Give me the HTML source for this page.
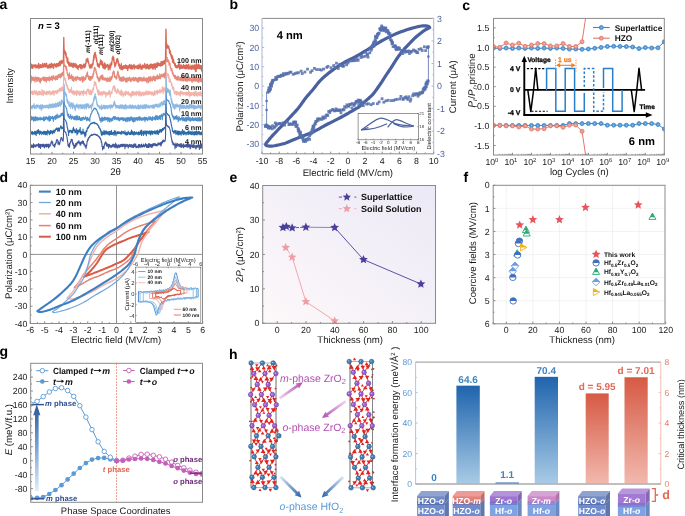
<!DOCTYPE html>
<html><head><meta charset="utf-8"><style>
html,body{margin:0;padding:0;background:#fff;width:685px;height:516px;overflow:hidden}
svg{display:block;font-family:"Liberation Sans", sans-serif;text-rendering:geometricPrecision;will-change:transform}
</style></head><body>
<svg width="685" height="516" viewBox="0 0 685 516" font-family='"Liberation Sans", sans-serif'>
<rect width="685" height="516" fill="#fff"/>
<text x="-0.50" y="9.30" font-size="14" text-anchor="start" fill="#000" font-weight="bold">a</text>
<polyline points="30.50,145.62 30.63,144.58 30.76,143.99 30.89,145.55 31.02,145.15 31.14,146.54 31.27,147.11 31.40,145.84 31.53,145.67 31.66,145.36 31.79,146.00 31.92,147.50 32.05,145.20 32.18,145.76 32.31,145.99 32.43,145.98 32.56,147.11 32.69,146.40 32.82,145.67 32.95,145.88 33.08,145.55 33.21,146.02 33.34,143.78 33.47,147.61 33.60,145.89 33.72,144.01 33.85,145.67 33.98,146.33 34.11,145.70 34.24,145.26 34.37,145.32 34.50,145.99 34.63,144.97 34.76,146.22 34.89,146.87 35.01,146.17 35.14,145.67 35.27,144.97 35.40,146.97 35.53,145.11 35.66,146.40 35.79,146.40 35.92,145.34 36.05,145.58 36.18,146.26 36.30,146.00 36.43,145.80 36.56,144.66 36.69,145.70 36.82,144.84 36.95,145.53 37.08,145.77 37.21,145.01 37.34,145.77 37.47,145.25 37.60,144.86 37.72,145.02 37.85,144.66 37.98,144.82 38.11,144.81 38.24,146.18 38.37,143.97 38.50,143.50 38.63,147.28 38.76,145.55 38.89,147.26 39.01,145.53 39.14,145.28 39.27,144.51 39.40,146.47 39.53,144.22 39.66,145.60 39.79,147.56 39.92,144.64 40.05,147.29 40.18,145.51 40.30,144.96 40.43,144.29 40.56,148.40 40.69,146.93 40.82,146.49 40.95,147.10 41.08,145.26 41.21,145.21 41.34,145.72 41.47,144.64 41.59,145.02 41.72,144.52 41.85,144.74 41.98,144.94 42.11,144.79 42.24,146.36 42.37,146.38 42.50,144.50 42.63,144.32 42.76,144.78 42.88,143.94 43.01,146.21 43.14,146.28 43.27,146.94 43.40,146.40 43.53,144.71 43.66,145.14 43.79,144.69 43.92,144.32 44.05,144.42 44.17,145.59 44.30,145.92 44.43,145.73 44.56,147.83 44.69,145.70 44.82,145.16 44.95,146.32 45.08,145.01 45.21,144.73 45.34,145.76 45.46,146.05 45.59,146.46 45.72,144.20 45.85,144.52 45.98,145.02 46.11,144.58 46.24,145.97 46.37,147.18 46.50,145.66 46.63,145.36 46.75,144.56 46.88,144.18 47.01,146.12 47.14,144.75 47.27,146.34 47.40,144.76 47.53,145.59 47.66,144.86 47.79,144.63 47.92,145.62 48.04,143.93 48.17,146.71 48.30,145.33 48.43,145.72 48.56,147.85 48.69,146.12 48.82,145.22 48.95,144.40 49.08,145.79 49.21,144.29 49.33,144.79 49.46,145.90 49.59,146.47 49.72,146.82 49.85,145.82 49.98,145.37 50.11,145.65 50.24,145.19 50.37,145.01 50.50,144.91 50.62,145.21 50.75,144.65 50.88,142.40 51.01,142.80 51.14,143.19 51.27,141.93 51.40,142.45 51.53,143.04 51.66,143.00 51.79,140.89 51.91,141.73 52.04,143.05 52.17,141.52 52.30,143.24 52.43,143.29 52.56,142.71 52.69,142.16 52.82,144.86 52.95,145.01 53.08,145.49 53.20,144.75 53.33,145.06 53.46,145.43 53.59,145.44 53.72,145.41 53.85,145.72 53.98,145.88 54.11,146.31 54.24,147.13 54.37,145.61 54.49,144.29 54.62,145.92 54.75,144.12 54.88,146.65 55.01,144.31 55.14,144.13 55.27,144.39 55.40,144.81 55.53,143.39 55.66,143.98 55.78,143.43 55.91,143.08 56.04,141.78 56.17,141.78 56.30,142.64 56.43,140.46 56.56,140.19 56.69,139.96 56.82,139.61 56.95,139.38 57.07,139.83 57.20,139.57 57.33,139.78 57.46,140.31 57.59,140.22 57.72,140.15 57.85,141.54 57.98,144.25 58.11,141.70 58.24,141.94 58.36,141.55 58.49,142.94 58.62,143.45 58.75,142.08 58.88,142.71 59.01,142.87 59.14,143.58 59.27,144.92 59.40,143.92 59.53,142.89 59.65,143.26 59.78,144.00 59.91,142.54 60.04,142.31 60.17,141.64 60.30,140.13 60.43,140.07 60.56,140.68 60.69,139.42 60.82,139.07 60.94,138.44 61.07,137.84 61.20,137.44 61.33,137.35 61.46,138.64 61.59,138.51 61.72,137.74 61.85,138.62 61.98,138.38 62.11,138.85 62.23,139.36 62.36,140.65 62.49,139.71 62.62,140.83 62.75,140.47 62.88,140.77 63.01,140.68 63.14,141.06 63.27,139.51 63.40,137.94 63.52,132.78 63.65,125.51 63.78,119.56 63.91,120.30 64.04,125.00 64.17,129.17 64.30,130.66 64.43,131.07 64.56,131.01 64.69,131.34 64.81,131.54 64.94,131.82 65.07,131.60 65.20,131.65 65.33,132.14 65.46,132.11 65.59,132.59 65.72,132.26 65.85,132.92 65.98,133.11 66.10,134.29 66.23,134.26 66.36,134.37 66.49,134.45 66.62,135.41 66.75,135.70 66.88,136.56 67.01,137.13 67.14,138.58 67.27,139.50 67.39,139.86 67.52,141.69 67.65,141.54 67.78,142.29 67.91,144.26 68.04,145.72 68.17,144.32 68.30,144.64 68.43,146.15 68.56,145.04 68.68,146.42 68.81,145.05 68.94,146.20 69.07,146.07 69.20,146.25 69.33,147.42 69.46,143.40 69.59,146.28 69.72,145.78 69.85,143.03 69.97,144.16 70.10,142.59 70.23,142.46 70.36,142.36 70.49,141.72 70.62,142.76 70.75,141.12 70.88,141.05 71.01,140.83 71.14,139.37 71.26,140.82 71.39,140.97 71.52,139.93 71.65,139.43 71.78,140.54 71.91,140.37 72.04,140.61 72.17,140.85 72.30,139.51 72.43,142.73 72.55,143.48 72.68,142.61 72.81,142.94 72.94,144.74 73.07,143.69 73.20,144.88 73.33,143.02 73.46,145.39 73.59,144.36 73.72,144.92 73.84,144.97 73.97,148.60 74.10,147.02 74.23,146.45 74.36,146.85 74.49,145.79 74.62,145.25 74.75,147.61 74.88,147.69 75.01,146.10 75.13,146.91 75.26,145.44 75.39,146.69 75.52,144.86 75.65,143.45 75.78,144.24 75.91,146.47 76.04,145.07 76.17,144.68 76.30,143.17 76.42,144.47 76.55,144.14 76.68,143.05 76.81,143.20 76.94,144.86 77.07,143.57 77.20,143.28 77.33,143.34 77.46,142.89 77.59,142.08 77.71,142.53 77.84,142.28 77.97,143.08 78.10,142.28 78.23,141.08 78.36,142.38 78.49,142.20 78.62,142.34 78.75,142.93 78.88,141.89 79.00,140.78 79.13,142.32 79.26,142.62 79.39,143.02 79.52,142.20 79.65,143.82 79.78,143.05 79.91,143.07 80.04,143.04 80.17,145.15 80.29,143.38 80.42,142.28 80.55,143.15 80.68,144.96 80.81,145.02 80.94,142.39 81.07,143.07 81.20,142.56 81.33,142.77 81.46,141.80 81.58,143.02 81.71,143.18 81.84,142.88 81.97,142.43 82.10,142.59 82.23,141.57 82.36,140.81 82.49,143.23 82.62,141.72 82.75,142.27 82.87,141.38 83.00,142.67 83.13,143.45 83.26,143.23 83.39,143.35 83.52,141.23 83.65,143.30 83.78,144.32 83.91,144.98 84.04,143.92 84.16,143.42 84.29,143.80 84.42,144.43 84.55,144.79 84.68,144.84 84.81,144.36 84.94,144.89 85.07,146.68 85.20,145.75 85.33,146.62 85.45,146.20 85.58,147.20 85.71,145.76 85.84,147.73 85.97,147.78 86.10,148.56 86.23,146.56 86.36,145.14 86.49,145.59 86.62,145.95 86.74,145.38 86.87,143.93 87.00,142.63 87.13,141.13 87.26,142.01 87.39,141.24 87.52,140.08 87.65,139.31 87.78,140.78 87.91,139.94 88.03,140.29 88.16,139.28 88.29,140.04 88.42,138.27 88.55,138.45 88.68,137.57 88.81,137.71 88.94,137.67 89.07,137.57 89.20,137.47 89.32,137.00 89.45,136.55 89.58,137.67 89.71,136.66 89.84,136.58 89.97,136.33 90.10,136.40 90.23,136.03 90.36,135.39 90.49,135.44 90.61,135.55 90.74,135.63 90.87,135.76 91.00,135.69 91.13,135.04 91.26,135.38 91.39,135.44 91.52,135.02 91.65,134.39 91.78,134.85 91.90,135.16 92.03,135.41 92.16,135.20 92.29,135.27 92.42,134.73 92.55,135.02 92.68,134.90 92.81,134.83 92.94,134.75 93.07,134.46 93.19,135.00 93.32,134.37 93.45,134.52 93.58,134.33 93.71,134.20 93.84,134.54 93.97,134.35 94.10,134.55 94.23,134.20 94.36,133.99 94.48,134.50 94.61,134.25 94.74,134.51 94.87,134.59 95.00,134.47 95.13,134.99 95.26,134.86 95.39,134.76 95.52,134.39 95.65,134.41 95.77,134.17 95.90,134.75 96.03,134.54 96.16,134.84 96.29,134.72 96.42,135.02 96.55,135.34 96.68,135.19 96.81,134.80 96.94,135.43 97.06,134.96 97.19,134.85 97.32,135.57 97.45,135.53 97.58,135.46 97.71,135.15 97.84,136.01 97.97,135.74 98.10,136.03 98.23,136.10 98.35,135.98 98.48,136.11 98.61,136.86 98.74,136.44 98.87,136.33 99.00,136.23 99.13,137.07 99.26,136.81 99.39,137.51 99.52,137.32 99.64,137.02 99.77,137.25 99.90,138.51 100.03,138.26 100.16,138.43 100.29,138.42 100.42,138.23 100.55,139.07 100.68,139.22 100.81,139.59 100.93,140.19 101.06,139.69 101.19,141.14 101.32,142.32 101.45,141.61 101.58,141.57 101.71,142.54 101.84,144.55 101.97,143.88 102.10,146.82 102.22,146.67 102.35,146.27 102.48,147.45 102.61,149.86 102.74,148.98 102.87,148.56 103.00,148.55 103.13,146.59 103.26,147.94 103.39,148.02 103.51,146.41 103.64,146.92 103.77,147.11 103.90,145.80 104.03,148.58 104.16,145.86 104.29,146.31 104.42,144.65 104.55,143.79 104.68,144.52 104.80,144.65 104.93,142.88 105.06,144.08 105.19,143.44 105.32,143.31 105.45,143.43 105.58,143.26 105.71,141.92 105.84,142.85 105.97,143.43 106.09,143.98 106.22,143.02 106.35,142.73 106.48,145.81 106.61,144.43 106.74,144.05 106.87,146.16 107.00,143.76 107.13,145.14 107.26,144.35 107.38,144.09 107.51,146.05 107.64,146.11 107.77,144.99 107.90,146.27 108.03,146.52 108.16,144.82 108.29,146.52 108.42,144.36 108.55,148.14 108.67,145.38 108.80,144.29 108.93,144.66 109.06,146.51 109.19,146.50 109.32,145.85 109.45,145.28 109.58,144.42 109.71,146.65 109.84,145.93 109.96,145.38 110.09,145.87 110.22,145.69 110.35,146.02 110.48,146.19 110.61,146.17 110.74,147.35 110.87,145.61 111.00,145.73 111.13,147.79 111.25,146.19 111.38,145.85 111.51,145.54 111.64,146.64 111.77,145.24 111.90,145.56 112.03,146.56 112.16,146.30 112.29,146.25 112.42,146.78 112.54,145.58 112.67,144.25 112.80,144.84 112.93,145.95 113.06,146.26 113.19,145.48 113.32,145.51 113.45,146.32 113.58,146.32 113.71,145.80 113.83,144.12 113.96,145.13 114.09,147.31 114.22,144.70 114.35,144.76 114.48,147.17 114.61,146.01 114.74,145.74 114.87,144.68 115.00,146.06 115.12,145.16 115.25,146.04 115.38,146.88 115.51,145.20 115.64,143.02 115.77,144.77 115.90,144.94 116.03,147.90 116.16,144.42 116.29,144.69 116.41,146.69 116.54,145.57 116.67,147.06 116.80,147.15 116.93,145.22 117.06,144.91 117.19,147.06 117.32,146.21 117.45,146.94 117.58,147.89 117.70,147.32 117.83,146.08 117.96,147.12 118.09,145.53 118.22,146.20 118.35,147.04 118.48,146.81 118.61,144.82 118.74,144.73 118.87,145.94 118.99,145.91 119.12,147.69 119.25,146.24 119.38,145.75 119.51,145.62 119.64,145.48 119.77,145.95 119.90,147.04 120.03,145.75 120.16,145.61 120.28,144.43 120.41,146.54 120.54,145.42 120.67,145.52 120.80,146.65 120.93,144.81 121.06,146.33 121.19,144.66 121.32,145.46 121.45,144.49 121.57,144.41 121.70,145.03 121.83,145.41 121.96,146.47 122.09,144.98 122.22,144.61 122.35,145.84 122.48,145.06 122.61,146.40 122.74,144.99 122.86,146.62 122.99,144.11 123.12,145.17 123.25,146.55 123.38,145.07 123.51,145.02 123.64,145.26 123.77,144.30 123.90,145.69 124.03,145.33 124.15,145.33 124.28,145.92 124.41,144.29 124.54,145.05 124.67,144.91 124.80,145.56 124.93,148.82 125.06,144.70 125.19,146.30 125.32,146.94 125.44,145.11 125.57,146.30 125.70,146.12 125.83,145.41 125.96,146.49 126.09,144.04 126.22,146.70 126.35,145.97 126.48,145.55 126.61,146.07 126.73,145.42 126.86,145.86 126.99,146.01 127.12,145.18 127.25,144.93 127.38,145.28 127.51,146.05 127.64,144.62 127.77,146.59 127.90,145.90 128.02,145.80 128.15,145.51 128.28,148.00 128.41,145.07 128.54,146.56 128.67,145.88 128.80,146.64 128.93,146.45 129.06,145.30 129.19,146.68 129.31,144.89 129.44,145.69 129.57,145.88 129.70,144.31 129.83,146.11 129.96,145.45 130.09,146.12 130.22,146.24 130.35,144.78 130.48,145.67 130.60,146.39 130.73,146.85 130.86,146.40 130.99,145.84 131.12,146.07 131.25,144.77 131.38,147.06 131.51,145.88 131.64,145.41 131.77,146.04 131.89,144.54 132.02,146.73 132.15,146.90 132.28,147.34 132.41,146.59 132.54,146.33 132.67,146.08 132.80,146.44 132.93,145.98 133.06,145.30 133.18,145.20 133.31,146.54 133.44,147.68 133.57,144.88 133.70,144.34 133.83,144.93 133.96,145.83 134.09,144.41 134.22,146.30 134.35,144.39 134.47,145.69 134.60,146.38 134.73,143.68 134.86,146.74 134.99,145.63 135.12,146.51 135.25,146.58 135.38,146.92 135.51,144.29 135.64,145.82 135.76,144.12 135.89,146.34 136.02,146.33 136.15,147.80 136.28,146.44 136.41,146.23 136.54,147.66 136.67,147.03 136.80,146.76 136.93,146.85 137.05,146.51 137.18,146.55 137.31,146.04 137.44,146.87 137.57,147.33 137.70,146.83 137.83,147.02 137.96,146.27 138.09,146.02 138.22,146.90 138.34,145.48 138.47,144.62 138.60,146.02 138.73,147.83 138.86,146.83 138.99,144.50 139.12,145.73 139.25,145.99 139.38,145.27 139.51,144.59 139.63,147.02 139.76,145.79 139.89,146.70 140.02,145.99 140.15,145.37 140.28,145.95 140.41,145.80 140.54,145.11 140.67,147.26 140.80,146.18 140.92,146.45 141.05,146.13 141.18,144.69 141.31,146.47 141.44,144.16 141.57,146.83 141.70,145.35 141.83,145.63 141.96,145.79 142.09,146.12 142.21,145.37 142.34,147.00 142.47,145.12 142.60,146.18 142.73,146.89 142.86,145.61 142.99,146.13 143.12,145.82 143.25,146.24 143.38,145.64 143.50,146.49 143.63,144.14 143.76,145.72 143.89,145.89 144.02,145.10 144.15,145.06 144.28,146.08 144.41,146.84 144.54,146.79 144.67,145.81 144.79,146.41 144.92,146.16 145.05,145.26 145.18,144.66 145.31,145.00 145.44,145.76 145.57,143.57 145.70,144.79 145.83,144.35 145.96,145.81 146.08,145.94 146.21,144.49 146.34,144.86 146.47,147.18 146.60,146.19 146.73,144.83 146.86,147.38 146.99,144.78 147.12,146.12 147.25,146.10 147.37,145.37 147.50,146.35 147.63,147.06 147.76,146.29 147.89,147.50 148.02,145.15 148.15,145.01 148.28,144.29 148.41,143.84 148.54,147.45 148.66,143.67 148.79,144.91 148.92,145.52 149.05,144.60 149.18,144.51 149.31,145.66 149.44,144.76 149.57,143.89 149.70,144.92 149.83,147.23 149.95,144.59 150.08,145.91 150.21,144.74 150.34,146.45 150.47,144.49 150.60,146.35 150.73,145.69 150.86,144.29 150.99,145.99 151.12,146.98 151.24,145.74 151.37,147.05 151.50,145.72 151.63,146.48 151.76,144.43 151.89,147.45 152.02,145.00 152.15,145.65 152.28,143.94 152.41,145.82 152.53,146.66 152.66,144.72 152.79,146.20 152.92,145.03 153.05,145.02 153.18,144.84 153.31,143.46 153.44,145.60 153.57,145.19 153.70,145.06 153.82,144.82 153.95,145.38 154.08,144.45 154.21,144.74 154.34,143.78 154.47,145.28 154.60,145.12 154.73,143.60 154.86,143.42 154.99,144.39 155.11,144.23 155.24,144.59 155.37,143.81 155.50,145.22 155.63,145.77 155.76,145.07 155.89,145.79 156.02,145.34 156.15,144.30 156.28,144.48 156.40,145.21 156.53,145.72 156.66,145.00 156.79,145.09 156.92,145.00 157.05,145.04 157.18,145.97 157.31,144.26 157.44,144.05 157.57,144.29 157.69,144.07 157.82,143.58 157.95,144.67 158.08,142.75 158.21,144.68 158.34,143.38 158.47,144.05 158.60,143.63 158.73,144.98 158.86,143.30 158.98,143.22 159.11,143.54 159.24,143.54 159.37,143.01 159.50,143.57 159.63,143.53 159.76,144.04 159.89,143.89 160.02,144.99 160.15,144.92 160.27,144.08 160.40,144.45 160.53,142.61 160.66,144.15 160.79,145.70 160.92,145.93 161.05,142.56 161.18,142.57 161.31,145.08 161.44,143.06 161.56,143.46 161.69,143.84 161.82,142.69 161.95,141.36 162.08,141.84 162.21,142.41 162.34,141.04 162.47,142.97 162.60,140.68 162.73,141.35 162.85,141.67 162.98,140.65 163.11,141.01 163.24,139.75 163.37,141.70 163.50,141.31 163.63,140.96 163.76,141.36 163.89,141.20 164.02,141.58 164.14,141.40 164.27,141.73 164.40,140.62 164.53,140.87 164.66,141.00 164.79,141.24 164.92,140.84 165.05,141.00 165.18,140.67 165.31,139.65 165.43,139.11 165.56,135.10 165.69,127.55 165.82,118.82 165.95,114.43 166.08,116.70 166.21,121.07 166.34,123.69 166.47,124.81 166.60,124.99 166.72,125.32 166.85,125.54 166.98,125.29 167.11,125.61 167.24,125.73 167.37,125.86 167.50,125.94 167.63,126.24 167.76,126.15 167.89,126.71 168.01,126.47 168.14,126.75 168.27,126.96 168.40,127.12 168.53,126.55 168.66,126.41 168.79,126.74 168.92,126.92 169.05,127.22 169.18,127.37 169.30,127.63 169.43,128.15 169.56,128.37 169.69,128.75 169.82,129.00 169.95,129.56 170.08,130.07 170.21,130.70 170.34,131.80 170.47,132.26 170.59,133.31 170.72,134.34 170.85,134.74 170.98,135.45 171.11,136.61 171.24,137.22 171.37,137.99 171.50,137.95 171.63,138.87 171.76,140.21 171.88,140.44 172.01,141.65 172.14,142.36 172.27,141.24 172.40,141.15 172.53,142.11 172.66,142.57 172.79,144.13 172.92,144.36 173.05,143.09 173.17,143.09 173.30,142.72 173.43,144.44 173.56,144.27 173.69,144.00 173.82,145.10 173.95,143.46 174.08,144.76 174.21,144.03 174.34,144.69 174.46,144.00 174.59,144.15 174.72,144.52 174.85,144.99 174.98,148.71 175.11,145.66 175.24,144.61 175.37,144.60 175.50,145.24 175.63,145.45 175.75,146.88 175.88,143.08 176.01,145.17 176.14,146.76 176.27,147.46 176.40,145.92 176.53,145.47 176.66,144.29 176.79,144.49 176.92,144.73 177.04,145.39 177.17,143.95 177.30,143.60 177.43,145.82 177.56,145.38 177.69,146.12 177.82,145.94 177.95,144.26 178.08,144.36 178.21,145.15 178.33,144.70 178.46,145.46 178.59,144.35 178.72,145.14 178.85,145.45 178.98,146.21 179.11,145.56 179.24,144.12 179.37,145.78 179.50,145.52 179.62,145.97 179.75,146.66 179.88,146.13 180.01,146.29 180.14,146.26 180.27,145.37 180.40,144.33 180.53,145.36 180.66,145.46 180.79,143.66 180.91,147.12 181.04,144.82 181.17,147.49 181.30,143.62 181.43,144.97 181.56,146.71 181.69,146.43 181.82,144.85 181.95,145.76 182.08,145.20 182.20,146.90 182.33,145.94 182.46,146.21 182.59,145.26 182.72,145.38 182.85,145.09 182.98,145.87 183.11,144.86 183.24,143.80 183.37,146.34 183.49,147.74 183.62,145.80 183.75,146.26 183.88,146.07 184.01,144.63 184.14,145.11 184.27,146.65 184.40,145.44 184.53,146.26 184.66,146.83 184.78,146.45 184.91,145.65 185.04,145.90 185.17,145.86 185.30,146.36 185.43,145.16 185.56,146.35 185.69,145.40 185.82,145.21 185.95,146.61 186.07,144.18 186.20,146.20 186.33,146.03 186.46,146.69 186.59,145.52 186.72,144.24 186.85,146.26 186.98,144.24 187.11,146.60 187.24,147.42 187.36,145.01 187.49,145.13 187.62,146.65 187.75,144.06 187.88,144.88 188.01,145.28 188.14,146.22 188.27,145.93 188.40,145.24 188.53,144.47 188.65,146.70 188.78,143.81 188.91,147.20 189.04,145.00 189.17,144.30 189.30,146.72 189.43,145.96 189.56,144.73 189.69,146.31 189.82,145.36 189.94,146.54 190.07,145.79 190.20,148.69 190.33,148.36 190.46,144.83 190.59,148.58 190.72,145.44 190.85,145.34 190.98,144.92 191.11,144.75 191.23,145.19 191.36,145.84 191.49,145.14 191.62,145.28 191.75,146.82 191.88,144.68 192.01,145.79 192.14,146.93 192.27,145.37 192.40,146.45 192.52,145.91 192.65,147.43 192.78,145.70 192.91,145.56 193.04,144.81 193.17,146.24 193.30,145.82 193.43,146.81 193.56,145.18 193.69,147.64 193.81,143.97 193.94,146.44 194.07,145.58 194.20,146.21 194.33,146.63 194.46,145.70 194.59,145.98 194.72,145.71 194.85,146.20 194.98,145.78 195.10,146.31 195.23,147.82 195.36,145.93 195.49,146.41 195.62,145.76 195.75,147.89 195.88,149.01 196.01,145.53 196.14,147.60 196.27,148.54 196.39,145.79 196.52,146.98 196.65,145.75 196.78,145.34 196.91,145.22 197.04,147.00 197.17,146.31 197.30,147.28 197.43,145.64 197.56,146.88 197.68,145.10 197.81,145.40 197.94,146.47 198.07,146.84 198.20,146.84 198.33,146.11 198.46,145.97 198.59,144.43 198.72,145.50 198.85,147.04 198.97,147.17 199.10,146.49 199.23,145.78 199.36,149.34 199.49,145.39 199.62,146.65 199.75,145.48 199.88,145.46 200.01,147.29 200.14,144.78 200.26,148.46 200.39,147.05 200.52,144.59 200.65,145.75 200.78,147.47 200.91,146.11 201.04,144.27 201.17,146.58 201.30,144.32 201.43,147.12 201.55,147.93 201.68,145.70 201.81,146.63 201.94,144.15 202.07,144.80 202.20,147.13 202.33,148.01 202.46,145.88" fill="none" stroke="#43579b" stroke-width="1.1" stroke-linejoin="round" stroke-linecap="round"/>
<polyline points="30.50,131.66 30.63,130.25 30.76,132.84 30.89,133.59 31.02,132.60 31.14,132.39 31.27,133.37 31.40,133.29 31.53,133.97 31.66,133.43 31.79,132.98 31.92,133.98 32.05,131.50 32.18,132.19 32.31,133.36 32.43,131.50 32.56,133.47 32.69,132.71 32.82,133.08 32.95,134.71 33.08,132.54 33.21,133.26 33.34,132.69 33.47,133.23 33.60,133.16 33.72,132.98 33.85,132.43 33.98,132.71 34.11,134.01 34.24,132.89 34.37,131.32 34.50,132.92 34.63,132.38 34.76,133.63 34.89,131.84 35.01,133.07 35.14,134.50 35.27,132.17 35.40,132.95 35.53,131.60 35.66,132.39 35.79,131.20 35.92,132.25 36.05,132.70 36.18,135.48 36.30,133.21 36.43,133.60 36.56,132.73 36.69,132.42 36.82,131.46 36.95,132.62 37.08,132.02 37.21,130.24 37.34,133.08 37.47,132.26 37.60,132.51 37.72,132.25 37.85,132.89 37.98,133.59 38.11,132.78 38.24,131.90 38.37,129.64 38.50,131.62 38.63,130.84 38.76,132.64 38.89,131.01 39.01,131.05 39.14,132.91 39.27,131.79 39.40,132.97 39.53,131.71 39.66,134.75 39.79,134.07 39.92,130.95 40.05,132.04 40.18,132.35 40.30,132.60 40.43,133.57 40.56,132.06 40.69,132.50 40.82,131.18 40.95,131.47 41.08,131.64 41.21,132.35 41.34,132.43 41.47,132.28 41.59,132.71 41.72,133.13 41.85,134.72 41.98,132.29 42.11,132.40 42.24,133.36 42.37,133.38 42.50,132.74 42.63,132.23 42.76,133.49 42.88,132.30 43.01,132.27 43.14,131.50 43.27,132.17 43.40,131.46 43.53,131.59 43.66,132.46 43.79,134.38 43.92,131.34 44.05,131.76 44.17,132.57 44.30,133.06 44.43,132.23 44.56,132.89 44.69,133.81 44.82,131.36 44.95,132.46 45.08,131.44 45.21,133.67 45.34,132.72 45.46,134.62 45.59,133.21 45.72,133.52 45.85,132.52 45.98,131.60 46.11,133.25 46.24,133.12 46.37,134.26 46.50,134.05 46.63,131.85 46.75,131.92 46.88,131.54 47.01,131.36 47.14,134.96 47.27,131.82 47.40,132.21 47.53,131.81 47.66,132.69 47.79,130.17 47.92,131.52 48.04,132.11 48.17,132.84 48.30,131.99 48.43,132.93 48.56,133.01 48.69,132.00 48.82,131.26 48.95,131.56 49.08,133.14 49.21,133.59 49.33,134.62 49.46,132.54 49.59,131.77 49.72,132.70 49.85,132.37 49.98,131.80 50.11,133.84 50.24,131.83 50.37,130.65 50.50,132.15 50.62,131.06 50.75,133.37 50.88,130.55 51.01,130.68 51.14,131.70 51.27,132.04 51.40,132.00 51.53,132.22 51.66,132.58 51.79,131.38 51.91,133.00 52.04,132.26 52.17,130.83 52.30,132.45 52.43,131.37 52.56,133.69 52.69,133.89 52.82,131.23 52.95,132.20 53.08,132.57 53.20,132.32 53.33,130.89 53.46,132.18 53.59,132.45 53.72,131.55 53.85,130.16 53.98,132.28 54.11,131.29 54.24,132.86 54.37,131.77 54.49,130.77 54.62,132.10 54.75,131.07 54.88,131.37 55.01,130.43 55.14,130.44 55.27,129.35 55.40,130.86 55.53,129.40 55.66,129.66 55.78,129.65 55.91,128.82 56.04,129.38 56.17,129.21 56.30,129.29 56.43,128.01 56.56,129.25 56.69,127.94 56.82,128.94 56.95,129.55 57.07,128.04 57.20,128.72 57.33,129.17 57.46,131.08 57.59,129.57 57.72,130.03 57.85,128.98 57.98,129.71 58.11,128.99 58.24,128.29 58.36,129.87 58.49,130.94 58.62,129.10 58.75,127.81 58.88,129.53 59.01,130.57 59.14,129.74 59.27,130.86 59.40,131.31 59.53,130.10 59.65,128.63 59.78,129.31 59.91,128.61 60.04,127.93 60.17,127.98 60.30,127.49 60.43,127.74 60.56,126.24 60.69,127.02 60.82,125.79 60.94,126.42 61.07,126.82 61.20,126.37 61.33,126.68 61.46,127.84 61.59,127.27 61.72,128.97 61.85,127.89 61.98,127.73 62.11,128.40 62.23,127.63 62.36,128.26 62.49,127.92 62.62,128.37 62.75,127.81 62.88,127.48 63.01,127.65 63.14,128.01 63.27,126.81 63.40,124.77 63.52,118.76 63.65,109.23 63.78,101.70 63.91,102.83 64.04,110.03 64.17,116.08 64.30,118.60 64.43,119.36 64.56,119.47 64.69,119.49 64.81,119.67 64.94,119.70 65.07,119.70 65.20,119.70 65.33,120.18 65.46,120.04 65.59,120.45 65.72,120.65 65.85,120.82 65.98,120.95 66.10,121.64 66.23,122.06 66.36,122.76 66.49,122.13 66.62,123.06 66.75,123.61 66.88,124.79 67.01,124.90 67.14,126.29 67.27,127.53 67.39,127.96 67.52,127.69 67.65,129.20 67.78,129.49 67.91,129.02 68.04,131.35 68.17,130.75 68.30,130.71 68.43,132.58 68.56,135.38 68.68,132.30 68.81,132.45 68.94,131.24 69.07,132.75 69.20,131.78 69.33,132.29 69.46,130.91 69.59,130.36 69.72,131.36 69.85,130.51 69.97,131.13 70.10,131.18 70.23,130.40 70.36,130.36 70.49,131.08 70.62,130.68 70.75,130.84 70.88,130.38 71.01,132.50 71.14,131.03 71.26,132.42 71.39,132.22 71.52,131.22 71.65,130.79 71.78,132.80 71.91,131.32 72.04,130.46 72.17,132.88 72.30,131.46 72.43,131.20 72.55,131.56 72.68,130.14 72.81,132.61 72.94,128.67 73.07,130.54 73.20,130.84 73.33,129.10 73.46,127.26 73.59,128.47 73.72,129.89 73.84,129.21 73.97,130.78 74.10,129.83 74.23,130.08 74.36,129.39 74.49,130.73 74.62,131.34 74.75,129.92 74.88,129.99 75.01,132.68 75.13,131.73 75.26,130.90 75.39,131.88 75.52,132.61 75.65,132.35 75.78,131.15 75.91,131.07 76.04,131.67 76.17,130.58 76.30,128.64 76.42,131.59 76.55,132.18 76.68,132.40 76.81,131.68 76.94,134.91 77.07,131.77 77.20,132.13 77.33,130.13 77.46,132.55 77.59,130.46 77.71,133.69 77.84,132.91 77.97,133.49 78.10,130.64 78.23,131.85 78.36,132.02 78.49,131.08 78.62,131.15 78.75,131.47 78.88,132.02 79.00,130.05 79.13,129.76 79.26,131.63 79.39,131.54 79.52,130.35 79.65,130.64 79.78,130.92 79.91,131.94 80.04,129.65 80.17,127.45 80.29,132.79 80.42,131.71 80.55,131.55 80.68,131.06 80.81,130.98 80.94,131.59 81.07,134.39 81.20,133.33 81.33,131.66 81.46,133.38 81.58,132.05 81.71,132.59 81.84,132.36 81.97,131.78 82.10,134.01 82.23,133.01 82.36,133.66 82.49,131.49 82.62,133.46 82.75,132.72 82.87,132.94 83.00,129.06 83.13,133.15 83.26,133.19 83.39,132.23 83.52,131.84 83.65,131.81 83.78,132.70 83.91,133.87 84.04,132.18 84.16,134.00 84.29,132.35 84.42,133.72 84.55,135.22 84.68,135.34 84.81,132.62 84.94,132.28 85.07,136.91 85.20,134.61 85.33,134.41 85.45,135.05 85.58,134.03 85.71,135.60 85.84,134.27 85.97,134.55 86.10,130.69 86.23,132.12 86.36,130.56 86.49,131.42 86.62,131.45 86.74,131.73 86.87,131.66 87.00,130.03 87.13,129.42 87.26,128.29 87.39,128.01 87.52,128.87 87.65,127.72 87.78,127.79 87.91,126.98 88.03,128.41 88.16,127.16 88.29,127.32 88.42,126.99 88.55,126.61 88.68,127.75 88.81,126.62 88.94,126.42 89.07,125.84 89.20,125.33 89.32,125.70 89.45,125.42 89.58,125.81 89.71,125.15 89.84,124.89 89.97,124.45 90.10,124.69 90.23,124.13 90.36,124.20 90.49,123.99 90.61,124.18 90.74,123.60 90.87,123.46 91.00,123.56 91.13,123.85 91.26,122.91 91.39,123.15 91.52,123.37 91.65,123.36 91.78,123.52 91.90,123.50 92.03,123.56 92.16,123.48 92.29,123.42 92.42,123.15 92.55,122.80 92.68,123.23 92.81,123.06 92.94,122.59 93.07,122.94 93.19,122.61 93.32,123.05 93.45,122.29 93.58,122.76 93.71,122.78 93.84,123.11 93.97,122.75 94.10,122.69 94.23,122.87 94.36,122.23 94.48,122.36 94.61,123.21 94.74,122.89 94.87,123.95 95.00,122.87 95.13,123.22 95.26,123.37 95.39,123.31 95.52,123.46 95.65,123.45 95.77,123.45 95.90,123.37 96.03,123.25 96.16,123.75 96.29,123.89 96.42,124.00 96.55,123.52 96.68,124.06 96.81,124.25 96.94,123.57 97.06,124.09 97.19,124.14 97.32,124.47 97.45,124.59 97.58,124.75 97.71,125.33 97.84,125.04 97.97,124.99 98.10,125.13 98.23,125.61 98.35,125.26 98.48,126.10 98.61,126.14 98.74,127.78 98.87,127.83 99.00,126.63 99.13,127.13 99.26,127.56 99.39,128.14 99.52,127.78 99.64,128.59 99.77,128.07 99.90,128.61 100.03,129.50 100.16,129.55 100.29,128.91 100.42,129.89 100.55,131.11 100.68,130.84 100.81,131.13 100.93,130.19 101.06,133.50 101.19,130.91 101.32,133.53 101.45,135.32 101.58,135.12 101.71,134.16 101.84,132.41 101.97,133.63 102.10,133.89 102.22,133.89 102.35,132.64 102.48,134.94 102.61,131.75 102.74,132.90 102.87,133.34 103.00,134.15 103.13,132.66 103.26,133.59 103.39,132.10 103.51,133.20 103.64,134.43 103.77,132.45 103.90,132.02 104.03,130.28 104.16,132.55 104.29,133.04 104.42,133.62 104.55,132.15 104.68,132.18 104.80,134.81 104.93,134.81 105.06,132.73 105.19,131.28 105.32,132.99 105.45,133.58 105.58,132.14 105.71,133.06 105.84,133.31 105.97,133.66 106.09,132.36 106.22,130.82 106.35,134.06 106.48,133.11 106.61,132.85 106.74,132.04 106.87,133.82 107.00,133.99 107.13,131.68 107.26,133.63 107.38,134.21 107.51,132.89 107.64,133.13 107.77,131.77 107.90,133.64 108.03,132.14 108.16,131.84 108.29,133.83 108.42,131.74 108.55,132.28 108.67,132.87 108.80,134.69 108.93,131.99 109.06,134.53 109.19,133.01 109.32,135.27 109.45,131.83 109.58,131.59 109.71,132.99 109.84,132.07 109.96,133.35 110.09,132.20 110.22,134.23 110.35,132.27 110.48,132.51 110.61,131.65 110.74,134.45 110.87,131.66 111.00,133.24 111.13,131.41 111.25,131.68 111.38,130.24 111.51,132.29 111.64,134.45 111.77,132.90 111.90,133.70 112.03,134.19 112.16,134.18 112.29,133.26 112.42,134.52 112.54,132.89 112.67,132.55 112.80,132.41 112.93,132.99 113.06,133.96 113.19,133.93 113.32,133.70 113.45,133.62 113.58,132.34 113.71,132.60 113.83,132.11 113.96,132.47 114.09,135.40 114.22,134.50 114.35,130.50 114.48,133.48 114.61,132.40 114.74,132.43 114.87,132.65 115.00,134.03 115.12,133.49 115.25,132.65 115.38,131.36 115.51,131.71 115.64,133.49 115.77,130.93 115.90,132.79 116.03,135.64 116.16,133.27 116.29,133.96 116.41,133.07 116.54,133.51 116.67,133.67 116.80,133.12 116.93,132.66 117.06,133.21 117.19,132.81 117.32,133.38 117.45,133.92 117.58,132.39 117.70,131.53 117.83,132.96 117.96,131.76 118.09,131.49 118.22,132.85 118.35,133.56 118.48,132.07 118.61,132.94 118.74,133.01 118.87,133.49 118.99,133.24 119.12,132.25 119.25,132.98 119.38,132.23 119.51,132.93 119.64,132.76 119.77,133.40 119.90,131.95 120.03,132.72 120.16,132.85 120.28,132.21 120.41,134.04 120.54,133.32 120.67,132.63 120.80,132.97 120.93,133.76 121.06,132.88 121.19,132.79 121.32,132.09 121.45,131.02 121.57,131.99 121.70,132.91 121.83,134.27 121.96,132.54 122.09,133.52 122.22,132.68 122.35,132.92 122.48,131.88 122.61,132.21 122.74,132.74 122.86,132.65 122.99,131.43 123.12,132.46 123.25,132.68 123.38,131.58 123.51,132.60 123.64,132.90 123.77,133.76 123.90,133.58 124.03,132.65 124.15,133.37 124.28,133.63 124.41,133.03 124.54,132.94 124.67,133.36 124.80,133.45 124.93,130.77 125.06,132.72 125.19,134.51 125.32,132.70 125.44,133.48 125.57,133.26 125.70,133.32 125.83,133.78 125.96,133.11 126.09,133.14 126.22,135.19 126.35,133.46 126.48,132.28 126.61,133.15 126.73,132.46 126.86,133.14 126.99,132.96 127.12,134.46 127.25,133.10 127.38,133.06 127.51,134.81 127.64,133.88 127.77,133.41 127.90,134.62 128.02,132.89 128.15,130.95 128.28,132.74 128.41,131.91 128.54,131.94 128.67,133.03 128.80,133.22 128.93,132.64 129.06,133.10 129.19,132.73 129.31,132.66 129.44,133.12 129.57,134.57 129.70,134.13 129.83,134.50 129.96,132.79 130.09,134.59 130.22,132.60 130.35,134.35 130.48,133.20 130.60,134.57 130.73,132.36 130.86,133.06 130.99,133.52 131.12,131.12 131.25,132.21 131.38,133.96 131.51,130.00 131.64,131.94 131.77,130.77 131.89,133.53 132.02,132.15 132.15,134.29 132.28,132.52 132.41,133.32 132.54,134.31 132.67,133.94 132.80,131.67 132.93,132.94 133.06,134.15 133.18,134.96 133.31,132.08 133.44,134.15 133.57,134.70 133.70,134.29 133.83,134.40 133.96,132.26 134.09,134.92 134.22,132.96 134.35,133.25 134.47,131.58 134.60,132.38 134.73,132.56 134.86,132.14 134.99,133.68 135.12,133.43 135.25,134.14 135.38,133.37 135.51,133.24 135.64,132.97 135.76,133.84 135.89,134.56 136.02,133.73 136.15,132.87 136.28,132.26 136.41,131.95 136.54,132.26 136.67,132.87 136.80,132.64 136.93,132.24 137.05,133.61 137.18,133.77 137.31,132.96 137.44,134.11 137.57,133.40 137.70,133.03 137.83,134.03 137.96,132.92 138.09,133.03 138.22,134.85 138.34,133.44 138.47,133.10 138.60,131.91 138.73,132.35 138.86,133.23 138.99,132.86 139.12,132.15 139.25,133.11 139.38,134.54 139.51,133.68 139.63,132.83 139.76,134.03 139.89,134.64 140.02,132.04 140.15,132.04 140.28,132.38 140.41,133.48 140.54,130.68 140.67,131.35 140.80,133.60 140.92,133.88 141.05,132.45 141.18,132.11 141.31,130.50 141.44,131.66 141.57,135.43 141.70,129.96 141.83,133.04 141.96,133.78 142.09,132.35 142.21,133.14 142.34,133.41 142.47,133.68 142.60,133.60 142.73,132.54 142.86,133.41 142.99,132.25 143.12,131.32 143.25,133.79 143.38,135.39 143.50,131.98 143.63,132.63 143.76,133.15 143.89,133.95 144.02,132.91 144.15,130.74 144.28,132.07 144.41,132.76 144.54,133.85 144.67,131.72 144.79,132.38 144.92,132.53 145.05,133.21 145.18,132.80 145.31,133.88 145.44,133.15 145.57,130.98 145.70,131.43 145.83,132.28 145.96,132.14 146.08,133.66 146.21,132.85 146.34,135.71 146.47,133.37 146.60,130.97 146.73,133.41 146.86,131.31 146.99,132.02 147.12,132.61 147.25,131.74 147.37,131.12 147.50,131.88 147.63,132.91 147.76,132.94 147.89,132.44 148.02,133.45 148.15,131.93 148.28,133.85 148.41,133.66 148.54,132.65 148.66,131.58 148.79,131.29 148.92,132.29 149.05,131.66 149.18,133.33 149.31,130.82 149.44,132.86 149.57,131.88 149.70,132.35 149.83,132.77 149.95,133.24 150.08,131.35 150.21,134.83 150.34,134.87 150.47,133.93 150.60,132.00 150.73,133.76 150.86,134.08 150.99,134.83 151.12,130.83 151.24,131.10 151.37,132.87 151.50,133.38 151.63,132.19 151.76,131.72 151.89,131.41 152.02,130.95 152.15,130.93 152.28,131.57 152.41,133.00 152.53,133.34 152.66,134.44 152.79,134.31 152.92,132.47 153.05,131.48 153.18,131.63 153.31,131.38 153.44,131.64 153.57,132.16 153.70,131.91 153.82,131.42 153.95,131.38 154.08,131.21 154.21,133.33 154.34,132.10 154.47,131.12 154.60,133.33 154.73,131.10 154.86,133.64 154.99,131.84 155.11,132.54 155.24,132.62 155.37,134.00 155.50,133.40 155.63,132.96 155.76,132.34 155.89,131.47 156.02,130.80 156.15,131.88 156.28,132.59 156.40,132.19 156.53,131.99 156.66,133.06 156.79,131.03 156.92,134.25 157.05,131.22 157.18,131.63 157.31,130.08 157.44,133.64 157.57,130.92 157.69,131.92 157.82,133.73 157.95,131.75 158.08,133.02 158.21,131.23 158.34,134.42 158.47,132.38 158.60,131.02 158.73,132.43 158.86,132.01 158.98,131.47 159.11,131.56 159.24,132.34 159.37,131.79 159.50,130.41 159.63,130.64 159.76,132.71 159.89,129.30 160.02,129.48 160.15,129.82 160.27,129.74 160.40,130.67 160.53,130.21 160.66,131.36 160.79,130.47 160.92,129.57 161.05,131.11 161.18,130.36 161.31,130.91 161.44,132.19 161.56,131.21 161.69,131.56 161.82,129.25 161.95,129.99 162.08,129.14 162.21,130.23 162.34,130.27 162.47,128.59 162.60,128.87 162.73,130.70 162.85,130.02 162.98,128.41 163.11,128.92 163.24,129.05 163.37,128.24 163.50,128.09 163.63,129.42 163.76,129.77 163.89,128.68 164.02,128.47 164.14,128.00 164.27,128.53 164.40,127.38 164.53,128.27 164.66,128.08 164.79,128.25 164.92,128.25 165.05,128.21 165.18,127.40 165.31,128.27 165.43,126.40 165.56,122.34 165.69,112.98 165.82,101.89 165.95,96.34 166.08,100.00 166.21,106.84 166.34,111.48 166.47,112.76 166.60,113.17 166.72,113.29 166.85,113.70 166.98,113.36 167.11,113.41 167.24,113.46 167.37,114.22 167.50,114.14 167.63,114.34 167.76,114.31 167.89,114.77 168.01,114.77 168.14,114.97 168.27,115.22 168.40,115.21 168.53,114.70 168.66,114.73 168.79,115.08 168.92,115.53 169.05,115.69 169.18,115.66 169.30,116.09 169.43,116.33 169.56,116.74 169.69,117.16 169.82,117.50 169.95,118.06 170.08,118.92 170.21,118.88 170.34,120.14 170.47,119.88 170.59,120.83 170.72,121.35 170.85,122.58 170.98,122.88 171.11,122.76 171.24,124.36 171.37,124.76 171.50,125.37 171.63,125.76 171.76,126.58 171.88,127.19 172.01,128.19 172.14,127.91 172.27,128.68 172.40,131.11 172.53,130.03 172.66,131.02 172.79,131.66 172.92,131.05 173.05,130.91 173.17,131.43 173.30,131.12 173.43,131.78 173.56,132.65 173.69,133.19 173.82,133.27 173.95,132.37 174.08,133.17 174.21,131.96 174.34,131.62 174.46,131.36 174.59,131.36 174.72,130.35 174.85,131.04 174.98,131.44 175.11,132.11 175.24,132.33 175.37,130.57 175.50,131.81 175.63,131.62 175.75,134.29 175.88,132.60 176.01,133.60 176.14,134.28 176.27,132.86 176.40,131.89 176.53,131.99 176.66,132.33 176.79,133.88 176.92,130.61 177.04,133.47 177.17,132.84 177.30,133.01 177.43,131.84 177.56,133.05 177.69,131.59 177.82,132.68 177.95,135.02 178.08,135.03 178.21,132.15 178.33,133.70 178.46,133.33 178.59,131.07 178.72,133.65 178.85,133.77 178.98,133.96 179.11,132.87 179.24,134.60 179.37,132.13 179.50,133.39 179.62,131.34 179.75,133.01 179.88,133.11 180.01,132.36 180.14,131.57 180.27,134.08 180.40,132.80 180.53,132.43 180.66,133.13 180.79,132.63 180.91,132.34 181.04,132.98 181.17,135.30 181.30,132.83 181.43,133.75 181.56,132.06 181.69,133.26 181.82,131.39 181.95,131.94 182.08,131.35 182.20,132.68 182.33,132.53 182.46,129.49 182.59,133.21 182.72,132.14 182.85,131.75 182.98,134.14 183.11,131.13 183.24,131.84 183.37,132.46 183.49,134.65 183.62,134.32 183.75,134.29 183.88,131.84 184.01,130.82 184.14,132.76 184.27,133.38 184.40,134.13 184.53,131.46 184.66,131.99 184.78,133.26 184.91,132.49 185.04,132.82 185.17,133.12 185.30,132.20 185.43,132.49 185.56,132.51 185.69,134.02 185.82,133.03 185.95,134.71 186.07,135.09 186.20,133.03 186.33,133.10 186.46,133.85 186.59,132.30 186.72,133.06 186.85,132.63 186.98,132.78 187.11,132.79 187.24,132.73 187.36,132.16 187.49,132.06 187.62,132.16 187.75,134.13 187.88,133.09 188.01,133.40 188.14,134.19 188.27,130.85 188.40,133.84 188.53,132.18 188.65,133.63 188.78,134.63 188.91,133.46 189.04,131.06 189.17,132.38 189.30,132.13 189.43,132.83 189.56,132.29 189.69,133.80 189.82,133.38 189.94,132.07 190.07,133.71 190.20,132.58 190.33,132.10 190.46,132.11 190.59,131.79 190.72,133.37 190.85,133.01 190.98,134.41 191.11,133.72 191.23,132.09 191.36,133.26 191.49,134.42 191.62,132.58 191.75,132.72 191.88,133.10 192.01,134.77 192.14,130.95 192.27,133.33 192.40,133.06 192.52,132.97 192.65,133.77 192.78,133.96 192.91,133.08 193.04,133.80 193.17,132.54 193.30,134.22 193.43,133.20 193.56,132.05 193.69,134.35 193.81,132.77 193.94,135.03 194.07,131.62 194.20,134.27 194.33,133.05 194.46,133.19 194.59,132.79 194.72,134.90 194.85,133.82 194.98,131.70 195.10,133.95 195.23,131.76 195.36,134.03 195.49,133.61 195.62,133.62 195.75,134.27 195.88,132.79 196.01,134.11 196.14,131.40 196.27,134.74 196.39,131.98 196.52,133.38 196.65,130.79 196.78,132.46 196.91,132.14 197.04,132.97 197.17,134.89 197.30,133.87 197.43,132.69 197.56,132.43 197.68,132.79 197.81,131.72 197.94,132.81 198.07,133.10 198.20,133.34 198.33,133.05 198.46,131.67 198.59,133.18 198.72,131.23 198.85,133.87 198.97,134.11 199.10,134.65 199.23,133.75 199.36,131.44 199.49,134.36 199.62,134.29 199.75,134.08 199.88,132.43 200.01,133.80 200.14,132.88 200.26,133.46 200.39,132.75 200.52,132.25 200.65,134.71 200.78,132.68 200.91,133.34 201.04,133.39 201.17,133.21 201.30,133.16 201.43,134.72 201.55,132.28 201.68,132.48 201.81,133.84 201.94,132.59 202.07,131.36 202.20,132.99 202.33,133.77 202.46,135.11" fill="none" stroke="#2c6aa7" stroke-width="1.1" stroke-linejoin="round" stroke-linecap="round"/>
<polyline points="30.50,119.26 30.63,117.82 30.76,119.60 30.89,117.17 31.02,119.07 31.14,120.14 31.27,116.27 31.40,118.23 31.53,118.52 31.66,118.80 31.79,117.26 31.92,117.69 32.05,118.92 32.18,119.71 32.31,117.24 32.43,119.27 32.56,119.70 32.69,117.39 32.82,118.95 32.95,117.81 33.08,118.51 33.21,118.17 33.34,118.33 33.47,120.97 33.60,116.81 33.72,118.95 33.85,117.13 33.98,117.74 34.11,117.51 34.24,118.62 34.37,119.82 34.50,119.14 34.63,120.39 34.76,120.65 34.89,118.62 35.01,119.11 35.14,116.72 35.27,116.72 35.40,117.25 35.53,120.73 35.66,118.90 35.79,119.43 35.92,116.70 36.05,119.13 36.18,118.46 36.30,118.10 36.43,117.32 36.56,119.07 36.69,118.73 36.82,120.02 36.95,117.81 37.08,120.66 37.21,118.97 37.34,117.73 37.47,118.20 37.60,117.79 37.72,119.76 37.85,117.36 37.98,118.50 38.11,117.66 38.24,118.20 38.37,118.37 38.50,118.67 38.63,120.07 38.76,119.36 38.89,119.11 39.01,119.60 39.14,118.35 39.27,119.07 39.40,118.67 39.53,119.20 39.66,118.43 39.79,117.83 39.92,119.40 40.05,116.95 40.18,119.95 40.30,117.95 40.43,117.72 40.56,118.92 40.69,119.03 40.82,119.74 40.95,119.21 41.08,119.03 41.21,118.00 41.34,117.78 41.47,118.10 41.59,118.68 41.72,118.75 41.85,119.57 41.98,118.85 42.11,119.06 42.24,119.49 42.37,118.17 42.50,119.22 42.63,118.48 42.76,119.14 42.88,119.37 43.01,119.42 43.14,119.55 43.27,120.08 43.40,117.30 43.53,120.68 43.66,117.93 43.79,118.57 43.92,116.47 44.05,118.59 44.17,118.59 44.30,118.57 44.43,119.09 44.56,120.68 44.69,118.69 44.82,119.09 44.95,118.79 45.08,119.04 45.21,117.33 45.34,119.19 45.46,118.84 45.59,117.11 45.72,119.52 45.85,117.43 45.98,117.93 46.11,118.84 46.24,117.38 46.37,116.70 46.50,118.27 46.63,118.25 46.75,118.50 46.88,117.46 47.01,119.04 47.14,118.68 47.27,119.15 47.40,119.02 47.53,117.70 47.66,118.48 47.79,117.26 47.92,118.45 48.04,120.20 48.17,116.97 48.30,118.23 48.43,117.29 48.56,117.32 48.69,117.13 48.82,117.25 48.95,117.72 49.08,115.83 49.21,119.62 49.33,121.19 49.46,119.91 49.59,119.11 49.72,119.10 49.85,119.28 49.98,120.62 50.11,118.54 50.24,116.77 50.37,120.11 50.50,120.39 50.62,117.37 50.75,117.82 50.88,116.66 51.01,118.53 51.14,117.84 51.27,117.51 51.40,118.50 51.53,118.08 51.66,117.74 51.79,118.06 51.91,118.56 52.04,117.16 52.17,116.77 52.30,118.40 52.43,118.81 52.56,116.31 52.69,116.30 52.82,117.01 52.95,119.32 53.08,117.16 53.20,118.61 53.33,121.56 53.46,118.27 53.59,120.24 53.72,119.64 53.85,117.72 53.98,119.10 54.11,117.75 54.24,116.98 54.37,117.14 54.49,116.62 54.62,116.89 54.75,117.29 54.88,116.69 55.01,117.72 55.14,115.80 55.27,118.61 55.40,117.15 55.53,115.53 55.66,119.37 55.78,117.95 55.91,117.36 56.04,118.24 56.17,118.47 56.30,116.56 56.43,116.55 56.56,115.24 56.69,115.12 56.82,118.10 56.95,115.63 57.07,117.84 57.20,114.03 57.33,117.15 57.46,116.12 57.59,117.65 57.72,116.87 57.85,117.51 57.98,117.96 58.11,117.76 58.24,117.04 58.36,116.76 58.49,117.11 58.62,116.19 58.75,116.54 58.88,115.07 59.01,115.68 59.14,116.47 59.27,115.61 59.40,116.14 59.53,117.27 59.65,116.10 59.78,115.76 59.91,117.04 60.04,116.90 60.17,116.56 60.30,115.32 60.43,116.65 60.56,115.29 60.69,116.36 60.82,115.16 60.94,113.84 61.07,113.35 61.20,113.49 61.33,114.04 61.46,115.38 61.59,114.23 61.72,114.70 61.85,113.24 61.98,115.35 62.11,115.71 62.23,114.20 62.36,114.02 62.49,113.41 62.62,115.05 62.75,113.96 62.88,113.27 63.01,114.10 63.14,112.40 63.27,113.49 63.40,110.54 63.52,104.24 63.65,92.81 63.78,83.92 63.91,85.57 64.04,93.86 64.17,101.33 64.30,104.19 64.43,105.29 64.56,105.21 64.69,104.99 64.81,105.54 64.94,105.68 65.07,105.50 65.20,106.05 65.33,106.09 65.46,106.33 65.59,106.44 65.72,106.49 65.85,106.88 65.98,106.94 66.10,107.90 66.23,108.19 66.36,108.44 66.49,108.24 66.62,108.82 66.75,109.60 66.88,110.54 67.01,111.95 67.14,111.52 67.27,113.40 67.39,114.77 67.52,113.81 67.65,115.17 67.78,115.75 67.91,115.10 68.04,114.69 68.17,116.12 68.30,117.08 68.43,115.16 68.56,115.54 68.68,114.11 68.81,115.74 68.94,116.94 69.07,116.59 69.20,116.73 69.33,116.84 69.46,118.15 69.59,118.30 69.72,116.54 69.85,117.67 69.97,116.75 70.10,117.36 70.23,116.22 70.36,116.64 70.49,116.59 70.62,114.53 70.75,115.81 70.88,116.56 71.01,117.02 71.14,119.17 71.26,117.65 71.39,119.10 71.52,118.74 71.65,116.99 71.78,118.51 71.91,116.56 72.04,116.94 72.17,117.84 72.30,116.11 72.43,118.28 72.55,118.07 72.68,118.20 72.81,117.65 72.94,117.74 73.07,116.77 73.20,117.10 73.33,117.33 73.46,118.06 73.59,117.02 73.72,119.46 73.84,119.30 73.97,119.11 74.10,118.79 74.23,118.30 74.36,117.61 74.49,116.49 74.62,117.94 74.75,119.61 74.88,116.63 75.01,119.29 75.13,117.93 75.26,118.32 75.39,117.17 75.52,118.58 75.65,116.72 75.78,116.06 75.91,118.14 76.04,119.67 76.17,120.21 76.30,117.15 76.42,117.73 76.55,118.08 76.68,119.13 76.81,115.55 76.94,118.78 77.07,118.27 77.20,118.10 77.33,119.63 77.46,118.34 77.59,118.71 77.71,118.47 77.84,119.78 77.97,115.96 78.10,119.25 78.23,119.47 78.36,118.89 78.49,119.64 78.62,118.21 78.75,118.97 78.88,118.51 79.00,118.77 79.13,118.56 79.26,119.39 79.39,116.25 79.52,117.56 79.65,118.39 79.78,119.27 79.91,117.73 80.04,119.67 80.17,118.17 80.29,120.55 80.42,118.36 80.55,118.59 80.68,118.24 80.81,119.17 80.94,118.28 81.07,118.88 81.20,118.52 81.33,120.55 81.46,117.69 81.58,118.21 81.71,118.76 81.84,117.94 81.97,118.85 82.10,118.66 82.23,117.46 82.36,117.89 82.49,118.50 82.62,119.87 82.75,120.14 82.87,119.54 83.00,118.03 83.13,117.57 83.26,119.07 83.39,117.69 83.52,117.15 83.65,118.52 83.78,118.04 83.91,117.79 84.04,117.98 84.16,118.75 84.29,118.14 84.42,119.12 84.55,119.48 84.68,119.15 84.81,118.88 84.94,119.55 85.07,118.20 85.20,118.14 85.33,118.09 85.45,117.44 85.58,117.96 85.71,116.67 85.84,118.60 85.97,118.67 86.10,118.27 86.23,118.48 86.36,117.96 86.49,118.26 86.62,120.68 86.74,117.88 86.87,119.33 87.00,120.39 87.13,118.90 87.26,119.22 87.39,119.06 87.52,117.41 87.65,118.98 87.78,119.29 87.91,119.25 88.03,120.13 88.16,120.01 88.29,119.49 88.42,118.98 88.55,119.69 88.68,118.82 88.81,119.82 88.94,119.09 89.07,118.17 89.20,120.54 89.32,119.11 89.45,118.67 89.58,119.43 89.71,119.66 89.84,121.38 89.97,116.59 90.10,117.41 90.23,115.95 90.36,116.67 90.49,115.75 90.61,114.51 90.74,113.99 90.87,115.06 91.00,113.88 91.13,114.13 91.26,113.95 91.39,113.44 91.52,113.19 91.65,113.29 91.78,112.05 91.90,111.37 92.03,112.32 92.16,111.30 92.29,110.73 92.42,111.48 92.55,110.47 92.68,110.70 92.81,110.62 92.94,110.35 93.07,110.60 93.19,109.59 93.32,109.86 93.45,109.23 93.58,109.09 93.71,109.18 93.84,109.04 93.97,108.49 94.10,108.70 94.23,107.82 94.36,108.60 94.48,108.41 94.61,108.40 94.74,108.46 94.87,108.46 95.00,108.62 95.13,108.69 95.26,108.36 95.39,108.47 95.52,108.42 95.65,108.81 95.77,108.91 95.90,109.77 96.03,109.09 96.16,109.19 96.29,109.59 96.42,109.65 96.55,109.84 96.68,109.25 96.81,110.33 96.94,110.78 97.06,111.49 97.19,111.13 97.32,111.83 97.45,111.76 97.58,112.26 97.71,113.14 97.84,113.81 97.97,112.28 98.10,113.76 98.23,113.59 98.35,114.06 98.48,114.28 98.61,115.22 98.74,115.08 98.87,116.09 99.00,114.88 99.13,117.29 99.26,117.26 99.39,117.62 99.52,117.25 99.64,118.44 99.77,119.18 99.90,120.51 100.03,119.31 100.16,118.22 100.29,120.20 100.42,118.54 100.55,119.26 100.68,118.82 100.81,120.59 100.93,122.12 101.06,118.88 101.19,119.66 101.32,118.04 101.45,118.48 101.58,120.30 101.71,119.83 101.84,117.84 101.97,116.95 102.10,121.34 102.22,119.03 102.35,119.87 102.48,118.98 102.61,117.83 102.74,120.95 102.87,119.93 103.00,118.80 103.13,118.82 103.26,118.15 103.39,117.84 103.51,118.82 103.64,118.90 103.77,119.76 103.90,120.50 104.03,118.82 104.16,119.58 104.29,118.60 104.42,119.18 104.55,117.15 104.68,119.79 104.80,118.73 104.93,117.43 105.06,120.08 105.19,118.15 105.32,117.71 105.45,117.33 105.58,118.81 105.71,119.77 105.84,119.22 105.97,119.07 106.09,119.34 106.22,120.04 106.35,119.49 106.48,119.46 106.61,118.15 106.74,118.17 106.87,119.04 107.00,117.39 107.13,118.72 107.26,119.07 107.38,119.55 107.51,119.00 107.64,118.80 107.77,121.54 107.90,117.91 108.03,119.63 108.16,119.24 108.29,118.78 108.42,118.20 108.55,120.10 108.67,119.88 108.80,118.31 108.93,117.64 109.06,119.61 109.19,117.78 109.32,121.75 109.45,120.23 109.58,119.51 109.71,118.35 109.84,119.48 109.96,121.85 110.09,118.70 110.22,120.27 110.35,118.63 110.48,119.10 110.61,118.71 110.74,118.91 110.87,119.52 111.00,119.12 111.13,118.83 111.25,118.83 111.38,121.19 111.51,119.25 111.64,120.41 111.77,120.56 111.90,119.45 112.03,120.67 112.16,117.75 112.29,120.53 112.42,119.51 112.54,119.23 112.67,120.41 112.80,118.06 112.93,119.04 113.06,117.62 113.19,118.83 113.32,118.36 113.45,116.43 113.58,117.26 113.71,117.49 113.83,116.75 113.96,116.73 114.09,117.47 114.22,118.34 114.35,118.51 114.48,119.66 114.61,119.15 114.74,116.45 114.87,117.42 115.00,117.47 115.12,116.53 115.25,116.57 115.38,116.75 115.51,118.10 115.64,118.34 115.77,119.27 115.90,117.92 116.03,119.80 116.16,118.90 116.29,119.01 116.41,118.80 116.54,118.81 116.67,117.46 116.80,118.84 116.93,118.11 117.06,118.34 117.19,118.64 117.32,119.44 117.45,119.35 117.58,119.41 117.70,119.10 117.83,119.92 117.96,117.02 118.09,119.80 118.22,117.57 118.35,120.08 118.48,118.68 118.61,117.66 118.74,117.48 118.87,118.66 118.99,119.12 119.12,118.30 119.25,118.64 119.38,120.83 119.51,119.67 119.64,119.35 119.77,119.41 119.90,118.69 120.03,119.53 120.16,118.78 120.28,117.65 120.41,119.46 120.54,119.92 120.67,119.51 120.80,118.46 120.93,118.67 121.06,119.65 121.19,119.01 121.32,118.75 121.45,117.89 121.57,117.76 121.70,119.00 121.83,119.38 121.96,119.17 122.09,119.38 122.22,118.17 122.35,119.24 122.48,117.61 122.61,118.27 122.74,120.27 122.86,119.49 122.99,119.35 123.12,119.45 123.25,119.03 123.38,120.59 123.51,118.17 123.64,117.85 123.77,117.89 123.90,120.76 124.03,119.78 124.15,119.69 124.28,118.18 124.41,118.30 124.54,120.09 124.67,118.46 124.80,119.03 124.93,119.29 125.06,117.81 125.19,120.13 125.32,119.90 125.44,120.10 125.57,119.30 125.70,121.51 125.83,118.78 125.96,119.08 126.09,118.97 126.22,118.55 126.35,118.34 126.48,119.91 126.61,119.46 126.73,119.47 126.86,117.61 126.99,121.68 127.12,117.80 127.25,118.94 127.38,118.87 127.51,120.00 127.64,119.26 127.77,119.23 127.90,117.85 128.02,117.35 128.15,120.91 128.28,117.48 128.41,119.73 128.54,118.41 128.67,117.88 128.80,118.17 128.93,119.51 129.06,119.51 129.19,119.52 129.31,117.85 129.44,121.15 129.57,120.66 129.70,117.92 129.83,119.05 129.96,118.99 130.09,117.46 130.22,118.78 130.35,117.86 130.48,118.91 130.60,118.53 130.73,119.94 130.86,120.52 130.99,120.05 131.12,116.49 131.25,119.14 131.38,119.68 131.51,118.75 131.64,117.78 131.77,117.46 131.89,119.26 132.02,119.53 132.15,119.95 132.28,119.35 132.41,117.84 132.54,121.49 132.67,120.51 132.80,118.76 132.93,120.44 133.06,119.98 133.18,118.08 133.31,119.05 133.44,118.79 133.57,118.74 133.70,122.08 133.83,117.60 133.96,118.64 134.09,119.76 134.22,117.59 134.35,120.73 134.47,119.48 134.60,119.21 134.73,119.59 134.86,118.69 134.99,121.45 135.12,118.65 135.25,118.92 135.38,118.57 135.51,120.17 135.64,119.44 135.76,117.58 135.89,118.22 136.02,117.82 136.15,118.95 136.28,117.46 136.41,119.72 136.54,119.96 136.67,119.03 136.80,119.62 136.93,118.72 137.05,117.49 137.18,117.66 137.31,117.87 137.44,118.52 137.57,119.15 137.70,120.59 137.83,118.46 137.96,117.56 138.09,118.29 138.22,118.09 138.34,118.48 138.47,119.71 138.60,119.55 138.73,119.43 138.86,119.68 138.99,116.81 139.12,118.12 139.25,119.00 139.38,116.46 139.51,120.32 139.63,119.42 139.76,117.62 139.89,119.23 140.02,119.16 140.15,119.63 140.28,117.03 140.41,117.70 140.54,118.08 140.67,119.49 140.80,118.80 140.92,119.39 141.05,120.20 141.18,118.59 141.31,120.39 141.44,117.84 141.57,118.44 141.70,119.38 141.83,119.30 141.96,119.12 142.09,119.42 142.21,120.20 142.34,120.12 142.47,118.95 142.60,117.90 142.73,118.97 142.86,119.42 142.99,117.88 143.12,118.11 143.25,119.31 143.38,118.99 143.50,119.19 143.63,119.28 143.76,118.07 143.89,120.24 144.02,118.83 144.15,117.28 144.28,118.46 144.41,116.94 144.54,119.47 144.67,119.41 144.79,117.70 144.92,119.06 145.05,121.64 145.18,117.56 145.31,119.31 145.44,117.51 145.57,117.47 145.70,119.16 145.83,117.62 145.96,118.86 146.08,119.67 146.21,117.47 146.34,119.43 146.47,117.24 146.60,119.18 146.73,119.46 146.86,117.86 146.99,119.70 147.12,118.61 147.25,118.15 147.37,120.75 147.50,119.38 147.63,118.80 147.76,118.80 147.89,118.89 148.02,118.46 148.15,118.80 148.28,118.03 148.41,118.02 148.54,118.62 148.66,118.79 148.79,116.90 148.92,119.94 149.05,119.35 149.18,118.92 149.31,119.06 149.44,116.77 149.57,119.17 149.70,119.72 149.83,118.49 149.95,118.70 150.08,118.74 150.21,119.16 150.34,117.27 150.47,117.04 150.60,116.92 150.73,119.03 150.86,117.69 150.99,118.66 151.12,119.02 151.24,120.18 151.37,117.89 151.50,120.20 151.63,118.33 151.76,119.15 151.89,119.82 152.02,118.17 152.15,119.34 152.28,118.17 152.41,120.55 152.53,118.17 152.66,116.49 152.79,118.49 152.92,117.52 153.05,118.57 153.18,118.00 153.31,118.01 153.44,118.62 153.57,118.12 153.70,119.42 153.82,118.60 153.95,118.38 154.08,118.13 154.21,118.63 154.34,117.73 154.47,116.92 154.60,117.95 154.73,119.42 154.86,117.18 154.99,117.73 155.11,117.15 155.24,120.10 155.37,118.52 155.50,118.06 155.63,115.84 155.76,119.55 155.89,118.40 156.02,117.27 156.15,115.61 156.28,118.11 156.40,118.04 156.53,117.62 156.66,118.35 156.79,118.95 156.92,117.97 157.05,119.49 157.18,115.89 157.31,116.56 157.44,117.32 157.57,117.84 157.69,118.64 157.82,116.22 157.95,119.55 158.08,119.17 158.21,119.72 158.34,117.64 158.47,117.43 158.60,117.54 158.73,118.26 158.86,117.53 158.98,117.19 159.11,116.08 159.24,117.58 159.37,115.72 159.50,118.44 159.63,117.82 159.76,115.51 159.89,119.11 160.02,118.33 160.15,117.74 160.27,117.50 160.40,118.21 160.53,119.50 160.66,119.07 160.79,115.78 160.92,116.49 161.05,115.30 161.18,114.81 161.31,114.25 161.44,115.54 161.56,114.92 161.69,116.24 161.82,116.65 161.95,116.24 162.08,115.46 162.21,116.28 162.34,119.72 162.47,116.90 162.60,116.41 162.73,116.82 162.85,115.04 162.98,113.76 163.11,114.53 163.24,113.79 163.37,114.78 163.50,113.79 163.63,115.15 163.76,113.27 163.89,114.41 164.02,114.20 164.14,114.40 164.27,114.65 164.40,114.14 164.53,115.26 164.66,113.76 164.79,114.69 164.92,113.77 165.05,113.76 165.18,113.72 165.31,114.10 165.43,112.06 165.56,106.97 165.69,97.17 165.82,83.33 165.95,76.49 166.08,81.44 166.21,90.69 166.34,96.77 166.47,98.54 166.60,99.29 166.72,99.36 166.85,99.29 166.98,99.63 167.11,99.75 167.24,100.26 167.37,99.95 167.50,100.04 167.63,100.18 167.76,100.38 167.89,100.51 168.01,100.80 168.14,100.53 168.27,101.14 168.40,101.07 168.53,100.56 168.66,100.83 168.79,100.85 168.92,101.22 169.05,101.96 169.18,102.76 169.30,102.98 169.43,103.18 169.56,103.63 169.69,103.63 169.82,103.62 169.95,103.79 170.08,104.20 170.21,104.34 170.34,104.86 170.47,105.06 170.59,105.55 170.72,106.50 170.85,106.71 170.98,107.93 171.11,109.03 171.24,110.39 171.37,110.60 171.50,111.64 171.63,113.11 171.76,113.57 171.88,114.14 172.01,115.20 172.14,113.88 172.27,115.13 172.40,116.16 172.53,115.61 172.66,116.86 172.79,117.28 172.92,117.10 173.05,115.88 173.17,116.94 173.30,116.80 173.43,118.23 173.56,116.32 173.69,116.97 173.82,117.81 173.95,119.79 174.08,119.18 174.21,117.51 174.34,119.19 174.46,118.73 174.59,117.67 174.72,117.07 174.85,116.73 174.98,116.79 175.11,117.28 175.24,116.24 175.37,118.61 175.50,117.44 175.63,118.18 175.75,118.61 175.88,119.02 176.01,118.12 176.14,119.26 176.27,117.38 176.40,115.64 176.53,119.23 176.66,116.87 176.79,116.46 176.92,119.18 177.04,116.13 177.17,118.42 177.30,116.93 177.43,118.34 177.56,117.79 177.69,118.67 177.82,118.07 177.95,118.57 178.08,118.65 178.21,121.78 178.33,118.85 178.46,118.87 178.59,119.44 178.72,120.53 178.85,116.67 178.98,120.50 179.11,118.62 179.24,117.82 179.37,117.36 179.50,118.09 179.62,118.46 179.75,118.22 179.88,119.24 180.01,119.24 180.14,119.22 180.27,120.22 180.40,119.89 180.53,118.53 180.66,119.86 180.79,119.21 180.91,119.85 181.04,119.55 181.17,118.07 181.30,118.97 181.43,117.72 181.56,118.54 181.69,117.40 181.82,117.84 181.95,118.45 182.08,116.48 182.20,118.36 182.33,119.79 182.46,117.94 182.59,119.32 182.72,118.41 182.85,120.86 182.98,118.37 183.11,118.87 183.24,117.83 183.37,118.70 183.49,117.45 183.62,118.56 183.75,119.80 183.88,118.99 184.01,120.54 184.14,119.30 184.27,119.03 184.40,118.24 184.53,120.85 184.66,120.07 184.78,120.73 184.91,118.63 185.04,120.21 185.17,117.97 185.30,117.79 185.43,118.15 185.56,119.36 185.69,120.15 185.82,119.59 185.95,121.53 186.07,116.96 186.20,118.25 186.33,118.22 186.46,118.49 186.59,119.67 186.72,119.39 186.85,120.83 186.98,117.81 187.11,118.37 187.24,119.52 187.36,118.01 187.49,119.22 187.62,118.92 187.75,119.73 187.88,118.30 188.01,118.46 188.14,119.97 188.27,115.23 188.40,118.75 188.53,119.43 188.65,119.59 188.78,118.42 188.91,119.43 189.04,120.32 189.17,120.20 189.30,119.86 189.43,117.72 189.56,119.77 189.69,120.61 189.82,118.33 189.94,120.67 190.07,117.39 190.20,120.61 190.33,120.52 190.46,119.85 190.59,119.00 190.72,121.24 190.85,119.91 190.98,118.96 191.11,118.98 191.23,119.42 191.36,120.11 191.49,118.91 191.62,119.47 191.75,118.13 191.88,119.50 192.01,119.08 192.14,120.31 192.27,118.97 192.40,118.52 192.52,117.41 192.65,120.19 192.78,118.57 192.91,119.50 193.04,119.25 193.17,118.21 193.30,118.89 193.43,120.70 193.56,119.74 193.69,118.68 193.81,120.11 193.94,118.33 194.07,119.02 194.20,118.81 194.33,118.42 194.46,118.42 194.59,118.89 194.72,118.18 194.85,119.42 194.98,120.77 195.10,118.34 195.23,118.29 195.36,117.71 195.49,118.81 195.62,119.11 195.75,120.25 195.88,118.10 196.01,118.92 196.14,117.91 196.27,119.38 196.39,118.45 196.52,120.63 196.65,118.62 196.78,120.48 196.91,119.31 197.04,119.31 197.17,119.48 197.30,118.91 197.43,120.97 197.56,120.22 197.68,119.91 197.81,117.31 197.94,120.52 198.07,118.47 198.20,119.49 198.33,118.58 198.46,120.87 198.59,120.42 198.72,119.32 198.85,117.69 198.97,120.70 199.10,119.71 199.23,119.48 199.36,117.21 199.49,120.64 199.62,119.21 199.75,119.06 199.88,120.23 200.01,119.61 200.14,118.27 200.26,121.27 200.39,118.94 200.52,119.08 200.65,118.90 200.78,120.77 200.91,118.85 201.04,118.85 201.17,118.14 201.30,119.02 201.43,117.40 201.55,120.05 201.68,119.52 201.81,119.38 201.94,119.66 202.07,117.95 202.20,120.73 202.33,120.87 202.46,119.92" fill="none" stroke="#4f8fcc" stroke-width="1.1" stroke-linejoin="round" stroke-linecap="round"/>
<polyline points="30.50,105.22 30.63,106.74 30.76,106.93 30.89,107.88 31.02,105.97 31.14,107.24 31.27,108.37 31.40,107.33 31.53,106.15 31.66,106.57 31.79,107.98 31.92,106.50 32.05,108.84 32.18,107.92 32.31,106.08 32.43,105.37 32.56,106.77 32.69,106.91 32.82,106.31 32.95,105.87 33.08,107.66 33.21,107.75 33.34,107.09 33.47,106.45 33.60,105.07 33.72,106.81 33.85,104.85 33.98,103.66 34.11,106.80 34.24,107.24 34.37,106.81 34.50,108.21 34.63,108.48 34.76,108.33 34.89,105.38 35.01,107.32 35.14,107.10 35.27,106.41 35.40,106.60 35.53,106.54 35.66,106.07 35.79,107.23 35.92,105.86 36.05,107.19 36.18,108.68 36.30,107.17 36.43,107.17 36.56,105.83 36.69,105.74 36.82,104.67 36.95,106.27 37.08,107.79 37.21,105.15 37.34,105.47 37.47,106.96 37.60,105.29 37.72,106.69 37.85,106.42 37.98,105.81 38.11,106.43 38.24,106.20 38.37,106.76 38.50,106.15 38.63,105.29 38.76,105.93 38.89,107.81 39.01,106.79 39.14,107.35 39.27,106.81 39.40,105.53 39.53,108.64 39.66,108.22 39.79,107.78 39.92,107.27 40.05,107.28 40.18,108.37 40.30,105.97 40.43,104.86 40.56,107.99 40.69,105.40 40.82,106.50 40.95,106.27 41.08,108.34 41.21,110.19 41.34,107.06 41.47,108.15 41.59,106.06 41.72,107.32 41.85,108.27 41.98,104.47 42.11,105.42 42.24,108.97 42.37,106.84 42.50,104.87 42.63,107.97 42.76,107.27 42.88,107.61 43.01,105.69 43.14,105.74 43.27,107.48 43.40,107.33 43.53,106.20 43.66,106.05 43.79,107.90 43.92,107.45 44.05,105.23 44.17,105.47 44.30,106.99 44.43,105.83 44.56,107.06 44.69,106.22 44.82,106.39 44.95,105.68 45.08,107.54 45.21,107.65 45.34,107.71 45.46,107.76 45.59,106.79 45.72,106.88 45.85,107.60 45.98,107.37 46.11,104.93 46.24,106.66 46.37,107.49 46.50,107.32 46.63,106.17 46.75,107.77 46.88,106.22 47.01,105.52 47.14,105.70 47.27,105.02 47.40,105.86 47.53,105.61 47.66,106.58 47.79,107.24 47.92,106.34 48.04,107.10 48.17,105.90 48.30,108.56 48.43,106.40 48.56,105.28 48.69,105.52 48.82,105.12 48.95,106.52 49.08,105.89 49.21,104.18 49.33,104.53 49.46,106.99 49.59,106.10 49.72,106.18 49.85,103.97 49.98,108.27 50.11,106.18 50.24,104.78 50.37,107.54 50.50,106.83 50.62,107.13 50.75,107.11 50.88,104.24 51.01,106.51 51.14,104.42 51.27,107.08 51.40,105.41 51.53,105.62 51.66,106.66 51.79,107.62 51.91,106.48 52.04,106.31 52.17,106.96 52.30,104.92 52.43,104.42 52.56,104.92 52.69,103.57 52.82,105.12 52.95,105.07 53.08,107.72 53.20,106.14 53.33,104.80 53.46,106.21 53.59,107.46 53.72,105.43 53.85,105.29 53.98,106.46 54.11,103.99 54.24,105.81 54.37,105.26 54.49,103.83 54.62,106.72 54.75,105.59 54.88,106.00 55.01,105.76 55.14,107.07 55.27,107.49 55.40,104.62 55.53,106.49 55.66,103.11 55.78,106.10 55.91,105.32 56.04,105.27 56.17,103.51 56.30,104.29 56.43,103.77 56.56,103.58 56.69,106.93 56.82,106.76 56.95,104.31 57.07,105.45 57.20,106.01 57.33,105.62 57.46,103.98 57.59,105.69 57.72,102.59 57.85,104.23 57.98,106.44 58.11,103.09 58.24,102.76 58.36,105.24 58.49,104.93 58.62,106.48 58.75,105.00 58.88,104.42 59.01,105.49 59.14,103.40 59.27,102.60 59.40,103.91 59.53,101.59 59.65,105.51 59.78,103.33 59.91,103.23 60.04,102.59 60.17,103.26 60.30,105.01 60.43,104.65 60.56,106.31 60.69,105.00 60.82,103.82 60.94,102.70 61.07,103.93 61.20,100.07 61.33,102.60 61.46,104.42 61.59,100.07 61.72,101.68 61.85,103.48 61.98,101.73 62.11,102.09 62.23,102.79 62.36,102.81 62.49,101.27 62.62,101.22 62.75,102.22 62.88,102.98 63.01,100.62 63.14,102.22 63.27,101.68 63.40,99.48 63.52,97.02 63.65,88.74 63.78,85.91 63.91,86.07 64.04,89.27 64.17,92.63 64.30,95.81 64.43,93.04 64.56,94.88 64.69,93.22 64.81,93.61 64.94,94.35 65.07,93.56 65.20,92.10 65.33,93.25 65.46,93.51 65.59,93.85 65.72,95.14 65.85,95.50 65.98,93.30 66.10,96.12 66.23,95.34 66.36,95.24 66.49,96.27 66.62,94.92 66.75,98.05 66.88,101.05 67.01,99.01 67.14,99.44 67.27,100.80 67.39,102.64 67.52,101.70 67.65,99.82 67.78,102.66 67.91,103.36 68.04,102.86 68.17,101.30 68.30,103.64 68.43,103.44 68.56,104.44 68.68,104.94 68.81,104.99 68.94,104.58 69.07,105.39 69.20,106.55 69.33,105.23 69.46,104.99 69.59,106.48 69.72,104.73 69.85,103.10 69.97,101.75 70.10,103.94 70.23,106.02 70.36,106.50 70.49,106.96 70.62,105.52 70.75,108.29 70.88,106.53 71.01,106.27 71.14,106.44 71.26,103.45 71.39,103.43 71.52,104.66 71.65,102.91 71.78,104.89 71.91,105.38 72.04,105.08 72.17,105.21 72.30,104.68 72.43,108.81 72.55,106.40 72.68,105.34 72.81,105.21 72.94,104.97 73.07,102.90 73.20,105.11 73.33,105.32 73.46,105.29 73.59,103.98 73.72,105.24 73.84,107.38 73.97,107.19 74.10,106.35 74.23,106.19 74.36,106.20 74.49,108.44 74.62,105.43 74.75,105.92 74.88,106.78 75.01,105.60 75.13,107.60 75.26,110.72 75.39,107.45 75.52,105.64 75.65,108.02 75.78,108.12 75.91,106.72 76.04,104.90 76.17,106.25 76.30,105.49 76.42,105.80 76.55,104.82 76.68,105.34 76.81,106.14 76.94,105.06 77.07,103.78 77.20,106.71 77.33,107.77 77.46,105.85 77.59,107.24 77.71,106.41 77.84,105.58 77.97,106.90 78.10,105.69 78.23,107.26 78.36,106.14 78.49,105.11 78.62,104.81 78.75,105.70 78.88,109.03 79.00,108.37 79.13,106.60 79.26,105.34 79.39,107.34 79.52,106.55 79.65,105.99 79.78,106.34 79.91,106.55 80.04,105.05 80.17,104.28 80.29,104.69 80.42,105.86 80.55,104.98 80.68,106.75 80.81,107.08 80.94,108.70 81.07,106.24 81.20,108.54 81.33,105.49 81.46,107.53 81.58,105.52 81.71,108.26 81.84,105.73 81.97,105.41 82.10,104.34 82.23,108.50 82.36,105.47 82.49,106.70 82.62,105.84 82.75,108.24 82.87,108.56 83.00,108.12 83.13,106.97 83.26,106.83 83.39,104.90 83.52,105.87 83.65,107.34 83.78,106.77 83.91,104.90 84.04,107.09 84.16,107.17 84.29,105.02 84.42,104.99 84.55,107.78 84.68,106.68 84.81,109.30 84.94,108.17 85.07,106.01 85.20,105.13 85.33,104.39 85.45,105.88 85.58,106.85 85.71,106.95 85.84,106.37 85.97,103.79 86.10,104.91 86.23,106.08 86.36,108.84 86.49,106.58 86.62,106.53 86.74,105.61 86.87,103.92 87.00,104.05 87.13,103.71 87.26,106.98 87.39,105.14 87.52,106.01 87.65,105.03 87.78,106.23 87.91,104.03 88.03,104.51 88.16,106.10 88.29,106.88 88.42,104.37 88.55,106.77 88.68,103.94 88.81,108.30 88.94,106.17 89.07,105.39 89.20,107.04 89.32,106.99 89.45,107.61 89.58,106.13 89.71,106.20 89.84,107.10 89.97,106.48 90.10,106.92 90.23,107.42 90.36,106.07 90.49,106.84 90.61,105.16 90.74,105.79 90.87,106.16 91.00,106.83 91.13,106.10 91.26,105.06 91.39,105.16 91.52,109.29 91.65,105.06 91.78,105.68 91.90,105.77 92.03,104.14 92.16,103.67 92.29,104.35 92.42,105.45 92.55,104.43 92.68,104.24 92.81,106.03 92.94,102.93 93.07,103.36 93.19,101.67 93.32,102.26 93.45,100.91 93.58,100.28 93.71,98.83 93.84,99.68 93.97,98.14 94.10,97.23 94.23,100.47 94.36,96.83 94.48,96.26 94.61,96.40 94.74,97.43 94.87,94.67 95.00,96.76 95.13,93.67 95.26,98.23 95.39,95.77 95.52,96.30 95.65,97.21 95.77,96.42 95.90,97.74 96.03,96.93 96.16,99.51 96.29,100.46 96.42,100.23 96.55,101.85 96.68,100.98 96.81,104.23 96.94,103.81 97.06,102.60 97.19,105.23 97.32,104.32 97.45,104.58 97.58,105.76 97.71,104.92 97.84,105.03 97.97,106.50 98.10,106.11 98.23,105.35 98.35,105.76 98.48,105.90 98.61,105.49 98.74,106.22 98.87,107.18 99.00,106.48 99.13,106.82 99.26,107.44 99.39,106.16 99.52,106.13 99.64,107.98 99.77,107.19 99.90,108.89 100.03,106.56 100.16,107.57 100.29,106.70 100.42,108.43 100.55,107.18 100.68,108.42 100.81,106.28 100.93,107.17 101.06,108.62 101.19,106.23 101.32,104.85 101.45,107.44 101.58,106.21 101.71,107.25 101.84,109.76 101.97,108.23 102.10,106.24 102.22,107.78 102.35,108.02 102.48,106.89 102.61,108.32 102.74,106.23 102.87,107.32 103.00,107.21 103.13,106.98 103.26,105.15 103.39,108.12 103.51,105.58 103.64,105.83 103.77,107.06 103.90,108.11 104.03,107.57 104.16,107.15 104.29,106.29 104.42,108.71 104.55,106.08 104.68,105.39 104.80,106.03 104.93,107.94 105.06,108.00 105.19,107.25 105.32,106.03 105.45,108.62 105.58,106.16 105.71,106.57 105.84,106.36 105.97,105.57 106.09,106.09 106.22,107.82 106.35,105.49 106.48,106.72 106.61,107.07 106.74,107.38 106.87,106.50 107.00,105.76 107.13,106.51 107.26,108.45 107.38,108.73 107.51,107.50 107.64,107.90 107.77,108.03 107.90,108.60 108.03,105.41 108.16,106.42 108.29,106.78 108.42,106.78 108.55,106.51 108.67,107.42 108.80,105.69 108.93,106.74 109.06,107.20 109.19,106.98 109.32,107.06 109.45,106.69 109.58,106.47 109.71,105.07 109.84,106.74 109.96,106.64 110.09,106.64 110.22,107.22 110.35,108.88 110.48,107.85 110.61,107.90 110.74,107.84 110.87,107.40 111.00,104.65 111.13,106.49 111.25,106.18 111.38,106.95 111.51,106.71 111.64,106.19 111.77,105.55 111.90,106.46 112.03,107.66 112.16,106.76 112.29,108.07 112.42,105.19 112.54,107.25 112.67,105.54 112.80,105.44 112.93,106.13 113.06,105.45 113.19,106.56 113.32,105.09 113.45,104.81 113.58,104.22 113.71,103.18 113.83,105.86 113.96,102.11 114.09,104.01 114.22,103.79 114.35,102.11 114.48,101.18 114.61,101.28 114.74,104.18 114.87,103.11 115.00,104.07 115.12,104.41 115.25,105.33 115.38,105.11 115.51,105.13 115.64,105.22 115.77,107.11 115.90,105.13 116.03,108.11 116.16,106.92 116.29,106.10 116.41,106.36 116.54,107.55 116.67,105.32 116.80,106.04 116.93,107.01 117.06,107.16 117.19,106.04 117.32,105.56 117.45,107.56 117.58,106.18 117.70,105.63 117.83,106.48 117.96,107.32 118.09,106.51 118.22,108.27 118.35,106.77 118.48,108.02 118.61,107.11 118.74,106.19 118.87,107.42 118.99,105.50 119.12,106.23 119.25,107.07 119.38,106.16 119.51,107.80 119.64,108.54 119.77,106.39 119.90,106.56 120.03,106.59 120.16,104.81 120.28,107.41 120.41,107.33 120.54,104.75 120.67,105.94 120.80,105.10 120.93,106.27 121.06,108.71 121.19,106.35 121.32,107.68 121.45,105.47 121.57,106.53 121.70,106.22 121.83,106.26 121.96,106.35 122.09,107.36 122.22,104.51 122.35,108.27 122.48,107.98 122.61,105.77 122.74,107.76 122.86,106.39 122.99,107.70 123.12,105.61 123.25,106.96 123.38,108.11 123.51,108.46 123.64,105.86 123.77,106.49 123.90,105.76 124.03,108.77 124.15,106.65 124.28,107.05 124.41,108.85 124.54,105.75 124.67,107.90 124.80,106.63 124.93,104.98 125.06,105.40 125.19,107.71 125.32,104.20 125.44,108.06 125.57,107.19 125.70,105.35 125.83,107.79 125.96,109.11 126.09,108.01 126.22,105.59 126.35,105.22 126.48,107.52 126.61,108.04 126.73,105.47 126.86,105.75 126.99,106.10 127.12,107.90 127.25,106.82 127.38,108.08 127.51,107.12 127.64,107.36 127.77,106.92 127.90,106.13 128.02,107.70 128.15,107.00 128.28,105.82 128.41,106.08 128.54,106.73 128.67,106.43 128.80,106.72 128.93,108.36 129.06,108.53 129.19,107.07 129.31,106.50 129.44,107.23 129.57,105.60 129.70,107.33 129.83,105.43 129.96,104.58 130.09,106.61 130.22,106.64 130.35,105.01 130.48,107.80 130.60,107.95 130.73,107.33 130.86,107.22 130.99,107.39 131.12,108.65 131.25,107.17 131.38,105.76 131.51,107.16 131.64,106.36 131.77,107.64 131.89,108.11 132.02,105.46 132.15,107.75 132.28,104.85 132.41,106.98 132.54,105.18 132.67,105.86 132.80,107.33 132.93,106.60 133.06,108.45 133.18,105.54 133.31,106.55 133.44,107.94 133.57,107.06 133.70,107.27 133.83,107.50 133.96,108.06 134.09,105.70 134.22,107.49 134.35,106.11 134.47,106.66 134.60,106.65 134.73,108.09 134.86,107.24 134.99,106.13 135.12,106.58 135.25,107.18 135.38,105.39 135.51,105.75 135.64,106.91 135.76,106.85 135.89,107.31 136.02,108.47 136.15,107.40 136.28,107.99 136.41,107.90 136.54,106.91 136.67,107.26 136.80,107.95 136.93,108.93 137.05,107.17 137.18,105.94 137.31,105.38 137.44,107.50 137.57,108.22 137.70,106.41 137.83,108.02 137.96,106.71 138.09,107.30 138.22,107.92 138.34,107.29 138.47,107.38 138.60,104.88 138.73,107.02 138.86,109.32 138.99,108.19 139.12,106.87 139.25,107.13 139.38,106.10 139.51,107.31 139.63,108.34 139.76,105.90 139.89,108.00 140.02,106.90 140.15,108.52 140.28,106.79 140.41,104.95 140.54,107.88 140.67,106.73 140.80,107.45 140.92,108.29 141.05,105.27 141.18,105.18 141.31,107.35 141.44,107.18 141.57,107.28 141.70,107.18 141.83,106.59 141.96,106.91 142.09,108.09 142.21,106.35 142.34,108.63 142.47,107.71 142.60,107.32 142.73,105.17 142.86,106.21 142.99,106.75 143.12,107.75 143.25,106.23 143.38,108.19 143.50,105.74 143.63,105.92 143.76,106.10 143.89,108.57 144.02,106.49 144.15,104.43 144.28,107.98 144.41,104.89 144.54,106.12 144.67,107.06 144.79,107.12 144.92,107.66 145.05,107.87 145.18,108.42 145.31,106.92 145.44,106.35 145.57,105.49 145.70,104.57 145.83,108.66 145.96,106.83 146.08,105.66 146.21,106.22 146.34,106.76 146.47,104.46 146.60,106.18 146.73,106.55 146.86,106.54 146.99,107.68 147.12,106.60 147.25,106.51 147.37,106.35 147.50,106.11 147.63,106.45 147.76,106.99 147.89,107.71 148.02,105.46 148.15,105.78 148.28,105.12 148.41,106.87 148.54,106.86 148.66,107.94 148.79,106.75 148.92,106.80 149.05,107.17 149.18,107.45 149.31,105.87 149.44,108.20 149.57,107.34 149.70,106.58 149.83,107.54 149.95,107.82 150.08,106.50 150.21,107.01 150.34,107.19 150.47,105.48 150.60,105.67 150.73,106.27 150.86,106.11 150.99,105.49 151.12,106.22 151.24,106.44 151.37,106.49 151.50,105.77 151.63,105.97 151.76,107.59 151.89,106.60 152.02,106.00 152.15,105.57 152.28,107.78 152.41,106.84 152.53,105.98 152.66,105.98 152.79,107.55 152.92,104.89 153.05,106.95 153.18,108.31 153.31,104.70 153.44,106.68 153.57,107.61 153.70,108.28 153.82,106.48 153.95,105.39 154.08,108.37 154.21,107.08 154.34,105.63 154.47,107.33 154.60,107.04 154.73,104.86 154.86,105.20 154.99,105.73 155.11,104.91 155.24,104.82 155.37,105.86 155.50,106.82 155.63,104.03 155.76,106.48 155.89,106.18 156.02,106.47 156.15,105.31 156.28,105.36 156.40,104.32 156.53,105.93 156.66,105.34 156.79,105.34 156.92,106.67 157.05,106.53 157.18,106.26 157.31,105.14 157.44,107.34 157.57,106.52 157.69,104.73 157.82,104.95 157.95,104.12 158.08,103.91 158.21,106.33 158.34,105.04 158.47,106.33 158.60,105.20 158.73,106.12 158.86,106.17 158.98,105.11 159.11,107.41 159.24,106.81 159.37,104.81 159.50,105.86 159.63,104.85 159.76,103.60 159.89,103.71 160.02,103.06 160.15,103.52 160.27,105.20 160.40,106.31 160.53,104.47 160.66,106.40 160.79,104.76 160.92,102.93 161.05,102.76 161.18,103.84 161.31,103.27 161.44,103.78 161.56,101.83 161.69,102.05 161.82,104.25 161.95,103.72 162.08,102.99 162.21,103.18 162.34,104.44 162.47,105.74 162.60,103.51 162.73,102.80 162.85,102.67 162.98,102.02 163.11,101.87 163.24,101.60 163.37,102.33 163.50,102.60 163.63,104.72 163.76,101.79 163.89,100.49 164.02,102.13 164.14,101.67 164.27,101.73 164.40,101.09 164.53,104.36 164.66,101.57 164.79,100.63 164.92,102.06 165.05,101.30 165.18,102.59 165.31,103.49 165.43,100.20 165.56,96.14 165.69,89.36 165.82,82.13 165.95,76.25 166.08,78.55 166.21,82.35 166.34,88.55 166.47,88.77 166.60,87.09 166.72,89.42 166.85,87.47 166.98,88.69 167.11,89.02 167.24,91.51 167.37,89.77 167.50,91.02 167.63,92.39 167.76,89.11 167.89,88.81 168.01,89.85 168.14,90.43 168.27,89.41 168.40,90.84 168.53,92.24 168.66,90.69 168.79,89.53 168.92,92.39 169.05,92.27 169.18,91.66 169.30,93.29 169.43,93.35 169.56,91.47 169.69,95.23 169.82,92.43 169.95,93.16 170.08,91.24 170.21,89.97 170.34,93.19 170.47,92.66 170.59,94.28 170.72,96.62 170.85,97.38 170.98,99.27 171.11,97.62 171.24,100.66 171.37,100.62 171.50,102.75 171.63,101.15 171.76,99.57 171.88,103.15 172.01,101.60 172.14,101.20 172.27,102.69 172.40,105.02 172.53,105.13 172.66,105.35 172.79,105.48 172.92,104.12 173.05,107.72 173.17,105.52 173.30,106.78 173.43,103.76 173.56,105.27 173.69,105.04 173.82,105.48 173.95,105.61 174.08,107.24 174.21,105.01 174.34,109.11 174.46,107.47 174.59,104.97 174.72,105.55 174.85,105.14 174.98,105.47 175.11,104.40 175.24,104.79 175.37,104.72 175.50,105.11 175.63,105.55 175.75,108.49 175.88,106.29 176.01,105.41 176.14,107.06 176.27,105.87 176.40,106.04 176.53,105.38 176.66,104.94 176.79,105.62 176.92,103.84 177.04,106.36 177.17,106.97 177.30,105.60 177.43,104.65 177.56,106.01 177.69,105.39 177.82,106.53 177.95,106.44 178.08,106.70 178.21,106.64 178.33,106.38 178.46,106.58 178.59,105.16 178.72,106.96 178.85,105.32 178.98,106.69 179.11,105.82 179.24,106.81 179.37,105.37 179.50,107.11 179.62,110.86 179.75,107.04 179.88,107.72 180.01,109.06 180.14,104.47 180.27,107.94 180.40,105.44 180.53,106.04 180.66,104.65 180.79,105.62 180.91,107.79 181.04,105.98 181.17,107.23 181.30,106.97 181.43,106.71 181.56,107.82 181.69,105.05 181.82,108.39 181.95,106.83 182.08,107.59 182.20,108.37 182.33,106.66 182.46,106.63 182.59,108.12 182.72,105.51 182.85,106.20 182.98,104.83 183.11,106.86 183.24,105.83 183.37,108.55 183.49,106.39 183.62,106.32 183.75,106.78 183.88,105.81 184.01,105.50 184.14,106.68 184.27,107.48 184.40,105.66 184.53,107.01 184.66,108.27 184.78,106.61 184.91,106.86 185.04,106.18 185.17,108.49 185.30,107.81 185.43,106.34 185.56,106.12 185.69,106.68 185.82,107.29 185.95,106.56 186.07,107.29 186.20,108.71 186.33,106.53 186.46,107.30 186.59,104.90 186.72,106.89 186.85,106.76 186.98,107.34 187.11,106.84 187.24,105.85 187.36,107.13 187.49,105.30 187.62,107.49 187.75,106.70 187.88,108.77 188.01,108.53 188.14,107.73 188.27,105.92 188.40,107.58 188.53,105.59 188.65,107.89 188.78,106.31 188.91,105.61 189.04,107.99 189.17,108.60 189.30,106.46 189.43,108.20 189.56,104.17 189.69,106.25 189.82,107.12 189.94,107.25 190.07,107.45 190.20,106.18 190.33,106.10 190.46,104.66 190.59,106.24 190.72,107.72 190.85,107.24 190.98,107.44 191.11,108.08 191.23,107.29 191.36,106.88 191.49,107.24 191.62,104.39 191.75,106.59 191.88,107.99 192.01,105.97 192.14,105.89 192.27,106.18 192.40,107.80 192.52,107.28 192.65,106.74 192.78,105.28 192.91,107.41 193.04,106.24 193.17,106.64 193.30,104.68 193.43,108.83 193.56,108.36 193.69,108.00 193.81,107.14 193.94,107.69 194.07,107.30 194.20,106.37 194.33,109.27 194.46,107.24 194.59,105.39 194.72,107.33 194.85,105.62 194.98,107.04 195.10,108.27 195.23,105.84 195.36,108.42 195.49,107.48 195.62,107.11 195.75,108.47 195.88,106.61 196.01,107.35 196.14,105.90 196.27,107.25 196.39,107.10 196.52,106.59 196.65,106.66 196.78,107.26 196.91,108.42 197.04,107.82 197.17,106.99 197.30,107.75 197.43,107.74 197.56,106.15 197.68,107.03 197.81,106.39 197.94,107.28 198.07,107.60 198.20,104.24 198.33,107.19 198.46,106.35 198.59,107.14 198.72,107.45 198.85,107.64 198.97,105.46 199.10,107.10 199.23,107.71 199.36,107.59 199.49,107.86 199.62,105.63 199.75,106.85 199.88,107.07 200.01,107.22 200.14,106.46 200.26,106.79 200.39,106.32 200.52,107.75 200.65,106.69 200.78,109.19 200.91,107.56 201.04,104.82 201.17,107.41 201.30,105.05 201.43,107.44 201.55,107.74 201.68,107.94 201.81,107.71 201.94,108.18 202.07,108.05 202.20,107.24 202.33,105.80 202.46,106.09" fill="none" stroke="#8cb8e2" stroke-width="1.1" stroke-linejoin="round" stroke-linecap="round"/>
<polyline points="30.50,94.03 30.63,92.11 30.76,93.99 30.89,93.11 31.02,93.07 31.14,93.76 31.27,91.30 31.40,93.37 31.53,91.91 31.66,93.38 31.79,92.51 31.92,91.24 32.05,93.52 32.18,93.44 32.31,92.03 32.43,94.47 32.56,90.92 32.69,91.67 32.82,91.65 32.95,93.03 33.08,91.83 33.21,92.50 33.34,92.65 33.47,94.46 33.60,94.19 33.72,92.98 33.85,92.32 33.98,93.60 34.11,92.52 34.24,91.78 34.37,90.58 34.50,90.82 34.63,93.34 34.76,92.08 34.89,93.61 35.01,92.74 35.14,93.50 35.27,91.91 35.40,93.54 35.53,91.10 35.66,92.69 35.79,92.31 35.92,92.89 36.05,95.07 36.18,92.67 36.30,91.00 36.43,93.29 36.56,90.94 36.69,92.94 36.82,93.86 36.95,92.42 37.08,92.85 37.21,93.12 37.34,92.65 37.47,93.85 37.60,95.25 37.72,93.38 37.85,92.88 37.98,93.20 38.11,92.41 38.24,93.80 38.37,91.10 38.50,91.51 38.63,91.70 38.76,92.08 38.89,91.86 39.01,94.94 39.14,92.42 39.27,91.46 39.40,94.65 39.53,94.00 39.66,93.33 39.79,94.36 39.92,92.99 40.05,91.04 40.18,93.10 40.30,91.48 40.43,92.01 40.56,92.94 40.69,94.24 40.82,93.10 40.95,93.24 41.08,94.13 41.21,94.41 41.34,93.50 41.47,95.05 41.59,94.62 41.72,92.97 41.85,92.59 41.98,89.48 42.11,92.80 42.24,93.69 42.37,94.64 42.50,93.14 42.63,92.66 42.76,92.04 42.88,90.89 43.01,93.89 43.14,93.80 43.27,95.51 43.40,91.74 43.53,92.86 43.66,93.54 43.79,94.53 43.92,93.86 44.05,90.53 44.17,90.75 44.30,93.65 44.43,92.85 44.56,92.26 44.69,92.93 44.82,93.25 44.95,93.12 45.08,92.63 45.21,93.47 45.34,93.58 45.46,92.83 45.59,93.88 45.72,94.50 45.85,92.52 45.98,92.09 46.11,91.85 46.24,91.54 46.37,92.97 46.50,91.22 46.63,91.68 46.75,94.89 46.88,91.28 47.01,92.78 47.14,92.95 47.27,93.22 47.40,91.75 47.53,92.98 47.66,92.80 47.79,92.14 47.92,91.42 48.04,94.26 48.17,93.16 48.30,93.72 48.43,93.29 48.56,93.76 48.69,91.46 48.82,92.99 48.95,92.64 49.08,92.64 49.21,92.22 49.33,91.39 49.46,90.68 49.59,91.57 49.72,92.95 49.85,93.01 49.98,93.76 50.11,95.08 50.24,94.56 50.37,92.49 50.50,92.30 50.62,93.57 50.75,92.14 50.88,93.32 51.01,91.75 51.14,92.96 51.27,92.45 51.40,93.64 51.53,94.45 51.66,91.69 51.79,91.85 51.91,93.43 52.04,94.48 52.17,93.93 52.30,91.68 52.43,91.06 52.56,93.51 52.69,92.34 52.82,91.54 52.95,90.44 53.08,92.28 53.20,90.86 53.33,94.22 53.46,92.43 53.59,93.02 53.72,91.82 53.85,91.70 53.98,95.29 54.11,94.57 54.24,92.09 54.37,91.09 54.49,92.37 54.62,91.50 54.75,91.94 54.88,90.50 55.01,91.70 55.14,91.75 55.27,92.99 55.40,91.30 55.53,92.75 55.66,92.78 55.78,91.25 55.91,90.99 56.04,92.49 56.17,92.23 56.30,91.36 56.43,91.84 56.56,91.78 56.69,93.55 56.82,90.76 56.95,92.48 57.07,93.72 57.20,92.82 57.33,90.13 57.46,91.55 57.59,91.11 57.72,91.98 57.85,90.19 57.98,91.13 58.11,90.99 58.24,90.33 58.36,90.02 58.49,91.90 58.62,92.05 58.75,92.24 58.88,89.85 59.01,89.27 59.14,90.41 59.27,89.84 59.40,88.55 59.53,88.64 59.65,89.53 59.78,88.35 59.91,90.63 60.04,90.53 60.17,90.13 60.30,90.18 60.43,90.34 60.56,91.41 60.69,91.04 60.82,89.36 60.94,87.64 61.07,88.73 61.20,88.56 61.33,88.98 61.46,88.40 61.59,89.32 61.72,88.84 61.85,88.30 61.98,90.89 62.11,89.10 62.23,86.71 62.36,87.84 62.49,88.80 62.62,90.35 62.75,89.39 62.88,90.31 63.01,88.03 63.14,89.49 63.27,88.57 63.40,85.82 63.52,83.02 63.65,75.05 63.78,68.69 63.91,69.41 64.04,73.88 64.17,76.65 64.30,78.89 64.43,78.26 64.56,77.69 64.69,79.25 64.81,80.01 64.94,77.90 65.07,80.67 65.20,79.44 65.33,78.30 65.46,79.86 65.59,82.65 65.72,80.20 65.85,82.04 65.98,82.95 66.10,82.22 66.23,85.50 66.36,83.58 66.49,82.73 66.62,83.64 66.75,85.21 66.88,86.33 67.01,86.65 67.14,86.74 67.27,88.55 67.39,85.67 67.52,86.59 67.65,87.35 67.78,87.94 67.91,88.13 68.04,89.96 68.17,88.90 68.30,89.20 68.43,88.44 68.56,89.76 68.68,90.44 68.81,89.71 68.94,92.33 69.07,91.01 69.20,90.66 69.33,91.18 69.46,92.44 69.59,92.11 69.72,90.12 69.85,89.98 69.97,89.20 70.10,90.37 70.23,90.99 70.36,90.82 70.49,91.59 70.62,91.90 70.75,91.51 70.88,92.30 71.01,92.28 71.14,92.59 71.26,90.11 71.39,90.83 71.52,87.23 71.65,91.10 71.78,90.77 71.91,90.07 72.04,92.18 72.17,91.18 72.30,94.25 72.43,92.33 72.55,93.55 72.68,92.79 72.81,93.25 72.94,91.12 73.07,91.85 73.20,90.52 73.33,91.87 73.46,93.55 73.59,92.10 73.72,92.17 73.84,92.56 73.97,93.45 74.10,95.14 74.23,91.76 74.36,92.86 74.49,91.94 74.62,90.95 74.75,91.55 74.88,91.41 75.01,91.54 75.13,91.91 75.26,93.79 75.39,93.61 75.52,94.00 75.65,92.82 75.78,94.29 75.91,92.37 76.04,91.23 76.17,92.13 76.30,93.75 76.42,94.62 76.55,95.51 76.68,91.78 76.81,90.50 76.94,94.95 77.07,93.13 77.20,92.42 77.33,90.90 77.46,92.11 77.59,92.44 77.71,93.49 77.84,93.24 77.97,92.70 78.10,93.19 78.23,93.02 78.36,92.07 78.49,93.05 78.62,91.45 78.75,91.93 78.88,94.40 79.00,93.83 79.13,90.86 79.26,92.65 79.39,95.43 79.52,92.97 79.65,94.14 79.78,93.22 79.91,92.99 80.04,92.52 80.17,93.11 80.29,92.87 80.42,92.19 80.55,94.67 80.68,91.46 80.81,92.54 80.94,94.89 81.07,90.88 81.20,92.66 81.33,92.56 81.46,92.88 81.58,92.89 81.71,92.82 81.84,92.42 81.97,91.49 82.10,92.24 82.23,92.84 82.36,92.78 82.49,93.98 82.62,91.36 82.75,93.31 82.87,93.11 83.00,93.87 83.13,92.73 83.26,95.71 83.39,91.84 83.52,93.26 83.65,89.95 83.78,94.29 83.91,93.21 84.04,91.18 84.16,93.40 84.29,92.16 84.42,92.52 84.55,91.49 84.68,92.43 84.81,93.14 84.94,93.08 85.07,92.51 85.20,93.29 85.33,92.33 85.45,93.40 85.58,93.23 85.71,92.54 85.84,93.02 85.97,91.35 86.10,91.71 86.23,92.14 86.36,95.01 86.49,91.18 86.62,91.52 86.74,93.82 86.87,90.47 87.00,90.01 87.13,91.35 87.26,90.22 87.39,89.11 87.52,90.36 87.65,90.42 87.78,89.91 87.91,90.06 88.03,90.91 88.16,89.32 88.29,90.61 88.42,89.59 88.55,90.35 88.68,92.68 88.81,89.20 88.94,93.82 89.07,91.64 89.20,92.02 89.32,93.69 89.45,94.16 89.58,92.37 89.71,92.70 89.84,93.73 89.97,92.99 90.10,94.75 90.23,89.99 90.36,94.81 90.49,93.95 90.61,93.64 90.74,92.27 90.87,91.18 91.00,93.66 91.13,92.01 91.26,91.48 91.39,93.32 91.52,94.76 91.65,91.45 91.78,92.79 91.90,93.35 92.03,89.79 92.16,92.50 92.29,91.99 92.42,90.59 92.55,92.44 92.68,91.40 92.81,91.37 92.94,88.42 93.07,88.17 93.19,88.22 93.32,87.44 93.45,89.68 93.58,89.63 93.71,87.19 93.84,86.00 93.97,85.22 94.10,84.33 94.23,84.34 94.36,81.91 94.48,83.28 94.61,82.72 94.74,81.62 94.87,82.16 95.00,82.72 95.13,84.36 95.26,83.13 95.39,82.45 95.52,83.64 95.65,85.58 95.77,82.39 95.90,83.74 96.03,85.39 96.16,84.84 96.29,84.95 96.42,87.34 96.55,88.58 96.68,87.93 96.81,87.40 96.94,89.30 97.06,89.06 97.19,89.27 97.32,91.00 97.45,91.56 97.58,90.25 97.71,90.94 97.84,93.11 97.97,90.40 98.10,94.86 98.23,94.28 98.35,93.31 98.48,91.77 98.61,93.98 98.74,94.09 98.87,90.16 99.00,94.86 99.13,94.57 99.26,94.65 99.39,94.41 99.52,93.00 99.64,94.69 99.77,91.83 99.90,92.82 100.03,92.31 100.16,95.04 100.29,94.76 100.42,92.85 100.55,93.43 100.68,94.60 100.81,92.19 100.93,94.22 101.06,92.19 101.19,93.69 101.32,93.67 101.45,94.41 101.58,91.92 101.71,93.56 101.84,93.75 101.97,92.98 102.10,95.82 102.22,93.59 102.35,94.52 102.48,93.68 102.61,93.05 102.74,91.86 102.87,91.84 103.00,94.13 103.13,93.24 103.26,93.09 103.39,92.63 103.51,93.36 103.64,91.20 103.77,93.15 103.90,92.45 104.03,92.53 104.16,94.15 104.29,92.07 104.42,92.23 104.55,91.68 104.68,93.75 104.80,92.83 104.93,93.98 105.06,93.10 105.19,92.72 105.32,92.96 105.45,93.59 105.58,92.00 105.71,93.96 105.84,97.21 105.97,95.07 106.09,94.48 106.22,92.90 106.35,94.00 106.48,92.73 106.61,93.79 106.74,94.92 106.87,94.33 107.00,95.01 107.13,92.76 107.26,93.30 107.38,94.99 107.51,92.46 107.64,93.54 107.77,93.11 107.90,93.40 108.03,94.98 108.16,93.81 108.29,93.80 108.42,93.55 108.55,91.45 108.67,92.48 108.80,93.83 108.93,92.55 109.06,94.21 109.19,91.21 109.32,93.29 109.45,90.32 109.58,93.56 109.71,93.08 109.84,92.58 109.96,94.76 110.09,91.85 110.22,97.13 110.35,94.51 110.48,93.18 110.61,92.90 110.74,93.67 110.87,93.77 111.00,93.41 111.13,92.89 111.25,93.21 111.38,91.92 111.51,92.93 111.64,93.71 111.77,91.94 111.90,91.84 112.03,93.52 112.16,91.11 112.29,89.86 112.42,89.03 112.54,88.88 112.67,89.00 112.80,87.87 112.93,88.98 113.06,89.40 113.19,86.87 113.32,86.55 113.45,88.30 113.58,86.90 113.71,85.97 113.83,87.28 113.96,85.95 114.09,85.99 114.22,86.26 114.35,85.73 114.48,86.61 114.61,85.83 114.74,91.33 114.87,88.72 115.00,89.42 115.12,89.05 115.25,87.91 115.38,89.84 115.51,90.69 115.64,91.54 115.77,90.76 115.90,91.14 116.03,92.45 116.16,91.52 116.29,90.80 116.41,91.32 116.54,91.37 116.67,93.43 116.80,91.28 116.93,93.38 117.06,90.82 117.19,89.71 117.32,92.06 117.45,90.70 117.58,90.34 117.70,88.69 117.83,90.27 117.96,89.23 118.09,89.27 118.22,90.29 118.35,91.60 118.48,92.20 118.61,91.72 118.74,90.45 118.87,91.07 118.99,93.24 119.12,92.26 119.25,92.09 119.38,93.82 119.51,92.30 119.64,92.66 119.77,91.92 119.90,93.73 120.03,93.97 120.16,93.10 120.28,94.76 120.41,94.60 120.54,94.64 120.67,93.21 120.80,90.76 120.93,95.01 121.06,94.32 121.19,94.38 121.32,95.81 121.45,89.88 121.57,93.00 121.70,91.55 121.83,91.58 121.96,91.96 122.09,92.79 122.22,94.56 122.35,92.67 122.48,93.88 122.61,92.02 122.74,91.82 122.86,93.68 122.99,95.29 123.12,93.10 123.25,96.80 123.38,93.74 123.51,95.82 123.64,93.97 123.77,94.06 123.90,93.79 124.03,93.45 124.15,93.22 124.28,94.73 124.41,94.81 124.54,93.83 124.67,93.05 124.80,94.16 124.93,91.20 125.06,92.13 125.19,92.82 125.32,93.68 125.44,94.39 125.57,95.57 125.70,93.73 125.83,92.15 125.96,93.88 126.09,93.27 126.22,91.22 126.35,94.01 126.48,92.63 126.61,92.95 126.73,93.48 126.86,93.93 126.99,93.07 127.12,92.17 127.25,92.57 127.38,92.24 127.51,94.33 127.64,91.99 127.77,93.35 127.90,93.31 128.02,92.32 128.15,93.48 128.28,92.14 128.41,93.00 128.54,94.61 128.67,94.90 128.80,91.49 128.93,94.47 129.06,93.31 129.19,93.41 129.31,93.28 129.44,94.69 129.57,95.24 129.70,95.74 129.83,93.77 129.96,95.59 130.09,95.19 130.22,94.00 130.35,94.68 130.48,93.19 130.60,94.73 130.73,94.31 130.86,94.29 130.99,93.73 131.12,97.24 131.25,95.15 131.38,93.67 131.51,92.80 131.64,93.17 131.77,94.22 131.89,93.66 132.02,91.32 132.15,94.32 132.28,93.63 132.41,95.41 132.54,94.33 132.67,93.40 132.80,91.55 132.93,93.40 133.06,94.61 133.18,95.16 133.31,94.02 133.44,91.67 133.57,92.87 133.70,93.39 133.83,93.46 133.96,93.39 134.09,95.32 134.22,93.41 134.35,94.46 134.47,93.88 134.60,91.95 134.73,93.75 134.86,93.18 134.99,94.55 135.12,92.18 135.25,93.00 135.38,92.17 135.51,94.19 135.64,93.14 135.76,94.91 135.89,92.25 136.02,93.36 136.15,93.49 136.28,95.70 136.41,92.62 136.54,93.18 136.67,91.41 136.80,92.27 136.93,93.89 137.05,93.52 137.18,93.75 137.31,92.41 137.44,93.86 137.57,93.79 137.70,93.45 137.83,93.79 137.96,91.85 138.09,94.17 138.22,93.75 138.34,93.86 138.47,93.80 138.60,92.05 138.73,95.37 138.86,93.31 138.99,92.89 139.12,93.99 139.25,90.77 139.38,95.35 139.51,92.43 139.63,92.79 139.76,94.04 139.89,94.39 140.02,96.30 140.15,94.89 140.28,94.71 140.41,92.18 140.54,93.07 140.67,94.10 140.80,93.17 140.92,91.85 141.05,93.98 141.18,92.67 141.31,94.92 141.44,93.00 141.57,95.79 141.70,93.50 141.83,95.31 141.96,94.28 142.09,95.08 142.21,93.50 142.34,93.84 142.47,94.61 142.60,92.35 142.73,92.69 142.86,93.44 142.99,94.60 143.12,95.06 143.25,93.45 143.38,93.46 143.50,91.98 143.63,94.03 143.76,93.51 143.89,95.38 144.02,94.09 144.15,93.84 144.28,92.42 144.41,92.70 144.54,94.67 144.67,92.63 144.79,94.00 144.92,93.68 145.05,93.89 145.18,93.83 145.31,94.44 145.44,93.00 145.57,94.86 145.70,93.08 145.83,92.69 145.96,91.11 146.08,92.50 146.21,93.49 146.34,92.70 146.47,90.80 146.60,92.40 146.73,93.46 146.86,94.24 146.99,94.43 147.12,94.76 147.25,93.91 147.37,92.60 147.50,93.83 147.63,93.29 147.76,92.51 147.89,92.82 148.02,91.05 148.15,92.63 148.28,94.76 148.41,92.27 148.54,92.64 148.66,94.10 148.79,91.85 148.92,93.08 149.05,94.23 149.18,93.31 149.31,92.65 149.44,93.88 149.57,92.84 149.70,91.43 149.83,92.60 149.95,93.07 150.08,94.21 150.21,92.78 150.34,92.52 150.47,93.96 150.60,91.88 150.73,92.08 150.86,93.51 150.99,92.04 151.12,92.36 151.24,92.16 151.37,93.48 151.50,92.46 151.63,94.88 151.76,92.03 151.89,92.09 152.02,93.94 152.15,94.87 152.28,93.35 152.41,92.95 152.53,92.02 152.66,94.65 152.79,92.91 152.92,93.67 153.05,93.49 153.18,93.47 153.31,94.02 153.44,95.59 153.57,92.93 153.70,93.10 153.82,94.12 153.95,92.95 154.08,91.78 154.21,94.36 154.34,91.28 154.47,93.78 154.60,90.71 154.73,92.85 154.86,95.26 154.99,92.79 155.11,91.18 155.24,92.97 155.37,93.67 155.50,92.59 155.63,93.82 155.76,94.19 155.89,91.83 156.02,91.60 156.15,92.92 156.28,91.07 156.40,92.66 156.53,91.63 156.66,91.51 156.79,90.59 156.92,92.14 157.05,93.03 157.18,92.67 157.31,94.28 157.44,90.82 157.57,90.14 157.69,93.35 157.82,93.32 157.95,93.03 158.08,92.13 158.21,91.00 158.34,91.82 158.47,91.62 158.60,92.27 158.73,90.94 158.86,91.45 158.98,91.33 159.11,91.64 159.24,91.05 159.37,91.38 159.50,92.71 159.63,90.67 159.76,90.09 159.89,89.03 160.02,92.26 160.15,90.86 160.27,92.65 160.40,92.56 160.53,91.90 160.66,90.45 160.79,91.92 160.92,92.97 161.05,91.22 161.18,90.82 161.31,90.41 161.44,91.73 161.56,90.71 161.69,89.89 161.82,89.22 161.95,89.14 162.08,89.86 162.21,86.53 162.34,89.32 162.47,90.19 162.60,91.01 162.73,91.10 162.85,91.94 162.98,89.97 163.11,93.85 163.24,88.84 163.37,88.86 163.50,87.65 163.63,88.21 163.76,90.17 163.89,89.92 164.02,92.01 164.14,89.81 164.27,88.67 164.40,90.73 164.53,88.39 164.66,88.64 164.79,88.01 164.92,87.94 165.05,87.40 165.18,88.16 165.31,86.64 165.43,88.04 165.56,84.03 165.69,75.99 165.82,67.57 165.95,65.73 166.08,66.39 166.21,70.29 166.34,74.29 166.47,72.46 166.60,74.15 166.72,74.36 166.85,74.72 166.98,75.71 167.11,75.98 167.24,75.91 167.37,75.97 167.50,75.91 167.63,73.97 167.76,73.42 167.89,75.28 168.01,73.74 168.14,74.33 168.27,76.94 168.40,78.27 168.53,75.44 168.66,74.66 168.79,76.16 168.92,76.17 169.05,78.76 169.18,81.95 169.30,79.55 169.43,78.93 169.56,79.01 169.69,81.72 169.82,79.44 169.95,79.41 170.08,78.85 170.21,80.64 170.34,79.93 170.47,81.12 170.59,82.25 170.72,81.36 170.85,81.85 170.98,82.67 171.11,82.80 171.24,83.15 171.37,84.30 171.50,85.79 171.63,85.24 171.76,83.06 171.88,85.85 172.01,84.34 172.14,85.70 172.27,88.81 172.40,86.68 172.53,86.61 172.66,87.11 172.79,87.39 172.92,87.35 173.05,87.92 173.17,89.76 173.30,88.81 173.43,88.04 173.56,86.97 173.69,89.39 173.82,90.34 173.95,89.13 174.08,92.06 174.21,91.21 174.34,93.22 174.46,92.92 174.59,94.06 174.72,91.82 174.85,92.15 174.98,91.75 175.11,93.98 175.24,91.41 175.37,92.62 175.50,92.59 175.63,92.04 175.75,92.30 175.88,92.79 176.01,93.24 176.14,92.27 176.27,91.60 176.40,95.22 176.53,92.80 176.66,93.78 176.79,94.22 176.92,91.18 177.04,93.01 177.17,93.91 177.30,92.73 177.43,92.45 177.56,91.97 177.69,91.95 177.82,94.10 177.95,93.71 178.08,94.23 178.21,94.11 178.33,92.85 178.46,93.63 178.59,94.89 178.72,92.52 178.85,94.12 178.98,92.41 179.11,92.93 179.24,93.17 179.37,93.28 179.50,92.39 179.62,94.42 179.75,93.26 179.88,93.78 180.01,95.18 180.14,96.24 180.27,92.05 180.40,91.09 180.53,95.19 180.66,92.83 180.79,93.42 180.91,93.33 181.04,92.27 181.17,93.65 181.30,93.16 181.43,93.37 181.56,92.78 181.69,92.62 181.82,91.31 181.95,94.01 182.08,93.11 182.20,92.73 182.33,91.92 182.46,92.92 182.59,93.34 182.72,93.00 182.85,93.11 182.98,92.63 183.11,95.11 183.24,94.66 183.37,94.09 183.49,93.39 183.62,92.31 183.75,93.83 183.88,93.60 184.01,92.77 184.14,92.91 184.27,92.59 184.40,92.65 184.53,93.89 184.66,94.51 184.78,93.81 184.91,92.91 185.04,93.61 185.17,93.64 185.30,93.37 185.43,92.62 185.56,92.57 185.69,92.75 185.82,95.16 185.95,93.88 186.07,92.52 186.20,92.09 186.33,94.73 186.46,94.58 186.59,93.01 186.72,92.61 186.85,93.12 186.98,95.12 187.11,92.29 187.24,93.01 187.36,95.22 187.49,92.62 187.62,92.83 187.75,92.02 187.88,93.94 188.01,94.97 188.14,94.41 188.27,92.39 188.40,93.34 188.53,94.07 188.65,90.25 188.78,93.99 188.91,95.10 189.04,94.34 189.17,94.30 189.30,93.66 189.43,92.13 189.56,95.06 189.69,93.86 189.82,97.06 189.94,94.76 190.07,94.73 190.20,93.07 190.33,95.81 190.46,94.70 190.59,92.44 190.72,95.34 190.85,92.76 190.98,92.65 191.11,93.01 191.23,93.71 191.36,95.56 191.49,92.50 191.62,94.81 191.75,93.92 191.88,95.20 192.01,94.61 192.14,93.66 192.27,93.09 192.40,93.71 192.52,94.48 192.65,94.25 192.78,94.46 192.91,92.60 193.04,94.26 193.17,93.54 193.30,92.58 193.43,93.40 193.56,95.81 193.69,92.25 193.81,95.30 193.94,95.50 194.07,95.69 194.20,93.10 194.33,94.07 194.46,92.25 194.59,94.91 194.72,94.13 194.85,94.57 194.98,95.88 195.10,91.04 195.23,95.14 195.36,94.73 195.49,93.30 195.62,93.92 195.75,93.42 195.88,92.20 196.01,91.09 196.14,92.18 196.27,93.91 196.39,95.44 196.52,94.33 196.65,93.47 196.78,94.09 196.91,94.32 197.04,93.22 197.17,96.39 197.30,96.24 197.43,93.54 197.56,94.43 197.68,94.39 197.81,92.54 197.94,94.51 198.07,92.30 198.20,93.64 198.33,92.49 198.46,93.86 198.59,93.28 198.72,94.65 198.85,95.73 198.97,92.14 199.10,93.55 199.23,93.48 199.36,93.70 199.49,94.61 199.62,92.70 199.75,94.92 199.88,93.44 200.01,93.95 200.14,95.84 200.26,92.85 200.39,93.60 200.52,91.60 200.65,93.72 200.78,93.96 200.91,94.22 201.04,94.54 201.17,93.73 201.30,93.08 201.43,95.91 201.55,92.78 201.68,93.61 201.81,94.63 201.94,95.61 202.07,94.73 202.20,95.37 202.33,92.24 202.46,93.44" fill="none" stroke="#f1b3aa" stroke-width="1.1" stroke-linejoin="round" stroke-linecap="round"/>
<polyline points="30.50,77.97 30.63,80.12 30.76,78.81 30.89,78.73 31.02,82.77 31.14,79.32 31.27,77.92 31.40,80.34 31.53,76.14 31.66,79.42 31.79,79.84 31.92,78.76 32.05,78.38 32.18,79.58 32.31,77.78 32.43,80.10 32.56,77.37 32.69,79.13 32.82,79.73 32.95,79.23 33.08,80.26 33.21,80.11 33.34,77.34 33.47,80.31 33.60,77.20 33.72,78.54 33.85,78.55 33.98,79.34 34.11,78.56 34.24,80.59 34.37,79.03 34.50,78.39 34.63,78.16 34.76,80.58 34.89,77.70 35.01,82.04 35.14,79.98 35.27,78.81 35.40,76.91 35.53,77.58 35.66,77.79 35.79,79.66 35.92,78.71 36.05,78.72 36.18,79.12 36.30,77.25 36.43,79.38 36.56,78.83 36.69,78.51 36.82,81.41 36.95,78.02 37.08,78.15 37.21,79.64 37.34,80.81 37.47,77.46 37.60,79.41 37.72,78.64 37.85,80.87 37.98,79.03 38.11,78.26 38.24,78.92 38.37,77.68 38.50,78.41 38.63,77.90 38.76,79.20 38.89,77.44 39.01,78.05 39.14,79.23 39.27,81.22 39.40,80.07 39.53,78.95 39.66,81.83 39.79,81.88 39.92,78.48 40.05,80.73 40.18,80.18 40.30,78.30 40.43,82.89 40.56,78.94 40.69,78.24 40.82,80.04 40.95,79.96 41.08,78.94 41.21,80.87 41.34,79.72 41.47,80.65 41.59,79.45 41.72,79.76 41.85,79.22 41.98,79.38 42.11,78.19 42.24,78.95 42.37,78.52 42.50,77.63 42.63,78.60 42.76,77.58 42.88,78.43 43.01,79.12 43.14,77.34 43.27,78.74 43.40,80.43 43.53,79.82 43.66,79.88 43.79,77.42 43.92,79.00 44.05,76.96 44.17,78.94 44.30,79.45 44.43,79.79 44.56,80.85 44.69,79.07 44.82,77.92 44.95,78.52 45.08,78.95 45.21,79.24 45.34,79.41 45.46,79.87 45.59,79.13 45.72,80.78 45.85,77.46 45.98,77.66 46.11,77.45 46.24,81.01 46.37,82.05 46.50,78.88 46.63,77.83 46.75,78.67 46.88,79.76 47.01,79.65 47.14,79.74 47.27,79.27 47.40,79.09 47.53,77.63 47.66,79.05 47.79,80.28 47.92,77.60 48.04,78.94 48.17,79.70 48.30,78.84 48.43,80.24 48.56,77.95 48.69,79.66 48.82,79.08 48.95,78.86 49.08,77.88 49.21,76.54 49.33,78.28 49.46,80.90 49.59,79.58 49.72,78.91 49.85,79.11 49.98,77.73 50.11,79.11 50.24,77.52 50.37,78.49 50.50,78.17 50.62,77.83 50.75,80.01 50.88,79.12 51.01,78.65 51.14,78.26 51.27,78.31 51.40,76.47 51.53,77.70 51.66,78.98 51.79,77.98 51.91,79.41 52.04,78.96 52.17,78.46 52.30,76.21 52.43,80.39 52.56,77.07 52.69,78.19 52.82,77.49 52.95,78.15 53.08,77.07 53.20,78.39 53.33,78.73 53.46,78.89 53.59,76.64 53.72,75.63 53.85,77.34 53.98,77.92 54.11,76.96 54.24,77.58 54.37,77.52 54.49,78.29 54.62,79.21 54.75,77.60 54.88,77.52 55.01,78.35 55.14,77.75 55.27,78.98 55.40,79.99 55.53,79.53 55.66,76.76 55.78,76.13 55.91,77.99 56.04,78.31 56.17,76.47 56.30,76.93 56.43,78.50 56.56,76.93 56.69,79.14 56.82,79.48 56.95,78.55 57.07,75.90 57.20,77.33 57.33,79.59 57.46,78.70 57.59,77.77 57.72,77.11 57.85,77.23 57.98,75.19 58.11,76.62 58.24,76.17 58.36,74.60 58.49,76.86 58.62,77.72 58.75,75.10 58.88,76.76 59.01,76.64 59.14,76.83 59.27,76.76 59.40,76.10 59.53,75.31 59.65,74.20 59.78,75.27 59.91,75.32 60.04,77.26 60.17,76.76 60.30,76.57 60.43,74.67 60.56,77.84 60.69,74.11 60.82,75.10 60.94,74.22 61.07,75.54 61.20,75.03 61.33,75.07 61.46,73.36 61.59,76.98 61.72,73.61 61.85,73.73 61.98,74.76 62.11,73.96 62.23,72.97 62.36,73.07 62.49,74.88 62.62,75.25 62.75,72.65 62.88,73.20 63.01,75.05 63.14,75.63 63.27,73.93 63.40,72.60 63.52,68.30 63.65,59.29 63.78,52.47 63.91,56.01 64.04,60.27 64.17,63.34 64.30,63.80 64.43,65.44 64.56,65.57 64.69,66.38 64.81,65.42 64.94,65.82 65.07,66.78 65.20,66.19 65.33,65.73 65.46,65.36 65.59,67.29 65.72,66.83 65.85,69.06 65.98,68.58 66.10,67.18 66.23,68.00 66.36,69.82 66.49,66.59 66.62,70.39 66.75,70.48 66.88,69.34 67.01,71.73 67.14,73.48 67.27,72.65 67.39,73.39 67.52,73.07 67.65,75.76 67.78,74.48 67.91,74.03 68.04,74.00 68.17,75.23 68.30,74.54 68.43,76.25 68.56,75.42 68.68,79.33 68.81,76.54 68.94,77.77 69.07,78.83 69.20,76.46 69.33,78.50 69.46,72.92 69.59,74.88 69.72,77.61 69.85,78.34 69.97,75.61 70.10,76.61 70.23,76.40 70.36,78.00 70.49,78.26 70.62,76.31 70.75,78.44 70.88,76.54 71.01,77.05 71.14,76.74 71.26,76.83 71.39,77.58 71.52,77.14 71.65,74.70 71.78,79.22 71.91,77.83 72.04,78.46 72.17,79.03 72.30,79.13 72.43,80.47 72.55,77.76 72.68,76.31 72.81,78.00 72.94,77.60 73.07,79.77 73.20,76.94 73.33,76.95 73.46,76.79 73.59,81.41 73.72,79.38 73.84,78.84 73.97,79.15 74.10,79.32 74.23,79.12 74.36,79.07 74.49,78.47 74.62,78.81 74.75,77.98 74.88,79.94 75.01,79.43 75.13,79.36 75.26,76.93 75.39,79.76 75.52,77.38 75.65,77.09 75.78,80.49 75.91,79.58 76.04,78.10 76.17,80.78 76.30,78.61 76.42,77.82 76.55,78.27 76.68,79.39 76.81,78.12 76.94,78.49 77.07,76.24 77.20,79.01 77.33,78.86 77.46,76.91 77.59,78.55 77.71,78.59 77.84,79.10 77.97,78.57 78.10,78.35 78.23,77.35 78.36,77.98 78.49,77.60 78.62,77.76 78.75,77.49 78.88,77.91 79.00,79.73 79.13,77.40 79.26,78.69 79.39,79.94 79.52,80.21 79.65,78.42 79.78,79.08 79.91,79.06 80.04,79.48 80.17,79.02 80.29,77.59 80.42,78.21 80.55,79.51 80.68,78.39 80.81,80.66 80.94,79.50 81.07,78.32 81.20,77.92 81.33,78.63 81.46,79.19 81.58,78.87 81.71,78.76 81.84,78.12 81.97,76.57 82.10,79.44 82.23,78.99 82.36,77.47 82.49,82.15 82.62,80.90 82.75,78.43 82.87,80.63 83.00,81.73 83.13,77.75 83.26,79.90 83.39,79.90 83.52,76.62 83.65,79.27 83.78,77.20 83.91,79.01 84.04,78.48 84.16,79.51 84.29,80.48 84.42,79.96 84.55,77.55 84.68,78.87 84.81,78.65 84.94,79.34 85.07,79.04 85.20,79.30 85.33,78.32 85.45,78.68 85.58,79.45 85.71,79.10 85.84,75.65 85.97,76.40 86.10,77.66 86.23,75.83 86.36,76.96 86.49,74.91 86.62,75.80 86.74,73.48 86.87,73.65 87.00,73.85 87.13,72.70 87.26,74.11 87.39,74.45 87.52,71.86 87.65,76.64 87.78,76.22 87.91,76.45 88.03,76.59 88.16,75.95 88.29,76.26 88.42,76.70 88.55,78.89 88.68,77.56 88.81,75.91 88.94,79.41 89.07,78.84 89.20,78.41 89.32,76.25 89.45,79.22 89.58,80.23 89.71,78.41 89.84,77.78 89.97,78.40 90.10,78.67 90.23,78.99 90.36,76.60 90.49,78.59 90.61,79.96 90.74,80.38 90.87,78.82 91.00,77.74 91.13,78.91 91.26,76.46 91.39,77.25 91.52,78.14 91.65,76.88 91.78,78.37 91.90,78.31 92.03,78.64 92.16,78.71 92.29,77.03 92.42,75.98 92.55,77.62 92.68,76.12 92.81,77.01 92.94,73.63 93.07,76.61 93.19,74.96 93.32,74.03 93.45,72.73 93.58,74.58 93.71,72.07 93.84,71.80 93.97,69.98 94.10,71.65 94.23,68.94 94.36,67.23 94.48,69.56 94.61,69.85 94.74,67.33 94.87,69.66 95.00,68.19 95.13,67.86 95.26,68.34 95.39,69.72 95.52,69.40 95.65,69.04 95.77,69.00 95.90,70.78 96.03,72.90 96.16,72.62 96.29,71.26 96.42,73.67 96.55,74.11 96.68,74.31 96.81,74.24 96.94,73.88 97.06,77.45 97.19,75.84 97.32,75.71 97.45,76.56 97.58,76.80 97.71,76.84 97.84,78.66 97.97,78.74 98.10,79.46 98.23,77.33 98.35,79.02 98.48,78.80 98.61,80.70 98.74,79.31 98.87,79.72 99.00,81.76 99.13,79.16 99.26,79.40 99.39,79.55 99.52,78.08 99.64,79.32 99.77,78.66 99.90,80.44 100.03,78.02 100.16,77.34 100.29,76.07 100.42,78.86 100.55,77.60 100.68,77.40 100.81,76.76 100.93,77.44 101.06,76.74 101.19,77.34 101.32,75.75 101.45,78.77 101.58,75.59 101.71,75.70 101.84,76.54 101.97,75.13 102.10,76.84 102.22,77.17 102.35,79.64 102.48,75.96 102.61,79.42 102.74,74.99 102.87,78.45 103.00,79.50 103.13,77.75 103.26,77.20 103.39,78.53 103.51,77.40 103.64,79.91 103.77,78.72 103.90,78.95 104.03,79.57 104.16,79.32 104.29,79.27 104.42,77.95 104.55,79.70 104.68,78.55 104.80,80.22 104.93,80.24 105.06,78.98 105.19,80.02 105.32,80.01 105.45,78.20 105.58,78.44 105.71,80.14 105.84,78.50 105.97,80.16 106.09,79.99 106.22,78.57 106.35,78.30 106.48,79.94 106.61,78.51 106.74,78.97 106.87,81.70 107.00,78.17 107.13,78.79 107.26,80.03 107.38,79.08 107.51,78.75 107.64,77.81 107.77,78.14 107.90,80.68 108.03,81.03 108.16,79.44 108.29,79.85 108.42,78.72 108.55,79.11 108.67,81.16 108.80,79.51 108.93,80.34 109.06,80.22 109.19,79.80 109.32,78.38 109.45,78.52 109.58,79.98 109.71,78.89 109.84,81.42 109.96,76.80 110.09,78.99 110.22,79.20 110.35,78.86 110.48,80.88 110.61,80.02 110.74,80.15 110.87,78.95 111.00,78.29 111.13,77.42 111.25,79.66 111.38,78.24 111.51,77.62 111.64,78.90 111.77,76.02 111.90,76.80 112.03,78.03 112.16,76.71 112.29,76.95 112.42,76.24 112.54,76.76 112.67,74.85 112.80,73.96 112.93,72.04 113.06,72.77 113.19,72.79 113.32,72.01 113.45,71.31 113.58,70.97 113.71,73.73 113.83,71.57 113.96,72.73 114.09,73.34 114.22,71.50 114.35,73.29 114.48,76.90 114.61,74.82 114.74,76.93 114.87,76.35 115.00,76.02 115.12,77.68 115.25,76.62 115.38,77.17 115.51,77.76 115.64,77.90 115.77,77.84 115.90,77.10 116.03,77.37 116.16,77.78 116.29,79.18 116.41,76.21 116.54,76.06 116.67,77.56 116.80,78.60 116.93,75.14 117.06,75.69 117.19,74.96 117.32,74.61 117.45,73.12 117.58,72.07 117.70,74.38 117.83,71.00 117.96,72.56 118.09,74.18 118.22,71.98 118.35,75.09 118.48,73.70 118.61,77.20 118.74,75.45 118.87,76.41 118.99,78.00 119.12,75.37 119.25,76.00 119.38,80.11 119.51,78.15 119.64,79.58 119.77,79.33 119.90,80.00 120.03,78.18 120.16,77.26 120.28,78.18 120.41,80.51 120.54,79.66 120.67,79.54 120.80,77.38 120.93,78.17 121.06,81.36 121.19,79.45 121.32,77.88 121.45,78.29 121.57,80.07 121.70,80.18 121.83,79.19 121.96,79.33 122.09,76.95 122.22,80.54 122.35,80.65 122.48,81.25 122.61,78.63 122.74,78.71 122.86,78.93 122.99,79.03 123.12,80.14 123.25,79.33 123.38,77.51 123.51,76.73 123.64,80.97 123.77,77.95 123.90,80.11 124.03,79.16 124.15,79.14 124.28,77.86 124.41,79.66 124.54,79.31 124.67,78.94 124.80,78.02 124.93,78.59 125.06,78.95 125.19,79.44 125.32,81.19 125.44,80.09 125.57,78.84 125.70,81.86 125.83,79.99 125.96,80.16 126.09,78.68 126.22,80.12 126.35,80.67 126.48,77.81 126.61,80.10 126.73,79.06 126.86,78.87 126.99,82.23 127.12,79.79 127.25,78.89 127.38,79.29 127.51,79.18 127.64,78.14 127.77,80.89 127.90,77.89 128.02,78.64 128.15,77.76 128.28,79.59 128.41,79.26 128.54,78.41 128.67,78.56 128.80,78.91 128.93,80.40 129.06,79.50 129.19,80.34 129.31,80.17 129.44,77.05 129.57,79.48 129.70,79.18 129.83,77.55 129.96,78.25 130.09,79.11 130.22,78.21 130.35,81.09 130.48,79.28 130.60,79.22 130.73,80.68 130.86,81.61 130.99,79.55 131.12,80.23 131.25,78.90 131.38,80.73 131.51,80.78 131.64,79.85 131.77,78.71 131.89,79.38 132.02,77.74 132.15,78.25 132.28,79.92 132.41,78.57 132.54,79.26 132.67,78.80 132.80,78.04 132.93,79.10 133.06,78.27 133.18,80.32 133.31,79.82 133.44,77.41 133.57,79.88 133.70,80.62 133.83,78.19 133.96,81.01 134.09,78.92 134.22,78.10 134.35,79.66 134.47,78.65 134.60,80.91 134.73,80.03 134.86,79.17 134.99,77.79 135.12,79.61 135.25,77.58 135.38,78.10 135.51,78.63 135.64,77.93 135.76,77.33 135.89,77.47 136.02,79.49 136.15,80.77 136.28,80.96 136.41,80.27 136.54,80.20 136.67,79.13 136.80,78.54 136.93,80.00 137.05,81.06 137.18,78.35 137.31,78.24 137.44,79.60 137.57,79.54 137.70,78.50 137.83,79.02 137.96,82.60 138.09,78.22 138.22,80.47 138.34,79.13 138.47,79.66 138.60,77.66 138.73,81.46 138.86,80.40 138.99,78.58 139.12,79.30 139.25,78.81 139.38,80.60 139.51,77.47 139.63,78.39 139.76,80.01 139.89,79.57 140.02,79.09 140.15,79.23 140.28,80.01 140.41,78.93 140.54,78.10 140.67,80.78 140.80,77.29 140.92,79.38 141.05,77.33 141.18,78.65 141.31,79.63 141.44,79.14 141.57,80.76 141.70,80.29 141.83,78.25 141.96,80.13 142.09,80.96 142.21,80.32 142.34,79.66 142.47,78.56 142.60,81.13 142.73,78.17 142.86,80.51 142.99,79.49 143.12,80.22 143.25,78.26 143.38,79.03 143.50,80.74 143.63,78.89 143.76,79.69 143.89,76.95 144.02,80.46 144.15,80.25 144.28,78.38 144.41,78.55 144.54,78.44 144.67,79.70 144.79,78.91 144.92,80.85 145.05,79.00 145.18,79.01 145.31,79.57 145.44,78.31 145.57,78.96 145.70,79.24 145.83,81.01 145.96,78.65 146.08,78.02 146.21,78.92 146.34,80.93 146.47,79.16 146.60,81.15 146.73,77.98 146.86,79.32 146.99,82.89 147.12,78.69 147.25,81.39 147.37,80.01 147.50,78.04 147.63,79.16 147.76,79.40 147.89,78.77 148.02,79.03 148.15,81.03 148.28,77.71 148.41,79.76 148.54,77.52 148.66,82.75 148.79,76.85 148.92,77.70 149.05,80.13 149.18,78.42 149.31,79.17 149.44,77.99 149.57,77.00 149.70,80.32 149.83,78.96 149.95,78.88 150.08,79.23 150.21,79.60 150.34,81.55 150.47,78.99 150.60,78.13 150.73,76.36 150.86,79.56 150.99,78.83 151.12,79.37 151.24,78.60 151.37,78.16 151.50,79.32 151.63,78.92 151.76,80.66 151.89,78.35 152.02,80.58 152.15,78.77 152.28,79.24 152.41,79.82 152.53,80.83 152.66,77.09 152.79,77.22 152.92,79.79 153.05,77.44 153.18,79.43 153.31,76.30 153.44,77.53 153.57,78.85 153.70,75.77 153.82,79.76 153.95,79.07 154.08,79.61 154.21,79.71 154.34,79.32 154.47,79.27 154.60,80.72 154.73,76.80 154.86,78.20 154.99,77.84 155.11,77.54 155.24,80.24 155.37,80.76 155.50,79.28 155.63,79.22 155.76,78.18 155.89,76.62 156.02,77.63 156.15,77.49 156.28,76.61 156.40,78.00 156.53,78.19 156.66,77.38 156.79,78.96 156.92,76.92 157.05,78.53 157.18,74.80 157.31,76.90 157.44,77.29 157.57,77.34 157.69,77.07 157.82,79.04 157.95,75.96 158.08,77.87 158.21,76.80 158.34,77.46 158.47,76.23 158.60,77.57 158.73,78.63 158.86,78.00 158.98,77.11 159.11,76.99 159.24,78.48 159.37,76.93 159.50,78.02 159.63,77.38 159.76,73.81 159.89,76.81 160.02,75.91 160.15,77.03 160.27,78.15 160.40,78.74 160.53,77.27 160.66,78.12 160.79,76.86 160.92,75.68 161.05,75.91 161.18,76.79 161.31,75.10 161.44,74.35 161.56,74.96 161.69,75.05 161.82,75.19 161.95,76.37 162.08,75.51 162.21,75.48 162.34,76.05 162.47,76.70 162.60,75.16 162.73,75.43 162.85,75.66 162.98,74.17 163.11,75.83 163.24,76.76 163.37,74.38 163.50,75.28 163.63,74.55 163.76,73.86 163.89,75.70 164.02,75.89 164.14,74.33 164.27,73.68 164.40,77.91 164.53,74.47 164.66,73.19 164.79,77.04 164.92,73.92 165.05,75.29 165.18,73.69 165.31,75.55 165.43,74.61 165.56,68.22 165.69,61.56 165.82,52.51 165.95,46.76 166.08,50.09 166.21,52.82 166.34,58.21 166.47,58.09 166.60,61.47 166.72,58.57 166.85,58.79 166.98,59.25 167.11,57.39 167.24,59.60 167.37,59.32 167.50,59.05 167.63,61.78 167.76,60.19 167.89,61.07 168.01,61.66 168.14,61.43 168.27,61.80 168.40,62.11 168.53,61.20 168.66,60.08 168.79,61.34 168.92,62.63 169.05,65.08 169.18,64.79 169.30,63.80 169.43,62.85 169.56,64.24 169.69,63.63 169.82,64.24 169.95,63.11 170.08,64.77 170.21,67.13 170.34,67.79 170.47,67.07 170.59,67.36 170.72,68.45 170.85,68.91 170.98,68.99 171.11,70.65 171.24,68.92 171.37,70.03 171.50,68.64 171.63,69.07 171.76,68.64 171.88,69.52 172.01,69.78 172.14,69.99 172.27,71.73 172.40,73.87 172.53,72.63 172.66,74.18 172.79,74.12 172.92,72.10 173.05,73.40 173.17,73.93 173.30,74.66 173.43,75.99 173.56,74.15 173.69,74.40 173.82,75.85 173.95,75.33 174.08,76.52 174.21,75.01 174.34,76.67 174.46,78.27 174.59,77.11 174.72,77.28 174.85,76.80 174.98,77.69 175.11,77.23 175.24,78.22 175.37,75.31 175.50,78.34 175.63,77.25 175.75,77.90 175.88,78.17 176.01,77.25 176.14,78.69 176.27,79.92 176.40,77.08 176.53,77.97 176.66,77.38 176.79,79.41 176.92,77.57 177.04,77.19 177.17,78.82 177.30,76.10 177.43,78.38 177.56,79.74 177.69,79.18 177.82,78.94 177.95,78.04 178.08,80.29 178.21,77.52 178.33,77.93 178.46,77.47 178.59,78.69 178.72,77.94 178.85,76.45 178.98,78.79 179.11,78.38 179.24,78.56 179.37,78.86 179.50,80.08 179.62,79.75 179.75,79.66 179.88,79.91 180.01,78.83 180.14,79.11 180.27,80.18 180.40,77.46 180.53,78.51 180.66,77.50 180.79,77.65 180.91,77.69 181.04,80.85 181.17,80.18 181.30,78.95 181.43,77.95 181.56,77.91 181.69,75.93 181.82,77.11 181.95,77.57 182.08,76.99 182.20,77.45 182.33,76.74 182.46,80.17 182.59,80.44 182.72,80.97 182.85,80.89 182.98,80.36 183.11,77.56 183.24,79.66 183.37,79.57 183.49,78.12 183.62,80.84 183.75,78.62 183.88,80.65 184.01,79.90 184.14,78.88 184.27,77.08 184.40,79.85 184.53,78.31 184.66,78.92 184.78,78.91 184.91,80.11 185.04,79.56 185.17,76.78 185.30,78.67 185.43,80.98 185.56,80.55 185.69,78.92 185.82,79.04 185.95,78.18 186.07,80.01 186.20,77.92 186.33,79.01 186.46,79.44 186.59,79.44 186.72,79.12 186.85,81.54 186.98,78.42 187.11,81.25 187.24,77.60 187.36,78.23 187.49,79.10 187.62,78.61 187.75,81.00 187.88,79.82 188.01,76.85 188.14,79.31 188.27,80.33 188.40,79.80 188.53,78.22 188.65,79.59 188.78,78.99 188.91,79.65 189.04,79.07 189.17,80.11 189.30,77.20 189.43,80.19 189.56,78.01 189.69,78.84 189.82,81.02 189.94,79.29 190.07,79.41 190.20,77.78 190.33,79.75 190.46,80.43 190.59,78.94 190.72,79.50 190.85,79.77 190.98,80.52 191.11,78.60 191.23,80.54 191.36,79.28 191.49,80.16 191.62,80.14 191.75,79.74 191.88,80.77 192.01,82.39 192.14,79.42 192.27,80.25 192.40,80.58 192.52,80.44 192.65,79.23 192.78,79.08 192.91,77.32 193.04,79.50 193.17,79.78 193.30,81.08 193.43,80.52 193.56,77.47 193.69,78.81 193.81,80.46 193.94,80.75 194.07,78.48 194.20,79.92 194.33,79.84 194.46,80.27 194.59,79.71 194.72,76.92 194.85,79.90 194.98,81.22 195.10,80.80 195.23,79.37 195.36,78.32 195.49,80.13 195.62,80.13 195.75,79.27 195.88,77.54 196.01,80.76 196.14,79.76 196.27,77.21 196.39,80.13 196.52,79.02 196.65,80.16 196.78,79.78 196.91,81.14 197.04,79.19 197.17,80.25 197.30,80.17 197.43,78.93 197.56,80.39 197.68,78.60 197.81,79.43 197.94,80.37 198.07,81.91 198.20,77.69 198.33,79.49 198.46,79.34 198.59,79.08 198.72,82.51 198.85,79.31 198.97,78.28 199.10,77.92 199.23,79.25 199.36,78.75 199.49,79.05 199.62,79.85 199.75,81.21 199.88,78.69 200.01,78.47 200.14,78.51 200.26,80.21 200.39,77.14 200.52,78.29 200.65,81.39 200.78,79.41 200.91,78.43 201.04,80.10 201.17,80.35 201.30,79.95 201.43,79.13 201.55,80.88 201.68,82.02 201.81,81.22 201.94,80.28 202.07,79.04 202.20,79.51 202.33,78.85 202.46,79.29" fill="none" stroke="#e5897b" stroke-width="1.2" stroke-linejoin="round" stroke-linecap="round"/>
<polyline points="30.50,65.67 30.63,66.21 30.76,66.99 30.89,65.18 31.02,65.54 31.14,67.48 31.27,65.61 31.40,65.48 31.53,64.19 31.66,67.10 31.79,68.16 31.92,64.64 32.05,67.72 32.18,65.71 32.31,66.88 32.43,65.57 32.56,66.52 32.69,66.69 32.82,68.32 32.95,67.14 33.08,65.96 33.21,64.99 33.34,66.10 33.47,65.47 33.60,65.07 33.72,65.08 33.85,65.86 33.98,66.17 34.11,66.26 34.24,65.80 34.37,67.03 34.50,66.65 34.63,66.75 34.76,66.47 34.89,66.91 35.01,64.68 35.14,65.30 35.27,65.26 35.40,65.86 35.53,65.88 35.66,66.77 35.79,67.50 35.92,65.26 36.05,68.04 36.18,65.95 36.30,66.74 36.43,65.14 36.56,67.44 36.69,67.28 36.82,65.47 36.95,66.53 37.08,66.85 37.21,67.47 37.34,67.64 37.47,66.56 37.60,65.56 37.72,67.11 37.85,66.98 37.98,66.78 38.11,64.75 38.24,65.88 38.37,65.72 38.50,63.33 38.63,67.17 38.76,63.63 38.89,68.71 39.01,66.41 39.14,66.65 39.27,66.06 39.40,65.36 39.53,65.66 39.66,67.32 39.79,66.16 39.92,65.17 40.05,67.19 40.18,66.92 40.30,64.77 40.43,67.48 40.56,65.52 40.69,64.76 40.82,67.60 40.95,64.72 41.08,65.92 41.21,66.35 41.34,65.05 41.47,66.73 41.59,65.49 41.72,66.38 41.85,66.00 41.98,67.35 42.11,65.64 42.24,66.21 42.37,66.46 42.50,66.79 42.63,63.40 42.76,67.09 42.88,65.89 43.01,65.55 43.14,67.20 43.27,65.71 43.40,66.10 43.53,65.27 43.66,65.79 43.79,65.63 43.92,66.06 44.05,66.80 44.17,63.83 44.30,65.11 44.43,65.80 44.56,64.75 44.69,63.40 44.82,65.95 44.95,63.79 45.08,63.49 45.21,64.58 45.34,67.05 45.46,65.07 45.59,66.49 45.72,66.46 45.85,64.33 45.98,66.67 46.11,65.46 46.24,66.60 46.37,64.99 46.50,65.81 46.63,63.25 46.75,64.33 46.88,65.08 47.01,66.28 47.14,66.12 47.27,66.21 47.40,67.99 47.53,66.09 47.66,67.22 47.79,65.63 47.92,67.24 48.04,67.98 48.17,65.75 48.30,66.10 48.43,66.14 48.56,67.35 48.69,67.16 48.82,64.89 48.95,65.42 49.08,66.44 49.21,67.85 49.33,66.76 49.46,64.78 49.59,64.93 49.72,64.14 49.85,64.18 49.98,64.74 50.11,67.44 50.24,65.16 50.37,65.81 50.50,67.92 50.62,65.16 50.75,64.64 50.88,65.66 51.01,65.83 51.14,65.93 51.27,64.14 51.40,63.16 51.53,65.16 51.66,67.25 51.79,65.72 51.91,66.37 52.04,65.31 52.17,66.61 52.30,65.11 52.43,64.74 52.56,66.10 52.69,64.07 52.82,64.19 52.95,64.53 53.08,67.82 53.20,65.65 53.33,65.80 53.46,68.24 53.59,65.50 53.72,67.87 53.85,66.37 53.98,64.67 54.11,64.30 54.24,64.34 54.37,63.61 54.49,65.23 54.62,64.81 54.75,65.29 54.88,64.76 55.01,65.34 55.14,64.33 55.27,64.99 55.40,65.45 55.53,65.48 55.66,66.61 55.78,64.74 55.91,64.88 56.04,67.07 56.17,64.01 56.30,65.07 56.43,66.98 56.56,65.48 56.69,63.60 56.82,64.78 56.95,64.51 57.07,66.51 57.20,65.43 57.33,63.90 57.46,65.47 57.59,65.26 57.72,64.10 57.85,64.76 57.98,64.54 58.11,65.10 58.24,63.16 58.36,64.11 58.49,66.18 58.62,62.87 58.75,65.28 58.88,64.86 59.01,62.89 59.14,64.48 59.27,65.53 59.40,63.65 59.53,63.25 59.65,61.31 59.78,62.00 59.91,62.79 60.04,64.52 60.17,65.60 60.30,62.45 60.43,62.96 60.56,62.56 60.69,64.41 60.82,63.20 60.94,62.44 61.07,60.50 61.20,61.89 61.33,62.80 61.46,62.23 61.59,62.25 61.72,62.94 61.85,63.38 61.98,60.94 62.11,61.27 62.23,63.12 62.36,61.60 62.49,61.37 62.62,62.72 62.75,62.01 62.88,61.50 63.01,60.66 63.14,61.87 63.27,60.56 63.40,59.39 63.52,52.65 63.65,45.10 63.78,37.38 63.91,42.13 64.04,48.34 64.17,49.69 64.30,51.90 64.43,52.34 64.56,53.36 64.69,52.26 64.81,52.74 64.94,50.99 65.07,53.96 65.20,53.25 65.33,51.63 65.46,53.56 65.59,54.06 65.72,55.58 65.85,54.38 65.98,54.34 66.10,53.07 66.23,57.93 66.36,56.89 66.49,56.82 66.62,56.40 66.75,57.80 66.88,57.11 67.01,58.65 67.14,62.10 67.27,61.08 67.39,61.21 67.52,60.92 67.65,63.02 67.78,58.27 67.91,60.84 68.04,60.50 68.17,62.19 68.30,61.92 68.43,62.22 68.56,64.48 68.68,64.13 68.81,65.54 68.94,63.16 69.07,64.23 69.20,64.84 69.33,65.99 69.46,64.10 69.59,62.95 69.72,64.07 69.85,62.37 69.97,63.21 70.10,65.55 70.23,64.72 70.36,64.66 70.49,64.79 70.62,64.61 70.75,64.54 70.88,66.31 71.01,65.16 71.14,65.41 71.26,64.85 71.39,65.99 71.52,63.23 71.65,63.71 71.78,65.07 71.91,63.93 72.04,64.27 72.17,63.42 72.30,66.15 72.43,66.06 72.55,65.41 72.68,67.16 72.81,65.98 72.94,64.98 73.07,66.97 73.20,64.57 73.33,66.00 73.46,66.54 73.59,63.13 73.72,67.26 73.84,64.74 73.97,65.86 74.10,66.11 74.23,63.91 74.36,64.90 74.49,66.12 74.62,64.69 74.75,64.51 74.88,63.92 75.01,65.90 75.13,66.11 75.26,66.51 75.39,66.82 75.52,64.09 75.65,65.92 75.78,63.72 75.91,65.44 76.04,67.44 76.17,66.97 76.30,66.04 76.42,65.37 76.55,64.85 76.68,65.58 76.81,66.66 76.94,66.27 77.07,68.28 77.20,65.44 77.33,66.76 77.46,66.39 77.59,66.77 77.71,67.60 77.84,67.54 77.97,66.31 78.10,69.59 78.23,67.46 78.36,66.14 78.49,66.41 78.62,65.96 78.75,65.80 78.88,65.43 79.00,66.93 79.13,65.79 79.26,67.30 79.39,65.97 79.52,66.33 79.65,66.00 79.78,64.64 79.91,65.99 80.04,66.00 80.17,65.61 80.29,66.71 80.42,65.05 80.55,64.65 80.68,67.97 80.81,65.78 80.94,68.95 81.07,64.69 81.20,67.83 81.33,66.82 81.46,67.39 81.58,66.29 81.71,65.94 81.84,65.42 81.97,66.29 82.10,68.31 82.23,67.16 82.36,66.56 82.49,67.44 82.62,66.30 82.75,66.60 82.87,66.62 83.00,65.65 83.13,66.67 83.26,66.11 83.39,64.53 83.52,66.77 83.65,67.22 83.78,65.55 83.91,63.98 84.04,67.40 84.16,67.76 84.29,66.31 84.42,65.20 84.55,67.57 84.68,66.34 84.81,64.73 84.94,64.86 85.07,65.91 85.20,64.37 85.33,64.24 85.45,66.69 85.58,63.16 85.71,62.92 85.84,63.84 85.97,63.61 86.10,63.06 86.23,59.33 86.36,60.44 86.49,61.06 86.62,61.28 86.74,59.06 86.87,60.72 87.00,59.78 87.13,59.13 87.26,60.30 87.39,58.80 87.52,59.42 87.65,61.54 87.78,58.22 87.91,59.69 88.03,61.07 88.16,62.35 88.29,61.02 88.42,61.11 88.55,62.87 88.68,62.85 88.81,63.89 88.94,63.81 89.07,64.54 89.20,65.50 89.32,66.51 89.45,65.26 89.58,66.32 89.71,67.32 89.84,66.40 89.97,68.16 90.10,66.16 90.23,66.10 90.36,66.93 90.49,66.26 90.61,66.14 90.74,64.74 90.87,66.04 91.00,65.53 91.13,67.86 91.26,66.12 91.39,66.63 91.52,65.47 91.65,67.37 91.78,66.48 91.90,67.65 92.03,63.99 92.16,65.54 92.29,65.05 92.42,65.73 92.55,64.81 92.68,63.12 92.81,63.30 92.94,63.66 93.07,64.37 93.19,60.13 93.32,61.69 93.45,59.66 93.58,57.24 93.71,60.29 93.84,55.49 93.97,58.30 94.10,55.18 94.23,58.30 94.36,53.92 94.48,53.26 94.61,52.89 94.74,55.18 94.87,53.33 95.00,54.01 95.13,54.78 95.26,52.29 95.39,54.45 95.52,54.72 95.65,54.49 95.77,57.41 95.90,55.17 96.03,56.08 96.16,58.18 96.29,59.82 96.42,58.88 96.55,58.06 96.68,61.54 96.81,60.90 96.94,60.20 97.06,61.44 97.19,62.74 97.32,64.80 97.45,65.60 97.58,63.66 97.71,63.36 97.84,63.61 97.97,66.26 98.10,66.65 98.23,66.67 98.35,63.93 98.48,64.68 98.61,66.44 98.74,66.45 98.87,66.48 99.00,67.06 99.13,65.99 99.26,67.52 99.39,64.90 99.52,64.04 99.64,65.37 99.77,65.13 99.90,64.64 100.03,62.74 100.16,62.85 100.29,61.55 100.42,63.36 100.55,59.83 100.68,61.49 100.81,60.93 100.93,64.20 101.06,62.65 101.19,62.13 101.32,61.28 101.45,60.75 101.58,61.20 101.71,62.46 101.84,65.10 101.97,63.62 102.10,64.48 102.22,61.54 102.35,63.85 102.48,65.04 102.61,62.27 102.74,67.35 102.87,67.45 103.00,66.66 103.13,67.85 103.26,67.51 103.39,64.51 103.51,68.09 103.64,67.46 103.77,67.33 103.90,65.71 104.03,66.95 104.16,64.39 104.29,68.75 104.42,67.50 104.55,62.97 104.68,65.35 104.80,67.95 104.93,65.20 105.06,68.75 105.19,63.73 105.32,66.32 105.45,67.83 105.58,67.62 105.71,64.84 105.84,64.93 105.97,65.78 106.09,66.07 106.22,65.65 106.35,67.21 106.48,66.15 106.61,66.36 106.74,65.98 106.87,65.34 107.00,65.64 107.13,65.75 107.26,66.59 107.38,64.33 107.51,65.17 107.64,66.04 107.77,65.04 107.90,64.43 108.03,66.90 108.16,66.67 108.29,69.74 108.42,68.25 108.55,65.81 108.67,66.70 108.80,67.51 108.93,67.93 109.06,67.95 109.19,67.69 109.32,66.98 109.45,65.41 109.58,66.45 109.71,66.66 109.84,67.45 109.96,69.76 110.09,63.87 110.22,66.00 110.35,67.20 110.48,66.67 110.61,67.54 110.74,65.13 110.87,65.93 111.00,64.15 111.13,64.39 111.25,62.28 111.38,62.04 111.51,63.73 111.64,64.61 111.77,64.73 111.90,61.56 112.03,61.15 112.16,60.54 112.29,57.65 112.42,58.54 112.54,59.92 112.67,57.62 112.80,59.33 112.93,56.10 113.06,56.34 113.19,56.49 113.32,57.53 113.45,57.43 113.58,59.32 113.71,57.31 113.83,61.16 113.96,58.95 114.09,62.11 114.22,61.76 114.35,63.56 114.48,63.84 114.61,62.28 114.74,66.14 114.87,67.03 115.00,65.12 115.12,64.87 115.25,63.90 115.38,65.13 115.51,64.36 115.64,65.52 115.77,64.58 115.90,62.86 116.03,63.57 116.16,62.46 116.29,62.89 116.41,61.23 116.54,59.94 116.67,60.94 116.80,59.35 116.93,59.65 117.06,59.11 117.19,58.53 117.32,61.44 117.45,59.42 117.58,61.83 117.70,58.57 117.83,60.45 117.96,60.96 118.09,60.50 118.22,63.81 118.35,61.72 118.48,63.54 118.61,65.10 118.74,64.49 118.87,65.17 118.99,66.30 119.12,64.51 119.25,63.93 119.38,64.65 119.51,65.63 119.64,64.78 119.77,68.44 119.90,65.86 120.03,66.38 120.16,65.68 120.28,67.07 120.41,67.03 120.54,67.60 120.67,66.32 120.80,67.98 120.93,66.66 121.06,69.72 121.19,66.51 121.32,63.57 121.45,65.71 121.57,66.50 121.70,66.91 121.83,67.15 121.96,67.21 122.09,66.21 122.22,66.70 122.35,69.74 122.48,67.13 122.61,68.05 122.74,69.02 122.86,67.79 122.99,66.65 123.12,66.44 123.25,67.09 123.38,65.84 123.51,68.72 123.64,67.11 123.77,65.84 123.90,66.74 124.03,65.83 124.15,68.21 124.28,66.29 124.41,66.16 124.54,66.92 124.67,67.44 124.80,65.59 124.93,68.45 125.06,66.13 125.19,67.01 125.32,67.40 125.44,66.56 125.57,66.09 125.70,64.86 125.83,64.97 125.96,67.16 126.09,67.03 126.22,65.99 126.35,68.24 126.48,65.65 126.61,67.61 126.73,66.19 126.86,68.62 126.99,66.39 127.12,68.59 127.25,67.37 127.38,65.88 127.51,67.72 127.64,68.37 127.77,70.55 127.90,67.89 128.02,68.98 128.15,67.09 128.28,66.19 128.41,67.55 128.54,66.00 128.67,65.81 128.80,67.98 128.93,67.22 129.06,65.93 129.19,66.97 129.31,67.52 129.44,64.52 129.57,66.90 129.70,66.79 129.83,67.67 129.96,66.66 130.09,66.19 130.22,65.74 130.35,68.58 130.48,67.74 130.60,66.27 130.73,66.24 130.86,65.77 130.99,68.61 131.12,64.73 131.25,69.03 131.38,66.82 131.51,68.12 131.64,67.79 131.77,65.72 131.89,66.19 132.02,67.08 132.15,68.02 132.28,67.04 132.41,68.80 132.54,65.80 132.67,67.55 132.80,66.74 132.93,65.52 133.06,66.15 133.18,66.95 133.31,66.28 133.44,66.35 133.57,66.96 133.70,67.56 133.83,66.06 133.96,64.35 134.09,66.72 134.22,69.14 134.35,67.30 134.47,67.19 134.60,68.59 134.73,66.09 134.86,66.48 134.99,66.35 135.12,65.84 135.25,67.38 135.38,67.14 135.51,66.44 135.64,66.45 135.76,67.25 135.89,66.10 136.02,67.81 136.15,65.92 136.28,67.66 136.41,66.96 136.54,66.87 136.67,66.66 136.80,67.12 136.93,68.23 137.05,68.11 137.18,67.17 137.31,66.73 137.44,67.25 137.57,65.39 137.70,68.37 137.83,65.56 137.96,67.24 138.09,66.14 138.22,67.92 138.34,68.89 138.47,66.65 138.60,67.13 138.73,64.90 138.86,68.54 138.99,67.84 139.12,67.57 139.25,67.70 139.38,67.80 139.51,67.73 139.63,67.88 139.76,66.32 139.89,67.03 140.02,67.79 140.15,63.98 140.28,66.54 140.41,67.47 140.54,67.70 140.67,67.19 140.80,65.40 140.92,68.99 141.05,66.13 141.18,65.89 141.31,66.01 141.44,67.28 141.57,67.39 141.70,67.27 141.83,69.00 141.96,67.15 142.09,69.21 142.21,67.52 142.34,66.98 142.47,67.12 142.60,66.64 142.73,64.86 142.86,67.75 142.99,66.73 143.12,67.45 143.25,65.88 143.38,66.64 143.50,66.03 143.63,66.72 143.76,67.09 143.89,67.65 144.02,66.67 144.15,66.61 144.28,64.81 144.41,65.50 144.54,66.48 144.67,67.68 144.79,63.40 144.92,67.72 145.05,67.30 145.18,65.49 145.31,66.23 145.44,66.38 145.57,66.86 145.70,66.84 145.83,68.04 145.96,68.77 146.08,67.54 146.21,66.58 146.34,64.75 146.47,65.03 146.60,65.17 146.73,68.44 146.86,65.28 146.99,67.95 147.12,65.17 147.25,67.91 147.37,65.87 147.50,64.16 147.63,65.69 147.76,67.67 147.89,65.63 148.02,66.65 148.15,67.89 148.28,66.17 148.41,65.72 148.54,69.01 148.66,66.84 148.79,68.97 148.92,65.67 149.05,65.45 149.18,65.14 149.31,68.11 149.44,65.21 149.57,65.32 149.70,65.27 149.83,68.60 149.95,67.31 150.08,65.00 150.21,68.03 150.34,66.36 150.47,64.07 150.60,67.53 150.73,65.60 150.86,67.35 150.99,66.74 151.12,64.52 151.24,64.69 151.37,67.45 151.50,67.52 151.63,66.38 151.76,64.27 151.89,67.32 152.02,64.94 152.15,67.33 152.28,68.54 152.41,67.20 152.53,64.75 152.66,64.84 152.79,65.58 152.92,64.73 153.05,69.14 153.18,66.97 153.31,64.17 153.44,65.23 153.57,66.25 153.70,65.92 153.82,67.77 153.95,65.80 154.08,67.73 154.21,66.79 154.34,67.60 154.47,66.90 154.60,63.96 154.73,67.44 154.86,63.92 154.99,66.07 155.11,64.53 155.24,69.25 155.37,66.34 155.50,65.91 155.63,65.98 155.76,64.07 155.89,67.40 156.02,65.33 156.15,63.15 156.28,65.77 156.40,67.35 156.53,64.76 156.66,65.82 156.79,67.06 156.92,66.31 157.05,64.51 157.18,66.51 157.31,67.02 157.44,65.47 157.57,64.89 157.69,63.75 157.82,62.38 157.95,64.87 158.08,63.14 158.21,63.30 158.34,65.53 158.47,64.07 158.60,64.68 158.73,65.11 158.86,64.52 158.98,63.44 159.11,65.74 159.24,65.62 159.37,64.93 159.50,65.07 159.63,64.30 159.76,65.42 159.89,64.74 160.02,64.38 160.15,63.64 160.27,65.29 160.40,65.70 160.53,64.99 160.66,66.03 160.79,65.84 160.92,63.72 161.05,61.58 161.18,64.71 161.31,65.50 161.44,63.27 161.56,63.41 161.69,62.78 161.82,62.64 161.95,63.91 162.08,61.44 162.21,63.25 162.34,62.77 162.47,65.46 162.60,63.04 162.73,63.36 162.85,64.01 162.98,63.98 163.11,62.03 163.24,61.46 163.37,64.25 163.50,63.90 163.63,62.05 163.76,62.03 163.89,62.03 164.02,60.90 164.14,60.67 164.27,60.88 164.40,63.84 164.53,62.84 164.66,61.14 164.79,63.21 164.92,62.24 165.05,61.05 165.18,60.99 165.31,60.47 165.43,58.94 165.56,54.89 165.69,44.80 165.82,35.48 165.95,29.12 166.08,31.63 166.21,39.66 166.34,44.18 166.47,46.97 166.60,44.78 166.72,43.97 166.85,44.66 166.98,48.16 167.11,46.88 167.24,45.55 167.37,45.10 167.50,48.09 167.63,47.52 167.76,47.07 167.89,46.83 168.01,48.05 168.14,48.04 168.27,47.41 168.40,47.32 168.53,45.83 168.66,47.04 168.79,46.94 168.92,46.94 169.05,48.17 169.18,50.23 169.30,48.97 169.43,50.95 169.56,52.74 169.69,51.97 169.82,53.17 169.95,50.38 170.08,53.78 170.21,50.83 170.34,51.13 170.47,52.05 170.59,54.53 170.72,55.15 170.85,53.69 170.98,55.49 171.11,54.37 171.24,55.56 171.37,57.31 171.50,58.22 171.63,55.13 171.76,58.54 171.88,56.14 172.01,58.06 172.14,57.52 172.27,57.96 172.40,56.09 172.53,62.07 172.66,59.30 172.79,57.67 172.92,62.46 173.05,58.73 173.17,61.55 173.30,60.59 173.43,62.56 173.56,59.46 173.69,62.32 173.82,63.46 173.95,61.86 174.08,63.13 174.21,62.24 174.34,63.42 174.46,63.83 174.59,64.05 174.72,65.95 174.85,63.30 174.98,64.56 175.11,64.84 175.24,63.55 175.37,64.30 175.50,65.50 175.63,66.50 175.75,67.29 175.88,65.33 176.01,66.00 176.14,67.17 176.27,66.78 176.40,66.83 176.53,66.07 176.66,65.96 176.79,67.17 176.92,67.80 177.04,65.89 177.17,67.05 177.30,67.96 177.43,66.88 177.56,67.03 177.69,65.67 177.82,65.67 177.95,67.21 178.08,67.02 178.21,66.48 178.33,66.95 178.46,63.99 178.59,67.32 178.72,65.54 178.85,67.26 178.98,63.35 179.11,63.80 179.24,66.08 179.37,65.53 179.50,66.64 179.62,69.09 179.75,66.91 179.88,65.42 180.01,67.09 180.14,68.91 180.27,64.86 180.40,64.85 180.53,66.55 180.66,66.80 180.79,65.38 180.91,65.74 181.04,68.10 181.17,68.44 181.30,68.32 181.43,66.32 181.56,65.04 181.69,66.68 181.82,66.69 181.95,67.67 182.08,68.07 182.20,65.91 182.33,66.43 182.46,66.78 182.59,66.62 182.72,66.42 182.85,68.31 182.98,67.09 183.11,67.57 183.24,67.88 183.37,67.89 183.49,64.59 183.62,65.22 183.75,67.55 183.88,66.55 184.01,65.81 184.14,66.31 184.27,65.73 184.40,67.20 184.53,68.42 184.66,66.16 184.78,65.53 184.91,66.36 185.04,67.13 185.17,65.39 185.30,65.90 185.43,66.55 185.56,68.76 185.69,67.06 185.82,65.61 185.95,66.37 186.07,67.25 186.20,65.74 186.33,68.60 186.46,64.73 186.59,68.52 186.72,66.76 186.85,67.32 186.98,67.64 187.11,67.32 187.24,66.15 187.36,65.16 187.49,65.27 187.62,67.92 187.75,66.93 187.88,67.92 188.01,66.83 188.14,69.22 188.27,68.17 188.40,66.21 188.53,64.77 188.65,64.33 188.78,65.24 188.91,64.74 189.04,68.85 189.17,67.21 189.30,66.72 189.43,68.53 189.56,67.96 189.69,68.16 189.82,67.37 189.94,67.31 190.07,68.67 190.20,66.55 190.33,67.01 190.46,66.59 190.59,66.99 190.72,67.83 190.85,67.89 190.98,65.05 191.11,65.54 191.23,68.61 191.36,69.27 191.49,68.02 191.62,66.16 191.75,67.37 191.88,67.29 192.01,67.45 192.14,67.77 192.27,66.96 192.40,66.12 192.52,68.80 192.65,66.03 192.78,65.14 192.91,68.62 193.04,65.72 193.17,66.47 193.30,66.59 193.43,66.36 193.56,66.45 193.69,67.56 193.81,65.82 193.94,66.91 194.07,68.16 194.20,69.34 194.33,66.54 194.46,64.82 194.59,66.97 194.72,67.73 194.85,65.11 194.98,69.09 195.10,68.11 195.23,67.12 195.36,65.23 195.49,71.49 195.62,66.23 195.75,66.81 195.88,65.36 196.01,68.13 196.14,71.24 196.27,67.39 196.39,63.75 196.52,66.26 196.65,66.03 196.78,66.88 196.91,65.87 197.04,68.03 197.17,68.26 197.30,64.89 197.43,68.65 197.56,65.61 197.68,68.23 197.81,67.80 197.94,67.11 198.07,66.98 198.20,67.35 198.33,65.72 198.46,66.46 198.59,64.22 198.72,67.61 198.85,68.57 198.97,67.48 199.10,65.34 199.23,66.95 199.36,66.87 199.49,67.23 199.62,67.85 199.75,65.19 199.88,68.05 200.01,68.56 200.14,67.09 200.26,67.81 200.39,66.28 200.52,65.62 200.65,68.60 200.78,66.12 200.91,69.01 201.04,65.92 201.17,66.94 201.30,66.66 201.43,66.16 201.55,66.01 201.68,70.94 201.81,67.88 201.94,67.18 202.07,65.36 202.20,67.88 202.33,68.36 202.46,66.19" fill="none" stroke="#d96a58" stroke-width="1.3" stroke-linejoin="round" stroke-linecap="round"/>
<text x="201.50" y="62.94" font-size="7.1" text-anchor="end" fill="#111" font-weight="bold">100 nm</text>
<text x="201.50" y="77.84" font-size="7.1" text-anchor="end" fill="#111" font-weight="bold">60 nm</text>
<text x="201.50" y="90.04" font-size="7.1" text-anchor="end" fill="#111" font-weight="bold">40 nm</text>
<text x="201.50" y="104.44" font-size="7.1" text-anchor="end" fill="#111" font-weight="bold">20 nm</text>
<text x="201.50" y="115.84" font-size="7.1" text-anchor="end" fill="#111" font-weight="bold">10 nm</text>
<text x="201.50" y="129.54" font-size="7.1" text-anchor="end" fill="#111" font-weight="bold">6 nm</text>
<text x="201.50" y="143.84" font-size="7.1" text-anchor="end" fill="#111" font-weight="bold">4 nm</text>
<text x="89.70" y="53.00" font-size="6.6" text-anchor="start" fill="#111" font-weight="bold" transform="rotate(-90 89.70 53.00)"><tspan font-style="italic">m</tspan>(-111)</text>
<text x="97.70" y="44.20" font-size="6.6" text-anchor="start" fill="#111" font-weight="bold" transform="rotate(-90 97.70 44.20)"><tspan font-style="italic">o</tspan>(111)</text>
<text x="103.50" y="54.90" font-size="6.6" text-anchor="start" fill="#111" font-weight="bold" transform="rotate(-90 103.50 54.90)"><tspan font-style="italic">m</tspan>(111)</text>
<text x="114.10" y="51.80" font-size="6.6" text-anchor="start" fill="#111" font-weight="bold" transform="rotate(-90 114.10 51.80)"><tspan font-style="italic">m</tspan>(200)</text>
<text x="120.40" y="54.40" font-size="6.6" text-anchor="start" fill="#111" font-weight="bold" transform="rotate(-90 120.40 54.40)"><tspan font-style="italic">o</tspan>(002)</text>
<text x="38.60" y="28.62" font-size="9" text-anchor="middle" fill="#1a1a1a"></text>
<text x="37.90" y="28.80" font-size="9.5" text-anchor="start" fill="#000" font-weight="bold"><tspan font-style="italic">n</tspan> = 3</text>
<rect x="30.50" y="18.50" width="172.00" height="135.50" fill="none" stroke="#8a8a8a" stroke-width="1"/>
<line x1="30.50" y1="154.00" x2="30.50" y2="151.80" stroke="#8a8a8a" stroke-width="1"/>
<text x="30.50" y="163.88" font-size="8.6" text-anchor="middle" fill="#1a1a1a">15</text>
<line x1="52.00" y1="154.00" x2="52.00" y2="151.80" stroke="#8a8a8a" stroke-width="1"/>
<text x="52.00" y="163.88" font-size="8.6" text-anchor="middle" fill="#1a1a1a">20</text>
<line x1="73.50" y1="154.00" x2="73.50" y2="151.80" stroke="#8a8a8a" stroke-width="1"/>
<text x="73.50" y="163.88" font-size="8.6" text-anchor="middle" fill="#1a1a1a">25</text>
<line x1="95.00" y1="154.00" x2="95.00" y2="151.80" stroke="#8a8a8a" stroke-width="1"/>
<text x="95.00" y="163.88" font-size="8.6" text-anchor="middle" fill="#1a1a1a">30</text>
<line x1="116.50" y1="154.00" x2="116.50" y2="151.80" stroke="#8a8a8a" stroke-width="1"/>
<text x="116.50" y="163.88" font-size="8.6" text-anchor="middle" fill="#1a1a1a">35</text>
<line x1="138.00" y1="154.00" x2="138.00" y2="151.80" stroke="#8a8a8a" stroke-width="1"/>
<text x="138.00" y="163.88" font-size="8.6" text-anchor="middle" fill="#1a1a1a">40</text>
<line x1="159.50" y1="154.00" x2="159.50" y2="151.80" stroke="#8a8a8a" stroke-width="1"/>
<text x="159.50" y="163.88" font-size="8.6" text-anchor="middle" fill="#1a1a1a">45</text>
<line x1="181.00" y1="154.00" x2="181.00" y2="151.80" stroke="#8a8a8a" stroke-width="1"/>
<text x="181.00" y="163.88" font-size="8.6" text-anchor="middle" fill="#1a1a1a">50</text>
<line x1="202.50" y1="154.00" x2="202.50" y2="151.80" stroke="#8a8a8a" stroke-width="1"/>
<text x="202.50" y="163.88" font-size="8.6" text-anchor="middle" fill="#1a1a1a">55</text>
<line x1="41.25" y1="154.00" x2="41.25" y2="152.70" stroke="#8a8a8a" stroke-width="1"/>
<line x1="62.75" y1="154.00" x2="62.75" y2="152.70" stroke="#8a8a8a" stroke-width="1"/>
<line x1="84.25" y1="154.00" x2="84.25" y2="152.70" stroke="#8a8a8a" stroke-width="1"/>
<line x1="105.75" y1="154.00" x2="105.75" y2="152.70" stroke="#8a8a8a" stroke-width="1"/>
<line x1="127.25" y1="154.00" x2="127.25" y2="152.70" stroke="#8a8a8a" stroke-width="1"/>
<line x1="148.75" y1="154.00" x2="148.75" y2="152.70" stroke="#8a8a8a" stroke-width="1"/>
<line x1="170.25" y1="154.00" x2="170.25" y2="152.70" stroke="#8a8a8a" stroke-width="1"/>
<line x1="191.75" y1="154.00" x2="191.75" y2="152.70" stroke="#8a8a8a" stroke-width="1"/>
<text x="115.60" y="175.20" font-size="9.6" text-anchor="middle" fill="#1a1a1a">2θ</text>
<text x="12.70" y="85.90" font-size="9.5" text-anchor="middle" fill="#1a1a1a" transform="rotate(-90 12.70 85.90)">Intensity</text>
<text x="229.50" y="9.30" font-size="14" text-anchor="start" fill="#000" font-weight="bold">b</text>
<polyline points="429.70,27.60 429.56,27.43 429.40,27.19 429.20,26.91 428.91,26.63 428.49,26.38 427.90,26.20 427.15,26.06 426.27,25.94 425.27,25.85 424.14,25.81 422.88,25.86 421.50,26.00 419.99,26.24 418.34,26.56 416.56,26.96 414.67,27.44 412.68,27.98 410.60,28.60 408.38,29.29 406.01,30.07 403.53,30.91 401.00,31.82 398.48,32.79 396.00,33.80 393.50,34.90 390.92,36.11 388.34,37.38 385.84,38.65 383.50,39.88 381.40,41.00 379.56,42.04 377.92,43.03 376.44,43.98 375.09,44.88 373.82,45.72 372.60,46.50 371.53,47.16 370.67,47.70 369.89,48.19 369.08,48.69 368.12,49.27 366.90,50.00 365.37,50.92 363.62,51.98 361.72,53.12 359.76,54.30 357.79,55.44 355.90,56.50 354.07,57.46 352.23,58.37 350.39,59.25 348.57,60.13 346.77,61.04 345.00,62.00 343.24,63.04 341.47,64.13 339.72,65.25 338.03,66.37 336.41,67.46 334.90,68.50 333.52,69.46 332.26,70.37 331.07,71.25 329.93,72.13 328.78,73.04 327.60,74.00 326.38,75.00 325.17,76.00 323.95,77.03 322.73,78.11 321.52,79.26 320.30,80.50 319.08,81.86 317.87,83.33 316.65,84.88 315.43,86.44 314.22,88.00 313.00,89.50 311.78,90.93 310.57,92.31 309.35,93.69 308.13,95.07 306.92,96.50 305.70,98.00 304.50,99.58 303.33,101.22 302.16,102.91 300.97,104.61 299.72,106.32 298.40,108.00 296.99,109.67 295.50,111.35 293.96,113.03 292.40,114.70 290.84,116.36 289.30,118.00 287.76,119.63 286.20,121.27 284.64,122.89 283.10,124.49 281.61,126.03 280.20,127.50 278.86,128.90 277.56,130.25 276.32,131.55 275.13,132.80 273.99,134.02 272.90,135.20 271.85,136.37 270.83,137.53 269.86,138.64 268.97,139.70 268.18,140.66 267.50,141.50 266.94,142.21 266.47,142.81 266.09,143.31 265.82,143.75 265.66,144.14 265.60,144.50 265.66,144.83 265.82,145.10 266.09,145.32 266.47,145.51 266.94,145.67 267.50,145.80 268.13,145.93 268.83,146.04 269.63,146.13 270.56,146.17 271.64,146.13 272.90,146.00 274.47,145.75 276.33,145.39 278.36,144.96 280.39,144.50 282.29,144.03 283.90,143.60 285.14,143.23 286.09,142.89 286.91,142.54 287.74,142.17 288.72,141.73 290.00,141.20 291.61,140.55 293.46,139.80 295.45,138.99 297.52,138.14 299.60,137.30 301.60,136.50 303.55,135.75 305.50,135.03 307.45,134.31 309.40,133.56 311.35,132.77 313.30,131.90 315.24,130.93 317.17,129.88 319.11,128.78 321.04,127.66 322.97,126.55 324.90,125.50 326.83,124.51 328.77,123.54 330.70,122.60 332.63,121.66 334.57,120.69 336.50,119.70 338.49,118.64 340.54,117.53 342.59,116.39 344.57,115.29 346.43,114.24 348.10,113.30 349.56,112.47 350.86,111.72 352.03,111.03 353.11,110.39 354.12,109.79 355.10,109.20 356.02,108.66 356.84,108.20 357.60,107.76 358.33,107.33 359.05,106.85 359.80,106.30 360.57,105.66 361.34,104.96 362.11,104.22 362.87,103.46 363.63,102.72 364.40,102.00 365.16,101.33 365.92,100.68 366.68,100.04 367.44,99.40 368.22,98.72 369.00,98.00 369.78,97.28 370.54,96.57 371.31,95.84 372.11,95.04 372.97,94.11 373.90,93.00 374.94,91.67 376.07,90.13 377.26,88.47 378.46,86.76 379.62,85.08 380.70,83.50 381.69,82.02 382.63,80.57 383.54,79.16 384.42,77.76 385.30,76.38 386.20,75.00 387.11,73.64 388.01,72.31 388.91,71.00 389.80,69.69 390.70,68.36 391.60,67.00 392.49,65.61 393.38,64.19 394.26,62.75 395.16,61.31 396.07,59.89 397.00,58.50 397.95,57.13 398.92,55.78 399.90,54.44 400.90,53.11 401.94,51.80 403.00,50.50 404.12,49.20 405.30,47.91 406.50,46.62 407.70,45.37 408.88,44.16 410.00,43.00 411.04,41.91 412.03,40.88 412.98,39.89 413.94,38.93 414.94,37.97 416.00,37.00 417.17,35.99 418.42,34.94 419.71,33.91 420.99,32.91 422.20,32.00 423.30,31.20 424.31,30.52 425.27,29.94 426.17,29.43 426.99,29.00 427.70,28.62 428.30,28.30 428.76,28.05 429.09,27.88 429.31,27.77 429.47,27.70 429.59,27.65 429.70,27.60" fill="none" stroke="#4a61a0" stroke-width="3.2" stroke-linejoin="round" stroke-linecap="round" stroke-linejoin="round"/>
<rect x="266.51" y="90.95" width="2.80" height="2.80" fill="#5670ad" stroke="none" stroke-width="1" fill-opacity="0.85"/>
<rect x="267.70" y="89.10" width="2.80" height="2.80" fill="#5670ad" stroke="none" stroke-width="1" fill-opacity="0.85"/>
<rect x="266.97" y="89.11" width="2.80" height="2.80" fill="#5670ad" stroke="none" stroke-width="1" fill-opacity="0.85"/>
<rect x="267.92" y="89.91" width="2.80" height="2.80" fill="#5670ad" stroke="none" stroke-width="1" fill-opacity="0.85"/>
<rect x="267.49" y="86.40" width="2.80" height="2.80" fill="#5670ad" stroke="none" stroke-width="1" fill-opacity="0.85"/>
<rect x="268.53" y="87.85" width="2.80" height="2.80" fill="#5670ad" stroke="none" stroke-width="1" fill-opacity="0.85"/>
<rect x="269.13" y="87.77" width="2.80" height="2.80" fill="#5670ad" stroke="none" stroke-width="1" fill-opacity="0.85"/>
<rect x="268.76" y="85.57" width="2.80" height="2.80" fill="#5670ad" stroke="none" stroke-width="1" fill-opacity="0.85"/>
<rect x="270.10" y="84.83" width="2.80" height="2.80" fill="#5670ad" stroke="none" stroke-width="1" fill-opacity="0.85"/>
<rect x="269.03" y="83.02" width="2.80" height="2.80" fill="#5670ad" stroke="none" stroke-width="1" fill-opacity="0.85"/>
<rect x="269.66" y="83.72" width="2.80" height="2.80" fill="#5670ad" stroke="none" stroke-width="1" fill-opacity="0.85"/>
<rect x="269.78" y="82.62" width="2.80" height="2.80" fill="#5670ad" stroke="none" stroke-width="1" fill-opacity="0.85"/>
<rect x="270.35" y="82.68" width="2.80" height="2.80" fill="#5670ad" stroke="none" stroke-width="1" fill-opacity="0.85"/>
<rect x="271.05" y="81.28" width="2.80" height="2.80" fill="#5670ad" stroke="none" stroke-width="1" fill-opacity="0.85"/>
<rect x="270.31" y="81.12" width="2.80" height="2.80" fill="#5670ad" stroke="none" stroke-width="1" fill-opacity="0.85"/>
<rect x="270.93" y="79.39" width="2.80" height="2.80" fill="#5670ad" stroke="none" stroke-width="1" fill-opacity="0.85"/>
<rect x="271.45" y="79.01" width="2.80" height="2.80" fill="#5670ad" stroke="none" stroke-width="1" fill-opacity="0.85"/>
<rect x="272.32" y="78.75" width="2.80" height="2.80" fill="#5670ad" stroke="none" stroke-width="1" fill-opacity="0.85"/>
<rect x="274.60" y="77.96" width="2.80" height="2.80" fill="#5670ad" stroke="none" stroke-width="1" fill-opacity="0.85"/>
<rect x="274.30" y="75.99" width="2.80" height="2.80" fill="#5670ad" stroke="none" stroke-width="1" fill-opacity="0.85"/>
<rect x="274.57" y="77.96" width="2.80" height="2.80" fill="#5670ad" stroke="none" stroke-width="1" fill-opacity="0.85"/>
<rect x="275.40" y="77.20" width="2.80" height="2.80" fill="#5670ad" stroke="none" stroke-width="1" fill-opacity="0.85"/>
<rect x="276.25" y="75.13" width="2.80" height="2.80" fill="#5670ad" stroke="none" stroke-width="1" fill-opacity="0.85"/>
<rect x="277.23" y="74.93" width="2.80" height="2.80" fill="#5670ad" stroke="none" stroke-width="1" fill-opacity="0.85"/>
<rect x="278.54" y="74.83" width="2.80" height="2.80" fill="#5670ad" stroke="none" stroke-width="1" fill-opacity="0.85"/>
<rect x="278.85" y="74.96" width="2.80" height="2.80" fill="#5670ad" stroke="none" stroke-width="1" fill-opacity="0.85"/>
<rect x="279.75" y="73.75" width="2.80" height="2.80" fill="#5670ad" stroke="none" stroke-width="1" fill-opacity="0.85"/>
<rect x="280.60" y="73.84" width="2.80" height="2.80" fill="#5670ad" stroke="none" stroke-width="1" fill-opacity="0.85"/>
<rect x="281.59" y="74.27" width="2.80" height="2.80" fill="#5670ad" stroke="none" stroke-width="1" fill-opacity="0.85"/>
<rect x="282.11" y="72.14" width="2.80" height="2.80" fill="#5670ad" stroke="none" stroke-width="1" fill-opacity="0.85"/>
<rect x="283.42" y="73.23" width="2.80" height="2.80" fill="#5670ad" stroke="none" stroke-width="1" fill-opacity="0.85"/>
<rect x="284.96" y="71.85" width="2.80" height="2.80" fill="#5670ad" stroke="none" stroke-width="1" fill-opacity="0.85"/>
<rect x="285.81" y="72.60" width="2.80" height="2.80" fill="#5670ad" stroke="none" stroke-width="1" fill-opacity="0.85"/>
<rect x="287.08" y="71.97" width="2.80" height="2.80" fill="#5670ad" stroke="none" stroke-width="1" fill-opacity="0.85"/>
<rect x="288.49" y="70.78" width="2.80" height="2.80" fill="#5670ad" stroke="none" stroke-width="1" fill-opacity="0.85"/>
<rect x="289.56" y="70.82" width="2.80" height="2.80" fill="#5670ad" stroke="none" stroke-width="1" fill-opacity="0.85"/>
<rect x="291.83" y="72.91" width="2.80" height="2.80" fill="#5670ad" stroke="none" stroke-width="1" fill-opacity="0.85"/>
<rect x="293.70" y="72.16" width="2.80" height="2.80" fill="#5670ad" stroke="none" stroke-width="1" fill-opacity="0.85"/>
<rect x="295.42" y="71.50" width="2.80" height="2.80" fill="#5670ad" stroke="none" stroke-width="1" fill-opacity="0.85"/>
<rect x="297.07" y="71.33" width="2.80" height="2.80" fill="#5670ad" stroke="none" stroke-width="1" fill-opacity="0.85"/>
<rect x="299.73" y="69.71" width="2.80" height="2.80" fill="#5670ad" stroke="none" stroke-width="1" fill-opacity="0.85"/>
<rect x="300.91" y="72.13" width="2.80" height="2.80" fill="#5670ad" stroke="none" stroke-width="1" fill-opacity="0.85"/>
<rect x="303.55" y="70.61" width="2.80" height="2.80" fill="#5670ad" stroke="none" stroke-width="1" fill-opacity="0.85"/>
<rect x="306.16" y="67.74" width="2.80" height="2.80" fill="#5670ad" stroke="none" stroke-width="1" fill-opacity="0.85"/>
<rect x="309.17" y="70.88" width="2.80" height="2.80" fill="#5670ad" stroke="none" stroke-width="1" fill-opacity="0.85"/>
<rect x="310.67" y="69.30" width="2.80" height="2.80" fill="#5670ad" stroke="none" stroke-width="1" fill-opacity="0.85"/>
<rect x="313.03" y="66.98" width="2.80" height="2.80" fill="#5670ad" stroke="none" stroke-width="1" fill-opacity="0.85"/>
<rect x="315.26" y="68.15" width="2.80" height="2.80" fill="#5670ad" stroke="none" stroke-width="1" fill-opacity="0.85"/>
<rect x="318.08" y="68.21" width="2.80" height="2.80" fill="#5670ad" stroke="none" stroke-width="1" fill-opacity="0.85"/>
<rect x="320.07" y="68.66" width="2.80" height="2.80" fill="#5670ad" stroke="none" stroke-width="1" fill-opacity="0.85"/>
<rect x="322.18" y="67.65" width="2.80" height="2.80" fill="#5670ad" stroke="none" stroke-width="1" fill-opacity="0.85"/>
<rect x="325.36" y="66.01" width="2.80" height="2.80" fill="#5670ad" stroke="none" stroke-width="1" fill-opacity="0.85"/>
<rect x="326.56" y="64.94" width="2.80" height="2.80" fill="#5670ad" stroke="none" stroke-width="1" fill-opacity="0.85"/>
<rect x="329.62" y="66.32" width="2.80" height="2.80" fill="#5670ad" stroke="none" stroke-width="1" fill-opacity="0.85"/>
<rect x="332.23" y="64.14" width="2.80" height="2.80" fill="#5670ad" stroke="none" stroke-width="1" fill-opacity="0.85"/>
<rect x="333.50" y="65.78" width="2.80" height="2.80" fill="#5670ad" stroke="none" stroke-width="1" fill-opacity="0.85"/>
<rect x="335.08" y="61.81" width="2.80" height="2.80" fill="#5670ad" stroke="none" stroke-width="1" fill-opacity="0.85"/>
<rect x="336.90" y="67.09" width="2.80" height="2.80" fill="#5670ad" stroke="none" stroke-width="1" fill-opacity="0.85"/>
<rect x="338.25" y="62.87" width="2.80" height="2.80" fill="#5670ad" stroke="none" stroke-width="1" fill-opacity="0.85"/>
<rect x="338.84" y="63.90" width="2.80" height="2.80" fill="#5670ad" stroke="none" stroke-width="1" fill-opacity="0.85"/>
<rect x="341.11" y="64.02" width="2.80" height="2.80" fill="#5670ad" stroke="none" stroke-width="1" fill-opacity="0.85"/>
<rect x="341.25" y="64.78" width="2.80" height="2.80" fill="#5670ad" stroke="none" stroke-width="1" fill-opacity="0.85"/>
<rect x="342.32" y="64.75" width="2.80" height="2.80" fill="#5670ad" stroke="none" stroke-width="1" fill-opacity="0.85"/>
<rect x="343.33" y="61.53" width="2.80" height="2.80" fill="#5670ad" stroke="none" stroke-width="1" fill-opacity="0.85"/>
<rect x="345.21" y="63.37" width="2.80" height="2.80" fill="#5670ad" stroke="none" stroke-width="1" fill-opacity="0.85"/>
<rect x="346.53" y="61.56" width="2.80" height="2.80" fill="#5670ad" stroke="none" stroke-width="1" fill-opacity="0.85"/>
<rect x="346.90" y="59.87" width="2.80" height="2.80" fill="#5670ad" stroke="none" stroke-width="1" fill-opacity="0.85"/>
<rect x="348.75" y="59.59" width="2.80" height="2.80" fill="#5670ad" stroke="none" stroke-width="1" fill-opacity="0.85"/>
<rect x="350.60" y="59.32" width="2.80" height="2.80" fill="#5670ad" stroke="none" stroke-width="1" fill-opacity="0.85"/>
<rect x="352.06" y="59.29" width="2.80" height="2.80" fill="#5670ad" stroke="none" stroke-width="1" fill-opacity="0.85"/>
<rect x="352.99" y="58.80" width="2.80" height="2.80" fill="#5670ad" stroke="none" stroke-width="1" fill-opacity="0.85"/>
<rect x="354.67" y="59.13" width="2.80" height="2.80" fill="#5670ad" stroke="none" stroke-width="1" fill-opacity="0.85"/>
<rect x="355.72" y="57.25" width="2.80" height="2.80" fill="#5670ad" stroke="none" stroke-width="1" fill-opacity="0.85"/>
<rect x="356.84" y="58.88" width="2.80" height="2.80" fill="#5670ad" stroke="none" stroke-width="1" fill-opacity="0.85"/>
<rect x="359.46" y="56.15" width="2.80" height="2.80" fill="#5670ad" stroke="none" stroke-width="1" fill-opacity="0.85"/>
<rect x="360.17" y="54.27" width="2.80" height="2.80" fill="#5670ad" stroke="none" stroke-width="1" fill-opacity="0.85"/>
<rect x="361.87" y="55.38" width="2.80" height="2.80" fill="#5670ad" stroke="none" stroke-width="1" fill-opacity="0.85"/>
<rect x="364.04" y="54.77" width="2.80" height="2.80" fill="#5670ad" stroke="none" stroke-width="1" fill-opacity="0.85"/>
<rect x="364.10" y="50.87" width="2.80" height="2.80" fill="#5670ad" stroke="none" stroke-width="1" fill-opacity="0.85"/>
<rect x="366.06" y="53.33" width="2.80" height="2.80" fill="#5670ad" stroke="none" stroke-width="1" fill-opacity="0.85"/>
<rect x="365.80" y="52.56" width="2.80" height="2.80" fill="#5670ad" stroke="none" stroke-width="1" fill-opacity="0.85"/>
<rect x="366.62" y="55.71" width="2.80" height="2.80" fill="#5670ad" stroke="none" stroke-width="1" fill-opacity="0.85"/>
<rect x="368.42" y="51.37" width="2.80" height="2.80" fill="#5670ad" stroke="none" stroke-width="1" fill-opacity="0.85"/>
<rect x="368.54" y="47.25" width="2.80" height="2.80" fill="#5670ad" stroke="none" stroke-width="1" fill-opacity="0.85"/>
<rect x="369.12" y="47.09" width="2.80" height="2.80" fill="#5670ad" stroke="none" stroke-width="1" fill-opacity="0.85"/>
<rect x="369.91" y="45.55" width="2.80" height="2.80" fill="#5670ad" stroke="none" stroke-width="1" fill-opacity="0.85"/>
<rect x="369.78" y="48.79" width="2.80" height="2.80" fill="#5670ad" stroke="none" stroke-width="1" fill-opacity="0.85"/>
<rect x="371.26" y="45.18" width="2.80" height="2.80" fill="#5670ad" stroke="none" stroke-width="1" fill-opacity="0.85"/>
<rect x="370.39" y="47.02" width="2.80" height="2.80" fill="#5670ad" stroke="none" stroke-width="1" fill-opacity="0.85"/>
<rect x="371.66" y="44.22" width="2.80" height="2.80" fill="#5670ad" stroke="none" stroke-width="1" fill-opacity="0.85"/>
<rect x="371.30" y="44.06" width="2.80" height="2.80" fill="#5670ad" stroke="none" stroke-width="1" fill-opacity="0.85"/>
<rect x="371.32" y="43.58" width="2.80" height="2.80" fill="#5670ad" stroke="none" stroke-width="1" fill-opacity="0.85"/>
<rect x="372.49" y="44.73" width="2.80" height="2.80" fill="#5670ad" stroke="none" stroke-width="1" fill-opacity="0.85"/>
<rect x="373.02" y="43.27" width="2.80" height="2.80" fill="#5670ad" stroke="none" stroke-width="1" fill-opacity="0.85"/>
<rect x="372.37" y="41.60" width="2.80" height="2.80" fill="#5670ad" stroke="none" stroke-width="1" fill-opacity="0.85"/>
<rect x="372.65" y="40.52" width="2.80" height="2.80" fill="#5670ad" stroke="none" stroke-width="1" fill-opacity="0.85"/>
<rect x="372.30" y="42.15" width="2.80" height="2.80" fill="#5670ad" stroke="none" stroke-width="1" fill-opacity="0.85"/>
<rect x="373.91" y="41.46" width="2.80" height="2.80" fill="#5670ad" stroke="none" stroke-width="1" fill-opacity="0.85"/>
<rect x="374.20" y="39.83" width="2.80" height="2.80" fill="#5670ad" stroke="none" stroke-width="1" fill-opacity="0.85"/>
<rect x="373.72" y="38.67" width="2.80" height="2.80" fill="#5670ad" stroke="none" stroke-width="1" fill-opacity="0.85"/>
<rect x="374.21" y="36.26" width="2.80" height="2.80" fill="#5670ad" stroke="none" stroke-width="1" fill-opacity="0.85"/>
<rect x="374.05" y="34.85" width="2.80" height="2.80" fill="#5670ad" stroke="none" stroke-width="1" fill-opacity="0.85"/>
<rect x="375.10" y="35.87" width="2.80" height="2.80" fill="#5670ad" stroke="none" stroke-width="1" fill-opacity="0.85"/>
<rect x="375.31" y="36.51" width="2.80" height="2.80" fill="#5670ad" stroke="none" stroke-width="1" fill-opacity="0.85"/>
<rect x="375.98" y="34.62" width="2.80" height="2.80" fill="#5670ad" stroke="none" stroke-width="1" fill-opacity="0.85"/>
<rect x="376.83" y="32.03" width="2.80" height="2.80" fill="#5670ad" stroke="none" stroke-width="1" fill-opacity="0.85"/>
<rect x="376.00" y="33.01" width="2.80" height="2.80" fill="#5670ad" stroke="none" stroke-width="1" fill-opacity="0.85"/>
<rect x="376.97" y="32.79" width="2.80" height="2.80" fill="#5670ad" stroke="none" stroke-width="1" fill-opacity="0.85"/>
<rect x="377.84" y="31.59" width="2.80" height="2.80" fill="#5670ad" stroke="none" stroke-width="1" fill-opacity="0.85"/>
<rect x="378.48" y="27.12" width="2.80" height="2.80" fill="#5670ad" stroke="none" stroke-width="1" fill-opacity="0.85"/>
<rect x="378.93" y="28.14" width="2.80" height="2.80" fill="#5670ad" stroke="none" stroke-width="1" fill-opacity="0.85"/>
<rect x="378.80" y="27.88" width="2.80" height="2.80" fill="#5670ad" stroke="none" stroke-width="1" fill-opacity="0.85"/>
<rect x="379.87" y="29.03" width="2.80" height="2.80" fill="#5670ad" stroke="none" stroke-width="1" fill-opacity="0.85"/>
<rect x="380.42" y="25.64" width="2.80" height="2.80" fill="#5670ad" stroke="none" stroke-width="1" fill-opacity="0.85"/>
<rect x="380.25" y="24.53" width="2.80" height="2.80" fill="#5670ad" stroke="none" stroke-width="1" fill-opacity="0.85"/>
<rect x="380.91" y="27.93" width="2.80" height="2.80" fill="#5670ad" stroke="none" stroke-width="1" fill-opacity="0.85"/>
<rect x="381.11" y="27.40" width="2.80" height="2.80" fill="#5670ad" stroke="none" stroke-width="1" fill-opacity="0.85"/>
<rect x="381.97" y="28.28" width="2.80" height="2.80" fill="#5670ad" stroke="none" stroke-width="1" fill-opacity="0.85"/>
<rect x="382.01" y="26.11" width="2.80" height="2.80" fill="#5670ad" stroke="none" stroke-width="1" fill-opacity="0.85"/>
<rect x="382.49" y="29.30" width="2.80" height="2.80" fill="#5670ad" stroke="none" stroke-width="1" fill-opacity="0.85"/>
<rect x="383.69" y="27.19" width="2.80" height="2.80" fill="#5670ad" stroke="none" stroke-width="1" fill-opacity="0.85"/>
<rect x="383.79" y="27.65" width="2.80" height="2.80" fill="#5670ad" stroke="none" stroke-width="1" fill-opacity="0.85"/>
<rect x="384.23" y="27.49" width="2.80" height="2.80" fill="#5670ad" stroke="none" stroke-width="1" fill-opacity="0.85"/>
<rect x="384.47" y="26.54" width="2.80" height="2.80" fill="#5670ad" stroke="none" stroke-width="1" fill-opacity="0.85"/>
<rect x="384.79" y="30.42" width="2.80" height="2.80" fill="#5670ad" stroke="none" stroke-width="1" fill-opacity="0.85"/>
<rect x="385.71" y="29.02" width="2.80" height="2.80" fill="#5670ad" stroke="none" stroke-width="1" fill-opacity="0.85"/>
<rect x="385.86" y="29.63" width="2.80" height="2.80" fill="#5670ad" stroke="none" stroke-width="1" fill-opacity="0.85"/>
<rect x="386.54" y="29.52" width="2.80" height="2.80" fill="#5670ad" stroke="none" stroke-width="1" fill-opacity="0.85"/>
<rect x="386.93" y="31.53" width="2.80" height="2.80" fill="#5670ad" stroke="none" stroke-width="1" fill-opacity="0.85"/>
<rect x="387.00" y="31.45" width="2.80" height="2.80" fill="#5670ad" stroke="none" stroke-width="1" fill-opacity="0.85"/>
<rect x="387.35" y="32.43" width="2.80" height="2.80" fill="#5670ad" stroke="none" stroke-width="1" fill-opacity="0.85"/>
<rect x="388.55" y="32.26" width="2.80" height="2.80" fill="#5670ad" stroke="none" stroke-width="1" fill-opacity="0.85"/>
<rect x="388.54" y="35.78" width="2.80" height="2.80" fill="#5670ad" stroke="none" stroke-width="1" fill-opacity="0.85"/>
<rect x="388.87" y="38.01" width="2.80" height="2.80" fill="#5670ad" stroke="none" stroke-width="1" fill-opacity="0.85"/>
<rect x="390.05" y="39.27" width="2.80" height="2.80" fill="#5670ad" stroke="none" stroke-width="1" fill-opacity="0.85"/>
<rect x="390.04" y="39.57" width="2.80" height="2.80" fill="#5670ad" stroke="none" stroke-width="1" fill-opacity="0.85"/>
<rect x="390.57" y="42.39" width="2.80" height="2.80" fill="#5670ad" stroke="none" stroke-width="1" fill-opacity="0.85"/>
<rect x="390.99" y="40.86" width="2.80" height="2.80" fill="#5670ad" stroke="none" stroke-width="1" fill-opacity="0.85"/>
<rect x="391.18" y="41.80" width="2.80" height="2.80" fill="#5670ad" stroke="none" stroke-width="1" fill-opacity="0.85"/>
<rect x="391.68" y="45.28" width="2.80" height="2.80" fill="#5670ad" stroke="none" stroke-width="1" fill-opacity="0.85"/>
<rect x="392.95" y="44.44" width="2.80" height="2.80" fill="#5670ad" stroke="none" stroke-width="1" fill-opacity="0.85"/>
<rect x="393.97" y="44.66" width="2.80" height="2.80" fill="#5670ad" stroke="none" stroke-width="1" fill-opacity="0.85"/>
<rect x="394.29" y="47.06" width="2.80" height="2.80" fill="#5670ad" stroke="none" stroke-width="1" fill-opacity="0.85"/>
<rect x="393.98" y="44.83" width="2.80" height="2.80" fill="#5670ad" stroke="none" stroke-width="1" fill-opacity="0.85"/>
<rect x="394.86" y="48.31" width="2.80" height="2.80" fill="#5670ad" stroke="none" stroke-width="1" fill-opacity="0.85"/>
<rect x="396.38" y="46.20" width="2.80" height="2.80" fill="#5670ad" stroke="none" stroke-width="1" fill-opacity="0.85"/>
<rect x="396.93" y="47.60" width="2.80" height="2.80" fill="#5670ad" stroke="none" stroke-width="1" fill-opacity="0.85"/>
<rect x="397.02" y="47.73" width="2.80" height="2.80" fill="#5670ad" stroke="none" stroke-width="1" fill-opacity="0.85"/>
<rect x="397.73" y="46.50" width="2.80" height="2.80" fill="#5670ad" stroke="none" stroke-width="1" fill-opacity="0.85"/>
<rect x="398.17" y="47.46" width="2.80" height="2.80" fill="#5670ad" stroke="none" stroke-width="1" fill-opacity="0.85"/>
<rect x="399.52" y="51.68" width="2.80" height="2.80" fill="#5670ad" stroke="none" stroke-width="1" fill-opacity="0.85"/>
<rect x="401.19" y="49.00" width="2.80" height="2.80" fill="#5670ad" stroke="none" stroke-width="1" fill-opacity="0.85"/>
<rect x="400.23" y="49.12" width="2.80" height="2.80" fill="#5670ad" stroke="none" stroke-width="1" fill-opacity="0.85"/>
<rect x="401.38" y="52.17" width="2.80" height="2.80" fill="#5670ad" stroke="none" stroke-width="1" fill-opacity="0.85"/>
<rect x="402.85" y="49.07" width="2.80" height="2.80" fill="#5670ad" stroke="none" stroke-width="1" fill-opacity="0.85"/>
<rect x="403.90" y="50.72" width="2.80" height="2.80" fill="#5670ad" stroke="none" stroke-width="1" fill-opacity="0.85"/>
<rect x="403.80" y="49.54" width="2.80" height="2.80" fill="#5670ad" stroke="none" stroke-width="1" fill-opacity="0.85"/>
<rect x="405.31" y="50.27" width="2.80" height="2.80" fill="#5670ad" stroke="none" stroke-width="1" fill-opacity="0.85"/>
<rect x="406.44" y="49.88" width="2.80" height="2.80" fill="#5670ad" stroke="none" stroke-width="1" fill-opacity="0.85"/>
<rect x="407.48" y="49.60" width="2.80" height="2.80" fill="#5670ad" stroke="none" stroke-width="1" fill-opacity="0.85"/>
<rect x="408.08" y="52.11" width="2.80" height="2.80" fill="#5670ad" stroke="none" stroke-width="1" fill-opacity="0.85"/>
<rect x="409.65" y="50.79" width="2.80" height="2.80" fill="#5670ad" stroke="none" stroke-width="1" fill-opacity="0.85"/>
<rect x="409.96" y="50.02" width="2.80" height="2.80" fill="#5670ad" stroke="none" stroke-width="1" fill-opacity="0.85"/>
<rect x="412.05" y="48.59" width="2.80" height="2.80" fill="#5670ad" stroke="none" stroke-width="1" fill-opacity="0.85"/>
<rect x="413.32" y="49.55" width="2.80" height="2.80" fill="#5670ad" stroke="none" stroke-width="1" fill-opacity="0.85"/>
<rect x="414.22" y="49.70" width="2.80" height="2.80" fill="#5670ad" stroke="none" stroke-width="1" fill-opacity="0.85"/>
<rect x="415.35" y="51.10" width="2.80" height="2.80" fill="#5670ad" stroke="none" stroke-width="1" fill-opacity="0.85"/>
<rect x="416.34" y="51.28" width="2.80" height="2.80" fill="#5670ad" stroke="none" stroke-width="1" fill-opacity="0.85"/>
<rect x="417.54" y="47.93" width="2.80" height="2.80" fill="#5670ad" stroke="none" stroke-width="1" fill-opacity="0.85"/>
<rect x="419.64" y="47.31" width="2.80" height="2.80" fill="#5670ad" stroke="none" stroke-width="1" fill-opacity="0.85"/>
<rect x="420.79" y="49.14" width="2.80" height="2.80" fill="#5670ad" stroke="none" stroke-width="1" fill-opacity="0.85"/>
<rect x="423.00" y="45.36" width="2.80" height="2.80" fill="#5670ad" stroke="none" stroke-width="1" fill-opacity="0.85"/>
<rect x="424.23" y="49.20" width="2.80" height="2.80" fill="#5670ad" stroke="none" stroke-width="1" fill-opacity="0.85"/>
<rect x="425.88" y="46.14" width="2.80" height="2.80" fill="#5670ad" stroke="none" stroke-width="1" fill-opacity="0.85"/>
<rect x="426.31" y="45.65" width="2.80" height="2.80" fill="#5670ad" stroke="none" stroke-width="1" fill-opacity="0.85"/>
<rect x="426.94" y="45.38" width="2.80" height="2.80" fill="#5670ad" stroke="none" stroke-width="1" fill-opacity="0.85"/>
<rect x="426.43" y="79.33" width="2.80" height="2.80" fill="#5670ad" stroke="none" stroke-width="1" fill-opacity="0.85"/>
<rect x="426.67" y="80.03" width="2.80" height="2.80" fill="#5670ad" stroke="none" stroke-width="1" fill-opacity="0.85"/>
<rect x="425.42" y="82.11" width="2.80" height="2.80" fill="#5670ad" stroke="none" stroke-width="1" fill-opacity="0.85"/>
<rect x="425.35" y="80.93" width="2.80" height="2.80" fill="#5670ad" stroke="none" stroke-width="1" fill-opacity="0.85"/>
<rect x="425.47" y="81.69" width="2.80" height="2.80" fill="#5670ad" stroke="none" stroke-width="1" fill-opacity="0.85"/>
<rect x="424.86" y="82.46" width="2.80" height="2.80" fill="#5670ad" stroke="none" stroke-width="1" fill-opacity="0.85"/>
<rect x="425.86" y="82.67" width="2.80" height="2.80" fill="#5670ad" stroke="none" stroke-width="1" fill-opacity="0.85"/>
<rect x="424.65" y="85.35" width="2.80" height="2.80" fill="#5670ad" stroke="none" stroke-width="1" fill-opacity="0.85"/>
<rect x="424.71" y="85.49" width="2.80" height="2.80" fill="#5670ad" stroke="none" stroke-width="1" fill-opacity="0.85"/>
<rect x="424.48" y="82.78" width="2.80" height="2.80" fill="#5670ad" stroke="none" stroke-width="1" fill-opacity="0.85"/>
<rect x="423.49" y="85.88" width="2.80" height="2.80" fill="#5670ad" stroke="none" stroke-width="1" fill-opacity="0.85"/>
<rect x="423.72" y="87.85" width="2.80" height="2.80" fill="#5670ad" stroke="none" stroke-width="1" fill-opacity="0.85"/>
<rect x="423.37" y="86.59" width="2.80" height="2.80" fill="#5670ad" stroke="none" stroke-width="1" fill-opacity="0.85"/>
<rect x="422.82" y="87.20" width="2.80" height="2.80" fill="#5670ad" stroke="none" stroke-width="1" fill-opacity="0.85"/>
<rect x="422.48" y="88.84" width="2.80" height="2.80" fill="#5670ad" stroke="none" stroke-width="1" fill-opacity="0.85"/>
<rect x="421.76" y="87.62" width="2.80" height="2.80" fill="#5670ad" stroke="none" stroke-width="1" fill-opacity="0.85"/>
<rect x="421.03" y="90.50" width="2.80" height="2.80" fill="#5670ad" stroke="none" stroke-width="1" fill-opacity="0.85"/>
<rect x="421.33" y="90.96" width="2.80" height="2.80" fill="#5670ad" stroke="none" stroke-width="1" fill-opacity="0.85"/>
<rect x="420.57" y="91.37" width="2.80" height="2.80" fill="#5670ad" stroke="none" stroke-width="1" fill-opacity="0.85"/>
<rect x="419.59" y="91.77" width="2.80" height="2.80" fill="#5670ad" stroke="none" stroke-width="1" fill-opacity="0.85"/>
<rect x="418.49" y="91.30" width="2.80" height="2.80" fill="#5670ad" stroke="none" stroke-width="1" fill-opacity="0.85"/>
<rect x="417.88" y="92.98" width="2.80" height="2.80" fill="#5670ad" stroke="none" stroke-width="1" fill-opacity="0.85"/>
<rect x="417.14" y="92.49" width="2.80" height="2.80" fill="#5670ad" stroke="none" stroke-width="1" fill-opacity="0.85"/>
<rect x="416.66" y="94.73" width="2.80" height="2.80" fill="#5670ad" stroke="none" stroke-width="1" fill-opacity="0.85"/>
<rect x="415.22" y="92.40" width="2.80" height="2.80" fill="#5670ad" stroke="none" stroke-width="1" fill-opacity="0.85"/>
<rect x="414.81" y="92.59" width="2.80" height="2.80" fill="#5670ad" stroke="none" stroke-width="1" fill-opacity="0.85"/>
<rect x="413.54" y="93.60" width="2.80" height="2.80" fill="#5670ad" stroke="none" stroke-width="1" fill-opacity="0.85"/>
<rect x="412.14" y="92.43" width="2.80" height="2.80" fill="#5670ad" stroke="none" stroke-width="1" fill-opacity="0.85"/>
<rect x="411.26" y="94.32" width="2.80" height="2.80" fill="#5670ad" stroke="none" stroke-width="1" fill-opacity="0.85"/>
<rect x="409.40" y="97.72" width="2.80" height="2.80" fill="#5670ad" stroke="none" stroke-width="1" fill-opacity="0.85"/>
<rect x="408.85" y="99.72" width="2.80" height="2.80" fill="#5670ad" stroke="none" stroke-width="1" fill-opacity="0.85"/>
<rect x="407.56" y="95.38" width="2.80" height="2.80" fill="#5670ad" stroke="none" stroke-width="1" fill-opacity="0.85"/>
<rect x="406.37" y="98.00" width="2.80" height="2.80" fill="#5670ad" stroke="none" stroke-width="1" fill-opacity="0.85"/>
<rect x="405.33" y="96.85" width="2.80" height="2.80" fill="#5670ad" stroke="none" stroke-width="1" fill-opacity="0.85"/>
<rect x="404.60" y="95.44" width="2.80" height="2.80" fill="#5670ad" stroke="none" stroke-width="1" fill-opacity="0.85"/>
<rect x="403.48" y="96.15" width="2.80" height="2.80" fill="#5670ad" stroke="none" stroke-width="1" fill-opacity="0.85"/>
<rect x="401.89" y="98.01" width="2.80" height="2.80" fill="#5670ad" stroke="none" stroke-width="1" fill-opacity="0.85"/>
<rect x="401.49" y="97.28" width="2.80" height="2.80" fill="#5670ad" stroke="none" stroke-width="1" fill-opacity="0.85"/>
<rect x="399.51" y="95.02" width="2.80" height="2.80" fill="#5670ad" stroke="none" stroke-width="1" fill-opacity="0.85"/>
<rect x="398.49" y="97.58" width="2.80" height="2.80" fill="#5670ad" stroke="none" stroke-width="1" fill-opacity="0.85"/>
<rect x="395.78" y="97.93" width="2.80" height="2.80" fill="#5670ad" stroke="none" stroke-width="1" fill-opacity="0.85"/>
<rect x="393.76" y="98.29" width="2.80" height="2.80" fill="#5670ad" stroke="none" stroke-width="1" fill-opacity="0.85"/>
<rect x="392.16" y="99.08" width="2.80" height="2.80" fill="#5670ad" stroke="none" stroke-width="1" fill-opacity="0.85"/>
<rect x="389.81" y="99.21" width="2.80" height="2.80" fill="#5670ad" stroke="none" stroke-width="1" fill-opacity="0.85"/>
<rect x="386.80" y="98.89" width="2.80" height="2.80" fill="#5670ad" stroke="none" stroke-width="1" fill-opacity="0.85"/>
<rect x="384.58" y="99.42" width="2.80" height="2.80" fill="#5670ad" stroke="none" stroke-width="1" fill-opacity="0.85"/>
<rect x="382.45" y="100.80" width="2.80" height="2.80" fill="#5670ad" stroke="none" stroke-width="1" fill-opacity="0.85"/>
<rect x="380.65" y="97.32" width="2.80" height="2.80" fill="#5670ad" stroke="none" stroke-width="1" fill-opacity="0.85"/>
<rect x="377.78" y="100.54" width="2.80" height="2.80" fill="#5670ad" stroke="none" stroke-width="1" fill-opacity="0.85"/>
<rect x="376.01" y="102.33" width="2.80" height="2.80" fill="#5670ad" stroke="none" stroke-width="1" fill-opacity="0.85"/>
<rect x="371.86" y="102.14" width="2.80" height="2.80" fill="#5670ad" stroke="none" stroke-width="1" fill-opacity="0.85"/>
<rect x="369.76" y="103.29" width="2.80" height="2.80" fill="#5670ad" stroke="none" stroke-width="1" fill-opacity="0.85"/>
<rect x="367.11" y="102.38" width="2.80" height="2.80" fill="#5670ad" stroke="none" stroke-width="1" fill-opacity="0.85"/>
<rect x="365.25" y="102.70" width="2.80" height="2.80" fill="#5670ad" stroke="none" stroke-width="1" fill-opacity="0.85"/>
<rect x="363.13" y="100.82" width="2.80" height="2.80" fill="#5670ad" stroke="none" stroke-width="1" fill-opacity="0.85"/>
<rect x="361.98" y="104.30" width="2.80" height="2.80" fill="#5670ad" stroke="none" stroke-width="1" fill-opacity="0.85"/>
<rect x="360.65" y="101.75" width="2.80" height="2.80" fill="#5670ad" stroke="none" stroke-width="1" fill-opacity="0.85"/>
<rect x="360.02" y="103.32" width="2.80" height="2.80" fill="#5670ad" stroke="none" stroke-width="1" fill-opacity="0.85"/>
<rect x="359.43" y="102.17" width="2.80" height="2.80" fill="#5670ad" stroke="none" stroke-width="1" fill-opacity="0.85"/>
<rect x="359.82" y="100.33" width="2.80" height="2.80" fill="#5670ad" stroke="none" stroke-width="1" fill-opacity="0.85"/>
<rect x="358.90" y="98.86" width="2.80" height="2.80" fill="#5670ad" stroke="none" stroke-width="1" fill-opacity="0.85"/>
<rect x="358.71" y="99.80" width="2.80" height="2.80" fill="#5670ad" stroke="none" stroke-width="1" fill-opacity="0.85"/>
<rect x="358.02" y="99.37" width="2.80" height="2.80" fill="#5670ad" stroke="none" stroke-width="1" fill-opacity="0.85"/>
<rect x="358.61" y="100.01" width="2.80" height="2.80" fill="#5670ad" stroke="none" stroke-width="1" fill-opacity="0.85"/>
<rect x="357.32" y="103.07" width="2.80" height="2.80" fill="#5670ad" stroke="none" stroke-width="1" fill-opacity="0.85"/>
<rect x="356.81" y="98.64" width="2.80" height="2.80" fill="#5670ad" stroke="none" stroke-width="1" fill-opacity="0.85"/>
<rect x="356.44" y="99.95" width="2.80" height="2.80" fill="#5670ad" stroke="none" stroke-width="1" fill-opacity="0.85"/>
<rect x="356.34" y="99.98" width="2.80" height="2.80" fill="#5670ad" stroke="none" stroke-width="1" fill-opacity="0.85"/>
<rect x="354.84" y="99.96" width="2.80" height="2.80" fill="#5670ad" stroke="none" stroke-width="1" fill-opacity="0.85"/>
<rect x="354.45" y="101.05" width="2.80" height="2.80" fill="#5670ad" stroke="none" stroke-width="1" fill-opacity="0.85"/>
<rect x="353.67" y="102.15" width="2.80" height="2.80" fill="#5670ad" stroke="none" stroke-width="1" fill-opacity="0.85"/>
<rect x="352.70" y="104.01" width="2.80" height="2.80" fill="#5670ad" stroke="none" stroke-width="1" fill-opacity="0.85"/>
<rect x="352.51" y="103.21" width="2.80" height="2.80" fill="#5670ad" stroke="none" stroke-width="1" fill-opacity="0.85"/>
<rect x="350.93" y="102.10" width="2.80" height="2.80" fill="#5670ad" stroke="none" stroke-width="1" fill-opacity="0.85"/>
<rect x="350.52" y="106.51" width="2.80" height="2.80" fill="#5670ad" stroke="none" stroke-width="1" fill-opacity="0.85"/>
<rect x="349.32" y="102.96" width="2.80" height="2.80" fill="#5670ad" stroke="none" stroke-width="1" fill-opacity="0.85"/>
<rect x="348.30" y="102.88" width="2.80" height="2.80" fill="#5670ad" stroke="none" stroke-width="1" fill-opacity="0.85"/>
<rect x="347.25" y="104.28" width="2.80" height="2.80" fill="#5670ad" stroke="none" stroke-width="1" fill-opacity="0.85"/>
<rect x="347.27" y="104.90" width="2.80" height="2.80" fill="#5670ad" stroke="none" stroke-width="1" fill-opacity="0.85"/>
<rect x="345.53" y="103.43" width="2.80" height="2.80" fill="#5670ad" stroke="none" stroke-width="1" fill-opacity="0.85"/>
<rect x="344.81" y="105.90" width="2.80" height="2.80" fill="#5670ad" stroke="none" stroke-width="1" fill-opacity="0.85"/>
<rect x="343.20" y="105.25" width="2.80" height="2.80" fill="#5670ad" stroke="none" stroke-width="1" fill-opacity="0.85"/>
<rect x="342.63" y="108.40" width="2.80" height="2.80" fill="#5670ad" stroke="none" stroke-width="1" fill-opacity="0.85"/>
<rect x="341.86" y="108.05" width="2.80" height="2.80" fill="#5670ad" stroke="none" stroke-width="1" fill-opacity="0.85"/>
<rect x="340.44" y="108.73" width="2.80" height="2.80" fill="#5670ad" stroke="none" stroke-width="1" fill-opacity="0.85"/>
<rect x="339.56" y="111.40" width="2.80" height="2.80" fill="#5670ad" stroke="none" stroke-width="1" fill-opacity="0.85"/>
<rect x="338.15" y="108.66" width="2.80" height="2.80" fill="#5670ad" stroke="none" stroke-width="1" fill-opacity="0.85"/>
<rect x="338.19" y="108.88" width="2.80" height="2.80" fill="#5670ad" stroke="none" stroke-width="1" fill-opacity="0.85"/>
<rect x="337.37" y="109.05" width="2.80" height="2.80" fill="#5670ad" stroke="none" stroke-width="1" fill-opacity="0.85"/>
<rect x="336.00" y="108.44" width="2.80" height="2.80" fill="#5670ad" stroke="none" stroke-width="1" fill-opacity="0.85"/>
<rect x="334.55" y="107.45" width="2.80" height="2.80" fill="#5670ad" stroke="none" stroke-width="1" fill-opacity="0.85"/>
<rect x="335.14" y="109.13" width="2.80" height="2.80" fill="#5670ad" stroke="none" stroke-width="1" fill-opacity="0.85"/>
<rect x="333.64" y="109.34" width="2.80" height="2.80" fill="#5670ad" stroke="none" stroke-width="1" fill-opacity="0.85"/>
<rect x="332.75" y="109.41" width="2.80" height="2.80" fill="#5670ad" stroke="none" stroke-width="1" fill-opacity="0.85"/>
<rect x="331.49" y="108.13" width="2.80" height="2.80" fill="#5670ad" stroke="none" stroke-width="1" fill-opacity="0.85"/>
<rect x="331.03" y="108.45" width="2.80" height="2.80" fill="#5670ad" stroke="none" stroke-width="1" fill-opacity="0.85"/>
<rect x="329.09" y="109.29" width="2.80" height="2.80" fill="#5670ad" stroke="none" stroke-width="1" fill-opacity="0.85"/>
<rect x="328.38" y="111.12" width="2.80" height="2.80" fill="#5670ad" stroke="none" stroke-width="1" fill-opacity="0.85"/>
<rect x="327.26" y="110.03" width="2.80" height="2.80" fill="#5670ad" stroke="none" stroke-width="1" fill-opacity="0.85"/>
<rect x="326.37" y="114.13" width="2.80" height="2.80" fill="#5670ad" stroke="none" stroke-width="1" fill-opacity="0.85"/>
<rect x="325.45" y="113.40" width="2.80" height="2.80" fill="#5670ad" stroke="none" stroke-width="1" fill-opacity="0.85"/>
<rect x="324.47" y="114.42" width="2.80" height="2.80" fill="#5670ad" stroke="none" stroke-width="1" fill-opacity="0.85"/>
<rect x="323.87" y="116.47" width="2.80" height="2.80" fill="#5670ad" stroke="none" stroke-width="1" fill-opacity="0.85"/>
<rect x="321.90" y="117.03" width="2.80" height="2.80" fill="#5670ad" stroke="none" stroke-width="1" fill-opacity="0.85"/>
<rect x="321.61" y="115.52" width="2.80" height="2.80" fill="#5670ad" stroke="none" stroke-width="1" fill-opacity="0.85"/>
<rect x="321.64" y="116.15" width="2.80" height="2.80" fill="#5670ad" stroke="none" stroke-width="1" fill-opacity="0.85"/>
<rect x="320.55" y="117.94" width="2.80" height="2.80" fill="#5670ad" stroke="none" stroke-width="1" fill-opacity="0.85"/>
<rect x="318.47" y="117.79" width="2.80" height="2.80" fill="#5670ad" stroke="none" stroke-width="1" fill-opacity="0.85"/>
<rect x="318.34" y="117.51" width="2.80" height="2.80" fill="#5670ad" stroke="none" stroke-width="1" fill-opacity="0.85"/>
<rect x="316.31" y="117.77" width="2.80" height="2.80" fill="#5670ad" stroke="none" stroke-width="1" fill-opacity="0.85"/>
<rect x="316.42" y="117.47" width="2.80" height="2.80" fill="#5670ad" stroke="none" stroke-width="1" fill-opacity="0.85"/>
<rect x="316.54" y="119.22" width="2.80" height="2.80" fill="#5670ad" stroke="none" stroke-width="1" fill-opacity="0.85"/>
<rect x="315.02" y="119.93" width="2.80" height="2.80" fill="#5670ad" stroke="none" stroke-width="1" fill-opacity="0.85"/>
<rect x="314.27" y="120.20" width="2.80" height="2.80" fill="#5670ad" stroke="none" stroke-width="1" fill-opacity="0.85"/>
<rect x="314.06" y="122.38" width="2.80" height="2.80" fill="#5670ad" stroke="none" stroke-width="1" fill-opacity="0.85"/>
<rect x="313.30" y="122.79" width="2.80" height="2.80" fill="#5670ad" stroke="none" stroke-width="1" fill-opacity="0.85"/>
<rect x="312.46" y="124.43" width="2.80" height="2.80" fill="#5670ad" stroke="none" stroke-width="1" fill-opacity="0.85"/>
<rect x="312.25" y="124.97" width="2.80" height="2.80" fill="#5670ad" stroke="none" stroke-width="1" fill-opacity="0.85"/>
<rect x="311.74" y="124.98" width="2.80" height="2.80" fill="#5670ad" stroke="none" stroke-width="1" fill-opacity="0.85"/>
<rect x="311.80" y="125.03" width="2.80" height="2.80" fill="#5670ad" stroke="none" stroke-width="1" fill-opacity="0.85"/>
<rect x="312.39" y="127.35" width="2.80" height="2.80" fill="#5670ad" stroke="none" stroke-width="1" fill-opacity="0.85"/>
<rect x="311.10" y="127.43" width="2.80" height="2.80" fill="#5670ad" stroke="none" stroke-width="1" fill-opacity="0.85"/>
<rect x="311.53" y="130.89" width="2.80" height="2.80" fill="#5670ad" stroke="none" stroke-width="1" fill-opacity="0.85"/>
<rect x="310.75" y="128.51" width="2.80" height="2.80" fill="#5670ad" stroke="none" stroke-width="1" fill-opacity="0.85"/>
<rect x="310.13" y="131.79" width="2.80" height="2.80" fill="#5670ad" stroke="none" stroke-width="1" fill-opacity="0.85"/>
<rect x="309.76" y="130.52" width="2.80" height="2.80" fill="#5670ad" stroke="none" stroke-width="1" fill-opacity="0.85"/>
<rect x="309.02" y="131.87" width="2.80" height="2.80" fill="#5670ad" stroke="none" stroke-width="1" fill-opacity="0.85"/>
<rect x="308.92" y="132.92" width="2.80" height="2.80" fill="#5670ad" stroke="none" stroke-width="1" fill-opacity="0.85"/>
<rect x="308.23" y="138.02" width="2.80" height="2.80" fill="#5670ad" stroke="none" stroke-width="1" fill-opacity="0.85"/>
<rect x="308.17" y="134.41" width="2.80" height="2.80" fill="#5670ad" stroke="none" stroke-width="1" fill-opacity="0.85"/>
<rect x="306.80" y="136.72" width="2.80" height="2.80" fill="#5670ad" stroke="none" stroke-width="1" fill-opacity="0.85"/>
<rect x="305.80" y="138.75" width="2.80" height="2.80" fill="#5670ad" stroke="none" stroke-width="1" fill-opacity="0.85"/>
<rect x="304.94" y="137.84" width="2.80" height="2.80" fill="#5670ad" stroke="none" stroke-width="1" fill-opacity="0.85"/>
<rect x="304.19" y="138.67" width="2.80" height="2.80" fill="#5670ad" stroke="none" stroke-width="1" fill-opacity="0.85"/>
<rect x="304.21" y="140.03" width="2.80" height="2.80" fill="#5670ad" stroke="none" stroke-width="1" fill-opacity="0.85"/>
<rect x="302.60" y="138.61" width="2.80" height="2.80" fill="#5670ad" stroke="none" stroke-width="1" fill-opacity="0.85"/>
<rect x="302.29" y="139.93" width="2.80" height="2.80" fill="#5670ad" stroke="none" stroke-width="1" fill-opacity="0.85"/>
<rect x="302.22" y="139.64" width="2.80" height="2.80" fill="#5670ad" stroke="none" stroke-width="1" fill-opacity="0.85"/>
<rect x="301.65" y="135.77" width="2.80" height="2.80" fill="#5670ad" stroke="none" stroke-width="1" fill-opacity="0.85"/>
<rect x="301.43" y="137.73" width="2.80" height="2.80" fill="#5670ad" stroke="none" stroke-width="1" fill-opacity="0.85"/>
<rect x="301.05" y="135.25" width="2.80" height="2.80" fill="#5670ad" stroke="none" stroke-width="1" fill-opacity="0.85"/>
<rect x="300.50" y="135.35" width="2.80" height="2.80" fill="#5670ad" stroke="none" stroke-width="1" fill-opacity="0.85"/>
<rect x="299.83" y="136.02" width="2.80" height="2.80" fill="#5670ad" stroke="none" stroke-width="1" fill-opacity="0.85"/>
<rect x="299.91" y="133.99" width="2.80" height="2.80" fill="#5670ad" stroke="none" stroke-width="1" fill-opacity="0.85"/>
<rect x="298.80" y="131.55" width="2.80" height="2.80" fill="#5670ad" stroke="none" stroke-width="1" fill-opacity="0.85"/>
<rect x="299.00" y="135.30" width="2.80" height="2.80" fill="#5670ad" stroke="none" stroke-width="1" fill-opacity="0.85"/>
<rect x="298.97" y="130.67" width="2.80" height="2.80" fill="#5670ad" stroke="none" stroke-width="1" fill-opacity="0.85"/>
<rect x="298.41" y="133.25" width="2.80" height="2.80" fill="#5670ad" stroke="none" stroke-width="1" fill-opacity="0.85"/>
<rect x="299.18" y="133.48" width="2.80" height="2.80" fill="#5670ad" stroke="none" stroke-width="1" fill-opacity="0.85"/>
<rect x="298.37" y="131.61" width="2.80" height="2.80" fill="#5670ad" stroke="none" stroke-width="1" fill-opacity="0.85"/>
<rect x="297.48" y="130.06" width="2.80" height="2.80" fill="#5670ad" stroke="none" stroke-width="1" fill-opacity="0.85"/>
<rect x="297.40" y="128.78" width="2.80" height="2.80" fill="#5670ad" stroke="none" stroke-width="1" fill-opacity="0.85"/>
<rect x="297.17" y="128.22" width="2.80" height="2.80" fill="#5670ad" stroke="none" stroke-width="1" fill-opacity="0.85"/>
<rect x="296.87" y="129.30" width="2.80" height="2.80" fill="#5670ad" stroke="none" stroke-width="1" fill-opacity="0.85"/>
<rect x="296.60" y="126.95" width="2.80" height="2.80" fill="#5670ad" stroke="none" stroke-width="1" fill-opacity="0.85"/>
<rect x="295.76" y="123.53" width="2.80" height="2.80" fill="#5670ad" stroke="none" stroke-width="1" fill-opacity="0.85"/>
<rect x="295.34" y="124.99" width="2.80" height="2.80" fill="#5670ad" stroke="none" stroke-width="1" fill-opacity="0.85"/>
<rect x="294.50" y="124.97" width="2.80" height="2.80" fill="#5670ad" stroke="none" stroke-width="1" fill-opacity="0.85"/>
<rect x="294.27" y="123.25" width="2.80" height="2.80" fill="#5670ad" stroke="none" stroke-width="1" fill-opacity="0.85"/>
<rect x="293.78" y="120.83" width="2.80" height="2.80" fill="#5670ad" stroke="none" stroke-width="1" fill-opacity="0.85"/>
<rect x="294.28" y="120.64" width="2.80" height="2.80" fill="#5670ad" stroke="none" stroke-width="1" fill-opacity="0.85"/>
<rect x="293.37" y="121.19" width="2.80" height="2.80" fill="#5670ad" stroke="none" stroke-width="1" fill-opacity="0.85"/>
<rect x="292.62" y="120.81" width="2.80" height="2.80" fill="#5670ad" stroke="none" stroke-width="1" fill-opacity="0.85"/>
<rect x="291.80" y="122.86" width="2.80" height="2.80" fill="#5670ad" stroke="none" stroke-width="1" fill-opacity="0.85"/>
<rect x="292.12" y="120.76" width="2.80" height="2.80" fill="#5670ad" stroke="none" stroke-width="1" fill-opacity="0.85"/>
<rect x="290.60" y="122.94" width="2.80" height="2.80" fill="#5670ad" stroke="none" stroke-width="1" fill-opacity="0.85"/>
<rect x="289.45" y="122.65" width="2.80" height="2.80" fill="#5670ad" stroke="none" stroke-width="1" fill-opacity="0.85"/>
<rect x="288.30" y="122.51" width="2.80" height="2.80" fill="#5670ad" stroke="none" stroke-width="1" fill-opacity="0.85"/>
<rect x="287.50" y="123.24" width="2.80" height="2.80" fill="#5670ad" stroke="none" stroke-width="1" fill-opacity="0.85"/>
<rect x="286.05" y="120.38" width="2.80" height="2.80" fill="#5670ad" stroke="none" stroke-width="1" fill-opacity="0.85"/>
<rect x="284.68" y="120.55" width="2.80" height="2.80" fill="#5670ad" stroke="none" stroke-width="1" fill-opacity="0.85"/>
<rect x="283.20" y="123.76" width="2.80" height="2.80" fill="#5670ad" stroke="none" stroke-width="1" fill-opacity="0.85"/>
<rect x="281.66" y="121.40" width="2.80" height="2.80" fill="#5670ad" stroke="none" stroke-width="1" fill-opacity="0.85"/>
<rect x="280.51" y="122.41" width="2.80" height="2.80" fill="#5670ad" stroke="none" stroke-width="1" fill-opacity="0.85"/>
<rect x="278.30" y="121.97" width="2.80" height="2.80" fill="#5670ad" stroke="none" stroke-width="1" fill-opacity="0.85"/>
<rect x="278.27" y="122.28" width="2.80" height="2.80" fill="#5670ad" stroke="none" stroke-width="1" fill-opacity="0.85"/>
<rect x="276.73" y="122.54" width="2.80" height="2.80" fill="#5670ad" stroke="none" stroke-width="1" fill-opacity="0.85"/>
<rect x="275.04" y="122.69" width="2.80" height="2.80" fill="#5670ad" stroke="none" stroke-width="1" fill-opacity="0.85"/>
<rect x="274.95" y="123.92" width="2.80" height="2.80" fill="#5670ad" stroke="none" stroke-width="1" fill-opacity="0.85"/>
<rect x="273.87" y="121.50" width="2.80" height="2.80" fill="#5670ad" stroke="none" stroke-width="1" fill-opacity="0.85"/>
<rect x="273.60" y="125.30" width="2.80" height="2.80" fill="#5670ad" stroke="none" stroke-width="1" fill-opacity="0.85"/>
<rect x="272.71" y="126.35" width="2.80" height="2.80" fill="#5670ad" stroke="none" stroke-width="1" fill-opacity="0.85"/>
<rect x="271.32" y="124.37" width="2.80" height="2.80" fill="#5670ad" stroke="none" stroke-width="1" fill-opacity="0.85"/>
<rect x="270.84" y="127.41" width="2.80" height="2.80" fill="#5670ad" stroke="none" stroke-width="1" fill-opacity="0.85"/>
<rect x="269.26" y="125.44" width="2.80" height="2.80" fill="#5670ad" stroke="none" stroke-width="1" fill-opacity="0.85"/>
<rect x="268.90" y="126.71" width="2.80" height="2.80" fill="#5670ad" stroke="none" stroke-width="1" fill-opacity="0.85"/>
<rect x="269.05" y="125.98" width="2.80" height="2.80" fill="#5670ad" stroke="none" stroke-width="1" fill-opacity="0.85"/>
<rect x="267.29" y="126.65" width="2.80" height="2.80" fill="#5670ad" stroke="none" stroke-width="1" fill-opacity="0.85"/>
<rect x="267.05" y="124.94" width="2.80" height="2.80" fill="#5670ad" stroke="none" stroke-width="1" fill-opacity="0.85"/>
<rect x="266.95" y="126.27" width="2.80" height="2.80" fill="#5670ad" stroke="none" stroke-width="1" fill-opacity="0.85"/>
<rect x="266.37" y="125.32" width="2.80" height="2.80" fill="#5670ad" stroke="none" stroke-width="1" fill-opacity="0.85"/>
<rect x="265.77" y="124.75" width="2.80" height="2.80" fill="#5670ad" stroke="none" stroke-width="1" fill-opacity="0.85"/>
<rect x="265.47" y="123.92" width="2.80" height="2.80" fill="#5670ad" stroke="none" stroke-width="1" fill-opacity="0.85"/>
<rect x="265.36" y="125.21" width="2.80" height="2.80" fill="#5670ad" stroke="none" stroke-width="1" fill-opacity="0.85"/>
<rect x="264.00" y="124.93" width="2.80" height="2.80" fill="#5670ad" stroke="none" stroke-width="1" fill-opacity="0.85"/>
<rect x="264.59" y="123.60" width="2.80" height="2.80" fill="#5670ad" stroke="none" stroke-width="1" fill-opacity="0.85"/>
<rect x="264.00" y="124.52" width="2.80" height="2.80" fill="#5670ad" stroke="none" stroke-width="1" fill-opacity="0.85"/>
<line x1="266.60" y1="91.90" x2="266.60" y2="125.60" stroke="#5670ad" stroke-width="0.8"/>
<rect x="265.50" y="108.90" width="2.20" height="2.20" fill="#5670ad" stroke="none" stroke-width="1"/>
<rect x="265.50" y="99.90" width="2.20" height="2.20" fill="#5670ad" stroke="none" stroke-width="1"/>
<line x1="428.40" y1="47.10" x2="428.40" y2="80.90" stroke="#5670ad" stroke-width="0.8"/>
<rect x="427.30" y="55.50" width="2.20" height="2.20" fill="#5670ad" stroke="none" stroke-width="1"/>
<rect x="358.10" y="113.50" width="60.20" height="26.30" fill="#fff" stroke="#555" stroke-width="0.6"/>
<g transform="translate(350,105) scale(0.13139)" fill="none" stroke="#4a61a0" stroke-width="9">
<path d="M 85,190 C 150,150 200,100 235,100 C 270,100 300,120 340,140 C 380,155 440,158 485,160"/>
<path d="M 85,190 C 150,188 230,168 282,143"/>
<path d="M 287,170 C 310,140 330,112 355,112 C 380,112 440,150 485,160"/>
<path d="M 485,160 C 440,172 380,168 330,140"/>
<path d="M 85,190 C 100,182 120,178 140,172"/>
</g>
<line x1="358.10" y1="139.80" x2="358.10" y2="138.60" stroke="#555" stroke-width="0.5"/>
<text x="358.10" y="143.55" font-size="4.6" text-anchor="middle" fill="#333">-8</text>
<line x1="365.62" y1="139.80" x2="365.62" y2="138.60" stroke="#555" stroke-width="0.5"/>
<text x="365.62" y="143.55" font-size="4.6" text-anchor="middle" fill="#333">-6</text>
<line x1="373.15" y1="139.80" x2="373.15" y2="138.60" stroke="#555" stroke-width="0.5"/>
<text x="373.15" y="143.55" font-size="4.6" text-anchor="middle" fill="#333">-4</text>
<line x1="380.68" y1="139.80" x2="380.68" y2="138.60" stroke="#555" stroke-width="0.5"/>
<text x="380.68" y="143.55" font-size="4.6" text-anchor="middle" fill="#333">-2</text>
<line x1="388.20" y1="139.80" x2="388.20" y2="138.60" stroke="#555" stroke-width="0.5"/>
<text x="388.20" y="143.55" font-size="4.6" text-anchor="middle" fill="#333">0</text>
<line x1="395.73" y1="139.80" x2="395.73" y2="138.60" stroke="#555" stroke-width="0.5"/>
<text x="395.73" y="143.55" font-size="4.6" text-anchor="middle" fill="#333">2</text>
<line x1="403.25" y1="139.80" x2="403.25" y2="138.60" stroke="#555" stroke-width="0.5"/>
<text x="403.25" y="143.55" font-size="4.6" text-anchor="middle" fill="#333">4</text>
<line x1="410.78" y1="139.80" x2="410.78" y2="138.60" stroke="#555" stroke-width="0.5"/>
<text x="410.78" y="143.55" font-size="4.6" text-anchor="middle" fill="#333">6</text>
<line x1="418.30" y1="139.80" x2="418.30" y2="138.60" stroke="#555" stroke-width="0.5"/>
<text x="418.30" y="143.55" font-size="4.6" text-anchor="middle" fill="#333">8</text>
<line x1="418.30" y1="113.50" x2="417.10" y2="113.50" stroke="#555" stroke-width="0.5"/>
<text x="419.30" y="115.04" font-size="4.3" text-anchor="start" fill="#333">21</text>
<line x1="418.30" y1="126.60" x2="417.10" y2="126.60" stroke="#555" stroke-width="0.5"/>
<text x="419.30" y="128.14" font-size="4.3" text-anchor="start" fill="#333">18</text>
<line x1="418.30" y1="139.80" x2="417.10" y2="139.80" stroke="#555" stroke-width="0.5"/>
<text x="419.30" y="141.34" font-size="4.3" text-anchor="start" fill="#333">15</text>
<text x="388.40" y="149.60" font-size="5.7" text-anchor="middle" fill="#222">Electric field (MV/cm)</text>
<text x="431.00" y="126.30" font-size="5.7" text-anchor="middle" fill="#222" transform="rotate(-90 431.00 126.30)">Dielectric constant</text>
<text x="276.70" y="39.30" font-size="11.2" text-anchor="start" fill="#000" font-weight="bold">4 nm</text>
<line x1="262.00" y1="18.40" x2="433.70" y2="18.40" stroke="#8a8a8a" stroke-width="1"/>
<line x1="262.00" y1="153.80" x2="433.70" y2="153.80" stroke="#8a8a8a" stroke-width="1"/>
<line x1="262.00" y1="18.40" x2="262.00" y2="153.80" stroke="#aab6d6" stroke-width="1"/>
<line x1="433.70" y1="18.40" x2="433.70" y2="153.80" stroke="#aab6d6" stroke-width="1"/>
<line x1="262.00" y1="153.80" x2="262.00" y2="151.60" stroke="#8a8a8a" stroke-width="1"/>
<text x="262.00" y="163.95" font-size="8.8" text-anchor="middle" fill="#1a1a1a">-10</text>
<line x1="279.17" y1="153.80" x2="279.17" y2="151.60" stroke="#8a8a8a" stroke-width="1"/>
<text x="279.17" y="163.95" font-size="8.8" text-anchor="middle" fill="#1a1a1a">-8</text>
<line x1="296.34" y1="153.80" x2="296.34" y2="151.60" stroke="#8a8a8a" stroke-width="1"/>
<text x="296.34" y="163.95" font-size="8.8" text-anchor="middle" fill="#1a1a1a">-6</text>
<line x1="313.51" y1="153.80" x2="313.51" y2="151.60" stroke="#8a8a8a" stroke-width="1"/>
<text x="313.51" y="163.95" font-size="8.8" text-anchor="middle" fill="#1a1a1a">-4</text>
<line x1="330.68" y1="153.80" x2="330.68" y2="151.60" stroke="#8a8a8a" stroke-width="1"/>
<text x="330.68" y="163.95" font-size="8.8" text-anchor="middle" fill="#1a1a1a">-2</text>
<line x1="347.85" y1="153.80" x2="347.85" y2="151.60" stroke="#8a8a8a" stroke-width="1"/>
<text x="347.85" y="163.95" font-size="8.8" text-anchor="middle" fill="#1a1a1a">0</text>
<line x1="365.02" y1="153.80" x2="365.02" y2="151.60" stroke="#8a8a8a" stroke-width="1"/>
<text x="365.02" y="163.95" font-size="8.8" text-anchor="middle" fill="#1a1a1a">2</text>
<line x1="382.19" y1="153.80" x2="382.19" y2="151.60" stroke="#8a8a8a" stroke-width="1"/>
<text x="382.19" y="163.95" font-size="8.8" text-anchor="middle" fill="#1a1a1a">4</text>
<line x1="399.36" y1="153.80" x2="399.36" y2="151.60" stroke="#8a8a8a" stroke-width="1"/>
<text x="399.36" y="163.95" font-size="8.8" text-anchor="middle" fill="#1a1a1a">6</text>
<line x1="416.53" y1="153.80" x2="416.53" y2="151.60" stroke="#8a8a8a" stroke-width="1"/>
<text x="416.53" y="163.95" font-size="8.8" text-anchor="middle" fill="#1a1a1a">8</text>
<line x1="433.70" y1="153.80" x2="433.70" y2="151.60" stroke="#8a8a8a" stroke-width="1"/>
<text x="433.70" y="163.95" font-size="8.8" text-anchor="middle" fill="#1a1a1a">10</text>
<line x1="270.59" y1="153.80" x2="270.59" y2="152.50" stroke="#8a8a8a" stroke-width="1"/>
<line x1="287.75" y1="153.80" x2="287.75" y2="152.50" stroke="#8a8a8a" stroke-width="1"/>
<line x1="304.93" y1="153.80" x2="304.93" y2="152.50" stroke="#8a8a8a" stroke-width="1"/>
<line x1="322.10" y1="153.80" x2="322.10" y2="152.50" stroke="#8a8a8a" stroke-width="1"/>
<line x1="339.27" y1="153.80" x2="339.27" y2="152.50" stroke="#8a8a8a" stroke-width="1"/>
<line x1="356.44" y1="153.80" x2="356.44" y2="152.50" stroke="#8a8a8a" stroke-width="1"/>
<line x1="373.61" y1="153.80" x2="373.61" y2="152.50" stroke="#8a8a8a" stroke-width="1"/>
<line x1="390.78" y1="153.80" x2="390.78" y2="152.50" stroke="#8a8a8a" stroke-width="1"/>
<line x1="407.95" y1="153.80" x2="407.95" y2="152.50" stroke="#8a8a8a" stroke-width="1"/>
<line x1="425.12" y1="153.80" x2="425.12" y2="152.50" stroke="#8a8a8a" stroke-width="1"/>
<line x1="262.00" y1="144.15" x2="264.20" y2="144.15" stroke="#aab6d6" stroke-width="1"/>
<text x="259.20" y="147.30" font-size="8.8" text-anchor="end" fill="#4b5e9b">-30</text>
<line x1="262.00" y1="124.80" x2="264.20" y2="124.80" stroke="#aab6d6" stroke-width="1"/>
<text x="259.20" y="127.95" font-size="8.8" text-anchor="end" fill="#4b5e9b">-20</text>
<line x1="262.00" y1="105.45" x2="264.20" y2="105.45" stroke="#aab6d6" stroke-width="1"/>
<text x="259.20" y="108.60" font-size="8.8" text-anchor="end" fill="#4b5e9b">-10</text>
<line x1="262.00" y1="86.10" x2="264.20" y2="86.10" stroke="#aab6d6" stroke-width="1"/>
<text x="259.20" y="89.25" font-size="8.8" text-anchor="end" fill="#4b5e9b">0</text>
<line x1="262.00" y1="66.75" x2="264.20" y2="66.75" stroke="#aab6d6" stroke-width="1"/>
<text x="259.20" y="69.90" font-size="8.8" text-anchor="end" fill="#4b5e9b">10</text>
<line x1="262.00" y1="47.40" x2="264.20" y2="47.40" stroke="#aab6d6" stroke-width="1"/>
<text x="259.20" y="50.55" font-size="8.8" text-anchor="end" fill="#4b5e9b">20</text>
<line x1="262.00" y1="28.05" x2="264.20" y2="28.05" stroke="#aab6d6" stroke-width="1"/>
<text x="259.20" y="31.20" font-size="8.8" text-anchor="end" fill="#4b5e9b">30</text>
<line x1="262.00" y1="134.47" x2="263.30" y2="134.47" stroke="#aab6d6" stroke-width="1"/>
<line x1="262.00" y1="115.12" x2="263.30" y2="115.12" stroke="#aab6d6" stroke-width="1"/>
<line x1="262.00" y1="95.77" x2="263.30" y2="95.77" stroke="#aab6d6" stroke-width="1"/>
<line x1="262.00" y1="76.42" x2="263.30" y2="76.42" stroke="#aab6d6" stroke-width="1"/>
<line x1="262.00" y1="57.07" x2="263.30" y2="57.07" stroke="#aab6d6" stroke-width="1"/>
<line x1="262.00" y1="37.72" x2="263.30" y2="37.72" stroke="#aab6d6" stroke-width="1"/>
<line x1="433.70" y1="153.81" x2="431.50" y2="153.81" stroke="#aab6d6" stroke-width="1"/>
<text x="437.00" y="156.96" font-size="8.8" text-anchor="start" fill="#4b5e9b">-3</text>
<line x1="433.70" y1="131.24" x2="431.50" y2="131.24" stroke="#aab6d6" stroke-width="1"/>
<text x="437.00" y="134.39" font-size="8.8" text-anchor="start" fill="#4b5e9b">-2</text>
<line x1="433.70" y1="108.67" x2="431.50" y2="108.67" stroke="#aab6d6" stroke-width="1"/>
<text x="437.00" y="111.82" font-size="8.8" text-anchor="start" fill="#4b5e9b">-1</text>
<line x1="433.70" y1="86.10" x2="431.50" y2="86.10" stroke="#aab6d6" stroke-width="1"/>
<text x="437.00" y="89.25" font-size="8.8" text-anchor="start" fill="#4b5e9b">0</text>
<line x1="433.70" y1="63.53" x2="431.50" y2="63.53" stroke="#aab6d6" stroke-width="1"/>
<text x="437.00" y="66.68" font-size="8.8" text-anchor="start" fill="#4b5e9b">1</text>
<line x1="433.70" y1="40.96" x2="431.50" y2="40.96" stroke="#aab6d6" stroke-width="1"/>
<text x="437.00" y="44.11" font-size="8.8" text-anchor="start" fill="#4b5e9b">2</text>
<line x1="433.70" y1="18.39" x2="431.50" y2="18.39" stroke="#aab6d6" stroke-width="1"/>
<text x="437.00" y="21.54" font-size="8.8" text-anchor="start" fill="#4b5e9b">3</text>
<line x1="433.70" y1="142.52" x2="432.40" y2="142.52" stroke="#aab6d6" stroke-width="1"/>
<line x1="433.70" y1="119.95" x2="432.40" y2="119.95" stroke="#aab6d6" stroke-width="1"/>
<line x1="433.70" y1="97.38" x2="432.40" y2="97.38" stroke="#aab6d6" stroke-width="1"/>
<line x1="433.70" y1="74.81" x2="432.40" y2="74.81" stroke="#aab6d6" stroke-width="1"/>
<line x1="433.70" y1="52.24" x2="432.40" y2="52.24" stroke="#aab6d6" stroke-width="1"/>
<line x1="433.70" y1="29.67" x2="432.40" y2="29.67" stroke="#aab6d6" stroke-width="1"/>
<text x="347.90" y="176.00" font-size="9.57" text-anchor="middle" fill="#1a1a1a">Electric field (MV/cm)</text>
<text x="243.50" y="86.45" font-size="9.6" text-anchor="middle" fill="#1a1a1a" transform="rotate(-90 243.50 86.45)">Polarization (μC/cm²)</text>
<text x="456.00" y="86.80" font-size="9.6" text-anchor="middle" fill="#1a1a1a" transform="rotate(-90 456.00 86.80)">Current (μA)</text>
<text x="462.30" y="9.50" font-size="14" text-anchor="start" fill="#000" font-weight="bold">c</text>
<defs><clipPath id="clipc"><rect x="493.5" y="18.4" width="170.79999999999995" height="136.6"/></clipPath></defs>
<g clip-path="url(#clipc)">
<polyline points="493.50,48.10 499.83,48.40 506.15,48.10 512.48,48.40 518.80,48.10 525.13,48.40 531.46,48.10 537.78,48.40 544.11,48.10 550.43,48.40 556.76,48.10 563.09,48.40 569.41,49.10 575.74,49.10 582.06,49.30 588.39,49.00 594.71,48.30 601.04,47.40 607.37,46.50 613.69,46.30 620.02,46.40 626.34,46.60 632.67,47.00 639.00,48.60 645.32,47.60 651.65,48.00 657.97,47.80 664.30,41.70" fill="none" stroke="#3a87c9" stroke-width="1.0" stroke-linejoin="round" stroke-linecap="round"/>
<circle cx="493.50" cy="48.10" r="2.00" fill="#5c9bd6" stroke="#3a87c9" stroke-width="0.8"/>
<circle cx="493.50" cy="48.10" r="0.50" fill="#ffffff" stroke="none" stroke-width="1" fill-opacity="0.6"/>
<circle cx="499.83" cy="48.40" r="2.00" fill="#5c9bd6" stroke="#3a87c9" stroke-width="0.8"/>
<circle cx="499.83" cy="48.40" r="0.50" fill="#ffffff" stroke="none" stroke-width="1" fill-opacity="0.6"/>
<circle cx="506.15" cy="48.10" r="2.00" fill="#5c9bd6" stroke="#3a87c9" stroke-width="0.8"/>
<circle cx="506.15" cy="48.10" r="0.50" fill="#ffffff" stroke="none" stroke-width="1" fill-opacity="0.6"/>
<circle cx="512.48" cy="48.40" r="2.00" fill="#5c9bd6" stroke="#3a87c9" stroke-width="0.8"/>
<circle cx="512.48" cy="48.40" r="0.50" fill="#ffffff" stroke="none" stroke-width="1" fill-opacity="0.6"/>
<circle cx="518.80" cy="48.10" r="2.00" fill="#5c9bd6" stroke="#3a87c9" stroke-width="0.8"/>
<circle cx="518.80" cy="48.10" r="0.50" fill="#ffffff" stroke="none" stroke-width="1" fill-opacity="0.6"/>
<circle cx="525.13" cy="48.40" r="2.00" fill="#5c9bd6" stroke="#3a87c9" stroke-width="0.8"/>
<circle cx="525.13" cy="48.40" r="0.50" fill="#ffffff" stroke="none" stroke-width="1" fill-opacity="0.6"/>
<circle cx="531.46" cy="48.10" r="2.00" fill="#5c9bd6" stroke="#3a87c9" stroke-width="0.8"/>
<circle cx="531.46" cy="48.10" r="0.50" fill="#ffffff" stroke="none" stroke-width="1" fill-opacity="0.6"/>
<circle cx="537.78" cy="48.40" r="2.00" fill="#5c9bd6" stroke="#3a87c9" stroke-width="0.8"/>
<circle cx="537.78" cy="48.40" r="0.50" fill="#ffffff" stroke="none" stroke-width="1" fill-opacity="0.6"/>
<circle cx="544.11" cy="48.10" r="2.00" fill="#5c9bd6" stroke="#3a87c9" stroke-width="0.8"/>
<circle cx="544.11" cy="48.10" r="0.50" fill="#ffffff" stroke="none" stroke-width="1" fill-opacity="0.6"/>
<circle cx="550.43" cy="48.40" r="2.00" fill="#5c9bd6" stroke="#3a87c9" stroke-width="0.8"/>
<circle cx="550.43" cy="48.40" r="0.50" fill="#ffffff" stroke="none" stroke-width="1" fill-opacity="0.6"/>
<circle cx="556.76" cy="48.10" r="2.00" fill="#5c9bd6" stroke="#3a87c9" stroke-width="0.8"/>
<circle cx="556.76" cy="48.10" r="0.50" fill="#ffffff" stroke="none" stroke-width="1" fill-opacity="0.6"/>
<circle cx="563.09" cy="48.40" r="2.00" fill="#5c9bd6" stroke="#3a87c9" stroke-width="0.8"/>
<circle cx="563.09" cy="48.40" r="0.50" fill="#ffffff" stroke="none" stroke-width="1" fill-opacity="0.6"/>
<circle cx="569.41" cy="49.10" r="2.00" fill="#5c9bd6" stroke="#3a87c9" stroke-width="0.8"/>
<circle cx="569.41" cy="49.10" r="0.50" fill="#ffffff" stroke="none" stroke-width="1" fill-opacity="0.6"/>
<circle cx="575.74" cy="49.10" r="2.00" fill="#5c9bd6" stroke="#3a87c9" stroke-width="0.8"/>
<circle cx="575.74" cy="49.10" r="0.50" fill="#ffffff" stroke="none" stroke-width="1" fill-opacity="0.6"/>
<circle cx="582.06" cy="49.30" r="2.00" fill="#5c9bd6" stroke="#3a87c9" stroke-width="0.8"/>
<circle cx="582.06" cy="49.30" r="0.50" fill="#ffffff" stroke="none" stroke-width="1" fill-opacity="0.6"/>
<circle cx="588.39" cy="49.00" r="2.00" fill="#5c9bd6" stroke="#3a87c9" stroke-width="0.8"/>
<circle cx="588.39" cy="49.00" r="0.50" fill="#ffffff" stroke="none" stroke-width="1" fill-opacity="0.6"/>
<circle cx="594.71" cy="48.30" r="2.00" fill="#5c9bd6" stroke="#3a87c9" stroke-width="0.8"/>
<circle cx="594.71" cy="48.30" r="0.50" fill="#ffffff" stroke="none" stroke-width="1" fill-opacity="0.6"/>
<circle cx="601.04" cy="47.40" r="2.00" fill="#5c9bd6" stroke="#3a87c9" stroke-width="0.8"/>
<circle cx="601.04" cy="47.40" r="0.50" fill="#ffffff" stroke="none" stroke-width="1" fill-opacity="0.6"/>
<circle cx="607.37" cy="46.50" r="2.00" fill="#5c9bd6" stroke="#3a87c9" stroke-width="0.8"/>
<circle cx="607.37" cy="46.50" r="0.50" fill="#ffffff" stroke="none" stroke-width="1" fill-opacity="0.6"/>
<circle cx="613.69" cy="46.30" r="2.00" fill="#5c9bd6" stroke="#3a87c9" stroke-width="0.8"/>
<circle cx="613.69" cy="46.30" r="0.50" fill="#ffffff" stroke="none" stroke-width="1" fill-opacity="0.6"/>
<circle cx="620.02" cy="46.40" r="2.00" fill="#5c9bd6" stroke="#3a87c9" stroke-width="0.8"/>
<circle cx="620.02" cy="46.40" r="0.50" fill="#ffffff" stroke="none" stroke-width="1" fill-opacity="0.6"/>
<circle cx="626.34" cy="46.60" r="2.00" fill="#5c9bd6" stroke="#3a87c9" stroke-width="0.8"/>
<circle cx="626.34" cy="46.60" r="0.50" fill="#ffffff" stroke="none" stroke-width="1" fill-opacity="0.6"/>
<circle cx="632.67" cy="47.00" r="2.00" fill="#5c9bd6" stroke="#3a87c9" stroke-width="0.8"/>
<circle cx="632.67" cy="47.00" r="0.50" fill="#ffffff" stroke="none" stroke-width="1" fill-opacity="0.6"/>
<circle cx="639.00" cy="48.60" r="2.00" fill="#5c9bd6" stroke="#3a87c9" stroke-width="0.8"/>
<circle cx="639.00" cy="48.60" r="0.50" fill="#ffffff" stroke="none" stroke-width="1" fill-opacity="0.6"/>
<circle cx="645.32" cy="47.60" r="2.00" fill="#5c9bd6" stroke="#3a87c9" stroke-width="0.8"/>
<circle cx="645.32" cy="47.60" r="0.50" fill="#ffffff" stroke="none" stroke-width="1" fill-opacity="0.6"/>
<circle cx="651.65" cy="48.00" r="2.00" fill="#5c9bd6" stroke="#3a87c9" stroke-width="0.8"/>
<circle cx="651.65" cy="48.00" r="0.50" fill="#ffffff" stroke="none" stroke-width="1" fill-opacity="0.6"/>
<circle cx="657.97" cy="47.80" r="2.00" fill="#5c9bd6" stroke="#3a87c9" stroke-width="0.8"/>
<circle cx="657.97" cy="47.80" r="0.50" fill="#ffffff" stroke="none" stroke-width="1" fill-opacity="0.6"/>
<circle cx="664.30" cy="41.70" r="2.00" fill="#5c9bd6" stroke="#3a87c9" stroke-width="0.8"/>
<circle cx="664.30" cy="41.70" r="0.50" fill="#ffffff" stroke="none" stroke-width="1" fill-opacity="0.6"/>
<polyline points="493.50,125.40 499.83,125.40 506.15,125.40 512.48,125.40 518.80,125.40 525.13,125.40 531.46,125.40 537.78,125.40 544.11,125.40 550.43,125.40 556.76,125.40 563.09,125.40 569.41,123.60 575.74,123.60 582.06,123.60 588.39,123.60 594.71,123.60 601.04,123.60 607.37,125.20 613.69,125.20 620.02,125.20 626.34,125.20 632.67,125.20 639.00,123.60 645.32,123.60 651.65,123.60 657.97,124.50 664.30,129.00" fill="none" stroke="#3a87c9" stroke-width="1.0" stroke-linejoin="round" stroke-linecap="round"/>
<circle cx="493.50" cy="125.40" r="2.00" fill="#5c9bd6" stroke="#3a87c9" stroke-width="0.8"/>
<circle cx="493.50" cy="125.40" r="0.50" fill="#ffffff" stroke="none" stroke-width="1" fill-opacity="0.6"/>
<circle cx="499.83" cy="125.40" r="2.00" fill="#5c9bd6" stroke="#3a87c9" stroke-width="0.8"/>
<circle cx="499.83" cy="125.40" r="0.50" fill="#ffffff" stroke="none" stroke-width="1" fill-opacity="0.6"/>
<circle cx="506.15" cy="125.40" r="2.00" fill="#5c9bd6" stroke="#3a87c9" stroke-width="0.8"/>
<circle cx="506.15" cy="125.40" r="0.50" fill="#ffffff" stroke="none" stroke-width="1" fill-opacity="0.6"/>
<circle cx="512.48" cy="125.40" r="2.00" fill="#5c9bd6" stroke="#3a87c9" stroke-width="0.8"/>
<circle cx="512.48" cy="125.40" r="0.50" fill="#ffffff" stroke="none" stroke-width="1" fill-opacity="0.6"/>
<circle cx="518.80" cy="125.40" r="2.00" fill="#5c9bd6" stroke="#3a87c9" stroke-width="0.8"/>
<circle cx="518.80" cy="125.40" r="0.50" fill="#ffffff" stroke="none" stroke-width="1" fill-opacity="0.6"/>
<circle cx="525.13" cy="125.40" r="2.00" fill="#5c9bd6" stroke="#3a87c9" stroke-width="0.8"/>
<circle cx="525.13" cy="125.40" r="0.50" fill="#ffffff" stroke="none" stroke-width="1" fill-opacity="0.6"/>
<circle cx="531.46" cy="125.40" r="2.00" fill="#5c9bd6" stroke="#3a87c9" stroke-width="0.8"/>
<circle cx="531.46" cy="125.40" r="0.50" fill="#ffffff" stroke="none" stroke-width="1" fill-opacity="0.6"/>
<circle cx="537.78" cy="125.40" r="2.00" fill="#5c9bd6" stroke="#3a87c9" stroke-width="0.8"/>
<circle cx="537.78" cy="125.40" r="0.50" fill="#ffffff" stroke="none" stroke-width="1" fill-opacity="0.6"/>
<circle cx="544.11" cy="125.40" r="2.00" fill="#5c9bd6" stroke="#3a87c9" stroke-width="0.8"/>
<circle cx="544.11" cy="125.40" r="0.50" fill="#ffffff" stroke="none" stroke-width="1" fill-opacity="0.6"/>
<circle cx="550.43" cy="125.40" r="2.00" fill="#5c9bd6" stroke="#3a87c9" stroke-width="0.8"/>
<circle cx="550.43" cy="125.40" r="0.50" fill="#ffffff" stroke="none" stroke-width="1" fill-opacity="0.6"/>
<circle cx="556.76" cy="125.40" r="2.00" fill="#5c9bd6" stroke="#3a87c9" stroke-width="0.8"/>
<circle cx="556.76" cy="125.40" r="0.50" fill="#ffffff" stroke="none" stroke-width="1" fill-opacity="0.6"/>
<circle cx="563.09" cy="125.40" r="2.00" fill="#5c9bd6" stroke="#3a87c9" stroke-width="0.8"/>
<circle cx="563.09" cy="125.40" r="0.50" fill="#ffffff" stroke="none" stroke-width="1" fill-opacity="0.6"/>
<circle cx="569.41" cy="123.60" r="2.00" fill="#5c9bd6" stroke="#3a87c9" stroke-width="0.8"/>
<circle cx="569.41" cy="123.60" r="0.50" fill="#ffffff" stroke="none" stroke-width="1" fill-opacity="0.6"/>
<circle cx="575.74" cy="123.60" r="2.00" fill="#5c9bd6" stroke="#3a87c9" stroke-width="0.8"/>
<circle cx="575.74" cy="123.60" r="0.50" fill="#ffffff" stroke="none" stroke-width="1" fill-opacity="0.6"/>
<circle cx="582.06" cy="123.60" r="2.00" fill="#5c9bd6" stroke="#3a87c9" stroke-width="0.8"/>
<circle cx="582.06" cy="123.60" r="0.50" fill="#ffffff" stroke="none" stroke-width="1" fill-opacity="0.6"/>
<circle cx="588.39" cy="123.60" r="2.00" fill="#5c9bd6" stroke="#3a87c9" stroke-width="0.8"/>
<circle cx="588.39" cy="123.60" r="0.50" fill="#ffffff" stroke="none" stroke-width="1" fill-opacity="0.6"/>
<circle cx="594.71" cy="123.60" r="2.00" fill="#5c9bd6" stroke="#3a87c9" stroke-width="0.8"/>
<circle cx="594.71" cy="123.60" r="0.50" fill="#ffffff" stroke="none" stroke-width="1" fill-opacity="0.6"/>
<circle cx="601.04" cy="123.60" r="2.00" fill="#5c9bd6" stroke="#3a87c9" stroke-width="0.8"/>
<circle cx="601.04" cy="123.60" r="0.50" fill="#ffffff" stroke="none" stroke-width="1" fill-opacity="0.6"/>
<circle cx="607.37" cy="125.20" r="2.00" fill="#5c9bd6" stroke="#3a87c9" stroke-width="0.8"/>
<circle cx="607.37" cy="125.20" r="0.50" fill="#ffffff" stroke="none" stroke-width="1" fill-opacity="0.6"/>
<circle cx="613.69" cy="125.20" r="2.00" fill="#5c9bd6" stroke="#3a87c9" stroke-width="0.8"/>
<circle cx="613.69" cy="125.20" r="0.50" fill="#ffffff" stroke="none" stroke-width="1" fill-opacity="0.6"/>
<circle cx="620.02" cy="125.20" r="2.00" fill="#5c9bd6" stroke="#3a87c9" stroke-width="0.8"/>
<circle cx="620.02" cy="125.20" r="0.50" fill="#ffffff" stroke="none" stroke-width="1" fill-opacity="0.6"/>
<circle cx="626.34" cy="125.20" r="2.00" fill="#5c9bd6" stroke="#3a87c9" stroke-width="0.8"/>
<circle cx="626.34" cy="125.20" r="0.50" fill="#ffffff" stroke="none" stroke-width="1" fill-opacity="0.6"/>
<circle cx="632.67" cy="125.20" r="2.00" fill="#5c9bd6" stroke="#3a87c9" stroke-width="0.8"/>
<circle cx="632.67" cy="125.20" r="0.50" fill="#ffffff" stroke="none" stroke-width="1" fill-opacity="0.6"/>
<circle cx="639.00" cy="123.60" r="2.00" fill="#5c9bd6" stroke="#3a87c9" stroke-width="0.8"/>
<circle cx="639.00" cy="123.60" r="0.50" fill="#ffffff" stroke="none" stroke-width="1" fill-opacity="0.6"/>
<circle cx="645.32" cy="123.60" r="2.00" fill="#5c9bd6" stroke="#3a87c9" stroke-width="0.8"/>
<circle cx="645.32" cy="123.60" r="0.50" fill="#ffffff" stroke="none" stroke-width="1" fill-opacity="0.6"/>
<circle cx="651.65" cy="123.60" r="2.00" fill="#5c9bd6" stroke="#3a87c9" stroke-width="0.8"/>
<circle cx="651.65" cy="123.60" r="0.50" fill="#ffffff" stroke="none" stroke-width="1" fill-opacity="0.6"/>
<circle cx="657.97" cy="124.50" r="2.00" fill="#5c9bd6" stroke="#3a87c9" stroke-width="0.8"/>
<circle cx="657.97" cy="124.50" r="0.50" fill="#ffffff" stroke="none" stroke-width="1" fill-opacity="0.6"/>
<circle cx="664.30" cy="129.00" r="2.00" fill="#5c9bd6" stroke="#3a87c9" stroke-width="0.8"/>
<circle cx="664.30" cy="129.00" r="0.50" fill="#ffffff" stroke="none" stroke-width="1" fill-opacity="0.6"/>
<polyline points="493.50,46.50 499.83,47.20 506.15,43.00 512.48,45.00 518.80,43.20 525.13,46.30 531.46,45.00 537.78,43.60 544.11,43.60 550.43,45.90 556.76,45.90 563.09,43.60 569.41,46.50 575.74,46.50 582.06,41.70 585.90,16.00" fill="none" stroke="#e07868" stroke-width="1.0" stroke-linejoin="round" stroke-linecap="round"/>
<circle cx="493.50" cy="46.50" r="2.00" fill="#ec968b" stroke="#e07868" stroke-width="0.8"/>
<circle cx="493.50" cy="46.50" r="0.50" fill="#ffffff" stroke="none" stroke-width="1" fill-opacity="0.6"/>
<circle cx="499.83" cy="47.20" r="2.00" fill="#ec968b" stroke="#e07868" stroke-width="0.8"/>
<circle cx="499.83" cy="47.20" r="0.50" fill="#ffffff" stroke="none" stroke-width="1" fill-opacity="0.6"/>
<circle cx="506.15" cy="43.00" r="2.00" fill="#ec968b" stroke="#e07868" stroke-width="0.8"/>
<circle cx="506.15" cy="43.00" r="0.50" fill="#ffffff" stroke="none" stroke-width="1" fill-opacity="0.6"/>
<circle cx="512.48" cy="45.00" r="2.00" fill="#ec968b" stroke="#e07868" stroke-width="0.8"/>
<circle cx="512.48" cy="45.00" r="0.50" fill="#ffffff" stroke="none" stroke-width="1" fill-opacity="0.6"/>
<circle cx="518.80" cy="43.20" r="2.00" fill="#ec968b" stroke="#e07868" stroke-width="0.8"/>
<circle cx="518.80" cy="43.20" r="0.50" fill="#ffffff" stroke="none" stroke-width="1" fill-opacity="0.6"/>
<circle cx="525.13" cy="46.30" r="2.00" fill="#ec968b" stroke="#e07868" stroke-width="0.8"/>
<circle cx="525.13" cy="46.30" r="0.50" fill="#ffffff" stroke="none" stroke-width="1" fill-opacity="0.6"/>
<circle cx="531.46" cy="45.00" r="2.00" fill="#ec968b" stroke="#e07868" stroke-width="0.8"/>
<circle cx="531.46" cy="45.00" r="0.50" fill="#ffffff" stroke="none" stroke-width="1" fill-opacity="0.6"/>
<circle cx="537.78" cy="43.60" r="2.00" fill="#ec968b" stroke="#e07868" stroke-width="0.8"/>
<circle cx="537.78" cy="43.60" r="0.50" fill="#ffffff" stroke="none" stroke-width="1" fill-opacity="0.6"/>
<circle cx="544.11" cy="43.60" r="2.00" fill="#ec968b" stroke="#e07868" stroke-width="0.8"/>
<circle cx="544.11" cy="43.60" r="0.50" fill="#ffffff" stroke="none" stroke-width="1" fill-opacity="0.6"/>
<circle cx="550.43" cy="45.90" r="2.00" fill="#ec968b" stroke="#e07868" stroke-width="0.8"/>
<circle cx="550.43" cy="45.90" r="0.50" fill="#ffffff" stroke="none" stroke-width="1" fill-opacity="0.6"/>
<circle cx="556.76" cy="45.90" r="2.00" fill="#ec968b" stroke="#e07868" stroke-width="0.8"/>
<circle cx="556.76" cy="45.90" r="0.50" fill="#ffffff" stroke="none" stroke-width="1" fill-opacity="0.6"/>
<circle cx="563.09" cy="43.60" r="2.00" fill="#ec968b" stroke="#e07868" stroke-width="0.8"/>
<circle cx="563.09" cy="43.60" r="0.50" fill="#ffffff" stroke="none" stroke-width="1" fill-opacity="0.6"/>
<circle cx="569.41" cy="46.50" r="2.00" fill="#ec968b" stroke="#e07868" stroke-width="0.8"/>
<circle cx="569.41" cy="46.50" r="0.50" fill="#ffffff" stroke="none" stroke-width="1" fill-opacity="0.6"/>
<circle cx="575.74" cy="46.50" r="2.00" fill="#ec968b" stroke="#e07868" stroke-width="0.8"/>
<circle cx="575.74" cy="46.50" r="0.50" fill="#ffffff" stroke="none" stroke-width="1" fill-opacity="0.6"/>
<circle cx="582.06" cy="41.70" r="2.00" fill="#ec968b" stroke="#e07868" stroke-width="0.8"/>
<circle cx="582.06" cy="41.70" r="0.50" fill="#ffffff" stroke="none" stroke-width="1" fill-opacity="0.6"/>
<polyline points="493.50,125.20 499.83,125.20 506.15,125.90 512.48,125.90 518.80,127.00 525.13,125.90 531.46,129.10 537.78,129.10 544.11,128.70 550.43,125.90 556.76,125.90 563.09,127.30 569.41,125.20 575.74,125.00 582.06,131.30 585.90,157.00" fill="none" stroke="#e07868" stroke-width="1.0" stroke-linejoin="round" stroke-linecap="round"/>
<circle cx="493.50" cy="125.20" r="2.00" fill="#ec968b" stroke="#e07868" stroke-width="0.8"/>
<circle cx="493.50" cy="125.20" r="0.50" fill="#ffffff" stroke="none" stroke-width="1" fill-opacity="0.6"/>
<circle cx="499.83" cy="125.20" r="2.00" fill="#ec968b" stroke="#e07868" stroke-width="0.8"/>
<circle cx="499.83" cy="125.20" r="0.50" fill="#ffffff" stroke="none" stroke-width="1" fill-opacity="0.6"/>
<circle cx="506.15" cy="125.90" r="2.00" fill="#ec968b" stroke="#e07868" stroke-width="0.8"/>
<circle cx="506.15" cy="125.90" r="0.50" fill="#ffffff" stroke="none" stroke-width="1" fill-opacity="0.6"/>
<circle cx="512.48" cy="125.90" r="2.00" fill="#ec968b" stroke="#e07868" stroke-width="0.8"/>
<circle cx="512.48" cy="125.90" r="0.50" fill="#ffffff" stroke="none" stroke-width="1" fill-opacity="0.6"/>
<circle cx="518.80" cy="127.00" r="2.00" fill="#ec968b" stroke="#e07868" stroke-width="0.8"/>
<circle cx="518.80" cy="127.00" r="0.50" fill="#ffffff" stroke="none" stroke-width="1" fill-opacity="0.6"/>
<circle cx="525.13" cy="125.90" r="2.00" fill="#ec968b" stroke="#e07868" stroke-width="0.8"/>
<circle cx="525.13" cy="125.90" r="0.50" fill="#ffffff" stroke="none" stroke-width="1" fill-opacity="0.6"/>
<circle cx="531.46" cy="129.10" r="2.00" fill="#ec968b" stroke="#e07868" stroke-width="0.8"/>
<circle cx="531.46" cy="129.10" r="0.50" fill="#ffffff" stroke="none" stroke-width="1" fill-opacity="0.6"/>
<circle cx="537.78" cy="129.10" r="2.00" fill="#ec968b" stroke="#e07868" stroke-width="0.8"/>
<circle cx="537.78" cy="129.10" r="0.50" fill="#ffffff" stroke="none" stroke-width="1" fill-opacity="0.6"/>
<circle cx="544.11" cy="128.70" r="2.00" fill="#ec968b" stroke="#e07868" stroke-width="0.8"/>
<circle cx="544.11" cy="128.70" r="0.50" fill="#ffffff" stroke="none" stroke-width="1" fill-opacity="0.6"/>
<circle cx="550.43" cy="125.90" r="2.00" fill="#ec968b" stroke="#e07868" stroke-width="0.8"/>
<circle cx="550.43" cy="125.90" r="0.50" fill="#ffffff" stroke="none" stroke-width="1" fill-opacity="0.6"/>
<circle cx="556.76" cy="125.90" r="2.00" fill="#ec968b" stroke="#e07868" stroke-width="0.8"/>
<circle cx="556.76" cy="125.90" r="0.50" fill="#ffffff" stroke="none" stroke-width="1" fill-opacity="0.6"/>
<circle cx="563.09" cy="127.30" r="2.00" fill="#ec968b" stroke="#e07868" stroke-width="0.8"/>
<circle cx="563.09" cy="127.30" r="0.50" fill="#ffffff" stroke="none" stroke-width="1" fill-opacity="0.6"/>
<circle cx="569.41" cy="125.20" r="2.00" fill="#ec968b" stroke="#e07868" stroke-width="0.8"/>
<circle cx="569.41" cy="125.20" r="0.50" fill="#ffffff" stroke="none" stroke-width="1" fill-opacity="0.6"/>
<circle cx="575.74" cy="125.00" r="2.00" fill="#ec968b" stroke="#e07868" stroke-width="0.8"/>
<circle cx="575.74" cy="125.00" r="0.50" fill="#ffffff" stroke="none" stroke-width="1" fill-opacity="0.6"/>
<circle cx="582.06" cy="131.30" r="2.00" fill="#ec968b" stroke="#e07868" stroke-width="0.8"/>
<circle cx="582.06" cy="131.30" r="0.50" fill="#ffffff" stroke="none" stroke-width="1" fill-opacity="0.6"/>
</g>
<line x1="593.00" y1="27.50" x2="609.70" y2="27.50" stroke="#3a87c9" stroke-width="1.1"/>
<circle cx="601.30" cy="27.50" r="2.00" fill="#5c9bd6" stroke="#3a87c9" stroke-width="0.8"/>
<circle cx="601.30" cy="27.50" r="0.50" fill="#fff" stroke="none" stroke-width="1" fill-opacity="0.6"/>
<line x1="593.00" y1="38.20" x2="609.70" y2="38.20" stroke="#e07868" stroke-width="1.1"/>
<circle cx="601.30" cy="38.20" r="2.00" fill="#ec968b" stroke="#e07868" stroke-width="0.8"/>
<circle cx="601.30" cy="38.20" r="0.50" fill="#fff" stroke="none" stroke-width="1" fill-opacity="0.6"/>
<text x="614.80" y="30.57" font-size="8.3" text-anchor="start" fill="#111" font-weight="bold">Superlattice</text>
<text x="614.80" y="41.27" font-size="8.3" text-anchor="start" fill="#111" font-weight="bold">HZO</text>
<line x1="524.30" y1="59.50" x2="524.30" y2="115.50" stroke="#000" stroke-width="1.9"/>
<path d="M 524.3,55.8 L 521.6,62 L 527.0,62 Z" fill="#000" stroke="none" stroke-width="1"/>
<line x1="523.40" y1="115.00" x2="648.50" y2="115.00" stroke="#000" stroke-width="1.9"/>
<path d="M 652.6,115 L 645.8,112.2 L 645.8,117.8 Z" fill="#000" stroke="none" stroke-width="1"/>
<line x1="524.30" y1="89.90" x2="645.10" y2="89.90" stroke="#000" stroke-width="1.6"/>
<line x1="526.90" y1="68.60" x2="545.50" y2="68.60" stroke="#000" stroke-width="1.1" stroke-dasharray="2.2,1.6"/>
<line x1="531.30" y1="111.30" x2="547.70" y2="111.30" stroke="#000" stroke-width="1.1" stroke-dasharray="2.2,1.6"/>
<polyline points="527.80,89.90 530.80,111.60 533.60,89.90 535.70,68.20 537.90,89.90" fill="none" stroke="#000" stroke-width="1.5" stroke-linejoin="round" stroke-linecap="round" stroke-linejoin="miter"/>
<polyline points="631.30,89.90 634.20,111.60 636.80,89.90 639.00,68.20 641.60,89.90" fill="none" stroke="#000" stroke-width="1.5" stroke-linejoin="round" stroke-linecap="round" stroke-linejoin="miter"/>
<path d="M 546.6,89.9 L 546.6,68.6 L 555.8,68.6 L 555.8,111.3 L 565.2,111.3 L 565.2,68.6 L 574.6,68.6 L 574.6,111.3 L 584.3,111.3 L 584.3,92.9" fill="none" stroke="#2a7fcb" stroke-width="1.5" stroke-linejoin="miter"/>
<path d="M 584.3,86.9 L 584.3,68.6 L 593.7,68.6 L 593.7,111.3 L 603.5,111.3 L 603.5,91.9" fill="none" stroke="#2a7fcb" stroke-width="1.5" stroke-dasharray="2.5,1.8"/>
<path d="M 603.5,87.9 L 603.5,68.6 L 612.7,68.6 L 612.7,111.3 L 622.1,111.3 L 622.1,89.9" fill="none" stroke="#2a7fcb" stroke-width="1.5" stroke-linejoin="miter"/>
<text x="520.40" y="71.07" font-size="6.9" text-anchor="end" fill="#000" font-weight="bold" stroke="#000" stroke-width="0.25">4 V</text>
<text x="520.40" y="92.37" font-size="6.9" text-anchor="end" fill="#000" font-weight="bold" stroke="#000" stroke-width="0.25">0 V</text>
<text x="520.40" y="115.27" font-size="6.9" text-anchor="end" fill="#000" font-weight="bold" stroke="#000" stroke-width="0.25">-4 V</text>
<text x="527.40" y="62.26" font-size="6.6" text-anchor="start" fill="#000" font-weight="bold" stroke="#000" stroke-width="0.25">Voltage</text>
<text x="639.60" y="109.36" font-size="6.6" text-anchor="start" fill="#000" font-weight="bold" stroke="#000" stroke-width="0.25">Time</text>
<text x="564.80" y="62.23" font-size="6.8" text-anchor="middle" fill="#ee7d22" font-weight="bold" stroke="#ee7d22" stroke-width="0.25">1 us</text>
<line x1="555.50" y1="59.50" x2="555.50" y2="71.50" stroke="#ee7d22" stroke-width="0.8" stroke-dasharray="1.5,1.2"/>
<line x1="576.00" y1="59.50" x2="576.00" y2="71.50" stroke="#ee7d22" stroke-width="0.8" stroke-dasharray="1.5,1.2"/>
<line x1="558.50" y1="65.30" x2="573.00" y2="65.30" stroke="#ee7d22" stroke-width="1.1"/>
<path d="M 555.8,65.3 L 560.2,63.0 L 560.2,67.6 Z" fill="#ee7d22" stroke="none" stroke-width="1"/>
<path d="M 575.7,65.3 L 571.3,63.0 L 571.3,67.6 Z" fill="#ee7d22" stroke="none" stroke-width="1"/>
<text x="628.80" y="145.01" font-size="11.2" text-anchor="start" fill="#000" font-weight="bold">6 nm</text>
<rect x="493.50" y="18.40" width="170.80" height="136.60" fill="none" stroke="#8a8a8a" stroke-width="1"/>
<line x1="493.50" y1="155.00" x2="493.50" y2="152.80" stroke="#8a8a8a" stroke-width="1"/>
<line x1="499.21" y1="155.00" x2="499.21" y2="153.80" stroke="#8a8a8a" stroke-width="0.8"/>
<line x1="502.55" y1="155.00" x2="502.55" y2="153.80" stroke="#8a8a8a" stroke-width="0.8"/>
<line x1="504.93" y1="155.00" x2="504.93" y2="153.80" stroke="#8a8a8a" stroke-width="0.8"/>
<line x1="506.76" y1="155.00" x2="506.76" y2="153.80" stroke="#8a8a8a" stroke-width="0.8"/>
<line x1="508.27" y1="155.00" x2="508.27" y2="153.80" stroke="#8a8a8a" stroke-width="0.8"/>
<line x1="509.54" y1="155.00" x2="509.54" y2="153.80" stroke="#8a8a8a" stroke-width="0.8"/>
<line x1="510.64" y1="155.00" x2="510.64" y2="153.80" stroke="#8a8a8a" stroke-width="0.8"/>
<line x1="511.61" y1="155.00" x2="511.61" y2="153.80" stroke="#8a8a8a" stroke-width="0.8"/>
<line x1="512.48" y1="155.00" x2="512.48" y2="152.80" stroke="#8a8a8a" stroke-width="1"/>
<line x1="518.19" y1="155.00" x2="518.19" y2="153.80" stroke="#8a8a8a" stroke-width="0.8"/>
<line x1="521.53" y1="155.00" x2="521.53" y2="153.80" stroke="#8a8a8a" stroke-width="0.8"/>
<line x1="523.90" y1="155.00" x2="523.90" y2="153.80" stroke="#8a8a8a" stroke-width="0.8"/>
<line x1="525.74" y1="155.00" x2="525.74" y2="153.80" stroke="#8a8a8a" stroke-width="0.8"/>
<line x1="527.25" y1="155.00" x2="527.25" y2="153.80" stroke="#8a8a8a" stroke-width="0.8"/>
<line x1="528.52" y1="155.00" x2="528.52" y2="153.80" stroke="#8a8a8a" stroke-width="0.8"/>
<line x1="529.62" y1="155.00" x2="529.62" y2="153.80" stroke="#8a8a8a" stroke-width="0.8"/>
<line x1="530.59" y1="155.00" x2="530.59" y2="153.80" stroke="#8a8a8a" stroke-width="0.8"/>
<line x1="531.46" y1="155.00" x2="531.46" y2="152.80" stroke="#8a8a8a" stroke-width="1"/>
<line x1="537.17" y1="155.00" x2="537.17" y2="153.80" stroke="#8a8a8a" stroke-width="0.8"/>
<line x1="540.51" y1="155.00" x2="540.51" y2="153.80" stroke="#8a8a8a" stroke-width="0.8"/>
<line x1="542.88" y1="155.00" x2="542.88" y2="153.80" stroke="#8a8a8a" stroke-width="0.8"/>
<line x1="544.72" y1="155.00" x2="544.72" y2="153.80" stroke="#8a8a8a" stroke-width="0.8"/>
<line x1="546.22" y1="155.00" x2="546.22" y2="153.80" stroke="#8a8a8a" stroke-width="0.8"/>
<line x1="547.49" y1="155.00" x2="547.49" y2="153.80" stroke="#8a8a8a" stroke-width="0.8"/>
<line x1="548.59" y1="155.00" x2="548.59" y2="153.80" stroke="#8a8a8a" stroke-width="0.8"/>
<line x1="549.56" y1="155.00" x2="549.56" y2="153.80" stroke="#8a8a8a" stroke-width="0.8"/>
<line x1="550.43" y1="155.00" x2="550.43" y2="152.80" stroke="#8a8a8a" stroke-width="1"/>
<line x1="556.15" y1="155.00" x2="556.15" y2="153.80" stroke="#8a8a8a" stroke-width="0.8"/>
<line x1="559.49" y1="155.00" x2="559.49" y2="153.80" stroke="#8a8a8a" stroke-width="0.8"/>
<line x1="561.86" y1="155.00" x2="561.86" y2="153.80" stroke="#8a8a8a" stroke-width="0.8"/>
<line x1="563.70" y1="155.00" x2="563.70" y2="153.80" stroke="#8a8a8a" stroke-width="0.8"/>
<line x1="565.20" y1="155.00" x2="565.20" y2="153.80" stroke="#8a8a8a" stroke-width="0.8"/>
<line x1="566.47" y1="155.00" x2="566.47" y2="153.80" stroke="#8a8a8a" stroke-width="0.8"/>
<line x1="567.57" y1="155.00" x2="567.57" y2="153.80" stroke="#8a8a8a" stroke-width="0.8"/>
<line x1="568.54" y1="155.00" x2="568.54" y2="153.80" stroke="#8a8a8a" stroke-width="0.8"/>
<line x1="569.41" y1="155.00" x2="569.41" y2="152.80" stroke="#8a8a8a" stroke-width="1"/>
<line x1="575.12" y1="155.00" x2="575.12" y2="153.80" stroke="#8a8a8a" stroke-width="0.8"/>
<line x1="578.47" y1="155.00" x2="578.47" y2="153.80" stroke="#8a8a8a" stroke-width="0.8"/>
<line x1="580.84" y1="155.00" x2="580.84" y2="153.80" stroke="#8a8a8a" stroke-width="0.8"/>
<line x1="582.68" y1="155.00" x2="582.68" y2="153.80" stroke="#8a8a8a" stroke-width="0.8"/>
<line x1="584.18" y1="155.00" x2="584.18" y2="153.80" stroke="#8a8a8a" stroke-width="0.8"/>
<line x1="585.45" y1="155.00" x2="585.45" y2="153.80" stroke="#8a8a8a" stroke-width="0.8"/>
<line x1="586.55" y1="155.00" x2="586.55" y2="153.80" stroke="#8a8a8a" stroke-width="0.8"/>
<line x1="587.52" y1="155.00" x2="587.52" y2="153.80" stroke="#8a8a8a" stroke-width="0.8"/>
<line x1="588.39" y1="155.00" x2="588.39" y2="152.80" stroke="#8a8a8a" stroke-width="1"/>
<line x1="594.10" y1="155.00" x2="594.10" y2="153.80" stroke="#8a8a8a" stroke-width="0.8"/>
<line x1="597.44" y1="155.00" x2="597.44" y2="153.80" stroke="#8a8a8a" stroke-width="0.8"/>
<line x1="599.81" y1="155.00" x2="599.81" y2="153.80" stroke="#8a8a8a" stroke-width="0.8"/>
<line x1="601.65" y1="155.00" x2="601.65" y2="153.80" stroke="#8a8a8a" stroke-width="0.8"/>
<line x1="603.16" y1="155.00" x2="603.16" y2="153.80" stroke="#8a8a8a" stroke-width="0.8"/>
<line x1="604.43" y1="155.00" x2="604.43" y2="153.80" stroke="#8a8a8a" stroke-width="0.8"/>
<line x1="605.53" y1="155.00" x2="605.53" y2="153.80" stroke="#8a8a8a" stroke-width="0.8"/>
<line x1="606.50" y1="155.00" x2="606.50" y2="153.80" stroke="#8a8a8a" stroke-width="0.8"/>
<line x1="607.37" y1="155.00" x2="607.37" y2="152.80" stroke="#8a8a8a" stroke-width="1"/>
<line x1="613.08" y1="155.00" x2="613.08" y2="153.80" stroke="#8a8a8a" stroke-width="0.8"/>
<line x1="616.42" y1="155.00" x2="616.42" y2="153.80" stroke="#8a8a8a" stroke-width="0.8"/>
<line x1="618.79" y1="155.00" x2="618.79" y2="153.80" stroke="#8a8a8a" stroke-width="0.8"/>
<line x1="620.63" y1="155.00" x2="620.63" y2="153.80" stroke="#8a8a8a" stroke-width="0.8"/>
<line x1="622.13" y1="155.00" x2="622.13" y2="153.80" stroke="#8a8a8a" stroke-width="0.8"/>
<line x1="623.40" y1="155.00" x2="623.40" y2="153.80" stroke="#8a8a8a" stroke-width="0.8"/>
<line x1="624.51" y1="155.00" x2="624.51" y2="153.80" stroke="#8a8a8a" stroke-width="0.8"/>
<line x1="625.48" y1="155.00" x2="625.48" y2="153.80" stroke="#8a8a8a" stroke-width="0.8"/>
<line x1="626.34" y1="155.00" x2="626.34" y2="152.80" stroke="#8a8a8a" stroke-width="1"/>
<line x1="632.06" y1="155.00" x2="632.06" y2="153.80" stroke="#8a8a8a" stroke-width="0.8"/>
<line x1="635.40" y1="155.00" x2="635.40" y2="153.80" stroke="#8a8a8a" stroke-width="0.8"/>
<line x1="637.77" y1="155.00" x2="637.77" y2="153.80" stroke="#8a8a8a" stroke-width="0.8"/>
<line x1="639.61" y1="155.00" x2="639.61" y2="153.80" stroke="#8a8a8a" stroke-width="0.8"/>
<line x1="641.11" y1="155.00" x2="641.11" y2="153.80" stroke="#8a8a8a" stroke-width="0.8"/>
<line x1="642.38" y1="155.00" x2="642.38" y2="153.80" stroke="#8a8a8a" stroke-width="0.8"/>
<line x1="643.48" y1="155.00" x2="643.48" y2="153.80" stroke="#8a8a8a" stroke-width="0.8"/>
<line x1="644.45" y1="155.00" x2="644.45" y2="153.80" stroke="#8a8a8a" stroke-width="0.8"/>
<line x1="645.32" y1="155.00" x2="645.32" y2="152.80" stroke="#8a8a8a" stroke-width="1"/>
<line x1="651.04" y1="155.00" x2="651.04" y2="153.80" stroke="#8a8a8a" stroke-width="0.8"/>
<line x1="654.38" y1="155.00" x2="654.38" y2="153.80" stroke="#8a8a8a" stroke-width="0.8"/>
<line x1="656.75" y1="155.00" x2="656.75" y2="153.80" stroke="#8a8a8a" stroke-width="0.8"/>
<line x1="658.59" y1="155.00" x2="658.59" y2="153.80" stroke="#8a8a8a" stroke-width="0.8"/>
<line x1="660.09" y1="155.00" x2="660.09" y2="153.80" stroke="#8a8a8a" stroke-width="0.8"/>
<line x1="661.36" y1="155.00" x2="661.36" y2="153.80" stroke="#8a8a8a" stroke-width="0.8"/>
<line x1="662.46" y1="155.00" x2="662.46" y2="153.80" stroke="#8a8a8a" stroke-width="0.8"/>
<line x1="663.43" y1="155.00" x2="663.43" y2="153.80" stroke="#8a8a8a" stroke-width="0.8"/>
<line x1="664.30" y1="155.00" x2="664.30" y2="152.80" stroke="#8a8a8a" stroke-width="1"/>
<text x="491.90" y="164.80" font-size="8.7" text-anchor="middle" fill="#1a1a1a">10<tspan dy="-3.3" font-size="5.9">0</tspan></text>
<text x="510.88" y="164.80" font-size="8.7" text-anchor="middle" fill="#1a1a1a">10<tspan dy="-3.3" font-size="5.9">1</tspan></text>
<text x="529.86" y="164.80" font-size="8.7" text-anchor="middle" fill="#1a1a1a">10<tspan dy="-3.3" font-size="5.9">2</tspan></text>
<text x="548.83" y="164.80" font-size="8.7" text-anchor="middle" fill="#1a1a1a">10<tspan dy="-3.3" font-size="5.9">3</tspan></text>
<text x="567.81" y="164.80" font-size="8.7" text-anchor="middle" fill="#1a1a1a">10<tspan dy="-3.3" font-size="5.9">4</tspan></text>
<text x="586.79" y="164.80" font-size="8.7" text-anchor="middle" fill="#1a1a1a">10<tspan dy="-3.3" font-size="5.9">5</tspan></text>
<text x="605.77" y="164.80" font-size="8.7" text-anchor="middle" fill="#1a1a1a">10<tspan dy="-3.3" font-size="5.9">6</tspan></text>
<text x="624.74" y="164.80" font-size="8.7" text-anchor="middle" fill="#1a1a1a">10<tspan dy="-3.3" font-size="5.9">7</tspan></text>
<text x="643.72" y="164.80" font-size="8.7" text-anchor="middle" fill="#1a1a1a">10<tspan dy="-3.3" font-size="5.9">8</tspan></text>
<text x="662.70" y="164.80" font-size="8.7" text-anchor="middle" fill="#1a1a1a">10<tspan dy="-3.3" font-size="5.9">9</tspan></text>
<line x1="493.50" y1="145.50" x2="495.70" y2="145.50" stroke="#8a8a8a" stroke-width="1"/>
<text x="489.30" y="148.65" font-size="8.8" text-anchor="end" fill="#1a1a1a">-1.5</text>
<line x1="493.50" y1="125.90" x2="495.70" y2="125.90" stroke="#8a8a8a" stroke-width="1"/>
<text x="489.30" y="129.05" font-size="8.8" text-anchor="end" fill="#1a1a1a">-1.0</text>
<line x1="493.50" y1="106.30" x2="495.70" y2="106.30" stroke="#8a8a8a" stroke-width="1"/>
<text x="489.30" y="109.45" font-size="8.8" text-anchor="end" fill="#1a1a1a">-0.5</text>
<line x1="493.50" y1="86.70" x2="495.70" y2="86.70" stroke="#8a8a8a" stroke-width="1"/>
<text x="489.30" y="89.85" font-size="8.8" text-anchor="end" fill="#1a1a1a">0.0</text>
<line x1="493.50" y1="67.10" x2="495.70" y2="67.10" stroke="#8a8a8a" stroke-width="1"/>
<text x="489.30" y="70.25" font-size="8.8" text-anchor="end" fill="#1a1a1a">0.5</text>
<line x1="493.50" y1="47.50" x2="495.70" y2="47.50" stroke="#8a8a8a" stroke-width="1"/>
<text x="489.30" y="50.65" font-size="8.8" text-anchor="end" fill="#1a1a1a">1.0</text>
<line x1="493.50" y1="27.90" x2="495.70" y2="27.90" stroke="#8a8a8a" stroke-width="1"/>
<text x="489.30" y="31.05" font-size="8.8" text-anchor="end" fill="#1a1a1a">1.5</text>
<line x1="493.50" y1="135.70" x2="494.80" y2="135.70" stroke="#8a8a8a" stroke-width="1"/>
<line x1="493.50" y1="116.10" x2="494.80" y2="116.10" stroke="#8a8a8a" stroke-width="1"/>
<line x1="493.50" y1="96.50" x2="494.80" y2="96.50" stroke="#8a8a8a" stroke-width="1"/>
<line x1="493.50" y1="76.90" x2="494.80" y2="76.90" stroke="#8a8a8a" stroke-width="1"/>
<line x1="493.50" y1="57.30" x2="494.80" y2="57.30" stroke="#8a8a8a" stroke-width="1"/>
<line x1="493.50" y1="37.70" x2="494.80" y2="37.70" stroke="#8a8a8a" stroke-width="1"/>
<text x="579.30" y="175.20" font-size="9.65" text-anchor="middle" fill="#1a1a1a">log Cycles (n)</text>
<text x="475.00" y="80.40" font-size="9.7" text-anchor="middle" fill="#1a1a1a" transform="rotate(-90 475.00 80.40)"><tspan font-style="italic">P</tspan><tspan font-size="6.8" dy="2.2" font-style="italic">r</tspan><tspan dy="-2.2">/</tspan><tspan font-style="italic">P</tspan><tspan font-size="6.8" dy="2.2" font-style="italic">r</tspan><tspan dy="-2.2">,pristine</tspan></text>
<text x="-0.50" y="181.50" font-size="14" text-anchor="start" fill="#000" font-weight="bold">d</text>
<line x1="116.50" y1="185.30" x2="116.50" y2="323.50" stroke="#777" stroke-width="0.8"/>
<line x1="30.30" y1="254.40" x2="202.50" y2="254.40" stroke="#777" stroke-width="0.8"/>
<polyline points="156.40,220.90 154.83,221.35 152.66,221.97 150.09,222.71 147.34,223.52 144.60,224.36 142.10,225.20 139.79,226.02 137.49,226.86 135.21,227.73 132.96,228.65 130.75,229.64 128.60,230.70 126.46,231.90 124.32,233.23 122.22,234.62 120.21,236.01 118.32,237.32 116.60,238.50 115.06,239.52 113.67,240.44 112.41,241.28 111.24,242.09 110.15,242.88 109.10,243.70 108.13,244.52 107.25,245.32 106.45,246.11 105.69,246.91 104.95,247.73 104.20,248.60 103.45,249.51 102.73,250.47 102.02,251.44 101.32,252.43 100.62,253.42 99.90,254.40 99.19,255.36 98.49,256.30 97.79,257.24 97.07,258.19 96.32,259.18 95.50,260.20 94.62,261.27 93.69,262.37 92.71,263.49 91.71,264.64 90.71,265.81 89.70,267.00 88.67,268.21 87.60,269.45 86.52,270.71 85.46,271.97 84.44,273.24 83.50,274.50 82.65,275.77 81.88,277.06 81.16,278.36 80.45,279.63 79.74,280.85 79.00,282.00 78.17,283.13 77.27,284.27 76.37,285.37 75.53,286.36 74.81,287.19 74.30,287.80 74.87,287.53 75.63,287.17 76.54,286.74 77.59,286.24 78.75,285.66 80.00,285.00 81.39,284.22 82.94,283.30 84.60,282.31 86.32,281.31 88.04,280.35 89.70,279.50 91.32,278.78 92.93,278.13 94.55,277.53 96.17,276.95 97.78,276.35 99.40,275.70 101.04,274.98 102.71,274.22 104.39,273.44 106.03,272.68 107.61,271.95 109.10,271.30 110.48,270.75 111.78,270.27 113.02,269.84 114.22,269.41 115.40,268.95 116.60,268.40 117.80,267.78 118.98,267.12 120.14,266.42 121.30,265.68 122.45,264.91 123.60,264.10 124.79,263.25 126.02,262.34 127.24,261.41 128.41,260.44 129.48,259.47 130.40,258.50 131.12,257.55 131.67,256.62 132.12,255.68 132.54,254.70 132.97,253.65 133.50,252.50 134.08,251.25 134.64,249.93 135.24,248.54 135.89,247.08 136.63,245.57 137.50,244.00 138.53,242.33 139.71,240.53 140.97,238.68 142.28,236.83 143.57,235.05 144.80,233.40 145.99,231.85 147.18,230.34 148.36,228.91 149.50,227.56 150.59,226.31 151.60,225.20 152.57,224.21 153.53,223.32 154.42,222.54 155.23,221.87 155.90,221.32 156.40,220.90" fill="none" stroke="#e8806e" stroke-width="1.5" stroke-linejoin="round" stroke-linecap="round" stroke-linejoin="round"/>
<polyline points="148.60,231.80 147.95,232.03 147.11,232.34 146.08,232.71 144.89,233.14 143.56,233.60 142.10,234.10 140.39,234.66 138.40,235.29 136.27,235.96 134.13,236.64 132.13,237.30 130.40,237.90 128.99,238.44 127.78,238.93 126.71,239.41 125.70,239.87 124.69,240.33 123.60,240.80 122.42,241.29 121.19,241.79 119.96,242.29 118.76,242.79 117.63,243.26 116.60,243.70 115.71,244.09 114.93,244.43 114.22,244.76 113.53,245.09 112.81,245.46 112.00,245.90 111.08,246.40 110.09,246.95 109.06,247.53 108.04,248.15 107.07,248.81 106.20,249.50 105.43,250.24 104.72,251.04 104.07,251.88 103.46,252.73 102.87,253.57 102.30,254.40 101.77,255.19 101.30,255.97 100.85,256.74 100.40,257.53 99.93,258.34 99.40,259.20 98.83,260.10 98.24,261.02 97.63,261.97 96.98,262.96 96.27,263.96 95.50,265.00 94.64,266.10 93.71,267.26 92.72,268.46 91.70,269.64 90.69,270.77 89.70,271.80 88.67,272.78 87.55,273.76 86.44,274.68 85.40,275.50 84.53,276.19 83.90,276.70 84.49,276.50 85.26,276.25 86.19,275.94 87.26,275.57 88.44,275.16 89.70,274.70 91.09,274.17 92.64,273.57 94.31,272.92 96.02,272.24 97.74,271.56 99.40,270.90 101.04,270.25 102.71,269.59 104.39,268.92 106.03,268.27 107.61,267.62 109.10,267.00 110.48,266.40 111.78,265.83 113.02,265.27 114.22,264.71 115.40,264.16 116.60,263.60 117.81,263.06 119.01,262.55 120.20,262.04 121.37,261.50 122.50,260.90 123.60,260.20 124.66,259.39 125.68,258.48 126.67,257.51 127.64,256.51 128.58,255.49 129.50,254.50 130.38,253.54 131.21,252.60 132.03,251.64 132.83,250.66 133.65,249.62 134.50,248.50 135.40,247.25 136.33,245.87 137.28,244.44 138.22,243.02 139.14,241.68 140.00,240.50 140.81,239.48 141.59,238.56 142.34,237.73 143.07,236.96 143.78,236.22 144.50,235.50 145.25,234.77 146.05,234.03 146.83,233.34 147.55,232.71 148.16,232.19 148.60,231.80" fill="none" stroke="#d95b47" stroke-width="2.0" stroke-linejoin="round" stroke-linecap="round" stroke-linejoin="round"/>
<polyline points="165.80,210.30 164.74,210.51 163.31,210.77 161.60,211.10 159.70,211.48 157.70,211.92 155.70,212.40 153.63,212.93 151.42,213.51 149.11,214.15 146.76,214.84 144.40,215.59 142.10,216.40 139.83,217.27 137.54,218.19 135.25,219.18 132.99,220.22 130.76,221.33 128.60,222.50 126.48,223.79 124.40,225.21 122.35,226.69 120.36,228.18 118.44,229.60 116.60,230.90 114.85,232.05 113.19,233.11 111.59,234.11 110.06,235.08 108.56,236.06 107.10,237.10 105.65,238.19 104.23,239.30 102.85,240.42 101.54,241.55 100.31,242.68 99.20,243.80 98.20,244.95 97.29,246.14 96.48,247.33 95.74,248.47 95.08,249.55 94.50,250.50 94.03,251.27 93.70,251.89 93.44,252.42 93.21,252.96 92.95,253.59 92.60,254.40 92.18,255.37 91.73,256.44 91.26,257.61 90.74,258.86 90.19,260.19 89.60,261.60 88.96,263.13 88.29,264.78 87.58,266.51 86.82,268.29 86.03,270.07 85.20,271.80 84.31,273.52 83.37,275.26 82.39,276.99 81.39,278.71 80.38,280.39 79.40,282.00 78.44,283.55 77.49,285.06 76.54,286.53 75.59,287.96 74.61,289.35 73.60,290.70 72.48,292.08 71.24,293.51 69.99,294.89 68.81,296.16 67.82,297.22 67.10,298.00 67.71,298.14 68.49,298.40 69.44,298.67 70.59,298.87 71.97,298.91 73.60,298.70 75.57,298.22 77.87,297.54 80.40,296.69 83.04,295.73 85.68,294.68 88.20,293.60 90.63,292.42 93.06,291.11 95.49,289.73 97.91,288.31 100.32,286.91 102.70,285.60 105.10,284.37 107.54,283.18 109.97,282.02 112.32,280.86 114.55,279.70 116.60,278.50 118.46,277.28 120.17,276.05 121.76,274.81 123.25,273.55 124.65,272.28 126.00,271.00 127.28,269.67 128.48,268.30 129.60,266.91 130.64,265.54 131.61,264.22 132.50,263.00 133.32,261.84 134.05,260.73 134.71,259.66 135.30,258.67 135.83,257.78 136.30,257.00 136.68,256.42 136.94,256.04 137.15,255.76 137.33,255.46 137.54,255.04 137.80,254.40 138.13,253.49 138.49,252.39 138.86,251.16 139.25,249.89 139.63,248.65 140.00,247.50 140.30,246.50 140.53,245.61 140.76,244.74 141.06,243.82 141.48,242.77 142.10,241.50 142.96,239.95 144.02,238.16 145.21,236.24 146.46,234.29 147.71,232.41 148.90,230.70 150.00,229.23 151.04,227.92 152.09,226.69 153.19,225.43 154.38,224.07 155.70,222.50 157.31,220.56 159.20,218.28 161.17,215.89 163.06,213.61 164.66,211.67 165.80,210.30" fill="none" stroke="#f2b2aa" stroke-width="1.5" stroke-linejoin="round" stroke-linecap="round" stroke-linejoin="round"/>
<polyline points="179.40,196.80 178.33,197.14 176.88,197.59 175.14,198.14 173.22,198.76 171.21,199.46 169.20,200.20 167.14,201.02 164.95,201.93 162.66,202.91 160.33,203.93 157.99,204.97 155.70,206.00 153.44,207.02 151.17,208.06 148.90,209.11 146.63,210.19 144.36,211.28 142.10,212.40 139.83,213.53 137.54,214.67 135.25,215.83 132.99,217.03 130.76,218.28 128.60,219.60 126.52,221.01 124.52,222.52 122.56,224.07 120.61,225.65 118.63,227.20 116.60,228.70 114.44,230.15 112.18,231.57 109.89,232.98 107.66,234.37 105.57,235.74 103.70,237.10 102.04,238.45 100.54,239.81 99.17,241.14 97.93,242.45 96.81,243.71 95.80,244.90 94.93,246.05 94.21,247.16 93.61,248.22 93.09,249.23 92.63,250.16 92.20,251.00 91.81,251.71 91.50,252.29 91.25,252.79 91.03,253.28 90.82,253.80 90.60,254.40 90.39,255.05 90.20,255.70 90.02,256.39 89.84,257.14 89.64,258.00 89.40,259.00 89.13,260.16 88.85,261.45 88.55,262.85 88.21,264.33 87.84,265.85 87.40,267.40 86.90,269.03 86.35,270.77 85.75,272.57 85.12,274.35 84.46,276.05 83.80,277.60 83.13,278.97 82.44,280.20 81.74,281.34 81.00,282.47 80.22,283.64 79.40,284.90 78.54,286.28 77.64,287.74 76.70,289.24 75.72,290.74 74.69,292.21 73.60,293.60 72.43,294.92 71.17,296.20 69.87,297.44 68.55,298.66 67.25,299.84 66.00,301.00 64.81,302.15 63.64,303.28 62.49,304.39 61.35,305.45 60.22,306.46 59.10,307.40 57.91,308.30 56.63,309.18 55.37,310.00 54.20,310.73 53.21,311.34 52.50,311.80 52.63,311.92 52.72,312.11 52.87,312.33 53.19,312.51 53.76,312.58 54.70,312.50 56.05,312.26 57.76,311.91 59.73,311.46 61.86,310.91 64.08,310.29 66.30,309.60 68.56,308.83 70.95,307.99 73.42,307.06 75.93,306.06 78.44,304.97 80.90,303.80 83.32,302.52 85.74,301.12 88.15,299.64 90.56,298.11 92.98,296.59 95.40,295.10 97.88,293.63 100.43,292.14 102.98,290.65 105.47,289.17 107.83,287.72 110.00,286.30 111.97,284.93 113.79,283.60 115.47,282.29 117.06,281.00 118.56,279.71 120.00,278.40 121.37,277.09 122.65,275.79 123.84,274.49 124.96,273.18 126.01,271.85 127.00,270.50 127.92,269.11 128.77,267.68 129.55,266.23 130.26,264.79 130.91,263.37 131.50,262.00 131.99,260.70 132.38,259.47 132.71,258.26 133.01,257.03 133.33,255.76 133.70,254.40 134.13,252.92 134.59,251.33 135.06,249.69 135.54,248.06 136.02,246.48 136.50,245.00 136.95,243.67 137.37,242.46 137.79,241.30 138.24,240.13 138.77,238.88 139.40,237.50 140.09,235.96 140.81,234.30 141.60,232.57 142.50,230.80 143.55,229.03 144.80,227.30 146.30,225.59 148.03,223.87 149.91,222.16 151.87,220.45 153.83,218.76 155.70,217.10 157.54,215.44 159.40,213.78 161.27,212.14 163.10,210.54 164.85,209.02 166.50,207.60 168.06,206.28 169.56,205.03 170.98,203.86 172.32,202.76 173.57,201.74 174.70,200.80 175.74,199.92 176.70,199.11 177.56,198.38 178.31,197.73 178.93,197.20 179.40,196.80" fill="none" stroke="#6fa8dc" stroke-width="1.2" stroke-linejoin="round" stroke-linecap="round" stroke-linejoin="round"/>
<polyline points="192.30,197.50 191.31,197.56 189.99,197.63 188.40,197.71 186.62,197.85 184.73,198.07 182.80,198.40 180.77,198.85 178.57,199.39 176.25,200.02 173.88,200.71 171.51,201.44 169.20,202.20 166.95,203.00 164.70,203.86 162.45,204.76 160.20,205.69 157.95,206.64 155.70,207.60 153.44,208.57 151.17,209.56 148.90,210.56 146.63,211.59 144.36,212.63 142.10,213.70 139.83,214.78 137.54,215.89 135.25,217.01 132.99,218.15 130.76,219.31 128.60,220.50 126.46,221.76 124.31,223.11 122.21,224.48 120.20,225.81 118.31,227.04 116.60,228.10 115.07,228.97 113.70,229.71 112.46,230.34 111.32,230.90 110.28,231.44 109.30,232.00 108.45,232.54 107.76,233.03 107.16,233.50 106.57,233.97 105.94,234.46 105.20,235.00 104.35,235.56 103.47,236.13 102.53,236.71 101.54,237.35 100.50,238.07 99.40,238.90 98.19,239.84 96.87,240.88 95.50,242.00 94.13,243.19 92.81,244.42 91.60,245.70 90.52,246.99 89.52,248.31 88.57,249.69 87.66,251.14 86.74,252.70 85.80,254.40 84.81,256.33 83.78,258.49 82.76,260.76 81.76,263.02 80.83,265.14 80.00,267.00 79.29,268.57 78.69,269.94 78.16,271.18 77.64,272.34 77.10,273.50 76.50,274.70 75.85,275.95 75.19,277.19 74.50,278.42 73.78,279.64 73.02,280.83 72.20,282.00 71.32,283.13 70.40,284.22 69.43,285.29 68.42,286.36 67.38,287.42 66.30,288.50 65.18,289.60 64.00,290.72 62.79,291.84 61.56,292.96 60.32,294.05 59.10,295.10 57.89,296.12 56.67,297.12 55.46,298.09 54.24,299.05 53.02,299.98 51.80,300.90 50.58,301.79 49.36,302.65 48.14,303.49 46.93,304.33 45.71,305.16 44.50,306.00 43.21,306.91 41.83,307.89 40.44,308.87 39.16,309.78 38.08,310.55 37.30,311.10 37.51,311.22 37.77,311.39 38.09,311.59 38.48,311.79 38.95,311.93 39.50,312.00 40.14,311.99 40.87,311.94 41.68,311.85 42.56,311.71 43.50,311.53 44.50,311.30 45.58,311.02 46.76,310.68 48.01,310.29 49.28,309.88 50.56,309.44 51.80,309.00 52.93,308.57 53.97,308.16 55.00,307.72 56.13,307.23 57.47,306.67 59.10,306.00 61.10,305.22 63.40,304.36 65.89,303.41 68.49,302.40 71.09,301.33 73.60,300.20 76.03,299.00 78.46,297.73 80.90,296.39 83.34,295.01 85.77,293.61 88.20,292.20 90.63,290.78 93.06,289.33 95.49,287.86 97.91,286.37 100.32,284.88 102.70,283.40 105.11,281.90 107.56,280.37 110.00,278.84 112.36,277.33 114.58,275.87 116.60,274.50 118.42,273.21 120.08,271.97 121.61,270.79 123.01,269.65 124.30,268.56 125.50,267.50 126.57,266.52 127.49,265.63 128.31,264.79 129.05,263.93 129.77,263.02 130.50,262.00 131.25,260.85 131.98,259.61 132.69,258.32 133.35,257.00 133.96,255.68 134.50,254.40 134.93,253.20 135.26,252.05 135.53,250.91 135.79,249.72 136.10,248.43 136.50,247.00 136.98,245.37 137.49,243.57 138.04,241.68 138.66,239.76 139.34,237.88 140.10,236.10 140.93,234.42 141.82,232.78 142.78,231.18 143.82,229.61 144.96,228.09 146.20,226.60 147.54,225.19 148.97,223.85 150.49,222.55 152.11,221.25 153.85,219.91 155.70,218.50 157.72,216.97 159.90,215.36 162.19,213.71 164.54,212.07 166.90,210.48 169.20,209.00 171.51,207.59 173.88,206.22 176.25,204.91 178.57,203.67 180.77,202.52 182.80,201.50 184.73,200.58 186.62,199.76 188.40,199.03 189.99,198.41 191.31,197.89 192.30,197.50" fill="none" stroke="#3d7fc1" stroke-width="2.1" stroke-linejoin="round" stroke-linecap="round" stroke-linejoin="round"/>
<line x1="38.90" y1="191.60" x2="50.80" y2="191.60" stroke="#3d7fc1" stroke-width="2.1"/>
<text x="55.70" y="194.82" font-size="9.0" text-anchor="start" fill="#111" font-weight="bold">10 nm</text>
<line x1="38.90" y1="202.50" x2="50.80" y2="202.50" stroke="#6fa8dc" stroke-width="1.3"/>
<text x="55.70" y="205.72" font-size="9.0" text-anchor="start" fill="#111" font-weight="bold">20 nm</text>
<line x1="38.90" y1="213.80" x2="50.80" y2="213.80" stroke="#f2b2aa" stroke-width="1.6"/>
<text x="55.70" y="217.02" font-size="9.0" text-anchor="start" fill="#111" font-weight="bold">40 nm</text>
<line x1="38.90" y1="225.60" x2="50.80" y2="225.60" stroke="#e8806e" stroke-width="1.5"/>
<text x="55.70" y="228.82" font-size="9.0" text-anchor="start" fill="#111" font-weight="bold">60 nm</text>
<line x1="38.90" y1="236.70" x2="50.80" y2="236.70" stroke="#d95b47" stroke-width="2.0"/>
<text x="55.70" y="239.92" font-size="9.0" text-anchor="start" fill="#111" font-weight="bold">100 nm</text>
<rect x="135.70" y="267.10" width="65.10" height="55.30" fill="#fff" stroke="#666" stroke-width="0.6"/>
<polyline points="138.41,291.85 138.95,291.82 139.50,292.33 140.04,291.41 140.58,292.01 141.12,291.34 141.67,292.31 142.21,292.01 142.75,292.31 143.29,291.72 143.84,291.95 144.38,291.71 144.92,291.53 145.46,291.76 146.01,291.30 146.55,291.53 147.09,291.81 147.63,291.57 148.18,291.39 148.72,292.13 149.26,291.45 149.81,291.22 150.35,291.40 150.89,291.16 151.43,291.15 151.97,291.12 152.52,291.79 153.06,291.15 153.60,291.15 154.14,291.25 154.69,291.61 155.23,290.89 155.77,290.72 156.31,291.60 156.86,290.37 157.40,290.65 157.94,290.90 158.48,291.33 159.03,290.30 159.57,289.80 160.11,290.67 160.66,290.25 161.20,290.22 161.74,290.40 162.28,290.25 162.82,290.19 163.37,289.89 163.91,290.31 164.45,290.27 165.00,289.72 165.54,289.45 166.08,289.66 166.62,289.43 167.16,288.80 167.71,288.77 168.25,288.99 168.79,288.36 169.34,287.96 169.88,287.72 170.42,287.15 170.96,286.55 171.50,285.19 172.05,285.30 172.59,283.56 173.13,281.60 173.68,280.08 174.22,277.42 174.76,274.75 175.30,273.00 175.84,272.65 176.39,273.11 176.93,275.58 177.47,278.27 178.02,279.65 178.56,281.71 179.10,283.59 179.64,283.99 180.19,285.30 180.73,286.44 181.27,286.88 181.81,287.15 182.36,286.72 182.90,288.25 183.44,287.91 183.98,288.13 184.53,288.18 185.07,287.62 185.61,287.78 186.15,287.92 186.69,288.91 187.24,288.13 187.78,288.33 188.32,288.35 188.87,288.62 189.41,288.61 189.95,288.54 190.49,288.09 191.03,287.52 191.58,288.51 192.12,288.53 192.66,288.81 193.21,288.40 193.75,288.23 194.29,288.52 194.83,287.91 195.38,288.05 195.92,288.04 196.46,288.40 197.00,288.92 197.55,288.50 198.09,288.59 198.09,297.13 197.55,297.19 197.00,297.01 196.46,297.10 195.92,296.50 195.38,296.91 194.83,296.93 194.29,297.61 193.75,297.60 193.21,297.78 192.66,297.95 192.12,297.43 191.58,297.88 191.04,298.20 190.49,297.65 189.95,298.02 189.41,297.69 188.87,297.30 188.32,297.86 187.78,297.62 187.24,297.94 186.69,297.81 186.15,298.09 185.61,297.40 185.07,298.71 184.53,298.54 183.98,298.07 183.44,297.95 182.90,298.27 182.36,298.51 181.81,298.48 181.27,298.52 180.73,297.86 180.19,298.16 179.64,298.95 179.10,298.66 178.56,298.19 178.02,298.43 177.47,298.31 176.93,298.49 176.39,299.20 175.84,298.83 175.30,299.29 174.76,299.06 174.22,298.61 173.68,298.92 173.13,299.88 172.59,299.01 172.05,298.99 171.50,299.75 170.96,299.47 170.42,299.51 169.88,300.04 169.34,299.13 168.79,299.88 168.25,299.53 167.71,299.52 167.16,299.81 166.62,300.53 166.08,300.26 165.54,299.89 165.00,300.28 164.45,301.27 163.91,301.34 163.37,300.94 162.82,302.33 162.28,301.84 161.74,302.03 161.20,302.91 160.66,303.94 160.11,305.04 159.57,306.02 159.03,307.05 158.48,308.84 157.94,310.72 157.40,313.31 156.86,314.73 156.31,315.32 155.77,313.79 155.23,312.08 154.69,309.84 154.14,307.84 153.60,306.31 153.06,305.17 152.52,304.21 151.97,304.06 151.43,303.38 150.89,302.54 150.35,302.79 149.81,302.47 149.26,302.64 148.72,301.98 148.18,301.85 147.63,301.61 147.09,301.79 146.55,301.85 146.01,301.71 145.47,301.54 144.92,301.77 144.38,301.61 143.84,301.65 143.29,301.29 142.75,301.64 142.21,301.28 141.67,301.33 141.12,301.65 140.58,302.27 140.04,301.94 139.50,301.66 138.95,301.63 138.41,302.01 138.41,291.85" fill="none" stroke="#4a8fd0" stroke-width="1.0" stroke-linejoin="round" stroke-linecap="round"/>
<polyline points="140.04,293.25 140.55,293.16 141.07,292.69 141.58,292.77 142.09,292.57 142.60,292.55 143.12,292.33 143.63,292.48 144.14,291.86 144.66,292.11 145.17,292.57 145.68,292.12 146.19,292.53 146.71,291.93 147.22,292.17 147.73,292.36 148.25,291.88 148.76,291.94 149.27,292.88 149.79,291.87 150.30,291.82 150.81,291.82 151.32,291.97 151.84,291.91 152.35,292.17 152.86,292.07 153.38,291.66 153.89,291.63 154.40,291.26 154.91,291.19 155.43,291.38 155.94,291.78 156.45,291.55 156.97,291.71 157.48,291.70 157.99,291.31 158.50,291.95 159.02,291.09 159.53,291.00 160.04,291.01 160.56,291.43 161.07,290.97 161.58,290.72 162.10,291.01 162.61,291.15 163.12,290.69 163.63,290.56 164.15,290.88 164.66,290.75 165.17,290.63 165.69,289.99 166.20,290.18 166.71,290.06 167.22,289.23 167.74,289.95 168.25,289.39 168.76,288.99 169.28,289.47 169.79,288.43 170.30,287.69 170.81,287.31 171.33,286.76 171.84,285.90 172.35,284.45 172.87,282.73 173.38,281.03 173.89,279.12 174.40,277.42 174.92,276.89 175.43,277.04 175.94,278.48 176.46,279.96 176.97,281.71 177.48,283.45 178.00,284.64 178.51,286.07 179.02,286.18 179.53,287.10 180.05,287.47 180.56,287.44 181.07,288.33 181.59,288.38 182.10,287.85 182.61,288.82 183.12,289.03 183.64,288.58 184.15,289.41 184.66,288.99 185.18,288.63 185.69,289.19 186.20,288.93 186.71,288.64 187.23,288.40 187.74,289.14 188.25,288.84 188.77,289.26 189.28,289.17 189.79,288.88 190.31,288.87 190.82,289.56 191.33,289.52 191.84,289.21 192.36,288.85 192.87,288.64 193.38,288.80 193.90,289.40 194.41,289.01 194.92,288.75 195.43,288.44 195.95,288.84 196.46,288.49 196.46,297.95 195.95,298.21 195.43,298.35 194.92,298.10 194.41,297.99 193.90,298.20 193.38,298.72 192.87,298.33 192.36,297.82 191.84,298.76 191.33,298.40 190.82,299.43 190.31,298.26 189.79,298.41 189.28,298.39 188.77,298.63 188.25,298.38 187.74,298.14 187.23,298.04 186.71,298.63 186.20,298.55 185.69,298.57 185.18,299.44 184.66,299.07 184.15,299.20 183.64,298.76 183.12,299.04 182.61,298.93 182.10,298.97 181.59,299.30 181.07,299.30 180.56,299.25 180.05,299.24 179.53,298.80 179.02,299.06 178.51,299.45 178.00,299.26 177.48,299.18 176.97,299.58 176.46,299.23 175.94,299.36 175.43,299.88 174.92,299.55 174.40,300.15 173.89,299.93 173.38,300.07 172.87,300.22 172.35,299.28 171.84,299.97 171.33,299.67 170.81,299.99 170.30,300.17 169.79,300.65 169.28,300.34 168.76,300.94 168.25,300.37 167.74,300.62 167.22,300.77 166.71,301.15 166.20,300.99 165.69,300.97 165.17,301.24 164.66,301.12 164.15,302.17 163.63,302.29 163.12,302.54 162.61,302.91 162.10,303.16 161.58,303.87 161.07,305.06 160.56,305.61 160.04,306.91 159.53,309.21 159.02,310.99 158.50,312.32 157.99,313.56 157.48,313.64 156.97,313.12 156.45,311.00 155.94,309.43 155.43,307.98 154.91,306.97 154.40,305.43 153.89,304.78 153.38,303.95 152.86,303.42 152.35,303.05 151.84,302.99 151.32,303.01 150.81,302.35 150.30,302.24 149.79,302.18 149.27,302.32 148.76,302.36 148.25,301.72 147.73,302.16 147.22,301.72 146.71,302.21 146.19,301.69 145.68,301.65 145.17,301.75 144.66,301.95 144.14,301.67 143.63,302.04 143.12,302.04 142.60,302.03 142.09,302.10 141.58,302.30 141.07,301.83 140.55,302.07 140.04,302.09 140.04,293.25" fill="none" stroke="#7db4e3" stroke-width="0.9" stroke-linejoin="round" stroke-linecap="round"/>
<polyline points="143.29,292.52 143.75,293.23 144.20,292.84 144.66,292.82 145.11,292.87 145.56,293.00 146.02,293.04 146.47,293.05 146.92,292.66 147.38,293.05 147.83,292.93 148.29,292.65 148.74,292.73 149.19,292.94 149.65,292.79 150.10,292.84 150.55,292.62 151.01,292.90 151.46,293.19 151.92,292.62 152.37,291.97 152.82,292.93 153.28,292.20 153.73,291.92 154.18,291.59 154.64,292.39 155.09,292.55 155.55,292.48 156.00,292.03 156.45,292.54 156.91,292.04 157.36,291.84 157.81,292.00 158.27,292.00 158.72,291.91 159.18,291.97 159.63,291.15 160.08,292.23 160.54,291.54 160.99,291.85 161.44,291.37 161.90,291.60 162.35,291.44 162.81,290.96 163.26,291.49 163.71,291.50 164.17,290.91 164.62,290.54 165.07,290.90 165.53,290.76 165.98,290.95 166.44,290.81 166.89,291.19 167.34,290.78 167.80,290.37 168.25,290.34 168.70,289.25 169.16,289.64 169.61,289.40 170.06,289.36 170.52,289.15 170.97,288.71 171.43,288.43 171.88,287.33 172.33,286.88 172.79,285.83 173.24,284.77 173.69,283.60 174.15,282.08 174.60,281.04 175.06,280.22 175.51,280.47 175.96,280.76 176.42,281.99 176.87,283.94 177.32,284.57 177.78,285.59 178.23,286.63 178.69,286.70 179.14,287.78 179.59,288.23 180.05,288.49 180.50,288.93 180.95,289.09 181.41,289.39 181.86,288.99 182.32,289.43 182.77,289.23 183.22,289.84 183.68,289.57 184.13,289.18 184.58,289.64 185.04,289.34 185.49,289.95 185.95,289.57 186.40,289.03 186.85,289.57 187.31,290.00 187.76,289.79 188.21,289.49 188.67,289.87 189.12,289.84 189.58,290.09 190.03,289.91 190.48,289.73 190.94,289.37 191.39,289.68 191.84,289.66 192.30,289.56 192.75,289.66 193.21,289.16 193.21,297.55 192.75,297.42 192.30,297.56 191.84,297.45 191.39,297.43 190.94,297.63 190.48,297.82 190.03,297.52 189.58,297.75 189.12,297.46 188.67,297.85 188.21,297.76 187.76,297.41 187.31,298.17 186.85,297.60 186.40,297.92 185.95,297.54 185.49,297.45 185.04,298.20 184.58,297.62 184.13,297.46 183.68,298.05 183.22,297.69 182.77,298.13 182.32,298.77 181.86,298.15 181.41,298.41 180.95,298.51 180.50,298.45 180.05,298.38 179.59,298.91 179.14,298.48 178.69,298.65 178.23,298.62 177.78,298.24 177.32,298.76 176.87,298.73 176.42,298.95 175.96,299.01 175.51,299.32 175.06,298.34 174.60,298.79 174.15,298.86 173.69,298.80 173.24,299.24 172.79,299.15 172.33,299.27 171.88,298.81 171.43,299.08 170.97,299.41 170.52,299.38 170.06,299.41 169.61,299.64 169.16,299.69 168.70,299.56 168.25,300.48 167.80,299.90 167.34,300.44 166.89,300.57 166.44,300.86 165.98,300.60 165.53,300.70 165.07,301.39 164.62,301.65 164.17,301.24 163.71,301.61 163.26,302.77 162.81,303.48 162.35,304.34 161.90,305.55 161.44,306.38 160.99,308.93 160.54,310.08 160.08,311.91 159.63,313.05 159.18,313.14 158.72,313.70 158.27,312.47 157.81,311.24 157.36,309.42 156.91,308.10 156.45,306.31 156.00,305.37 155.55,304.60 155.09,303.68 154.64,303.21 154.18,303.09 153.73,303.12 153.28,302.20 152.82,302.28 152.37,301.51 151.92,301.56 151.46,301.66 151.01,301.63 150.55,301.08 150.10,301.49 149.65,301.30 149.19,301.60 148.74,301.46 148.29,301.31 147.83,301.01 147.38,301.19 146.92,300.85 146.47,300.85 146.02,300.55 145.56,300.71 145.11,300.72 144.66,301.08 144.20,301.15 143.75,300.73 143.29,301.11 143.29,292.52" fill="none" stroke="#7db4e3" stroke-width="0.8" stroke-linejoin="round" stroke-linecap="round"/>
<polyline points="149.53,294.16 149.87,294.28 150.21,293.86 150.55,293.91 150.89,293.65 151.24,294.04 151.58,293.12 151.92,293.68 152.26,292.73 152.60,294.06 152.94,293.73 153.28,292.63 153.62,293.11 153.96,292.74 154.30,292.56 154.64,292.96 154.98,292.74 155.32,293.34 155.66,292.74 156.00,292.48 156.34,292.77 156.68,292.87 157.02,292.95 157.36,292.78 157.70,292.03 158.04,292.19 158.38,292.35 158.72,292.06 159.06,292.54 159.40,292.10 159.74,292.13 160.08,291.96 160.42,292.03 160.76,291.43 161.10,292.61 161.44,291.62 161.78,291.49 162.12,291.06 162.46,291.57 162.81,291.05 163.15,291.57 163.49,291.79 163.83,291.52 164.17,291.08 164.51,291.59 164.85,291.00 165.19,290.97 165.53,290.92 165.87,290.65 166.21,290.87 166.55,290.21 166.89,289.92 167.23,290.85 167.57,290.08 167.91,290.10 168.25,290.22 168.59,289.82 168.93,289.44 169.27,289.64 169.61,289.23 169.95,289.58 170.29,289.06 170.63,288.92 170.97,289.06 171.31,288.02 171.65,287.76 171.99,288.22 172.33,288.05 172.67,287.24 173.01,286.50 173.35,286.62 173.69,285.75 174.04,285.21 174.38,283.42 174.72,283.11 175.06,281.86 175.40,280.92 175.74,280.71 176.08,280.21 176.42,279.58 176.76,279.82 177.10,280.87 177.44,281.32 177.78,281.87 178.12,282.90 178.46,283.53 178.80,283.73 179.14,284.57 179.48,285.34 179.82,285.87 180.16,285.58 180.50,286.00 180.84,286.31 181.18,286.17 181.52,287.23 181.86,287.13 182.20,287.52 182.54,286.40 182.88,286.93 183.22,287.88 183.56,286.80 183.90,286.68 184.24,287.40 184.58,287.87 184.92,287.55 185.26,287.00 185.61,287.50 185.95,287.44 186.29,287.37 186.63,287.39 186.97,287.51 186.97,293.16 186.63,293.28 186.29,293.23 185.95,292.87 185.61,292.34 185.26,293.21 184.92,292.56 184.58,293.92 184.24,292.79 183.90,292.60 183.56,292.66 183.22,293.48 182.88,293.51 182.54,293.68 182.20,293.61 181.86,293.30 181.52,293.90 181.18,293.44 180.84,293.22 180.50,294.10 180.16,294.03 179.82,293.58 179.48,293.88 179.14,294.38 178.80,294.40 178.46,293.77 178.12,294.58 177.78,293.37 177.44,294.35 177.10,294.52 176.76,294.40 176.42,294.55 176.08,294.02 175.74,294.60 175.40,294.88 175.06,294.46 174.72,294.89 174.38,294.86 174.04,294.21 173.69,294.86 173.35,295.34 173.01,294.68 172.67,295.31 172.33,295.50 171.99,295.04 171.65,295.48 171.31,295.97 170.97,296.01 170.63,295.53 170.29,296.34 169.95,296.22 169.61,296.27 169.27,296.89 168.93,296.77 168.59,296.80 168.25,297.18 167.91,297.27 167.57,297.69 167.23,297.45 166.89,297.14 166.55,298.58 166.21,298.66 165.87,298.95 165.53,299.23 165.19,299.70 164.85,300.36 164.51,300.70 164.17,302.10 163.83,302.79 163.49,303.48 163.15,305.05 162.81,306.04 162.46,307.30 162.12,308.47 161.78,309.85 161.44,308.73 161.10,308.94 160.76,308.33 160.42,307.25 160.08,306.53 159.74,304.78 159.40,303.81 159.06,303.02 158.72,301.78 158.38,301.98 158.04,300.62 157.70,300.78 157.36,300.62 157.02,299.60 156.68,299.57 156.34,299.34 156.00,299.82 155.66,299.17 155.32,298.34 154.98,299.22 154.64,299.12 154.30,298.01 153.96,297.70 153.62,299.50 153.28,298.60 152.94,297.81 152.60,298.89 152.26,299.00 151.92,297.68 151.58,298.95 151.24,298.76 150.89,298.52 150.55,298.29 150.21,298.68 149.87,298.29 149.53,298.64 149.53,294.16" fill="none" stroke="#f2aaa0" stroke-width="0.9" stroke-linejoin="round" stroke-linecap="round"/>
<polyline points="152.52,293.17 152.80,293.06 153.09,293.41 153.38,293.55 153.66,293.48 153.95,293.27 154.23,293.72 154.52,292.52 154.81,293.01 155.09,293.02 155.38,293.39 155.66,291.97 155.95,292.66 156.24,292.67 156.52,292.83 156.81,293.62 157.09,292.77 157.38,292.60 157.67,292.77 157.95,292.96 158.24,292.46 158.52,293.16 158.81,291.97 159.10,292.91 159.38,292.65 159.67,292.73 159.95,292.91 160.24,292.15 160.53,292.37 160.81,292.27 161.10,291.89 161.38,291.78 161.67,291.73 161.96,292.34 162.24,291.05 162.53,291.40 162.82,291.90 163.10,292.34 163.39,291.74 163.67,292.23 163.96,291.66 164.25,291.42 164.53,290.96 164.82,291.61 165.10,292.17 165.39,291.46 165.68,290.96 165.96,291.55 166.25,290.71 166.53,290.74 166.82,291.57 167.11,291.23 167.39,291.38 167.68,291.01 167.96,290.79 168.25,290.83 168.54,290.54 168.82,291.00 169.11,289.97 169.39,289.62 169.68,289.91 169.97,290.48 170.25,289.77 170.54,288.91 170.82,290.79 171.11,289.09 171.40,289.17 171.68,289.24 171.97,288.88 172.25,288.36 172.54,287.46 172.83,287.90 173.11,286.87 173.40,286.71 173.68,286.58 173.97,285.59 174.26,284.52 174.54,284.52 174.83,284.63 175.12,284.44 175.40,283.58 175.69,284.22 175.97,284.59 176.26,285.27 176.55,285.44 176.83,285.81 177.12,286.07 177.40,286.80 177.69,287.30 177.98,287.26 178.26,287.50 178.55,288.56 178.83,288.06 179.12,287.95 179.41,288.68 179.69,288.05 179.98,288.22 180.26,289.11 180.55,288.83 180.84,289.20 181.12,289.24 181.41,288.68 181.69,289.21 181.98,288.89 182.27,289.14 182.55,289.17 182.84,289.05 183.12,288.58 183.41,289.21 183.70,289.10 183.98,289.30 183.98,293.47 183.70,294.00 183.41,293.88 183.12,293.82 182.84,293.92 182.55,293.96 182.27,293.55 181.98,293.91 181.69,293.98 181.41,294.38 181.12,294.17 180.84,294.83 180.55,294.54 180.26,294.47 179.98,294.46 179.69,293.85 179.41,294.59 179.12,294.98 178.83,294.12 178.55,295.08 178.26,294.84 177.98,294.75 177.69,294.51 177.40,294.72 177.12,294.44 176.83,294.79 176.55,294.85 176.26,294.90 175.97,294.43 175.69,295.32 175.40,294.74 175.12,295.20 174.83,295.32 174.54,295.05 174.26,296.14 173.97,295.27 173.68,295.44 173.40,295.22 173.11,295.50 172.83,294.92 172.54,295.73 172.25,295.39 171.97,295.39 171.68,295.95 171.40,296.07 171.11,295.61 170.82,295.44 170.54,295.13 170.25,295.60 169.97,296.27 169.68,296.42 169.39,295.76 169.11,296.38 168.82,296.88 168.54,296.29 168.25,296.50 167.96,296.50 167.68,297.18 167.39,296.45 167.11,297.34 166.82,297.79 166.53,297.83 166.25,298.51 165.96,298.69 165.68,298.60 165.39,298.81 165.10,299.23 164.82,300.34 164.53,300.63 164.25,301.29 163.96,301.45 163.67,302.78 163.39,303.11 163.10,303.36 162.82,302.75 162.53,304.13 162.24,303.20 161.96,302.06 161.67,302.40 161.38,301.47 161.10,300.72 160.81,300.25 160.53,300.32 160.24,299.86 159.95,299.49 159.67,299.03 159.38,298.47 159.10,298.75 158.81,298.37 158.52,298.24 158.24,298.43 157.95,298.74 157.67,297.74 157.38,298.29 157.09,297.55 156.81,298.12 156.52,297.99 156.24,297.72 155.95,297.77 155.66,297.35 155.38,297.50 155.09,297.99 154.81,297.91 154.52,298.48 154.23,297.21 153.95,297.42 153.66,297.64 153.38,297.63 153.09,297.42 152.80,297.46 152.52,297.60 152.52,293.17" fill="none" stroke="#e8806e" stroke-width="1.0" stroke-linejoin="round" stroke-linecap="round"/>
<polyline points="155.77,293.95 156.00,293.39 156.23,293.11 156.45,293.50 156.68,292.33 156.91,292.99 157.13,293.06 157.36,293.40 157.59,292.36 157.81,293.15 158.04,292.79 158.27,293.56 158.49,293.46 158.72,292.96 158.95,293.29 159.18,292.62 159.40,293.14 159.63,293.13 159.86,293.42 160.08,292.81 160.31,292.11 160.54,293.23 160.76,292.47 160.99,292.66 161.22,292.70 161.44,293.46 161.67,292.77 161.90,293.21 162.12,292.76 162.35,292.16 162.58,292.85 162.81,292.84 163.03,292.39 163.26,291.97 163.49,293.66 163.71,293.35 163.94,292.65 164.17,292.64 164.39,292.79 164.62,292.62 164.85,291.78 165.07,291.78 165.30,292.60 165.53,292.78 165.75,292.62 165.98,292.49 166.21,292.12 166.44,292.46 166.66,292.65 166.89,292.20 167.12,292.44 167.34,292.37 167.57,291.57 167.80,292.25 168.02,291.44 168.25,291.32 168.48,292.24 168.70,290.90 168.93,291.40 169.16,291.74 169.38,291.46 169.61,291.07 169.84,290.75 170.06,291.21 170.29,291.11 170.52,290.74 170.75,290.26 170.97,289.94 171.20,290.34 171.43,290.17 171.65,290.34 171.88,289.71 172.11,290.00 172.33,288.99 172.56,288.61 172.79,289.48 173.01,288.81 173.24,288.53 173.47,288.73 173.69,288.27 173.92,288.61 174.15,288.25 174.38,288.93 174.60,288.74 174.83,289.06 175.06,289.22 175.28,289.53 175.51,288.83 175.74,289.69 175.96,289.65 176.19,289.43 176.42,289.88 176.64,290.27 176.87,290.34 177.10,291.01 177.32,290.17 177.55,290.41 177.78,291.16 178.01,290.22 178.23,290.17 178.46,290.35 178.69,290.32 178.91,290.56 179.14,290.65 179.37,290.31 179.59,290.18 179.82,290.61 180.05,290.16 180.27,290.32 180.50,290.77 180.73,290.60 180.73,293.71 180.50,293.56 180.27,293.76 180.05,293.59 179.82,294.40 179.59,294.50 179.37,294.36 179.14,294.39 178.91,294.10 178.69,294.38 178.46,294.37 178.23,294.39 178.01,294.21 177.78,294.01 177.55,294.56 177.32,294.63 177.10,294.07 176.87,294.44 176.64,294.55 176.42,294.78 176.19,293.96 175.96,294.10 175.74,294.14 175.51,294.22 175.28,294.31 175.06,295.09 174.83,294.34 174.60,295.64 174.38,294.96 174.15,295.15 173.92,294.89 173.69,295.28 173.47,295.13 173.24,295.32 173.01,295.27 172.79,295.32 172.56,295.27 172.33,295.58 172.11,295.20 171.88,295.03 171.65,295.89 171.43,295.13 171.20,295.51 170.97,296.22 170.75,295.21 170.52,295.40 170.29,295.29 170.06,295.25 169.84,295.91 169.61,295.65 169.38,295.84 169.16,295.20 168.93,296.11 168.70,295.73 168.48,295.34 168.25,295.90 168.02,295.65 167.80,296.98 167.57,295.83 167.34,296.71 167.12,296.33 166.89,296.56 166.66,296.53 166.44,297.65 166.21,296.93 165.98,297.30 165.75,297.83 165.53,297.79 165.30,298.40 165.07,298.04 164.85,297.89 164.62,298.85 164.39,299.26 164.17,299.10 163.94,298.62 163.71,299.40 163.49,299.22 163.26,298.69 163.03,298.90 162.81,298.59 162.58,298.50 162.35,298.55 162.12,298.48 161.90,298.03 161.67,297.88 161.44,296.77 161.22,297.29 160.99,297.67 160.76,297.09 160.54,297.45 160.31,297.16 160.08,297.19 159.86,297.14 159.63,297.56 159.40,297.20 159.18,296.99 158.95,296.48 158.72,297.05 158.49,296.47 158.27,297.35 158.04,296.59 157.81,296.60 157.59,296.77 157.36,296.44 157.13,297.01 156.91,296.95 156.68,296.56 156.45,296.61 156.23,297.53 156.00,297.27 155.77,297.05 155.77,293.95" fill="none" stroke="#d95b47" stroke-width="1.0" stroke-linejoin="round" stroke-linecap="round"/>
<line x1="135.70" y1="267.10" x2="135.70" y2="268.30" stroke="#555" stroke-width="0.5"/>
<text x="135.70" y="265.88" font-size="5.8" text-anchor="middle" fill="#222">-6</text>
<line x1="146.55" y1="267.10" x2="146.55" y2="268.30" stroke="#555" stroke-width="0.5"/>
<text x="146.55" y="265.88" font-size="5.8" text-anchor="middle" fill="#222">-4</text>
<line x1="157.40" y1="267.10" x2="157.40" y2="268.30" stroke="#555" stroke-width="0.5"/>
<text x="157.40" y="265.88" font-size="5.8" text-anchor="middle" fill="#222">-2</text>
<line x1="168.25" y1="267.10" x2="168.25" y2="268.30" stroke="#555" stroke-width="0.5"/>
<text x="168.25" y="265.88" font-size="5.8" text-anchor="middle" fill="#222">0</text>
<line x1="179.10" y1="267.10" x2="179.10" y2="268.30" stroke="#555" stroke-width="0.5"/>
<text x="179.10" y="265.88" font-size="5.8" text-anchor="middle" fill="#222">2</text>
<line x1="189.95" y1="267.10" x2="189.95" y2="268.30" stroke="#555" stroke-width="0.5"/>
<text x="189.95" y="265.88" font-size="5.8" text-anchor="middle" fill="#222">4</text>
<line x1="200.80" y1="267.10" x2="200.80" y2="268.30" stroke="#555" stroke-width="0.5"/>
<text x="200.80" y="265.88" font-size="5.8" text-anchor="middle" fill="#222">6</text>
<line x1="135.70" y1="272.18" x2="136.90" y2="272.18" stroke="#555" stroke-width="0.5"/>
<text x="134.40" y="274.26" font-size="5.8" text-anchor="end" fill="#222">4</text>
<line x1="135.70" y1="283.04" x2="136.90" y2="283.04" stroke="#555" stroke-width="0.5"/>
<text x="134.40" y="285.12" font-size="5.8" text-anchor="end" fill="#222">2</text>
<line x1="135.70" y1="293.90" x2="136.90" y2="293.90" stroke="#555" stroke-width="0.5"/>
<text x="134.40" y="295.98" font-size="5.8" text-anchor="end" fill="#222">0</text>
<line x1="135.70" y1="304.76" x2="136.90" y2="304.76" stroke="#555" stroke-width="0.5"/>
<text x="134.40" y="306.84" font-size="5.8" text-anchor="end" fill="#222">-2</text>
<line x1="135.70" y1="315.62" x2="136.90" y2="315.62" stroke="#555" stroke-width="0.5"/>
<text x="134.40" y="317.70" font-size="5.8" text-anchor="end" fill="#222">-4</text>
<text x="168.20" y="262.00" font-size="5.8" text-anchor="middle" fill="#222">Electric field (MV/cm)</text>
<text x="128.60" y="294.30" font-size="5.9" text-anchor="middle" fill="#222" transform="rotate(-90 128.60 294.30)">Current (μA)</text>
<line x1="138.20" y1="271.50" x2="145.40" y2="271.50" stroke="#4a8fd0" stroke-width="0.8"/>
<text x="147.60" y="273.25" font-size="4.9" text-anchor="start" fill="#111" font-weight="bold">10 nm</text>
<line x1="138.20" y1="277.20" x2="145.40" y2="277.20" stroke="#7db4e3" stroke-width="0.8"/>
<text x="147.60" y="278.95" font-size="4.9" text-anchor="start" fill="#111" font-weight="bold">20 nm</text>
<line x1="138.20" y1="282.70" x2="145.40" y2="282.70" stroke="#f2aaa0" stroke-width="0.8"/>
<text x="147.60" y="284.45" font-size="4.9" text-anchor="start" fill="#111" font-weight="bold">40 nm</text>
<line x1="173.80" y1="309.30" x2="181.00" y2="309.30" stroke="#e8806e" stroke-width="0.8"/>
<text x="182.50" y="311.05" font-size="4.9" text-anchor="start" fill="#111" font-weight="bold">60 nm</text>
<line x1="173.80" y1="315.00" x2="181.00" y2="315.00" stroke="#d95b47" stroke-width="0.8"/>
<text x="182.50" y="316.75" font-size="4.9" text-anchor="start" fill="#111" font-weight="bold">100 nm</text>
<rect x="30.30" y="185.30" width="172.20" height="138.20" fill="none" stroke="#8a8a8a" stroke-width="1"/>
<line x1="30.28" y1="323.50" x2="30.28" y2="321.30" stroke="#8a8a8a" stroke-width="1"/>
<text x="30.28" y="333.35" font-size="8.8" text-anchor="middle" fill="#1a1a1a">-6</text>
<line x1="44.65" y1="323.50" x2="44.65" y2="321.30" stroke="#8a8a8a" stroke-width="1"/>
<text x="44.65" y="333.35" font-size="8.8" text-anchor="middle" fill="#1a1a1a">-5</text>
<line x1="59.02" y1="323.50" x2="59.02" y2="321.30" stroke="#8a8a8a" stroke-width="1"/>
<text x="59.02" y="333.35" font-size="8.8" text-anchor="middle" fill="#1a1a1a">-4</text>
<line x1="73.39" y1="323.50" x2="73.39" y2="321.30" stroke="#8a8a8a" stroke-width="1"/>
<text x="73.39" y="333.35" font-size="8.8" text-anchor="middle" fill="#1a1a1a">-3</text>
<line x1="87.76" y1="323.50" x2="87.76" y2="321.30" stroke="#8a8a8a" stroke-width="1"/>
<text x="87.76" y="333.35" font-size="8.8" text-anchor="middle" fill="#1a1a1a">-2</text>
<line x1="102.13" y1="323.50" x2="102.13" y2="321.30" stroke="#8a8a8a" stroke-width="1"/>
<text x="102.13" y="333.35" font-size="8.8" text-anchor="middle" fill="#1a1a1a">-1</text>
<line x1="116.50" y1="323.50" x2="116.50" y2="321.30" stroke="#8a8a8a" stroke-width="1"/>
<text x="116.50" y="333.35" font-size="8.8" text-anchor="middle" fill="#1a1a1a">0</text>
<line x1="130.87" y1="323.50" x2="130.87" y2="321.30" stroke="#8a8a8a" stroke-width="1"/>
<text x="130.87" y="333.35" font-size="8.8" text-anchor="middle" fill="#1a1a1a">1</text>
<line x1="145.24" y1="323.50" x2="145.24" y2="321.30" stroke="#8a8a8a" stroke-width="1"/>
<text x="145.24" y="333.35" font-size="8.8" text-anchor="middle" fill="#1a1a1a">2</text>
<line x1="159.61" y1="323.50" x2="159.61" y2="321.30" stroke="#8a8a8a" stroke-width="1"/>
<text x="159.61" y="333.35" font-size="8.8" text-anchor="middle" fill="#1a1a1a">3</text>
<line x1="173.98" y1="323.50" x2="173.98" y2="321.30" stroke="#8a8a8a" stroke-width="1"/>
<text x="173.98" y="333.35" font-size="8.8" text-anchor="middle" fill="#1a1a1a">4</text>
<line x1="188.35" y1="323.50" x2="188.35" y2="321.30" stroke="#8a8a8a" stroke-width="1"/>
<text x="188.35" y="333.35" font-size="8.8" text-anchor="middle" fill="#1a1a1a">5</text>
<line x1="202.72" y1="323.50" x2="202.72" y2="321.30" stroke="#8a8a8a" stroke-width="1"/>
<text x="202.72" y="333.35" font-size="8.8" text-anchor="middle" fill="#1a1a1a">6</text>
<line x1="37.47" y1="323.50" x2="37.47" y2="322.20" stroke="#8a8a8a" stroke-width="1"/>
<line x1="51.84" y1="323.50" x2="51.84" y2="322.20" stroke="#8a8a8a" stroke-width="1"/>
<line x1="66.21" y1="323.50" x2="66.21" y2="322.20" stroke="#8a8a8a" stroke-width="1"/>
<line x1="80.58" y1="323.50" x2="80.58" y2="322.20" stroke="#8a8a8a" stroke-width="1"/>
<line x1="94.94" y1="323.50" x2="94.94" y2="322.20" stroke="#8a8a8a" stroke-width="1"/>
<line x1="109.31" y1="323.50" x2="109.31" y2="322.20" stroke="#8a8a8a" stroke-width="1"/>
<line x1="123.69" y1="323.50" x2="123.69" y2="322.20" stroke="#8a8a8a" stroke-width="1"/>
<line x1="138.06" y1="323.50" x2="138.06" y2="322.20" stroke="#8a8a8a" stroke-width="1"/>
<line x1="152.43" y1="323.50" x2="152.43" y2="322.20" stroke="#8a8a8a" stroke-width="1"/>
<line x1="166.79" y1="323.50" x2="166.79" y2="322.20" stroke="#8a8a8a" stroke-width="1"/>
<line x1="181.16" y1="323.50" x2="181.16" y2="322.20" stroke="#8a8a8a" stroke-width="1"/>
<line x1="195.53" y1="323.50" x2="195.53" y2="322.20" stroke="#8a8a8a" stroke-width="1"/>
<line x1="30.30" y1="323.50" x2="32.50" y2="323.50" stroke="#8a8a8a" stroke-width="1"/>
<text x="27.40" y="326.65" font-size="8.8" text-anchor="end" fill="#1a1a1a">-40</text>
<line x1="30.30" y1="306.23" x2="32.50" y2="306.23" stroke="#8a8a8a" stroke-width="1"/>
<text x="27.40" y="309.38" font-size="8.8" text-anchor="end" fill="#1a1a1a">-30</text>
<line x1="30.30" y1="288.95" x2="32.50" y2="288.95" stroke="#8a8a8a" stroke-width="1"/>
<text x="27.40" y="292.10" font-size="8.8" text-anchor="end" fill="#1a1a1a">-20</text>
<line x1="30.30" y1="271.68" x2="32.50" y2="271.68" stroke="#8a8a8a" stroke-width="1"/>
<text x="27.40" y="274.83" font-size="8.8" text-anchor="end" fill="#1a1a1a">-10</text>
<line x1="30.30" y1="254.40" x2="32.50" y2="254.40" stroke="#8a8a8a" stroke-width="1"/>
<text x="27.40" y="257.55" font-size="8.8" text-anchor="end" fill="#1a1a1a">0</text>
<line x1="30.30" y1="237.12" x2="32.50" y2="237.12" stroke="#8a8a8a" stroke-width="1"/>
<text x="27.40" y="240.28" font-size="8.8" text-anchor="end" fill="#1a1a1a">10</text>
<line x1="30.30" y1="219.85" x2="32.50" y2="219.85" stroke="#8a8a8a" stroke-width="1"/>
<text x="27.40" y="223.00" font-size="8.8" text-anchor="end" fill="#1a1a1a">20</text>
<line x1="30.30" y1="202.57" x2="32.50" y2="202.57" stroke="#8a8a8a" stroke-width="1"/>
<text x="27.40" y="205.73" font-size="8.8" text-anchor="end" fill="#1a1a1a">30</text>
<line x1="30.30" y1="185.30" x2="32.50" y2="185.30" stroke="#8a8a8a" stroke-width="1"/>
<text x="27.40" y="188.45" font-size="8.8" text-anchor="end" fill="#1a1a1a">40</text>
<line x1="30.30" y1="314.86" x2="31.60" y2="314.86" stroke="#8a8a8a" stroke-width="1"/>
<line x1="30.30" y1="297.59" x2="31.60" y2="297.59" stroke="#8a8a8a" stroke-width="1"/>
<line x1="30.30" y1="280.31" x2="31.60" y2="280.31" stroke="#8a8a8a" stroke-width="1"/>
<line x1="30.30" y1="263.04" x2="31.60" y2="263.04" stroke="#8a8a8a" stroke-width="1"/>
<line x1="30.30" y1="245.76" x2="31.60" y2="245.76" stroke="#8a8a8a" stroke-width="1"/>
<line x1="30.30" y1="228.49" x2="31.60" y2="228.49" stroke="#8a8a8a" stroke-width="1"/>
<line x1="30.30" y1="211.21" x2="31.60" y2="211.21" stroke="#8a8a8a" stroke-width="1"/>
<line x1="30.30" y1="193.94" x2="31.60" y2="193.94" stroke="#8a8a8a" stroke-width="1"/>
<text x="116.10" y="343.20" font-size="9.57" text-anchor="middle" fill="#1a1a1a">Electric field (MV/cm)</text>
<text x="11.90" y="253.80" font-size="9.6" text-anchor="middle" fill="#1a1a1a" transform="rotate(-90 11.90 253.80)">Polarization (μC/cm²)</text>
<text x="229.50" y="181.50" font-size="14" text-anchor="start" fill="#000" font-weight="bold">e</text>
<defs><linearGradient id="ge" x1="0" y1="1" x2="1" y2="0"><stop offset="0" stop-color="#fdf8f9"/><stop offset="1" stop-color="#ebe9f6"/></linearGradient></defs>
<rect x="262.70" y="185.50" width="172.80" height="137.80" fill="url(#ge)" stroke="none" stroke-width="1"/>
<polyline points="282.96,227.53 286.27,226.50 292.18,227.87 305.86,227.18" fill="none" stroke="#4b3f9c" stroke-width="0.9" stroke-linejoin="round" stroke-linecap="round" stroke-dasharray="2.5,2"/>
<polyline points="305.86,227.18 334.66,227.53" fill="none" stroke="#8c84c4" stroke-width="1.0" stroke-linejoin="round" stroke-linecap="round"/>
<polyline points="334.66,227.53 363.46,259.57 420.91,284.03" fill="none" stroke="#4b3f9c" stroke-width="0.9" stroke-linejoin="round" stroke-linecap="round"/>
<polyline points="285.70,247.51 292.18,257.16" fill="none" stroke="#f09ea6" stroke-width="0.9" stroke-linejoin="round" stroke-linecap="round" stroke-dasharray="2.5,2"/>
<polyline points="292.18,257.16 305.86,301.60 334.66,320.89" fill="none" stroke="#f09ea6" stroke-width="0.9" stroke-linejoin="round" stroke-linecap="round"/>
<path d="M 285.70,242.91 L 286.94,245.80 L 290.07,246.09 L 287.71,248.16 L 288.40,251.23 L 285.70,249.63 L 282.99,251.23 L 283.68,248.16 L 281.32,246.09 L 284.45,245.80 Z" fill="#f09ea6" stroke="none" stroke-width="1"/>
<path d="M 292.18,252.56 L 293.42,255.44 L 296.55,255.73 L 294.19,257.81 L 294.88,260.88 L 292.18,259.27 L 289.47,260.88 L 290.16,257.81 L 287.80,255.73 L 290.93,255.44 Z" fill="#f09ea6" stroke="none" stroke-width="1"/>
<path d="M 305.86,297.00 L 307.10,299.88 L 310.23,300.18 L 307.87,302.25 L 308.56,305.32 L 305.86,303.71 L 303.15,305.32 L 303.84,302.25 L 301.48,300.18 L 304.61,299.88 Z" fill="#f09ea6" stroke="none" stroke-width="1"/>
<path d="M 334.66,316.29 L 335.90,319.18 L 339.03,319.47 L 336.67,321.54 L 337.36,324.61 L 334.66,323.00 L 331.95,324.61 L 332.64,321.54 L 330.28,319.47 L 333.41,319.18 Z" fill="#f09ea6" stroke="none" stroke-width="1"/>
<path d="M 282.96,222.93 L 284.20,225.82 L 287.33,226.11 L 284.97,228.18 L 285.66,231.25 L 282.96,229.65 L 280.26,231.25 L 280.95,228.18 L 278.59,226.11 L 281.72,225.82 Z" fill="#4b3f9c" stroke="none" stroke-width="1"/>
<path d="M 286.27,221.90 L 287.52,224.78 L 290.65,225.07 L 288.28,227.15 L 288.98,230.22 L 286.27,228.61 L 283.57,230.22 L 284.26,227.15 L 281.90,225.07 L 285.03,224.78 Z" fill="#4b3f9c" stroke="none" stroke-width="1"/>
<path d="M 292.18,223.27 L 293.42,226.16 L 296.55,226.45 L 294.19,228.53 L 294.88,231.59 L 292.18,229.99 L 289.47,231.59 L 290.16,228.53 L 287.80,226.45 L 290.93,226.16 Z" fill="#4b3f9c" stroke="none" stroke-width="1"/>
<path d="M 305.86,222.58 L 307.10,225.47 L 310.23,225.76 L 307.87,227.84 L 308.56,230.91 L 305.86,229.30 L 303.15,230.91 L 303.84,227.84 L 301.48,225.76 L 304.61,225.47 Z" fill="#4b3f9c" stroke="none" stroke-width="1"/>
<path d="M 334.66,222.93 L 335.90,225.82 L 339.03,226.11 L 336.67,228.18 L 337.36,231.25 L 334.66,229.65 L 331.95,231.25 L 332.64,228.18 L 330.28,226.11 L 333.41,225.82 Z" fill="#4b3f9c" stroke="none" stroke-width="1"/>
<path d="M 363.46,254.97 L 364.70,257.86 L 367.83,258.15 L 365.47,260.22 L 366.16,263.29 L 363.46,261.68 L 360.75,263.29 L 361.44,260.22 L 359.08,258.15 L 362.21,257.86 Z" fill="#4b3f9c" stroke="none" stroke-width="1"/>
<path d="M 420.91,279.43 L 422.16,282.32 L 425.29,282.61 L 422.92,284.68 L 423.62,287.75 L 420.91,286.14 L 418.21,287.75 L 418.90,284.68 L 416.54,282.61 L 419.67,282.32 Z" fill="#4b3f9c" stroke="none" stroke-width="1"/>
<line x1="338.80" y1="197.10" x2="356.30" y2="197.10" stroke="#4b3f9c" stroke-width="0.9" stroke-dasharray="3.2,4.6"/>
<path d="M 346.80,192.70 L 347.99,195.46 L 350.98,195.74 L 348.72,197.73 L 349.39,200.66 L 346.80,199.12 L 344.21,200.66 L 344.88,197.73 L 342.62,195.74 L 345.61,195.46 Z" fill="#4b3f9c" stroke="none" stroke-width="1"/>
<line x1="338.80" y1="208.70" x2="356.30" y2="208.70" stroke="#f09ea6" stroke-width="0.9" stroke-dasharray="3.2,4.6"/>
<path d="M 346.80,204.30 L 347.99,207.06 L 350.98,207.34 L 348.72,209.33 L 349.39,212.26 L 346.80,210.72 L 344.21,212.26 L 344.88,209.33 L 342.62,207.34 L 345.61,207.06 Z" fill="#f09ea6" stroke="none" stroke-width="1"/>
<text x="361.10" y="200.42" font-size="9.0" text-anchor="start" fill="#111" font-weight="bold">Superlattice</text>
<text x="361.10" y="212.02" font-size="9.0" text-anchor="start" fill="#111" font-weight="bold">Soild Solution</text>
<rect x="262.70" y="185.50" width="172.80" height="137.80" fill="none" stroke="#8a8a8a" stroke-width="1"/>
<line x1="277.20" y1="323.30" x2="277.20" y2="321.10" stroke="#8a8a8a" stroke-width="1"/>
<text x="277.20" y="333.35" font-size="8.8" text-anchor="middle" fill="#1a1a1a">0</text>
<line x1="306.00" y1="323.30" x2="306.00" y2="321.10" stroke="#8a8a8a" stroke-width="1"/>
<text x="306.00" y="333.35" font-size="8.8" text-anchor="middle" fill="#1a1a1a">20</text>
<line x1="334.80" y1="323.30" x2="334.80" y2="321.10" stroke="#8a8a8a" stroke-width="1"/>
<text x="334.80" y="333.35" font-size="8.8" text-anchor="middle" fill="#1a1a1a">40</text>
<line x1="363.60" y1="323.30" x2="363.60" y2="321.10" stroke="#8a8a8a" stroke-width="1"/>
<text x="363.60" y="333.35" font-size="8.8" text-anchor="middle" fill="#1a1a1a">60</text>
<line x1="392.40" y1="323.30" x2="392.40" y2="321.10" stroke="#8a8a8a" stroke-width="1"/>
<text x="392.40" y="333.35" font-size="8.8" text-anchor="middle" fill="#1a1a1a">80</text>
<line x1="421.20" y1="323.30" x2="421.20" y2="321.10" stroke="#8a8a8a" stroke-width="1"/>
<text x="421.20" y="333.35" font-size="8.8" text-anchor="middle" fill="#1a1a1a">100</text>
<line x1="262.80" y1="323.30" x2="262.80" y2="322.00" stroke="#8a8a8a" stroke-width="1"/>
<line x1="291.60" y1="323.30" x2="291.60" y2="322.00" stroke="#8a8a8a" stroke-width="1"/>
<line x1="320.40" y1="323.30" x2="320.40" y2="322.00" stroke="#8a8a8a" stroke-width="1"/>
<line x1="349.20" y1="323.30" x2="349.20" y2="322.00" stroke="#8a8a8a" stroke-width="1"/>
<line x1="378.00" y1="323.30" x2="378.00" y2="322.00" stroke="#8a8a8a" stroke-width="1"/>
<line x1="406.80" y1="323.30" x2="406.80" y2="322.00" stroke="#8a8a8a" stroke-width="1"/>
<line x1="435.60" y1="323.30" x2="435.60" y2="322.00" stroke="#8a8a8a" stroke-width="1"/>
<line x1="262.70" y1="323.30" x2="264.90" y2="323.30" stroke="#8a8a8a" stroke-width="1"/>
<text x="259.50" y="326.45" font-size="8.8" text-anchor="end" fill="#1a1a1a">0</text>
<line x1="262.70" y1="288.85" x2="264.90" y2="288.85" stroke="#8a8a8a" stroke-width="1"/>
<text x="259.50" y="292.00" font-size="8.8" text-anchor="end" fill="#1a1a1a">10</text>
<line x1="262.70" y1="254.40" x2="264.90" y2="254.40" stroke="#8a8a8a" stroke-width="1"/>
<text x="259.50" y="257.55" font-size="8.8" text-anchor="end" fill="#1a1a1a">20</text>
<line x1="262.70" y1="219.95" x2="264.90" y2="219.95" stroke="#8a8a8a" stroke-width="1"/>
<text x="259.50" y="223.10" font-size="8.8" text-anchor="end" fill="#1a1a1a">30</text>
<line x1="262.70" y1="185.50" x2="264.90" y2="185.50" stroke="#8a8a8a" stroke-width="1"/>
<text x="259.50" y="188.65" font-size="8.8" text-anchor="end" fill="#1a1a1a">40</text>
<line x1="262.70" y1="306.07" x2="264.00" y2="306.07" stroke="#8a8a8a" stroke-width="1"/>
<line x1="262.70" y1="271.62" x2="264.00" y2="271.62" stroke="#8a8a8a" stroke-width="1"/>
<line x1="262.70" y1="237.18" x2="264.00" y2="237.18" stroke="#8a8a8a" stroke-width="1"/>
<line x1="262.70" y1="202.73" x2="264.00" y2="202.73" stroke="#8a8a8a" stroke-width="1"/>
<text x="350.20" y="342.90" font-size="9.65" text-anchor="middle" fill="#1a1a1a">Thickness (nm)</text>
<text x="243.30" y="254.60" font-size="9.8" text-anchor="middle" fill="#1a1a1a" transform="rotate(-90 243.30 254.60)">2<tspan font-style="italic">P</tspan><tspan font-size="6.5" dy="2" font-style="italic">r</tspan><tspan dy="-2"> (μC/cm²)</tspan></text>
<text x="463.60" y="181.50" font-size="14" text-anchor="start" fill="#000" font-weight="bold">f</text>
<line x1="506.30" y1="185.30" x2="506.30" y2="323.80" stroke="#ebebeb" stroke-width="0.6"/>
<line x1="532.87" y1="185.30" x2="532.87" y2="323.80" stroke="#ebebeb" stroke-width="0.6"/>
<line x1="559.44" y1="185.30" x2="559.44" y2="323.80" stroke="#ebebeb" stroke-width="0.6"/>
<line x1="586.01" y1="185.30" x2="586.01" y2="323.80" stroke="#ebebeb" stroke-width="0.6"/>
<line x1="612.58" y1="185.30" x2="612.58" y2="323.80" stroke="#ebebeb" stroke-width="0.6"/>
<line x1="639.15" y1="185.30" x2="639.15" y2="323.80" stroke="#ebebeb" stroke-width="0.6"/>
<line x1="493.20" y1="208.38" x2="665.00" y2="208.38" stroke="#ebebeb" stroke-width="0.6"/>
<line x1="493.20" y1="231.46" x2="665.00" y2="231.46" stroke="#ebebeb" stroke-width="0.6"/>
<line x1="493.20" y1="254.54" x2="665.00" y2="254.54" stroke="#ebebeb" stroke-width="0.6"/>
<line x1="493.20" y1="277.62" x2="665.00" y2="277.62" stroke="#ebebeb" stroke-width="0.6"/>
<line x1="493.20" y1="300.70" x2="665.00" y2="300.70" stroke="#ebebeb" stroke-width="0.6"/>
<path d="M 519.72,220.40 L 520.96,223.29 L 524.09,223.58 L 521.73,225.65 L 522.42,228.72 L 519.72,227.11 L 517.01,228.72 L 517.71,225.65 L 515.34,223.58 L 518.47,223.29 Z" fill="#e8555c" stroke="none" stroke-width="1"/>
<path d="M 532.87,215.09 L 534.11,217.98 L 537.24,218.27 L 534.88,220.34 L 535.57,223.41 L 532.87,221.81 L 530.17,223.41 L 530.86,220.34 L 528.50,218.27 L 531.63,217.98 Z" fill="#e8555c" stroke="none" stroke-width="1"/>
<path d="M 559.44,215.09 L 560.68,217.98 L 563.81,218.27 L 561.45,220.34 L 562.14,223.41 L 559.44,221.81 L 556.74,223.41 L 557.43,220.34 L 555.07,218.27 L 558.20,217.98 Z" fill="#e8555c" stroke="none" stroke-width="1"/>
<path d="M 585.48,202.86 L 586.72,205.74 L 589.85,206.04 L 587.49,208.11 L 588.18,211.18 L 585.48,209.57 L 582.77,211.18 L 583.47,208.11 L 581.10,206.04 L 584.23,205.74 Z" fill="#e8555c" stroke="none" stroke-width="1"/>
<path d="M 638.22,200.32 L 639.46,203.21 L 642.59,203.50 L 640.23,205.57 L 640.92,208.64 L 638.22,207.03 L 635.52,208.64 L 636.21,205.57 L 633.85,203.50 L 636.98,203.21 Z" fill="#e8555c" stroke="none" stroke-width="1"/>
<clipPath id="hc79004104"><rect x="517.9618" y="221.8444" width="16" height="8.48"/></clipPath>
<path d="M 525.9618,226.1644 L 529.4818,232.5644 L 522.4418000000001,232.5644 Z" fill="#fff" stroke="#2aa874" stroke-width="0.9"/>
<path d="M 525.9618,226.1644 L 529.4818,232.5644 L 522.4418000000001,232.5644 Z" fill="#2aa874" clip-path="url(#hc79004104)"/>
<clipPath id="hc63503149"><rect x="518.62605" y="225.3064" width="16" height="8.48"/></clipPath>
<path d="M 526.62605,229.6264 L 530.14605,236.0264 L 523.10605,236.0264 Z" fill="#fff" stroke="#2aa874" stroke-width="0.9"/>
<path d="M 526.62605,229.6264 L 530.14605,236.0264 L 523.10605,236.0264 Z" fill="#2aa874" clip-path="url(#hc63503149)"/>
<clipPath id="hc50744194"><rect x="511.45214999999996" y="233.1536" width="16" height="8"/></clipPath>
<path d="M 516.2521499999999,241.1536 A 3.2,3.2 0 1 1 522.65215,241.1536 A 3.2,3.2 0 1 1 516.2521499999999,241.1536 Z" fill="#fff" stroke="#3f6fc2" stroke-width="0.9"/>
<path d="M 516.2521499999999,241.1536 A 3.2,3.2 0 1 1 522.65215,241.1536 A 3.2,3.2 0 1 1 516.2521499999999,241.1536 Z" fill="#3f6fc2" clip-path="url(#hc50744194)"/>
<clipPath id="hc29028013"><rect x="510.38935000000004" y="235.4616" width="16" height="8"/></clipPath>
<path d="M 515.18935,243.4616 A 3.2,3.2 0 1 1 521.5893500000001,243.4616 A 3.2,3.2 0 1 1 515.18935,243.4616 Z" fill="#fff" stroke="#3f6fc2" stroke-width="0.9"/>
<path d="M 515.18935,243.4616 A 3.2,3.2 0 1 1 521.5893500000001,243.4616 A 3.2,3.2 0 1 1 515.18935,243.4616 Z" fill="#3f6fc2" clip-path="url(#hc29028013)"/>
<clipPath id="hc91040629"><rect x="515.3048" y="239.3852" width="16" height="8"/></clipPath>
<path d="M 526.9848,247.3852 L 520.5848,243.8652 L 520.5848,250.9052 Z" fill="#fff" stroke="#f3b30b" stroke-width="0.9"/>
<path d="M 526.9848,247.3852 L 520.5848,243.8652 L 520.5848,250.9052 Z" fill="#f3b30b" clip-path="url(#hc91040629)"/>
<clipPath id="hc40792027"><rect x="509.19370000000004" y="245.38600000000002" width="16" height="8.48"/></clipPath>
<path d="M 517.1937,249.70600000000002 L 520.7137,256.10600000000005 L 513.6737,256.10600000000005 Z" fill="#fff" stroke="#2aa874" stroke-width="0.9"/>
<path d="M 517.1937,249.70600000000002 L 520.7137,256.10600000000005 L 513.6737,256.10600000000005 Z" fill="#2aa874" clip-path="url(#hc40792027)"/>
<clipPath id="hc19867476"><rect x="509.59225000000004" y="247.0016" width="16" height="8"/></clipPath>
<path d="M 514.39225,255.0016 A 3.2,3.2 0 1 1 520.7922500000001,255.0016 A 3.2,3.2 0 1 1 514.39225,255.0016 Z" fill="#fff" stroke="#3f6fc2" stroke-width="0.9"/>
<path d="M 514.39225,255.0016 A 3.2,3.2 0 1 1 520.7922500000001,255.0016 A 3.2,3.2 0 1 1 514.39225,255.0016 Z" fill="#3f6fc2" clip-path="url(#hc19867476)"/>
<clipPath id="hc21787327"><rect x="507.06809999999996" y="257.8492" width="16" height="8"/></clipPath>
<path d="M 515.0681,262.0092 L 518.9081,265.8492 L 515.0681,269.68919999999997 L 511.2281,265.8492 Z" fill="#fff" stroke="#6c9de3" stroke-width="0.9"/>
<path d="M 515.0681,262.0092 L 518.9081,265.8492 L 515.0681,269.68919999999997 L 511.2281,265.8492 Z" fill="#6c9de3" clip-path="url(#hc21787327)"/>
<clipPath id="hc34622915"><rect x="504.80965000000003" y="263.1576" width="16" height="8"/></clipPath>
<path d="M 512.80965,267.3176 L 516.6496500000001,271.1576 L 512.80965,274.9976 L 508.96965000000006,271.1576 Z" fill="#fff" stroke="#6c9de3" stroke-width="0.9"/>
<path d="M 512.80965,267.3176 L 516.6496500000001,271.1576 L 512.80965,274.9976 L 508.96965000000006,271.1576 Z" fill="#6c9de3" clip-path="url(#hc34622915)"/>
<clipPath id="hc55725785"><rect x="504.80965000000003" y="269.3892" width="16" height="8"/></clipPath>
<path d="M 509.60965000000004,277.3892 A 3.2,3.2 0 1 1 516.0096500000001,277.3892 A 3.2,3.2 0 1 1 509.60965000000004,277.3892 Z" fill="#fff" stroke="#3f6fc2" stroke-width="0.9"/>
<path d="M 509.60965000000004,277.3892 A 3.2,3.2 0 1 1 516.0096500000001,277.3892 A 3.2,3.2 0 1 1 509.60965000000004,277.3892 Z" fill="#3f6fc2" clip-path="url(#hc55725785)"/>
<clipPath id="hc49025921"><rect x="505.20820000000003" y="292.9308" width="16" height="8"/></clipPath>
<path d="M 510.00820000000004,300.9308 A 3.2,3.2 0 1 1 516.4082000000001,300.9308 A 3.2,3.2 0 1 1 510.00820000000004,300.9308 Z" fill="#fff" stroke="#3f6fc2" stroke-width="0.9"/>
<path d="M 510.00820000000004,300.9308 A 3.2,3.2 0 1 1 516.4082000000001,300.9308 A 3.2,3.2 0 1 1 510.00820000000004,300.9308 Z" fill="#3f6fc2" clip-path="url(#hc49025921)"/>
<clipPath id="hc1254822"><rect x="644.435" y="208.68880000000001" width="16" height="8.48"/></clipPath>
<path d="M 652.435,213.0088 L 655.9549999999999,219.4088 L 648.915,219.4088 Z" fill="#fff" stroke="#2aa874" stroke-width="0.9"/>
<path d="M 652.435,213.0088 L 655.9549999999999,219.4088 L 648.915,219.4088 Z" fill="#2aa874" clip-path="url(#hc1254822)"/>
<path d="M 596.10,249.70 L 597.34,252.59 L 600.47,252.88 L 598.11,254.95 L 598.80,258.02 L 596.10,256.42 L 593.40,258.02 L 594.09,254.95 L 591.73,252.88 L 594.86,252.59 Z" fill="#e8555c" stroke="none" stroke-width="1"/>
<clipPath id="hc57947603"><rect x="588.1" y="254.89999999999998" width="16" height="8"/></clipPath>
<path d="M 592.9,262.9 A 3.2,3.2 0 1 1 599.3000000000001,262.9 A 3.2,3.2 0 1 1 592.9,262.9 Z" fill="#fff" stroke="#3f6fc2" stroke-width="0.9"/>
<path d="M 592.9,262.9 A 3.2,3.2 0 1 1 599.3000000000001,262.9 A 3.2,3.2 0 1 1 592.9,262.9 Z" fill="#3f6fc2" clip-path="url(#hc57947603)"/>
<clipPath id="hc15187309"><rect x="588.1" y="263.7" width="16" height="8.48"/></clipPath>
<path d="M 596.1,268.02 L 599.62,274.42 L 592.58,274.42 Z" fill="#fff" stroke="#2aa874" stroke-width="0.9"/>
<path d="M 596.1,268.02 L 599.62,274.42 L 592.58,274.42 Z" fill="#2aa874" clip-path="url(#hc15187309)"/>
<clipPath id="hc20250308"><rect x="588.1" y="274.0" width="16" height="8"/></clipPath>
<path d="M 596.1,278.16 L 599.94,282.0 L 596.1,285.84 L 592.26,282.0 Z" fill="#fff" stroke="#6c9de3" stroke-width="0.9"/>
<path d="M 596.1,278.16 L 599.94,282.0 L 596.1,285.84 L 592.26,282.0 Z" fill="#6c9de3" clip-path="url(#hc20250308)"/>
<clipPath id="hc10861339"><rect x="588.1" y="284.1" width="16" height="8"/></clipPath>
<path d="M 599.78,292.1 L 593.38,288.58000000000004 L 593.38,295.62 Z" fill="#fff" stroke="#f3b30b" stroke-width="0.9"/>
<path d="M 599.78,292.1 L 593.38,288.58000000000004 L 593.38,295.62 Z" fill="#f3b30b" clip-path="url(#hc10861339)"/>
<text x="603.90" y="256.70" font-size="6.7" text-anchor="start" fill="#111" font-weight="bold"><tspan dy="0">This work</tspan></text>
<text x="603.90" y="265.30" font-size="6.7" text-anchor="start" fill="#111" font-weight="bold"><tspan dy="0">Hf</tspan><tspan font-size="4.6" dy="1.8">0.5</tspan><tspan dy="-1.8">Zr</tspan><tspan font-size="4.6" dy="1.8">0.5</tspan><tspan dy="-1.8">O</tspan><tspan font-size="4.6" dy="1.8">2</tspan></text>
<text x="603.90" y="274.30" font-size="6.7" text-anchor="start" fill="#111" font-weight="bold"><tspan dy="0">Hf</tspan><tspan font-size="4.6" dy="1.8">0.93</tspan><tspan dy="-1.8">Y</tspan><tspan font-size="4.6" dy="1.8">0.7</tspan><tspan dy="-1.8">O</tspan><tspan font-size="4.6" dy="1.8">2</tspan></text>
<text x="603.90" y="284.60" font-size="6.7" text-anchor="start" fill="#111" font-weight="bold"><tspan dy="0">Hf</tspan><tspan font-size="4.6" dy="1.8">0.5</tspan><tspan dy="-1.8">Zr</tspan><tspan font-size="4.6" dy="1.8">0.49</tspan><tspan dy="-1.8">La</tspan><tspan font-size="4.6" dy="1.8">0.01</tspan><tspan dy="-1.8">O</tspan><tspan font-size="4.6" dy="1.8">2</tspan></text>
<text x="603.90" y="294.50" font-size="6.7" text-anchor="start" fill="#111" font-weight="bold"><tspan dy="0">Hf</tspan><tspan font-size="4.6" dy="1.8">0.945</tspan><tspan dy="-1.8">La</tspan><tspan font-size="4.6" dy="1.8">0.055</tspan><tspan dy="-1.8">O</tspan><tspan font-size="4.6" dy="1.8">2</tspan></text>
<rect x="493.20" y="185.30" width="171.80" height="138.50" fill="none" stroke="#8a8a8a" stroke-width="1"/>
<line x1="506.30" y1="323.80" x2="506.30" y2="321.60" stroke="#8a8a8a" stroke-width="1"/>
<text x="506.30" y="333.35" font-size="8.8" text-anchor="middle" fill="#1a1a1a">0</text>
<line x1="532.87" y1="323.80" x2="532.87" y2="321.60" stroke="#8a8a8a" stroke-width="1"/>
<text x="532.87" y="333.35" font-size="8.8" text-anchor="middle" fill="#1a1a1a">20</text>
<line x1="559.44" y1="323.80" x2="559.44" y2="321.60" stroke="#8a8a8a" stroke-width="1"/>
<text x="559.44" y="333.35" font-size="8.8" text-anchor="middle" fill="#1a1a1a">40</text>
<line x1="586.01" y1="323.80" x2="586.01" y2="321.60" stroke="#8a8a8a" stroke-width="1"/>
<text x="586.01" y="333.35" font-size="8.8" text-anchor="middle" fill="#1a1a1a">60</text>
<line x1="612.58" y1="323.80" x2="612.58" y2="321.60" stroke="#8a8a8a" stroke-width="1"/>
<text x="612.58" y="333.35" font-size="8.8" text-anchor="middle" fill="#1a1a1a">80</text>
<line x1="639.15" y1="323.80" x2="639.15" y2="321.60" stroke="#8a8a8a" stroke-width="1"/>
<text x="639.15" y="333.35" font-size="8.8" text-anchor="middle" fill="#1a1a1a">100</text>
<line x1="665.72" y1="323.80" x2="665.72" y2="321.60" stroke="#8a8a8a" stroke-width="1"/>
<text x="665.72" y="333.35" font-size="8.8" text-anchor="middle" fill="#1a1a1a">120</text>
<line x1="493.01" y1="323.80" x2="493.01" y2="322.50" stroke="#8a8a8a" stroke-width="1"/>
<line x1="519.59" y1="323.80" x2="519.59" y2="322.50" stroke="#8a8a8a" stroke-width="1"/>
<line x1="546.15" y1="323.80" x2="546.15" y2="322.50" stroke="#8a8a8a" stroke-width="1"/>
<line x1="572.73" y1="323.80" x2="572.73" y2="322.50" stroke="#8a8a8a" stroke-width="1"/>
<line x1="599.30" y1="323.80" x2="599.30" y2="322.50" stroke="#8a8a8a" stroke-width="1"/>
<line x1="625.87" y1="323.80" x2="625.87" y2="322.50" stroke="#8a8a8a" stroke-width="1"/>
<line x1="652.43" y1="323.80" x2="652.43" y2="322.50" stroke="#8a8a8a" stroke-width="1"/>
<line x1="493.20" y1="185.30" x2="495.40" y2="185.30" stroke="#8a8a8a" stroke-width="1"/>
<text x="489.60" y="188.45" font-size="8.8" text-anchor="end" fill="#1a1a1a">0</text>
<line x1="493.20" y1="208.38" x2="495.40" y2="208.38" stroke="#8a8a8a" stroke-width="1"/>
<text x="489.60" y="211.53" font-size="8.8" text-anchor="end" fill="#1a1a1a">1</text>
<line x1="493.20" y1="231.46" x2="495.40" y2="231.46" stroke="#8a8a8a" stroke-width="1"/>
<text x="489.60" y="234.61" font-size="8.8" text-anchor="end" fill="#1a1a1a">2</text>
<line x1="493.20" y1="254.54" x2="495.40" y2="254.54" stroke="#8a8a8a" stroke-width="1"/>
<text x="489.60" y="257.69" font-size="8.8" text-anchor="end" fill="#1a1a1a">3</text>
<line x1="493.20" y1="277.62" x2="495.40" y2="277.62" stroke="#8a8a8a" stroke-width="1"/>
<text x="489.60" y="280.77" font-size="8.8" text-anchor="end" fill="#1a1a1a">4</text>
<line x1="493.20" y1="300.70" x2="495.40" y2="300.70" stroke="#8a8a8a" stroke-width="1"/>
<text x="489.60" y="303.85" font-size="8.8" text-anchor="end" fill="#1a1a1a">5</text>
<line x1="493.20" y1="323.78" x2="495.40" y2="323.78" stroke="#8a8a8a" stroke-width="1"/>
<text x="489.60" y="326.93" font-size="8.8" text-anchor="end" fill="#1a1a1a">6</text>
<line x1="493.20" y1="196.84" x2="494.50" y2="196.84" stroke="#8a8a8a" stroke-width="1"/>
<line x1="493.20" y1="219.92" x2="494.50" y2="219.92" stroke="#8a8a8a" stroke-width="1"/>
<line x1="493.20" y1="243.00" x2="494.50" y2="243.00" stroke="#8a8a8a" stroke-width="1"/>
<line x1="493.20" y1="266.08" x2="494.50" y2="266.08" stroke="#8a8a8a" stroke-width="1"/>
<line x1="493.20" y1="289.16" x2="494.50" y2="289.16" stroke="#8a8a8a" stroke-width="1"/>
<line x1="493.20" y1="312.24" x2="494.50" y2="312.24" stroke="#8a8a8a" stroke-width="1"/>
<text x="582.20" y="342.90" font-size="9.65" text-anchor="middle" fill="#1a1a1a">Thickness (nm)</text>
<text x="476.00" y="253.20" font-size="9.64" text-anchor="middle" fill="#1a1a1a" transform="rotate(-90 476.00 253.20)">Coercive fields (MV/cm)</text>
<text x="-0.50" y="356.40" font-size="14" text-anchor="start" fill="#000" font-weight="bold">g</text>
<defs><linearGradient id="ga" x1="0" y1="1" x2="0" y2="0"><stop offset="0" stop-color="#e3edf8"/><stop offset="0.55" stop-color="#6f9fd6"/><stop offset="1" stop-color="#2d5591"/></linearGradient></defs>
<path d="M 35.0,491 L 38.6,491 L 38.6,415.2 L 40.4,415.2 L 36.8,404.6 L 33.2,415.2 L 35.0,415.2 Z" fill="url(#ga)" stroke="none" stroke-width="1"/>
<line x1="116.50" y1="363.30" x2="116.50" y2="502.30" stroke="#e8705a" stroke-width="0.8" stroke-dasharray="1.6,1.4"/>
<defs><clipPath id="clipg"><rect x="30.7" y="363.3" width="171.8" height="139.0"/></clipPath></defs>
<g clip-path="url(#clipg)">
<polyline points="31.00,498.30 37.10,497.80 43.20,497.00 49.30,494.00 55.40,490.00 61.50,485.20 67.60,479.40 73.70,473.70 79.80,468.00 85.90,463.10 92.00,459.60 98.10,458.10 104.20,457.90 110.30,459.30 116.40,461.00" fill="none" stroke="#5b9bd5" stroke-width="1.0" stroke-linejoin="round" stroke-linecap="round"/>
<polyline points="31.00,404.00 37.10,401.30 43.20,396.60 49.30,392.00 55.40,388.50 61.50,387.70 67.60,390.50 73.70,396.40 79.80,405.70 85.90,417.10 92.00,429.60 98.10,441.80 104.20,451.40 110.30,457.20 116.40,460.60" fill="none" stroke="#5b9bd5" stroke-width="1.0" stroke-linejoin="round" stroke-linecap="round"/>
<polyline points="116.70,461.00 122.80,460.70 128.90,459.50 135.00,459.00 141.10,458.50 147.20,458.80 153.30,459.90 159.40,461.80 165.50,463.40 171.60,466.00 177.70,468.20 183.80,470.60 189.90,472.60 196.00,474.00 202.10,474.40" fill="none" stroke="#c460b8" stroke-width="1.0" stroke-linejoin="round" stroke-linecap="round"/>
<polyline points="116.70,460.70 122.80,460.20 128.90,458.10 135.00,456.20 141.10,454.40 147.20,454.20 153.30,455.30 159.40,456.80 165.50,459.20 171.60,462.10 177.70,465.40 183.80,467.80 189.90,470.20 196.00,472.20 202.10,473.50" fill="none" stroke="#c460b8" stroke-width="1.0" stroke-linejoin="round" stroke-linecap="round"/>
<circle cx="31.00" cy="498.30" r="2.35" fill="#5b9bd5" stroke="none" stroke-width="1"/>
<circle cx="37.10" cy="497.80" r="2.35" fill="#5b9bd5" stroke="none" stroke-width="1"/>
<circle cx="43.20" cy="497.00" r="2.35" fill="#5b9bd5" stroke="none" stroke-width="1"/>
<circle cx="49.30" cy="494.00" r="2.35" fill="#5b9bd5" stroke="none" stroke-width="1"/>
<circle cx="55.40" cy="490.00" r="2.35" fill="#5b9bd5" stroke="none" stroke-width="1"/>
<circle cx="61.50" cy="485.20" r="2.35" fill="#5b9bd5" stroke="none" stroke-width="1"/>
<circle cx="67.60" cy="479.40" r="2.35" fill="#5b9bd5" stroke="none" stroke-width="1"/>
<circle cx="73.70" cy="473.70" r="2.35" fill="#5b9bd5" stroke="none" stroke-width="1"/>
<circle cx="79.80" cy="468.00" r="2.35" fill="#5b9bd5" stroke="none" stroke-width="1"/>
<circle cx="85.90" cy="463.10" r="2.35" fill="#5b9bd5" stroke="none" stroke-width="1"/>
<circle cx="92.00" cy="459.60" r="2.35" fill="#5b9bd5" stroke="none" stroke-width="1"/>
<circle cx="98.10" cy="458.10" r="2.35" fill="#5b9bd5" stroke="none" stroke-width="1"/>
<circle cx="104.20" cy="457.90" r="2.35" fill="#5b9bd5" stroke="none" stroke-width="1"/>
<circle cx="110.30" cy="459.30" r="2.35" fill="#5b9bd5" stroke="none" stroke-width="1"/>
<circle cx="116.40" cy="461.00" r="2.35" fill="#5b9bd5" stroke="none" stroke-width="1"/>
<circle cx="31.00" cy="404.00" r="2.25" fill="#fff" stroke="#5b9bd5" stroke-width="0.9"/>
<circle cx="37.10" cy="401.30" r="2.25" fill="#fff" stroke="#5b9bd5" stroke-width="0.9"/>
<circle cx="43.20" cy="396.60" r="2.25" fill="#fff" stroke="#5b9bd5" stroke-width="0.9"/>
<circle cx="49.30" cy="392.00" r="2.25" fill="#fff" stroke="#5b9bd5" stroke-width="0.9"/>
<circle cx="55.40" cy="388.50" r="2.25" fill="#fff" stroke="#5b9bd5" stroke-width="0.9"/>
<circle cx="61.50" cy="387.70" r="2.25" fill="#fff" stroke="#5b9bd5" stroke-width="0.9"/>
<circle cx="67.60" cy="390.50" r="2.25" fill="#fff" stroke="#5b9bd5" stroke-width="0.9"/>
<circle cx="73.70" cy="396.40" r="2.25" fill="#fff" stroke="#5b9bd5" stroke-width="0.9"/>
<circle cx="79.80" cy="405.70" r="2.25" fill="#fff" stroke="#5b9bd5" stroke-width="0.9"/>
<circle cx="85.90" cy="417.10" r="2.25" fill="#fff" stroke="#5b9bd5" stroke-width="0.9"/>
<circle cx="92.00" cy="429.60" r="2.25" fill="#fff" stroke="#5b9bd5" stroke-width="0.9"/>
<circle cx="98.10" cy="441.80" r="2.25" fill="#fff" stroke="#5b9bd5" stroke-width="0.9"/>
<circle cx="104.20" cy="451.40" r="2.25" fill="#fff" stroke="#5b9bd5" stroke-width="0.9"/>
<circle cx="110.30" cy="457.20" r="2.25" fill="#fff" stroke="#5b9bd5" stroke-width="0.9"/>
<circle cx="116.40" cy="460.60" r="2.25" fill="#fff" stroke="#5b9bd5" stroke-width="0.9"/>
<circle cx="116.70" cy="460.70" r="2.25" fill="#fff" stroke="#c460b8" stroke-width="0.9"/>
<circle cx="122.80" cy="460.20" r="2.25" fill="#fff" stroke="#c460b8" stroke-width="0.9"/>
<circle cx="128.90" cy="458.10" r="2.25" fill="#fff" stroke="#c460b8" stroke-width="0.9"/>
<circle cx="135.00" cy="456.20" r="2.25" fill="#fff" stroke="#c460b8" stroke-width="0.9"/>
<circle cx="141.10" cy="454.40" r="2.25" fill="#fff" stroke="#c460b8" stroke-width="0.9"/>
<circle cx="147.20" cy="454.20" r="2.25" fill="#fff" stroke="#c460b8" stroke-width="0.9"/>
<circle cx="153.30" cy="455.30" r="2.25" fill="#fff" stroke="#c460b8" stroke-width="0.9"/>
<circle cx="159.40" cy="456.80" r="2.25" fill="#fff" stroke="#c460b8" stroke-width="0.9"/>
<circle cx="165.50" cy="459.20" r="2.25" fill="#fff" stroke="#c460b8" stroke-width="0.9"/>
<circle cx="171.60" cy="462.10" r="2.25" fill="#fff" stroke="#c460b8" stroke-width="0.9"/>
<circle cx="177.70" cy="465.40" r="2.25" fill="#fff" stroke="#c460b8" stroke-width="0.9"/>
<circle cx="183.80" cy="467.80" r="2.25" fill="#fff" stroke="#c460b8" stroke-width="0.9"/>
<circle cx="189.90" cy="470.20" r="2.25" fill="#fff" stroke="#c460b8" stroke-width="0.9"/>
<circle cx="196.00" cy="472.20" r="2.25" fill="#fff" stroke="#c460b8" stroke-width="0.9"/>
<circle cx="202.10" cy="473.50" r="2.25" fill="#fff" stroke="#c460b8" stroke-width="0.9"/>
<circle cx="116.70" cy="461.00" r="2.35" fill="#c460b8" stroke="none" stroke-width="1"/>
<circle cx="122.80" cy="460.70" r="2.35" fill="#c460b8" stroke="none" stroke-width="1"/>
<circle cx="128.90" cy="459.50" r="2.35" fill="#c460b8" stroke="none" stroke-width="1"/>
<circle cx="135.00" cy="459.00" r="2.35" fill="#c460b8" stroke="none" stroke-width="1"/>
<circle cx="141.10" cy="458.50" r="2.35" fill="#c460b8" stroke="none" stroke-width="1"/>
<circle cx="147.20" cy="458.80" r="2.35" fill="#c460b8" stroke="none" stroke-width="1"/>
<circle cx="153.30" cy="459.90" r="2.35" fill="#c460b8" stroke="none" stroke-width="1"/>
<circle cx="159.40" cy="461.80" r="2.35" fill="#c460b8" stroke="none" stroke-width="1"/>
<circle cx="165.50" cy="463.40" r="2.35" fill="#c460b8" stroke="none" stroke-width="1"/>
<circle cx="171.60" cy="466.00" r="2.35" fill="#c460b8" stroke="none" stroke-width="1"/>
<circle cx="177.70" cy="468.20" r="2.35" fill="#c460b8" stroke="none" stroke-width="1"/>
<circle cx="183.80" cy="470.60" r="2.35" fill="#c460b8" stroke="none" stroke-width="1"/>
<circle cx="189.90" cy="472.60" r="2.35" fill="#c460b8" stroke="none" stroke-width="1"/>
<circle cx="196.00" cy="474.00" r="2.35" fill="#c460b8" stroke="none" stroke-width="1"/>
<circle cx="202.10" cy="474.40" r="2.35" fill="#c460b8" stroke="none" stroke-width="1"/>
</g>
<line x1="30.50" y1="404.60" x2="44.00" y2="404.60" stroke="#2f4f8c" stroke-width="1.4"/>
<line x1="30.50" y1="498.80" x2="44.00" y2="498.80" stroke="#2f4f8c" stroke-width="1.4"/>
<line x1="190.00" y1="473.20" x2="202.50" y2="473.20" stroke="#6a2a78" stroke-width="1.3"/>
<text x="45.00" y="405.86" font-size="7.7" text-anchor="start" fill="#2f4f8c" font-weight="bold"><tspan font-style="italic">m</tspan> phase</text>
<text x="46.10" y="500.96" font-size="7.7" text-anchor="start" fill="#2f4f8c" font-weight="bold"><tspan font-style="italic">m</tspan> phase</text>
<text x="202.20" y="462.16" font-size="7.7" text-anchor="end" fill="#6a2a78" font-weight="bold"><tspan font-style="italic">o</tspan> phase</text>
<text x="202.20" y="483.96" font-size="7.7" text-anchor="end" fill="#6a2a78" font-weight="bold"><tspan font-style="italic">o</tspan> phase</text>
<text x="116.30" y="471.76" font-size="7.7" text-anchor="middle" fill="#e0654f" font-weight="bold"><tspan font-style="italic">t</tspan> phase</text>
<line x1="36.20" y1="370.70" x2="48.40" y2="370.70" stroke="#5b9bd5" stroke-width="1.0"/>
<circle cx="42.30" cy="370.70" r="2.25" fill="#fff" stroke="#5b9bd5" stroke-width="0.9"/>
<line x1="36.20" y1="381.50" x2="48.40" y2="381.50" stroke="#5b9bd5" stroke-width="1.0"/>
<circle cx="42.30" cy="381.50" r="2.35" fill="#5b9bd5" stroke="none" stroke-width="1"/>
<line x1="123.00" y1="370.50" x2="134.60" y2="370.50" stroke="#c460b8" stroke-width="1.0"/>
<circle cx="128.90" cy="370.50" r="2.25" fill="#fff" stroke="#c460b8" stroke-width="0.9"/>
<line x1="123.00" y1="381.50" x2="134.60" y2="381.50" stroke="#c460b8" stroke-width="1.0"/>
<circle cx="128.90" cy="381.50" r="2.35" fill="#c460b8" stroke="none" stroke-width="1"/>
<text x="52.90" y="373.75" font-size="8.8" text-anchor="start" fill="#111" font-weight="bold" textLength="35.0" lengthAdjust="spacingAndGlyphs">Clamped</text>
<text x="90.30" y="373.75" font-size="8.8" text-anchor="start" fill="#111" font-weight="bold" font-style="italic">t</text>
<line x1="93.90" y1="370.50" x2="100.50" y2="370.50" stroke="#111" stroke-width="0.9"/>
<path d="M 101.49999999999999,370.5 L 98.89999999999999,368.8 L 98.89999999999999,372.2 Z" fill="#111" stroke="none" stroke-width="1"/>
<text x="102.30" y="373.75" font-size="8.8" text-anchor="start" fill="#111" font-weight="bold" font-style="italic">m</text>
<text x="52.90" y="384.55" font-size="8.8" text-anchor="start" fill="#111" font-weight="bold" font-style="italic">t</text>
<line x1="56.50" y1="381.30" x2="63.10" y2="381.30" stroke="#111" stroke-width="0.9"/>
<path d="M 64.1,381.29999999999995 L 61.5,379.59999999999997 L 61.5,382.99999999999994 Z" fill="#111" stroke="none" stroke-width="1"/>
<text x="64.90" y="384.55" font-size="8.8" text-anchor="start" fill="#111" font-weight="bold" font-style="italic">m</text>
<text x="139.80" y="373.65" font-size="8.8" text-anchor="start" fill="#111" font-weight="bold" textLength="35.0" lengthAdjust="spacingAndGlyphs">Clamped</text>
<text x="177.20" y="373.65" font-size="8.8" text-anchor="start" fill="#111" font-weight="bold" font-style="italic">t</text>
<line x1="180.80" y1="370.40" x2="187.40" y2="370.40" stroke="#111" stroke-width="0.9"/>
<path d="M 188.4,370.4 L 185.8,368.7 L 185.8,372.09999999999997 Z" fill="#111" stroke="none" stroke-width="1"/>
<text x="189.20" y="373.65" font-size="8.8" text-anchor="start" fill="#111" font-weight="bold" font-style="italic">o</text>
<text x="139.80" y="384.55" font-size="8.8" text-anchor="start" fill="#111" font-weight="bold" font-style="italic">t</text>
<line x1="143.40" y1="381.30" x2="150.00" y2="381.30" stroke="#111" stroke-width="0.9"/>
<path d="M 151.0,381.29999999999995 L 148.4,379.59999999999997 L 148.4,382.99999999999994 Z" fill="#111" stroke="none" stroke-width="1"/>
<text x="151.80" y="384.55" font-size="8.8" text-anchor="start" fill="#111" font-weight="bold" font-style="italic">o</text>
<rect x="30.70" y="363.30" width="171.80" height="139.00" fill="none" stroke="#8a8a8a" stroke-width="1"/>
<line x1="30.70" y1="488.58" x2="32.90" y2="488.58" stroke="#8a8a8a" stroke-width="1"/>
<text x="27.50" y="491.73" font-size="8.8" text-anchor="end" fill="#1a1a1a">-80</text>
<line x1="30.70" y1="474.64" x2="32.90" y2="474.64" stroke="#8a8a8a" stroke-width="1"/>
<text x="27.50" y="477.79" font-size="8.8" text-anchor="end" fill="#1a1a1a">-40</text>
<line x1="30.70" y1="460.70" x2="32.90" y2="460.70" stroke="#8a8a8a" stroke-width="1"/>
<text x="27.50" y="463.85" font-size="8.8" text-anchor="end" fill="#1a1a1a">0</text>
<line x1="30.70" y1="446.76" x2="32.90" y2="446.76" stroke="#8a8a8a" stroke-width="1"/>
<text x="27.50" y="449.91" font-size="8.8" text-anchor="end" fill="#1a1a1a">40</text>
<line x1="30.70" y1="432.82" x2="32.90" y2="432.82" stroke="#8a8a8a" stroke-width="1"/>
<text x="27.50" y="435.97" font-size="8.8" text-anchor="end" fill="#1a1a1a">80</text>
<line x1="30.70" y1="418.88" x2="32.90" y2="418.88" stroke="#8a8a8a" stroke-width="1"/>
<text x="27.50" y="422.03" font-size="8.8" text-anchor="end" fill="#1a1a1a">120</text>
<line x1="30.70" y1="404.94" x2="32.90" y2="404.94" stroke="#8a8a8a" stroke-width="1"/>
<text x="27.50" y="408.09" font-size="8.8" text-anchor="end" fill="#1a1a1a">160</text>
<line x1="30.70" y1="391.00" x2="32.90" y2="391.00" stroke="#8a8a8a" stroke-width="1"/>
<text x="27.50" y="394.15" font-size="8.8" text-anchor="end" fill="#1a1a1a">200</text>
<line x1="30.70" y1="377.06" x2="32.90" y2="377.06" stroke="#8a8a8a" stroke-width="1"/>
<text x="27.50" y="380.21" font-size="8.8" text-anchor="end" fill="#1a1a1a">240</text>
<line x1="30.70" y1="495.55" x2="32.00" y2="495.55" stroke="#8a8a8a" stroke-width="1"/>
<line x1="30.70" y1="481.61" x2="32.00" y2="481.61" stroke="#8a8a8a" stroke-width="1"/>
<line x1="30.70" y1="467.67" x2="32.00" y2="467.67" stroke="#8a8a8a" stroke-width="1"/>
<line x1="30.70" y1="453.73" x2="32.00" y2="453.73" stroke="#8a8a8a" stroke-width="1"/>
<line x1="30.70" y1="439.79" x2="32.00" y2="439.79" stroke="#8a8a8a" stroke-width="1"/>
<line x1="30.70" y1="425.85" x2="32.00" y2="425.85" stroke="#8a8a8a" stroke-width="1"/>
<line x1="30.70" y1="411.91" x2="32.00" y2="411.91" stroke="#8a8a8a" stroke-width="1"/>
<line x1="30.70" y1="397.97" x2="32.00" y2="397.97" stroke="#8a8a8a" stroke-width="1"/>
<line x1="30.70" y1="384.03" x2="32.00" y2="384.03" stroke="#8a8a8a" stroke-width="1"/>
<line x1="30.70" y1="370.09" x2="32.00" y2="370.09" stroke="#8a8a8a" stroke-width="1"/>
<text x="115.70" y="513.60" font-size="9.45" text-anchor="middle" fill="#1a1a1a">Phase Space Coordinates</text>
<text x="11.60" y="429.60" font-size="9.65" text-anchor="middle" fill="#1a1a1a" transform="rotate(-90 11.60 429.60)"><tspan font-style="italic">E</tspan> (meV/f.u.)</text>
<text x="229.00" y="359.00" font-size="14" text-anchor="start" fill="#000" font-weight="bold">h</text>
<line x1="251.00" y1="363.00" x2="251.00" y2="487.60" stroke="#555" stroke-width="0.5"/>
<line x1="276.00" y1="363.00" x2="276.00" y2="487.60" stroke="#555" stroke-width="0.5"/>
<line x1="251.00" y1="363.00" x2="276.00" y2="363.00" stroke="#666" stroke-width="0.5"/>
<line x1="251.00" y1="487.60" x2="276.00" y2="487.60" stroke="#666" stroke-width="0.5"/>
<path d="M 251.91,366.12 L 254.27,370.09 L 249.56,370.09 Z" fill="#e3221c"/>
<line x1="251.91" y1="368.60" x2="251.10" y2="363.00" stroke="#e3221c" stroke-width="0.9"/>
<line x1="251.91" y1="368.60" x2="253.80" y2="373.60" stroke="#e3221c" stroke-width="0.9"/>
<path d="M 257.65,371.35 L 260.10,367.22 L 255.19,367.22 Z" fill="#e3221c"/>
<line x1="257.65" y1="368.77" x2="262.40" y2="363.00" stroke="#e3221c" stroke-width="0.9"/>
<line x1="257.65" y1="368.77" x2="253.80" y2="373.60" stroke="#e3221c" stroke-width="0.9"/>
<path d="M 263.71,365.78 L 265.70,369.14 L 261.71,369.14 Z" fill="#e3221c"/>
<line x1="263.71" y1="367.88" x2="262.40" y2="363.00" stroke="#e3221c" stroke-width="0.9"/>
<line x1="263.71" y1="367.88" x2="265.00" y2="373.60" stroke="#e3221c" stroke-width="0.9"/>
<path d="M 269.24,365.03 L 271.68,369.16 L 266.79,369.16 Z" fill="#e3221c"/>
<line x1="269.24" y1="367.61" x2="273.20" y2="363.00" stroke="#e3221c" stroke-width="0.9"/>
<line x1="269.24" y1="367.61" x2="265.00" y2="373.60" stroke="#e3221c" stroke-width="0.9"/>
<path d="M 274.12,370.27 L 276.69,365.95 L 271.56,365.95 Z" fill="#e3221c"/>
<line x1="274.12" y1="367.57" x2="273.20" y2="363.00" stroke="#e3221c" stroke-width="0.9"/>
<line x1="274.12" y1="367.57" x2="275.90" y2="373.60" stroke="#e3221c" stroke-width="0.9"/>
<circle cx="252.13" cy="371.04" r="0.90" fill="#e3221c" stroke="none" stroke-width="1"/>
<circle cx="276.58" cy="365.44" r="0.90" fill="#e3221c" stroke="none" stroke-width="1"/>
<path d="M 255.94,375.76 L 258.39,379.89 L 253.48,379.89 Z" fill="#e3221c"/>
<line x1="255.94" y1="378.34" x2="253.80" y2="373.60" stroke="#e3221c" stroke-width="0.9"/>
<line x1="255.94" y1="378.34" x2="257.30" y2="384.40" stroke="#e3221c" stroke-width="0.9"/>
<path d="M 260.61,377.02 L 262.83,380.77 L 258.38,380.77 Z" fill="#e3221c"/>
<line x1="260.61" y1="379.37" x2="265.00" y2="373.60" stroke="#e3221c" stroke-width="0.9"/>
<line x1="260.61" y1="379.37" x2="257.30" y2="384.40" stroke="#e3221c" stroke-width="0.9"/>
<path d="M 266.86,376.36 L 269.33,380.51 L 264.40,380.51 Z" fill="#e3221c"/>
<line x1="266.86" y1="378.95" x2="265.00" y2="373.60" stroke="#e3221c" stroke-width="0.9"/>
<line x1="266.86" y1="378.95" x2="268.20" y2="384.40" stroke="#e3221c" stroke-width="0.9"/>
<path d="M 271.57,381.86 L 274.02,377.73 L 269.11,377.73 Z" fill="#e3221c"/>
<line x1="271.57" y1="379.28" x2="275.90" y2="373.60" stroke="#e3221c" stroke-width="0.9"/>
<line x1="271.57" y1="379.28" x2="268.20" y2="384.40" stroke="#e3221c" stroke-width="0.9"/>
<circle cx="252.35" cy="376.73" r="0.90" fill="#e3221c" stroke="none" stroke-width="1"/>
<circle cx="250.93" cy="378.05" r="0.90" fill="#e3221c" stroke="none" stroke-width="1"/>
<path d="M 253.38,391.83 L 255.55,388.19 L 251.22,388.19 Z" fill="#e3221c"/>
<line x1="253.38" y1="389.56" x2="257.30" y2="384.40" stroke="#e3221c" stroke-width="0.9"/>
<line x1="253.38" y1="389.56" x2="250.60" y2="394.60" stroke="#e3221c" stroke-width="0.9"/>
<path d="M 259.35,386.82 L 261.62,390.64 L 257.08,390.64 Z" fill="#e3221c"/>
<line x1="259.35" y1="389.21" x2="257.30" y2="384.40" stroke="#e3221c" stroke-width="0.9"/>
<line x1="259.35" y1="389.21" x2="261.40" y2="394.60" stroke="#e3221c" stroke-width="0.9"/>
<path d="M 265.33,391.48 L 267.74,387.44 L 262.93,387.44 Z" fill="#e3221c"/>
<line x1="265.33" y1="388.95" x2="268.20" y2="384.40" stroke="#e3221c" stroke-width="0.9"/>
<line x1="265.33" y1="388.95" x2="261.40" y2="394.60" stroke="#e3221c" stroke-width="0.9"/>
<path d="M 269.55,391.27 L 271.89,387.34 L 267.22,387.34 Z" fill="#e3221c"/>
<line x1="269.55" y1="388.81" x2="268.20" y2="384.40" stroke="#e3221c" stroke-width="0.9"/>
<line x1="269.55" y1="388.81" x2="272.50" y2="394.60" stroke="#e3221c" stroke-width="0.9"/>
<circle cx="251.21" cy="387.58" r="0.90" fill="#e3221c" stroke="none" stroke-width="1"/>
<circle cx="275.54" cy="388.58" r="0.90" fill="#e3221c" stroke="none" stroke-width="1"/>
<path d="M 252.76,397.18 L 254.81,400.64 L 250.70,400.64 Z" fill="#e3221c"/>
<line x1="252.76" y1="399.34" x2="250.60" y2="394.60" stroke="#e3221c" stroke-width="0.9"/>
<line x1="252.76" y1="399.34" x2="254.60" y2="404.70" stroke="#e3221c" stroke-width="0.9"/>
<path d="M 258.50,402.42 L 260.71,398.70 L 256.29,398.70 Z" fill="#e3221c"/>
<line x1="258.50" y1="400.09" x2="261.40" y2="394.60" stroke="#e3221c" stroke-width="0.9"/>
<line x1="258.50" y1="400.09" x2="254.60" y2="404.70" stroke="#e3221c" stroke-width="0.9"/>
<path d="M 263.73,397.61 L 266.27,401.89 L 261.19,401.89 Z" fill="#e3221c"/>
<line x1="263.73" y1="400.29" x2="261.40" y2="394.60" stroke="#e3221c" stroke-width="0.9"/>
<line x1="263.73" y1="400.29" x2="265.50" y2="404.70" stroke="#e3221c" stroke-width="0.9"/>
<path d="M 269.78,402.84 L 272.11,398.92 L 267.45,398.92 Z" fill="#e3221c"/>
<line x1="269.78" y1="400.39" x2="272.50" y2="394.60" stroke="#e3221c" stroke-width="0.9"/>
<line x1="269.78" y1="400.39" x2="265.50" y2="404.70" stroke="#e3221c" stroke-width="0.9"/>
<path d="M 274.39,401.70 L 276.52,398.10 L 272.25,398.10 Z" fill="#e3221c"/>
<line x1="274.39" y1="399.45" x2="272.50" y2="394.60" stroke="#e3221c" stroke-width="0.9"/>
<line x1="274.39" y1="399.45" x2="276.30" y2="404.70" stroke="#e3221c" stroke-width="0.9"/>
<circle cx="274.71" cy="401.29" r="0.90" fill="#e3221c" stroke="none" stroke-width="1"/>
<circle cx="250.95" cy="401.77" r="0.90" fill="#e3221c" stroke="none" stroke-width="1"/>
<path d="M 256.70,407.01 L 258.84,410.61 L 254.57,410.61 Z" fill="#e3221c"/>
<line x1="256.70" y1="409.26" x2="254.60" y2="404.70" stroke="#e3221c" stroke-width="0.9"/>
<line x1="256.70" y1="409.26" x2="258.30" y2="415.30" stroke="#e3221c" stroke-width="0.9"/>
<path d="M 262.49,408.05 L 264.57,411.55 L 260.41,411.55 Z" fill="#e3221c"/>
<line x1="262.49" y1="410.23" x2="265.50" y2="404.70" stroke="#e3221c" stroke-width="0.9"/>
<line x1="262.49" y1="410.23" x2="258.30" y2="415.30" stroke="#e3221c" stroke-width="0.9"/>
<path d="M 267.67,411.46 L 269.74,407.97 L 265.59,407.97 Z" fill="#e3221c"/>
<line x1="267.67" y1="409.28" x2="265.50" y2="404.70" stroke="#e3221c" stroke-width="0.9"/>
<line x1="267.67" y1="409.28" x2="269.10" y2="415.30" stroke="#e3221c" stroke-width="0.9"/>
<path d="M 273.36,412.64 L 275.90,408.36 L 270.82,408.36 Z" fill="#e3221c"/>
<line x1="273.36" y1="409.97" x2="276.30" y2="404.70" stroke="#e3221c" stroke-width="0.9"/>
<line x1="273.36" y1="409.97" x2="269.10" y2="415.30" stroke="#e3221c" stroke-width="0.9"/>
<circle cx="274.96" cy="410.61" r="0.90" fill="#e3221c" stroke="none" stroke-width="1"/>
<circle cx="276.24" cy="408.85" r="0.90" fill="#e3221c" stroke="none" stroke-width="1"/>
<path d="M 255.20,417.58 L 257.64,421.68 L 252.77,421.68 Z" fill="#e3221c"/>
<line x1="255.20" y1="420.14" x2="258.30" y2="415.30" stroke="#e3221c" stroke-width="0.9"/>
<line x1="255.20" y1="420.14" x2="252.00" y2="425.70" stroke="#e3221c" stroke-width="0.9"/>
<path d="M 261.10,423.34 L 263.10,419.96 L 259.09,419.96 Z" fill="#e3221c"/>
<line x1="261.10" y1="421.23" x2="258.30" y2="415.30" stroke="#e3221c" stroke-width="0.9"/>
<line x1="261.10" y1="421.23" x2="263.30" y2="425.70" stroke="#e3221c" stroke-width="0.9"/>
<path d="M 266.43,418.61 L 268.76,422.53 L 264.10,422.53 Z" fill="#e3221c"/>
<line x1="266.43" y1="421.06" x2="269.10" y2="415.30" stroke="#e3221c" stroke-width="0.9"/>
<line x1="266.43" y1="421.06" x2="263.30" y2="425.70" stroke="#e3221c" stroke-width="0.9"/>
<path d="M 271.70,418.59 L 274.21,422.82 L 269.19,422.82 Z" fill="#e3221c"/>
<line x1="271.70" y1="421.23" x2="269.10" y2="415.30" stroke="#e3221c" stroke-width="0.9"/>
<line x1="271.70" y1="421.23" x2="274.60" y2="425.70" stroke="#e3221c" stroke-width="0.9"/>
<circle cx="249.78" cy="421.35" r="0.90" fill="#e3221c" stroke="none" stroke-width="1"/>
<circle cx="251.86" cy="421.43" r="0.90" fill="#e3221c" stroke="none" stroke-width="1"/>
<path d="M 253.65,428.52 L 255.83,432.19 L 251.47,432.19 Z" fill="#e3221c"/>
<line x1="253.65" y1="430.81" x2="252.00" y2="425.70" stroke="#e3221c" stroke-width="0.9"/>
<line x1="253.65" y1="430.81" x2="256.50" y2="435.80" stroke="#e3221c" stroke-width="0.9"/>
<path d="M 259.45,428.01 L 261.55,431.54 L 257.35,431.54 Z" fill="#e3221c"/>
<line x1="259.45" y1="430.22" x2="263.30" y2="425.70" stroke="#e3221c" stroke-width="0.9"/>
<line x1="259.45" y1="430.22" x2="256.50" y2="435.80" stroke="#e3221c" stroke-width="0.9"/>
<path d="M 266.09,432.96 L 268.11,429.55 L 264.06,429.55 Z" fill="#e3221c"/>
<line x1="266.09" y1="430.83" x2="263.30" y2="425.70" stroke="#e3221c" stroke-width="0.9"/>
<line x1="266.09" y1="430.83" x2="268.20" y2="435.80" stroke="#e3221c" stroke-width="0.9"/>
<path d="M 272.00,428.61 L 274.44,432.73 L 269.55,432.73 Z" fill="#e3221c"/>
<line x1="272.00" y1="431.19" x2="274.60" y2="425.70" stroke="#e3221c" stroke-width="0.9"/>
<line x1="272.00" y1="431.19" x2="268.20" y2="435.80" stroke="#e3221c" stroke-width="0.9"/>
<path d="M 276.69,427.49 L 279.12,431.59 L 274.26,431.59 Z" fill="#e3221c"/>
<line x1="276.69" y1="430.05" x2="274.60" y2="425.70" stroke="#e3221c" stroke-width="0.9"/>
<line x1="276.69" y1="430.05" x2="278.90" y2="435.80" stroke="#e3221c" stroke-width="0.9"/>
<circle cx="275.26" cy="432.22" r="0.90" fill="#e3221c" stroke="none" stroke-width="1"/>
<circle cx="274.97" cy="432.66" r="0.90" fill="#e3221c" stroke="none" stroke-width="1"/>
<path d="M 254.13,443.53 L 256.46,439.62 L 251.81,439.62 Z" fill="#e3221c"/>
<line x1="254.13" y1="441.08" x2="256.50" y2="435.80" stroke="#e3221c" stroke-width="0.9"/>
<line x1="254.13" y1="441.08" x2="250.80" y2="446.40" stroke="#e3221c" stroke-width="0.9"/>
<path d="M 258.05,443.55 L 260.23,439.88 L 255.87,439.88 Z" fill="#e3221c"/>
<line x1="258.05" y1="441.25" x2="256.50" y2="435.80" stroke="#e3221c" stroke-width="0.9"/>
<line x1="258.05" y1="441.25" x2="261.00" y2="446.40" stroke="#e3221c" stroke-width="0.9"/>
<path d="M 264.27,438.74 L 266.69,442.83 L 261.84,442.83 Z" fill="#e3221c"/>
<line x1="264.27" y1="441.30" x2="268.20" y2="435.80" stroke="#e3221c" stroke-width="0.9"/>
<line x1="264.27" y1="441.30" x2="261.00" y2="446.40" stroke="#e3221c" stroke-width="0.9"/>
<path d="M 270.54,438.60 L 272.65,442.15 L 268.43,442.15 Z" fill="#e3221c"/>
<line x1="270.54" y1="440.82" x2="268.20" y2="435.80" stroke="#e3221c" stroke-width="0.9"/>
<line x1="270.54" y1="440.82" x2="272.50" y2="446.40" stroke="#e3221c" stroke-width="0.9"/>
<path d="M 275.95,443.59 L 278.44,439.40 L 273.46,439.40 Z" fill="#e3221c"/>
<line x1="275.95" y1="440.97" x2="278.90" y2="435.80" stroke="#e3221c" stroke-width="0.9"/>
<line x1="275.95" y1="440.97" x2="272.50" y2="446.40" stroke="#e3221c" stroke-width="0.9"/>
<circle cx="276.92" cy="441.13" r="0.90" fill="#e3221c" stroke="none" stroke-width="1"/>
<circle cx="276.54" cy="440.93" r="0.90" fill="#e3221c" stroke="none" stroke-width="1"/>
<path d="M 252.52,450.06 L 254.56,453.49 L 250.49,453.49 Z" fill="#e3221c"/>
<line x1="252.52" y1="452.20" x2="250.80" y2="446.40" stroke="#e3221c" stroke-width="0.9"/>
<line x1="252.52" y1="452.20" x2="254.20" y2="456.80" stroke="#e3221c" stroke-width="0.9"/>
<path d="M 257.86,453.13 L 260.01,449.51 L 255.71,449.51 Z" fill="#e3221c"/>
<line x1="257.86" y1="450.87" x2="261.00" y2="446.40" stroke="#e3221c" stroke-width="0.9"/>
<line x1="257.86" y1="450.87" x2="254.20" y2="456.80" stroke="#e3221c" stroke-width="0.9"/>
<path d="M 263.10,448.90 L 265.55,453.03 L 260.65,453.03 Z" fill="#e3221c"/>
<line x1="263.10" y1="451.48" x2="261.00" y2="446.40" stroke="#e3221c" stroke-width="0.9"/>
<line x1="263.10" y1="451.48" x2="265.50" y2="456.80" stroke="#e3221c" stroke-width="0.9"/>
<path d="M 268.72,453.81 L 271.24,449.58 L 266.21,449.58 Z" fill="#e3221c"/>
<line x1="268.72" y1="451.16" x2="272.50" y2="446.40" stroke="#e3221c" stroke-width="0.9"/>
<line x1="268.72" y1="451.16" x2="265.50" y2="456.80" stroke="#e3221c" stroke-width="0.9"/>
<path d="M 273.46,453.40 L 275.67,449.68 L 271.25,449.68 Z" fill="#e3221c"/>
<line x1="273.46" y1="451.08" x2="272.50" y2="446.40" stroke="#e3221c" stroke-width="0.9"/>
<line x1="273.46" y1="451.08" x2="275.90" y2="456.80" stroke="#e3221c" stroke-width="0.9"/>
<circle cx="275.85" cy="450.07" r="0.90" fill="#e3221c" stroke="none" stroke-width="1"/>
<circle cx="275.66" cy="453.55" r="0.90" fill="#e3221c" stroke="none" stroke-width="1"/>
<path d="M 256.79,460.73 L 258.79,464.10 L 254.79,464.10 Z" fill="#e3221c"/>
<line x1="256.79" y1="462.83" x2="254.20" y2="456.80" stroke="#e3221c" stroke-width="0.9"/>
<line x1="256.79" y1="462.83" x2="257.90" y2="467.30" stroke="#e3221c" stroke-width="0.9"/>
<path d="M 261.40,464.06 L 263.48,460.56 L 259.32,460.56 Z" fill="#e3221c"/>
<line x1="261.40" y1="461.88" x2="265.50" y2="456.80" stroke="#e3221c" stroke-width="0.9"/>
<line x1="261.40" y1="461.88" x2="257.90" y2="467.30" stroke="#e3221c" stroke-width="0.9"/>
<path d="M 266.63,464.40 L 269.16,460.13 L 264.09,460.13 Z" fill="#e3221c"/>
<line x1="266.63" y1="461.73" x2="265.50" y2="456.80" stroke="#e3221c" stroke-width="0.9"/>
<line x1="266.63" y1="461.73" x2="269.10" y2="467.30" stroke="#e3221c" stroke-width="0.9"/>
<path d="M 272.44,464.10 L 274.98,459.82 L 269.90,459.82 Z" fill="#e3221c"/>
<line x1="272.44" y1="461.42" x2="275.90" y2="456.80" stroke="#e3221c" stroke-width="0.9"/>
<line x1="272.44" y1="461.42" x2="269.10" y2="467.30" stroke="#e3221c" stroke-width="0.9"/>
<circle cx="250.12" cy="460.62" r="0.90" fill="#e3221c" stroke="none" stroke-width="1"/>
<circle cx="275.47" cy="464.72" r="0.90" fill="#e3221c" stroke="none" stroke-width="1"/>
<path d="M 255.65,470.49 L 257.93,474.33 L 253.36,474.33 Z" fill="#e3221c"/>
<line x1="255.65" y1="472.89" x2="257.90" y2="467.30" stroke="#e3221c" stroke-width="0.9"/>
<line x1="255.65" y1="472.89" x2="251.90" y2="477.20" stroke="#e3221c" stroke-width="0.9"/>
<path d="M 260.45,470.40 L 262.54,473.91 L 258.37,473.91 Z" fill="#e3221c"/>
<line x1="260.45" y1="472.60" x2="257.90" y2="467.30" stroke="#e3221c" stroke-width="0.9"/>
<line x1="260.45" y1="472.60" x2="262.40" y2="477.20" stroke="#e3221c" stroke-width="0.9"/>
<path d="M 265.59,474.69 L 267.97,470.69 L 263.22,470.69 Z" fill="#e3221c"/>
<line x1="265.59" y1="472.19" x2="269.10" y2="467.30" stroke="#e3221c" stroke-width="0.9"/>
<line x1="265.59" y1="472.19" x2="262.40" y2="477.20" stroke="#e3221c" stroke-width="0.9"/>
<path d="M 271.77,474.60 L 273.82,471.15 L 269.72,471.15 Z" fill="#e3221c"/>
<line x1="271.77" y1="472.44" x2="269.10" y2="467.30" stroke="#e3221c" stroke-width="0.9"/>
<line x1="271.77" y1="472.44" x2="273.90" y2="477.20" stroke="#e3221c" stroke-width="0.9"/>
<circle cx="275.55" cy="469.36" r="0.90" fill="#e3221c" stroke="none" stroke-width="1"/>
<circle cx="274.62" cy="473.45" r="0.90" fill="#e3221c" stroke="none" stroke-width="1"/>
<path d="M 252.43,479.19 L 254.74,483.07 L 250.13,483.07 Z" fill="#e3221c"/>
<line x1="252.43" y1="481.61" x2="251.90" y2="477.20" stroke="#e3221c" stroke-width="0.9"/>
<line x1="252.43" y1="481.61" x2="253.80" y2="487.60" stroke="#e3221c" stroke-width="0.9"/>
<path d="M 257.79,479.69 L 260.30,483.91 L 255.29,483.91 Z" fill="#e3221c"/>
<line x1="257.79" y1="482.33" x2="262.40" y2="477.20" stroke="#e3221c" stroke-width="0.9"/>
<line x1="257.79" y1="482.33" x2="253.80" y2="487.60" stroke="#e3221c" stroke-width="0.9"/>
<path d="M 263.12,485.46 L 265.58,481.31 L 260.65,481.31 Z" fill="#e3221c"/>
<line x1="263.12" y1="482.87" x2="262.40" y2="477.20" stroke="#e3221c" stroke-width="0.9"/>
<line x1="263.12" y1="482.87" x2="265.00" y2="487.60" stroke="#e3221c" stroke-width="0.9"/>
<path d="M 268.73,484.24 L 270.95,480.50 L 266.50,480.50 Z" fill="#e3221c"/>
<line x1="268.73" y1="481.90" x2="273.90" y2="477.20" stroke="#e3221c" stroke-width="0.9"/>
<line x1="268.73" y1="481.90" x2="265.00" y2="487.60" stroke="#e3221c" stroke-width="0.9"/>
<path d="M 274.46,485.49 L 276.94,481.32 L 271.98,481.32 Z" fill="#e3221c"/>
<line x1="274.46" y1="482.88" x2="273.90" y2="477.20" stroke="#e3221c" stroke-width="0.9"/>
<line x1="274.46" y1="482.88" x2="275.90" y2="487.60" stroke="#e3221c" stroke-width="0.9"/>
<circle cx="252.15" cy="479.88" r="0.90" fill="#e3221c" stroke="none" stroke-width="1"/>
<circle cx="252.20" cy="480.31" r="0.90" fill="#e3221c" stroke="none" stroke-width="1"/>
<path d="M 256.75,367.14 L 258.39,364.36 L 255.10,364.36 Z" fill="#e3221c"/>
<path d="M 267.54,363.82 L 269.04,366.35 L 266.04,366.35 Z" fill="#e3221c"/>
<path d="M 259.62,369.25 L 261.47,372.37 L 257.78,372.37 Z" fill="#e3221c"/>
<path d="M 269.76,369.36 L 271.51,372.30 L 268.01,372.30 Z" fill="#e3221c"/>
<path d="M 262.38,383.58 L 263.88,381.05 L 260.88,381.05 Z" fill="#e3221c"/>
<path d="M 255.64,395.42 L 257.14,397.95 L 254.14,397.95 Z" fill="#e3221c"/>
<path d="M 267.64,398.70 L 269.26,395.98 L 266.02,395.98 Z" fill="#e3221c"/>
<path d="M 260.41,408.64 L 261.88,406.18 L 258.95,406.18 Z" fill="#e3221c"/>
<path d="M 270.44,404.16 L 272.21,401.18 L 268.67,401.18 Z" fill="#e3221c"/>
<path d="M 263.91,411.39 L 265.35,413.81 L 262.48,413.81 Z" fill="#e3221c"/>
<path d="M 257.62,430.00 L 259.42,426.96 L 255.81,426.96 Z" fill="#e3221c"/>
<path d="M 269.24,425.14 L 270.99,422.20 L 267.49,422.20 Z" fill="#e3221c"/>
<path d="M 262.54,431.41 L 264.42,434.59 L 260.65,434.59 Z" fill="#e3221c"/>
<path d="M 274.26,436.69 L 275.69,439.10 L 272.83,439.10 Z" fill="#e3221c"/>
<path d="M 256.08,445.88 L 257.87,442.87 L 254.30,442.87 Z" fill="#e3221c"/>
<path d="M 266.21,450.40 L 267.73,447.84 L 264.69,447.84 Z" fill="#e3221c"/>
<path d="M 259.94,461.07 L 261.71,458.08 L 258.16,458.08 Z" fill="#e3221c"/>
<path d="M 270.48,456.02 L 272.02,453.43 L 268.94,453.43 Z" fill="#e3221c"/>
<path d="M 263.26,471.49 L 264.96,468.63 L 261.57,468.63 Z" fill="#e3221c"/>
<path d="M 257.81,476.79 L 259.70,473.60 L 255.92,473.60 Z" fill="#e3221c"/>
<path d="M 268.54,476.76 L 270.40,473.62 L 266.67,473.62 Z" fill="#e3221c"/>
<path d="M 260.03,488.44 L 261.52,490.94 L 258.55,490.94 Z" fill="#e3221c"/>
<path d="M 270.33,491.89 L 272.12,488.87 L 268.54,488.87 Z" fill="#e3221c"/>
<line x1="251.00" y1="363.00" x2="251.00" y2="487.60" stroke="#666" stroke-width="0.55"/>
<line x1="276.00" y1="363.00" x2="276.00" y2="487.60" stroke="#666" stroke-width="0.55"/>
<circle cx="251.10" cy="363.00" r="2.30" fill="#3f7fb8" stroke="#1f4f7a" stroke-width="0.5"/>
<circle cx="250.50" cy="362.40" r="0.70" fill="#ffffff" stroke="none" stroke-width="1" fill-opacity="0.55"/>
<circle cx="262.40" cy="363.00" r="2.30" fill="#3f7fb8" stroke="#1f4f7a" stroke-width="0.5"/>
<circle cx="261.80" cy="362.40" r="0.70" fill="#ffffff" stroke="none" stroke-width="1" fill-opacity="0.55"/>
<circle cx="273.20" cy="363.00" r="2.30" fill="#3f7fb8" stroke="#1f4f7a" stroke-width="0.5"/>
<circle cx="272.60" cy="362.40" r="0.70" fill="#ffffff" stroke="none" stroke-width="1" fill-opacity="0.55"/>
<circle cx="253.80" cy="373.60" r="2.30" fill="#9c5fd6" stroke="#5b2f8f" stroke-width="0.5"/>
<circle cx="253.20" cy="373.00" r="0.70" fill="#ffffff" stroke="none" stroke-width="1" fill-opacity="0.55"/>
<circle cx="265.00" cy="373.60" r="2.30" fill="#9c5fd6" stroke="#5b2f8f" stroke-width="0.5"/>
<circle cx="264.40" cy="373.00" r="0.70" fill="#ffffff" stroke="none" stroke-width="1" fill-opacity="0.55"/>
<circle cx="275.90" cy="373.60" r="2.30" fill="#9c5fd6" stroke="#5b2f8f" stroke-width="0.5"/>
<circle cx="275.30" cy="373.00" r="0.70" fill="#ffffff" stroke="none" stroke-width="1" fill-opacity="0.55"/>
<circle cx="257.30" cy="384.40" r="2.30" fill="#9c5fd6" stroke="#5b2f8f" stroke-width="0.5"/>
<circle cx="256.70" cy="383.80" r="0.70" fill="#ffffff" stroke="none" stroke-width="1" fill-opacity="0.55"/>
<circle cx="268.20" cy="384.40" r="2.30" fill="#9c5fd6" stroke="#5b2f8f" stroke-width="0.5"/>
<circle cx="267.60" cy="383.80" r="0.70" fill="#ffffff" stroke="none" stroke-width="1" fill-opacity="0.55"/>
<circle cx="250.60" cy="394.60" r="2.30" fill="#9c5fd6" stroke="#5b2f8f" stroke-width="0.5"/>
<circle cx="250.00" cy="394.00" r="0.70" fill="#ffffff" stroke="none" stroke-width="1" fill-opacity="0.55"/>
<circle cx="261.40" cy="394.60" r="2.30" fill="#9c5fd6" stroke="#5b2f8f" stroke-width="0.5"/>
<circle cx="260.80" cy="394.00" r="0.70" fill="#ffffff" stroke="none" stroke-width="1" fill-opacity="0.55"/>
<circle cx="272.50" cy="394.60" r="2.30" fill="#9c5fd6" stroke="#5b2f8f" stroke-width="0.5"/>
<circle cx="271.90" cy="394.00" r="0.70" fill="#ffffff" stroke="none" stroke-width="1" fill-opacity="0.55"/>
<circle cx="254.60" cy="404.70" r="2.30" fill="#9c5fd6" stroke="#5b2f8f" stroke-width="0.5"/>
<circle cx="254.00" cy="404.10" r="0.70" fill="#ffffff" stroke="none" stroke-width="1" fill-opacity="0.55"/>
<circle cx="265.50" cy="404.70" r="2.30" fill="#9c5fd6" stroke="#5b2f8f" stroke-width="0.5"/>
<circle cx="264.90" cy="404.10" r="0.70" fill="#ffffff" stroke="none" stroke-width="1" fill-opacity="0.55"/>
<circle cx="276.30" cy="404.70" r="2.30" fill="#9c5fd6" stroke="#5b2f8f" stroke-width="0.5"/>
<circle cx="275.70" cy="404.10" r="0.70" fill="#ffffff" stroke="none" stroke-width="1" fill-opacity="0.55"/>
<circle cx="258.30" cy="415.30" r="2.30" fill="#9c5fd6" stroke="#5b2f8f" stroke-width="0.5"/>
<circle cx="257.70" cy="414.70" r="0.70" fill="#ffffff" stroke="none" stroke-width="1" fill-opacity="0.55"/>
<circle cx="269.10" cy="415.30" r="2.30" fill="#9c5fd6" stroke="#5b2f8f" stroke-width="0.5"/>
<circle cx="268.50" cy="414.70" r="0.70" fill="#ffffff" stroke="none" stroke-width="1" fill-opacity="0.55"/>
<circle cx="252.00" cy="425.70" r="2.30" fill="#9c5fd6" stroke="#5b2f8f" stroke-width="0.5"/>
<circle cx="251.40" cy="425.10" r="0.70" fill="#ffffff" stroke="none" stroke-width="1" fill-opacity="0.55"/>
<circle cx="263.30" cy="425.70" r="2.30" fill="#9c5fd6" stroke="#5b2f8f" stroke-width="0.5"/>
<circle cx="262.70" cy="425.10" r="0.70" fill="#ffffff" stroke="none" stroke-width="1" fill-opacity="0.55"/>
<circle cx="274.60" cy="425.70" r="2.30" fill="#9c5fd6" stroke="#5b2f8f" stroke-width="0.5"/>
<circle cx="274.00" cy="425.10" r="0.70" fill="#ffffff" stroke="none" stroke-width="1" fill-opacity="0.55"/>
<circle cx="256.50" cy="435.80" r="2.30" fill="#3f7fb8" stroke="#1f4f7a" stroke-width="0.5"/>
<circle cx="255.90" cy="435.20" r="0.70" fill="#ffffff" stroke="none" stroke-width="1" fill-opacity="0.55"/>
<circle cx="268.20" cy="435.80" r="2.30" fill="#3f7fb8" stroke="#1f4f7a" stroke-width="0.5"/>
<circle cx="267.60" cy="435.20" r="0.70" fill="#ffffff" stroke="none" stroke-width="1" fill-opacity="0.55"/>
<circle cx="278.90" cy="435.80" r="2.30" fill="#3f7fb8" stroke="#1f4f7a" stroke-width="0.5"/>
<circle cx="278.30" cy="435.20" r="0.70" fill="#ffffff" stroke="none" stroke-width="1" fill-opacity="0.55"/>
<circle cx="250.80" cy="446.40" r="2.30" fill="#3f7fb8" stroke="#1f4f7a" stroke-width="0.5"/>
<circle cx="250.20" cy="445.80" r="0.70" fill="#ffffff" stroke="none" stroke-width="1" fill-opacity="0.55"/>
<circle cx="261.00" cy="446.40" r="2.30" fill="#3f7fb8" stroke="#1f4f7a" stroke-width="0.5"/>
<circle cx="260.40" cy="445.80" r="0.70" fill="#ffffff" stroke="none" stroke-width="1" fill-opacity="0.55"/>
<circle cx="272.50" cy="446.40" r="2.30" fill="#3f7fb8" stroke="#1f4f7a" stroke-width="0.5"/>
<circle cx="271.90" cy="445.80" r="0.70" fill="#ffffff" stroke="none" stroke-width="1" fill-opacity="0.55"/>
<circle cx="254.20" cy="456.80" r="2.30" fill="#3f7fb8" stroke="#1f4f7a" stroke-width="0.5"/>
<circle cx="253.60" cy="456.20" r="0.70" fill="#ffffff" stroke="none" stroke-width="1" fill-opacity="0.55"/>
<circle cx="265.50" cy="456.80" r="2.30" fill="#3f7fb8" stroke="#1f4f7a" stroke-width="0.5"/>
<circle cx="264.90" cy="456.20" r="0.70" fill="#ffffff" stroke="none" stroke-width="1" fill-opacity="0.55"/>
<circle cx="275.90" cy="456.80" r="2.30" fill="#3f7fb8" stroke="#1f4f7a" stroke-width="0.5"/>
<circle cx="275.30" cy="456.20" r="0.70" fill="#ffffff" stroke="none" stroke-width="1" fill-opacity="0.55"/>
<circle cx="257.90" cy="467.30" r="2.30" fill="#3f7fb8" stroke="#1f4f7a" stroke-width="0.5"/>
<circle cx="257.30" cy="466.70" r="0.70" fill="#ffffff" stroke="none" stroke-width="1" fill-opacity="0.55"/>
<circle cx="269.10" cy="467.30" r="2.30" fill="#3f7fb8" stroke="#1f4f7a" stroke-width="0.5"/>
<circle cx="268.50" cy="466.70" r="0.70" fill="#ffffff" stroke="none" stroke-width="1" fill-opacity="0.55"/>
<circle cx="251.90" cy="477.20" r="2.30" fill="#3f7fb8" stroke="#1f4f7a" stroke-width="0.5"/>
<circle cx="251.30" cy="476.60" r="0.70" fill="#ffffff" stroke="none" stroke-width="1" fill-opacity="0.55"/>
<circle cx="262.40" cy="477.20" r="2.30" fill="#3f7fb8" stroke="#1f4f7a" stroke-width="0.5"/>
<circle cx="261.80" cy="476.60" r="0.70" fill="#ffffff" stroke="none" stroke-width="1" fill-opacity="0.55"/>
<circle cx="273.90" cy="477.20" r="2.30" fill="#3f7fb8" stroke="#1f4f7a" stroke-width="0.5"/>
<circle cx="273.30" cy="476.60" r="0.70" fill="#ffffff" stroke="none" stroke-width="1" fill-opacity="0.55"/>
<circle cx="253.80" cy="487.60" r="2.30" fill="#3f7fb8" stroke="#1f4f7a" stroke-width="0.5"/>
<circle cx="253.20" cy="487.00" r="0.70" fill="#ffffff" stroke="none" stroke-width="1" fill-opacity="0.55"/>
<circle cx="265.00" cy="487.60" r="2.30" fill="#3f7fb8" stroke="#1f4f7a" stroke-width="0.5"/>
<circle cx="264.40" cy="487.00" r="0.70" fill="#ffffff" stroke="none" stroke-width="1" fill-opacity="0.55"/>
<circle cx="275.90" cy="487.60" r="2.30" fill="#3f7fb8" stroke="#1f4f7a" stroke-width="0.5"/>
<circle cx="275.30" cy="487.00" r="0.70" fill="#ffffff" stroke="none" stroke-width="1" fill-opacity="0.55"/>
<line x1="350.00" y1="361.50" x2="350.00" y2="487.80" stroke="#555" stroke-width="0.5"/>
<line x1="372.50" y1="361.50" x2="372.50" y2="487.80" stroke="#555" stroke-width="0.5"/>
<line x1="350.00" y1="361.50" x2="372.50" y2="361.50" stroke="#666" stroke-width="0.5"/>
<line x1="350.00" y1="487.80" x2="372.50" y2="487.80" stroke="#666" stroke-width="0.5"/>
<path d="M 351.36,364.52 L 353.82,368.67 L 348.90,368.67 Z" fill="#e3221c"/>
<line x1="351.36" y1="367.11" x2="349.20" y2="361.50" stroke="#e3221c" stroke-width="0.9"/>
<line x1="351.36" y1="367.11" x2="353.30" y2="372.30" stroke="#e3221c" stroke-width="0.9"/>
<path d="M 357.39,364.88 L 359.91,369.11 L 354.88,369.11 Z" fill="#e3221c"/>
<line x1="357.39" y1="367.53" x2="361.00" y2="361.50" stroke="#e3221c" stroke-width="0.9"/>
<line x1="357.39" y1="367.53" x2="353.30" y2="372.30" stroke="#e3221c" stroke-width="0.9"/>
<path d="M 362.79,369.49 L 365.07,365.65 L 360.51,365.65 Z" fill="#e3221c"/>
<line x1="362.79" y1="367.09" x2="361.00" y2="361.50" stroke="#e3221c" stroke-width="0.9"/>
<line x1="362.79" y1="367.09" x2="364.10" y2="372.30" stroke="#e3221c" stroke-width="0.9"/>
<path d="M 367.90,369.48 L 370.43,365.21 L 365.36,365.21 Z" fill="#e3221c"/>
<line x1="367.90" y1="366.81" x2="371.60" y2="361.50" stroke="#e3221c" stroke-width="0.9"/>
<line x1="367.90" y1="366.81" x2="364.10" y2="372.30" stroke="#e3221c" stroke-width="0.9"/>
<circle cx="371.93" cy="369.29" r="0.90" fill="#e3221c" stroke="none" stroke-width="1"/>
<circle cx="373.58" cy="368.79" r="0.90" fill="#e3221c" stroke="none" stroke-width="1"/>
<path d="M 354.80,374.90 L 357.23,379.00 L 352.37,379.00 Z" fill="#e3221c"/>
<line x1="354.80" y1="377.46" x2="353.30" y2="372.30" stroke="#e3221c" stroke-width="0.9"/>
<line x1="354.80" y1="377.46" x2="357.00" y2="383.20" stroke="#e3221c" stroke-width="0.9"/>
<path d="M 361.13,380.09 L 363.63,375.88 L 358.63,375.88 Z" fill="#e3221c"/>
<line x1="361.13" y1="377.46" x2="364.10" y2="372.30" stroke="#e3221c" stroke-width="0.9"/>
<line x1="361.13" y1="377.46" x2="357.00" y2="383.20" stroke="#e3221c" stroke-width="0.9"/>
<path d="M 367.13,379.38 L 369.34,375.66 L 364.93,375.66 Z" fill="#e3221c"/>
<line x1="367.13" y1="377.06" x2="364.10" y2="372.30" stroke="#e3221c" stroke-width="0.9"/>
<line x1="367.13" y1="377.06" x2="368.60" y2="383.20" stroke="#e3221c" stroke-width="0.9"/>
<circle cx="372.54" cy="374.79" r="0.90" fill="#e3221c" stroke="none" stroke-width="1"/>
<circle cx="371.91" cy="377.08" r="0.90" fill="#e3221c" stroke="none" stroke-width="1"/>
<path d="M 353.40,391.48 L 355.60,387.77 L 351.20,387.77 Z" fill="#e3221c"/>
<line x1="353.40" y1="389.16" x2="357.00" y2="383.20" stroke="#e3221c" stroke-width="0.9"/>
<line x1="353.40" y1="389.16" x2="349.20" y2="393.90" stroke="#e3221c" stroke-width="0.9"/>
<path d="M 359.29,386.98 L 361.32,390.40 L 357.26,390.40 Z" fill="#e3221c"/>
<line x1="359.29" y1="389.11" x2="357.00" y2="383.20" stroke="#e3221c" stroke-width="0.9"/>
<line x1="359.29" y1="389.11" x2="361.00" y2="393.90" stroke="#e3221c" stroke-width="0.9"/>
<path d="M 365.29,385.41 L 367.52,389.16 L 363.06,389.16 Z" fill="#e3221c"/>
<line x1="365.29" y1="387.75" x2="368.60" y2="383.20" stroke="#e3221c" stroke-width="0.9"/>
<line x1="365.29" y1="387.75" x2="361.00" y2="393.90" stroke="#e3221c" stroke-width="0.9"/>
<path d="M 370.84,391.17 L 373.05,387.43 L 368.62,387.43 Z" fill="#e3221c"/>
<line x1="370.84" y1="388.83" x2="368.60" y2="383.20" stroke="#e3221c" stroke-width="0.9"/>
<line x1="370.84" y1="388.83" x2="371.90" y2="393.90" stroke="#e3221c" stroke-width="0.9"/>
<circle cx="372.77" cy="390.26" r="0.90" fill="#e3221c" stroke="none" stroke-width="1"/>
<circle cx="371.21" cy="387.83" r="0.90" fill="#e3221c" stroke="none" stroke-width="1"/>
<path d="M 351.66,396.48 L 354.04,400.48 L 349.29,400.48 Z" fill="#e3221c"/>
<line x1="351.66" y1="398.98" x2="349.20" y2="393.90" stroke="#e3221c" stroke-width="0.9"/>
<line x1="351.66" y1="398.98" x2="353.30" y2="404.50" stroke="#e3221c" stroke-width="0.9"/>
<path d="M 357.85,401.95 L 360.26,397.90 L 355.44,397.90 Z" fill="#e3221c"/>
<line x1="357.85" y1="399.42" x2="361.00" y2="393.90" stroke="#e3221c" stroke-width="0.9"/>
<line x1="357.85" y1="399.42" x2="353.30" y2="404.50" stroke="#e3221c" stroke-width="0.9"/>
<path d="M 363.30,402.43 L 365.81,398.19 L 360.79,398.19 Z" fill="#e3221c"/>
<line x1="363.30" y1="399.78" x2="361.00" y2="393.90" stroke="#e3221c" stroke-width="0.9"/>
<line x1="363.30" y1="399.78" x2="364.50" y2="404.50" stroke="#e3221c" stroke-width="0.9"/>
<path d="M 368.17,402.14 L 370.67,397.93 L 365.67,397.93 Z" fill="#e3221c"/>
<line x1="368.17" y1="399.51" x2="371.90" y2="393.90" stroke="#e3221c" stroke-width="0.9"/>
<line x1="368.17" y1="399.51" x2="364.50" y2="404.50" stroke="#e3221c" stroke-width="0.9"/>
<circle cx="371.84" cy="397.76" r="0.90" fill="#e3221c" stroke="none" stroke-width="1"/>
<circle cx="373.89" cy="398.53" r="0.90" fill="#e3221c" stroke="none" stroke-width="1"/>
<path d="M 355.76,406.58 L 358.30,410.86 L 353.22,410.86 Z" fill="#e3221c"/>
<line x1="355.76" y1="409.26" x2="353.30" y2="404.50" stroke="#e3221c" stroke-width="0.9"/>
<line x1="355.76" y1="409.26" x2="357.40" y2="414.60" stroke="#e3221c" stroke-width="0.9"/>
<path d="M 361.68,412.51 L 363.86,408.84 L 359.51,408.84 Z" fill="#e3221c"/>
<line x1="361.68" y1="410.21" x2="364.50" y2="404.50" stroke="#e3221c" stroke-width="0.9"/>
<line x1="361.68" y1="410.21" x2="357.40" y2="414.60" stroke="#e3221c" stroke-width="0.9"/>
<path d="M 367.35,406.49 L 369.76,410.55 L 364.94,410.55 Z" fill="#e3221c"/>
<line x1="367.35" y1="409.03" x2="364.50" y2="404.50" stroke="#e3221c" stroke-width="0.9"/>
<line x1="367.35" y1="409.03" x2="368.90" y2="414.60" stroke="#e3221c" stroke-width="0.9"/>
<circle cx="373.79" cy="412.10" r="0.90" fill="#e3221c" stroke="none" stroke-width="1"/>
<circle cx="351.11" cy="411.65" r="0.90" fill="#e3221c" stroke="none" stroke-width="1"/>
<path d="M 354.00,418.27 L 356.13,421.85 L 351.88,421.85 Z" fill="#e3221c"/>
<line x1="354.00" y1="420.50" x2="357.40" y2="414.60" stroke="#e3221c" stroke-width="0.9"/>
<line x1="354.00" y1="420.50" x2="350.20" y2="425.70" stroke="#e3221c" stroke-width="0.9"/>
<path d="M 359.23,417.84 L 361.55,421.75 L 356.91,421.75 Z" fill="#e3221c"/>
<line x1="359.23" y1="420.28" x2="357.40" y2="414.60" stroke="#e3221c" stroke-width="0.9"/>
<line x1="359.23" y1="420.28" x2="361.80" y2="425.70" stroke="#e3221c" stroke-width="0.9"/>
<path d="M 364.85,423.01 L 366.89,419.58 L 362.82,419.58 Z" fill="#e3221c"/>
<line x1="364.85" y1="420.87" x2="368.90" y2="414.60" stroke="#e3221c" stroke-width="0.9"/>
<line x1="364.85" y1="420.87" x2="361.80" y2="425.70" stroke="#e3221c" stroke-width="0.9"/>
<path d="M 371.04,422.97 L 373.60,418.65 L 368.47,418.65 Z" fill="#e3221c"/>
<line x1="371.04" y1="420.27" x2="368.90" y2="414.60" stroke="#e3221c" stroke-width="0.9"/>
<line x1="371.04" y1="420.27" x2="372.30" y2="425.70" stroke="#e3221c" stroke-width="0.9"/>
<circle cx="373.82" cy="417.29" r="0.90" fill="#e3221c" stroke="none" stroke-width="1"/>
<circle cx="373.56" cy="417.39" r="0.90" fill="#e3221c" stroke="none" stroke-width="1"/>
<path d="M 351.43,428.97 L 353.88,433.09 L 348.99,433.09 Z" fill="#e3221c"/>
<line x1="351.43" y1="431.55" x2="350.20" y2="425.70" stroke="#e3221c" stroke-width="0.9"/>
<line x1="351.43" y1="431.55" x2="354.20" y2="436.50" stroke="#e3221c" stroke-width="0.9"/>
<path d="M 357.38,433.47 L 359.83,429.34 L 354.93,429.34 Z" fill="#e3221c"/>
<line x1="357.38" y1="430.89" x2="361.80" y2="425.70" stroke="#e3221c" stroke-width="0.9"/>
<line x1="357.38" y1="430.89" x2="354.20" y2="436.50" stroke="#e3221c" stroke-width="0.9"/>
<path d="M 364.04,434.40 L 366.46,430.32 L 361.61,430.32 Z" fill="#e3221c"/>
<line x1="364.04" y1="431.85" x2="361.80" y2="425.70" stroke="#e3221c" stroke-width="0.9"/>
<line x1="364.04" y1="431.85" x2="365.10" y2="436.50" stroke="#e3221c" stroke-width="0.9"/>
<path d="M 367.93,432.93 L 370.41,428.74 L 365.44,428.74 Z" fill="#e3221c"/>
<line x1="367.93" y1="430.31" x2="372.30" y2="425.70" stroke="#e3221c" stroke-width="0.9"/>
<line x1="367.93" y1="430.31" x2="365.10" y2="436.50" stroke="#e3221c" stroke-width="0.9"/>
<circle cx="371.38" cy="428.69" r="0.90" fill="#e3221c" stroke="none" stroke-width="1"/>
<circle cx="373.25" cy="429.31" r="0.90" fill="#e3221c" stroke="none" stroke-width="1"/>
<path d="M 355.33,438.80 L 357.40,442.28 L 353.26,442.28 Z" fill="#e3221c"/>
<line x1="355.33" y1="440.97" x2="354.20" y2="436.50" stroke="#e3221c" stroke-width="0.9"/>
<line x1="355.33" y1="440.97" x2="357.80" y2="446.40" stroke="#e3221c" stroke-width="0.9"/>
<path d="M 361.31,443.44 L 363.76,439.31 L 358.86,439.31 Z" fill="#e3221c"/>
<line x1="361.31" y1="440.86" x2="365.10" y2="436.50" stroke="#e3221c" stroke-width="0.9"/>
<line x1="361.31" y1="440.86" x2="357.80" y2="446.40" stroke="#e3221c" stroke-width="0.9"/>
<path d="M 367.04,439.43 L 369.17,443.02 L 364.91,443.02 Z" fill="#e3221c"/>
<line x1="367.04" y1="441.67" x2="365.10" y2="436.50" stroke="#e3221c" stroke-width="0.9"/>
<line x1="367.04" y1="441.67" x2="369.10" y2="446.40" stroke="#e3221c" stroke-width="0.9"/>
<circle cx="372.01" cy="442.87" r="0.90" fill="#e3221c" stroke="none" stroke-width="1"/>
<circle cx="349.21" cy="441.42" r="0.90" fill="#e3221c" stroke="none" stroke-width="1"/>
<path d="M 354.36,449.09 L 356.90,453.37 L 351.82,453.37 Z" fill="#e3221c"/>
<line x1="354.36" y1="451.77" x2="357.80" y2="446.40" stroke="#e3221c" stroke-width="0.9"/>
<line x1="354.36" y1="451.77" x2="350.60" y2="456.90" stroke="#e3221c" stroke-width="0.9"/>
<path d="M 360.37,448.97 L 362.59,452.71 L 358.15,452.71 Z" fill="#e3221c"/>
<line x1="360.37" y1="451.31" x2="357.80" y2="446.40" stroke="#e3221c" stroke-width="0.9"/>
<line x1="360.37" y1="451.31" x2="362.10" y2="456.90" stroke="#e3221c" stroke-width="0.9"/>
<path d="M 364.93,454.38 L 367.03,450.84 L 362.83,450.84 Z" fill="#e3221c"/>
<line x1="364.93" y1="452.16" x2="369.10" y2="446.40" stroke="#e3221c" stroke-width="0.9"/>
<line x1="364.93" y1="452.16" x2="362.10" y2="456.90" stroke="#e3221c" stroke-width="0.9"/>
<path d="M 370.71,453.56 L 372.92,449.84 L 368.50,449.84 Z" fill="#e3221c"/>
<line x1="370.71" y1="451.23" x2="369.10" y2="446.40" stroke="#e3221c" stroke-width="0.9"/>
<line x1="370.71" y1="451.23" x2="372.70" y2="456.90" stroke="#e3221c" stroke-width="0.9"/>
<circle cx="350.52" cy="453.39" r="0.90" fill="#e3221c" stroke="none" stroke-width="1"/>
<circle cx="349.66" cy="453.72" r="0.90" fill="#e3221c" stroke="none" stroke-width="1"/>
<path d="M 352.60,465.22 L 355.09,461.02 L 350.10,461.02 Z" fill="#e3221c"/>
<line x1="352.60" y1="462.60" x2="350.60" y2="456.90" stroke="#e3221c" stroke-width="0.9"/>
<line x1="352.60" y1="462.60" x2="354.60" y2="467.40" stroke="#e3221c" stroke-width="0.9"/>
<path d="M 358.92,460.21 L 361.08,463.84 L 356.77,463.84 Z" fill="#e3221c"/>
<line x1="358.92" y1="462.48" x2="362.10" y2="456.90" stroke="#e3221c" stroke-width="0.9"/>
<line x1="358.92" y1="462.48" x2="354.60" y2="467.40" stroke="#e3221c" stroke-width="0.9"/>
<path d="M 363.50,464.50 L 365.83,460.57 L 361.17,460.57 Z" fill="#e3221c"/>
<line x1="363.50" y1="462.05" x2="362.10" y2="456.90" stroke="#e3221c" stroke-width="0.9"/>
<line x1="363.50" y1="462.05" x2="365.50" y2="467.40" stroke="#e3221c" stroke-width="0.9"/>
<path d="M 368.91,464.56 L 371.26,460.59 L 366.55,460.59 Z" fill="#e3221c"/>
<line x1="368.91" y1="462.08" x2="372.70" y2="456.90" stroke="#e3221c" stroke-width="0.9"/>
<line x1="368.91" y1="462.08" x2="365.50" y2="467.40" stroke="#e3221c" stroke-width="0.9"/>
<circle cx="372.32" cy="460.46" r="0.90" fill="#e3221c" stroke="none" stroke-width="1"/>
<circle cx="371.49" cy="461.13" r="0.90" fill="#e3221c" stroke="none" stroke-width="1"/>
<path d="M 357.11,471.06 L 359.18,474.54 L 355.04,474.54 Z" fill="#e3221c"/>
<line x1="357.11" y1="473.24" x2="354.60" y2="467.40" stroke="#e3221c" stroke-width="0.9"/>
<line x1="357.11" y1="473.24" x2="358.30" y2="478.00" stroke="#e3221c" stroke-width="0.9"/>
<path d="M 362.38,471.07 L 364.61,474.82 L 360.14,474.82 Z" fill="#e3221c"/>
<line x1="362.38" y1="473.41" x2="365.50" y2="467.40" stroke="#e3221c" stroke-width="0.9"/>
<line x1="362.38" y1="473.41" x2="358.30" y2="478.00" stroke="#e3221c" stroke-width="0.9"/>
<path d="M 368.22,470.12 L 370.66,474.25 L 365.77,474.25 Z" fill="#e3221c"/>
<line x1="368.22" y1="472.70" x2="365.50" y2="467.40" stroke="#e3221c" stroke-width="0.9"/>
<line x1="368.22" y1="472.70" x2="369.60" y2="478.00" stroke="#e3221c" stroke-width="0.9"/>
<circle cx="372.70" cy="472.00" r="0.90" fill="#e3221c" stroke="none" stroke-width="1"/>
<circle cx="373.37" cy="472.66" r="0.90" fill="#e3221c" stroke="none" stroke-width="1"/>
<path d="M 354.66,485.02 L 356.96,481.14 L 352.36,481.14 Z" fill="#e3221c"/>
<line x1="354.66" y1="482.60" x2="358.30" y2="478.00" stroke="#e3221c" stroke-width="0.9"/>
<line x1="354.66" y1="482.60" x2="351.00" y2="487.80" stroke="#e3221c" stroke-width="0.9"/>
<path d="M 360.00,480.18 L 362.52,484.42 L 357.49,484.42 Z" fill="#e3221c"/>
<line x1="360.00" y1="482.83" x2="358.30" y2="478.00" stroke="#e3221c" stroke-width="0.9"/>
<line x1="360.00" y1="482.83" x2="362.40" y2="487.80" stroke="#e3221c" stroke-width="0.9"/>
<path d="M 365.61,479.97 L 368.09,484.16 L 363.12,484.16 Z" fill="#e3221c"/>
<line x1="365.61" y1="482.59" x2="369.60" y2="478.00" stroke="#e3221c" stroke-width="0.9"/>
<line x1="365.61" y1="482.59" x2="362.40" y2="487.80" stroke="#e3221c" stroke-width="0.9"/>
<path d="M 371.92,486.21 L 374.42,482.01 L 369.43,482.01 Z" fill="#e3221c"/>
<line x1="371.92" y1="483.59" x2="369.60" y2="478.00" stroke="#e3221c" stroke-width="0.9"/>
<line x1="371.92" y1="483.59" x2="373.20" y2="487.80" stroke="#e3221c" stroke-width="0.9"/>
<circle cx="349.08" cy="481.41" r="0.90" fill="#e3221c" stroke="none" stroke-width="1"/>
<circle cx="372.50" cy="482.00" r="0.90" fill="#e3221c" stroke="none" stroke-width="1"/>
<path d="M 354.49,357.38 L 356.12,360.13 L 352.86,360.13 Z" fill="#e3221c"/>
<path d="M 366.66,361.99 L 368.48,365.05 L 364.85,365.05 Z" fill="#e3221c"/>
<path d="M 357.95,371.49 L 359.46,368.95 L 356.43,368.95 Z" fill="#e3221c"/>
<path d="M 362.33,384.07 L 363.78,386.52 L 360.87,386.52 Z" fill="#e3221c"/>
<path d="M 354.81,393.22 L 356.44,390.47 L 353.18,390.47 Z" fill="#e3221c"/>
<path d="M 366.22,397.98 L 367.81,395.29 L 364.63,395.29 Z" fill="#e3221c"/>
<path d="M 359.05,408.77 L 360.83,405.78 L 357.28,405.78 Z" fill="#e3221c"/>
<path d="M 362.76,415.46 L 364.23,417.92 L 361.30,417.92 Z" fill="#e3221c"/>
<path d="M 355.73,421.61 L 357.34,424.32 L 354.12,424.32 Z" fill="#e3221c"/>
<path d="M 366.74,425.03 L 368.39,422.26 L 365.10,422.26 Z" fill="#e3221c"/>
<path d="M 359.41,440.54 L 360.97,437.91 L 357.85,437.91 Z" fill="#e3221c"/>
<path d="M 362.65,442.20 L 364.36,445.08 L 360.95,445.08 Z" fill="#e3221c"/>
<path d="M 356.41,457.71 L 357.92,460.25 L 354.89,460.25 Z" fill="#e3221c"/>
<path d="M 367.39,452.79 L 369.01,455.52 L 365.77,455.52 Z" fill="#e3221c"/>
<path d="M 360.25,468.00 L 361.96,470.88 L 358.54,470.88 Z" fill="#e3221c"/>
<path d="M 364.57,478.52 L 366.36,481.53 L 362.78,481.53 Z" fill="#e3221c"/>
<path d="M 356.91,486.98 L 358.41,484.45 L 355.41,484.45 Z" fill="#e3221c"/>
<path d="M 367.44,491.94 L 369.10,489.16 L 365.79,489.16 Z" fill="#e3221c"/>
<line x1="350.00" y1="361.50" x2="350.00" y2="487.80" stroke="#666" stroke-width="0.55"/>
<line x1="372.50" y1="361.50" x2="372.50" y2="487.80" stroke="#666" stroke-width="0.55"/>
<circle cx="349.20" cy="361.50" r="2.30" fill="#3f7fb8" stroke="#1f4f7a" stroke-width="0.5"/>
<circle cx="348.60" cy="360.90" r="0.70" fill="#ffffff" stroke="none" stroke-width="1" fill-opacity="0.55"/>
<circle cx="361.00" cy="361.50" r="2.30" fill="#3f7fb8" stroke="#1f4f7a" stroke-width="0.5"/>
<circle cx="360.40" cy="360.90" r="0.70" fill="#ffffff" stroke="none" stroke-width="1" fill-opacity="0.55"/>
<circle cx="371.60" cy="361.50" r="2.30" fill="#3f7fb8" stroke="#1f4f7a" stroke-width="0.5"/>
<circle cx="371.00" cy="360.90" r="0.70" fill="#ffffff" stroke="none" stroke-width="1" fill-opacity="0.55"/>
<circle cx="353.30" cy="372.30" r="2.30" fill="#9c5fd6" stroke="#5b2f8f" stroke-width="0.5"/>
<circle cx="352.70" cy="371.70" r="0.70" fill="#ffffff" stroke="none" stroke-width="1" fill-opacity="0.55"/>
<circle cx="364.10" cy="372.30" r="2.30" fill="#9c5fd6" stroke="#5b2f8f" stroke-width="0.5"/>
<circle cx="363.50" cy="371.70" r="0.70" fill="#ffffff" stroke="none" stroke-width="1" fill-opacity="0.55"/>
<circle cx="357.00" cy="383.20" r="2.30" fill="#9c5fd6" stroke="#5b2f8f" stroke-width="0.5"/>
<circle cx="356.40" cy="382.60" r="0.70" fill="#ffffff" stroke="none" stroke-width="1" fill-opacity="0.55"/>
<circle cx="368.60" cy="383.20" r="2.30" fill="#9c5fd6" stroke="#5b2f8f" stroke-width="0.5"/>
<circle cx="368.00" cy="382.60" r="0.70" fill="#ffffff" stroke="none" stroke-width="1" fill-opacity="0.55"/>
<circle cx="349.20" cy="393.90" r="2.30" fill="#9c5fd6" stroke="#5b2f8f" stroke-width="0.5"/>
<circle cx="348.60" cy="393.30" r="0.70" fill="#ffffff" stroke="none" stroke-width="1" fill-opacity="0.55"/>
<circle cx="361.00" cy="393.90" r="2.30" fill="#9c5fd6" stroke="#5b2f8f" stroke-width="0.5"/>
<circle cx="360.40" cy="393.30" r="0.70" fill="#ffffff" stroke="none" stroke-width="1" fill-opacity="0.55"/>
<circle cx="371.90" cy="393.90" r="2.30" fill="#9c5fd6" stroke="#5b2f8f" stroke-width="0.5"/>
<circle cx="371.30" cy="393.30" r="0.70" fill="#ffffff" stroke="none" stroke-width="1" fill-opacity="0.55"/>
<circle cx="353.30" cy="404.50" r="2.30" fill="#9c5fd6" stroke="#5b2f8f" stroke-width="0.5"/>
<circle cx="352.70" cy="403.90" r="0.70" fill="#ffffff" stroke="none" stroke-width="1" fill-opacity="0.55"/>
<circle cx="364.50" cy="404.50" r="2.30" fill="#9c5fd6" stroke="#5b2f8f" stroke-width="0.5"/>
<circle cx="363.90" cy="403.90" r="0.70" fill="#ffffff" stroke="none" stroke-width="1" fill-opacity="0.55"/>
<circle cx="357.40" cy="414.60" r="2.30" fill="#9c5fd6" stroke="#5b2f8f" stroke-width="0.5"/>
<circle cx="356.80" cy="414.00" r="0.70" fill="#ffffff" stroke="none" stroke-width="1" fill-opacity="0.55"/>
<circle cx="368.90" cy="414.60" r="2.30" fill="#9c5fd6" stroke="#5b2f8f" stroke-width="0.5"/>
<circle cx="368.30" cy="414.00" r="0.70" fill="#ffffff" stroke="none" stroke-width="1" fill-opacity="0.55"/>
<circle cx="350.20" cy="425.70" r="2.30" fill="#9c5fd6" stroke="#5b2f8f" stroke-width="0.5"/>
<circle cx="349.60" cy="425.10" r="0.70" fill="#ffffff" stroke="none" stroke-width="1" fill-opacity="0.55"/>
<circle cx="361.80" cy="425.70" r="2.30" fill="#9c5fd6" stroke="#5b2f8f" stroke-width="0.5"/>
<circle cx="361.20" cy="425.10" r="0.70" fill="#ffffff" stroke="none" stroke-width="1" fill-opacity="0.55"/>
<circle cx="372.30" cy="425.70" r="2.30" fill="#9c5fd6" stroke="#5b2f8f" stroke-width="0.5"/>
<circle cx="371.70" cy="425.10" r="0.70" fill="#ffffff" stroke="none" stroke-width="1" fill-opacity="0.55"/>
<circle cx="354.20" cy="436.50" r="2.30" fill="#3f7fb8" stroke="#1f4f7a" stroke-width="0.5"/>
<circle cx="353.60" cy="435.90" r="0.70" fill="#ffffff" stroke="none" stroke-width="1" fill-opacity="0.55"/>
<circle cx="365.10" cy="436.50" r="2.30" fill="#3f7fb8" stroke="#1f4f7a" stroke-width="0.5"/>
<circle cx="364.50" cy="435.90" r="0.70" fill="#ffffff" stroke="none" stroke-width="1" fill-opacity="0.55"/>
<circle cx="357.80" cy="446.40" r="2.30" fill="#3f7fb8" stroke="#1f4f7a" stroke-width="0.5"/>
<circle cx="357.20" cy="445.80" r="0.70" fill="#ffffff" stroke="none" stroke-width="1" fill-opacity="0.55"/>
<circle cx="369.10" cy="446.40" r="2.30" fill="#3f7fb8" stroke="#1f4f7a" stroke-width="0.5"/>
<circle cx="368.50" cy="445.80" r="0.70" fill="#ffffff" stroke="none" stroke-width="1" fill-opacity="0.55"/>
<circle cx="350.60" cy="456.90" r="2.30" fill="#3f7fb8" stroke="#1f4f7a" stroke-width="0.5"/>
<circle cx="350.00" cy="456.30" r="0.70" fill="#ffffff" stroke="none" stroke-width="1" fill-opacity="0.55"/>
<circle cx="362.10" cy="456.90" r="2.30" fill="#3f7fb8" stroke="#1f4f7a" stroke-width="0.5"/>
<circle cx="361.50" cy="456.30" r="0.70" fill="#ffffff" stroke="none" stroke-width="1" fill-opacity="0.55"/>
<circle cx="372.70" cy="456.90" r="2.30" fill="#3f7fb8" stroke="#1f4f7a" stroke-width="0.5"/>
<circle cx="372.10" cy="456.30" r="0.70" fill="#ffffff" stroke="none" stroke-width="1" fill-opacity="0.55"/>
<circle cx="354.60" cy="467.40" r="2.30" fill="#3f7fb8" stroke="#1f4f7a" stroke-width="0.5"/>
<circle cx="354.00" cy="466.80" r="0.70" fill="#ffffff" stroke="none" stroke-width="1" fill-opacity="0.55"/>
<circle cx="365.50" cy="467.40" r="2.30" fill="#3f7fb8" stroke="#1f4f7a" stroke-width="0.5"/>
<circle cx="364.90" cy="466.80" r="0.70" fill="#ffffff" stroke="none" stroke-width="1" fill-opacity="0.55"/>
<circle cx="358.30" cy="478.00" r="2.30" fill="#3f7fb8" stroke="#1f4f7a" stroke-width="0.5"/>
<circle cx="357.70" cy="477.40" r="0.70" fill="#ffffff" stroke="none" stroke-width="1" fill-opacity="0.55"/>
<circle cx="369.60" cy="478.00" r="2.30" fill="#3f7fb8" stroke="#1f4f7a" stroke-width="0.5"/>
<circle cx="369.00" cy="477.40" r="0.70" fill="#ffffff" stroke="none" stroke-width="1" fill-opacity="0.55"/>
<circle cx="351.00" cy="487.80" r="2.30" fill="#3f7fb8" stroke="#1f4f7a" stroke-width="0.5"/>
<circle cx="350.40" cy="487.20" r="0.70" fill="#ffffff" stroke="none" stroke-width="1" fill-opacity="0.55"/>
<circle cx="362.40" cy="487.80" r="2.30" fill="#3f7fb8" stroke="#1f4f7a" stroke-width="0.5"/>
<circle cx="361.80" cy="487.20" r="0.70" fill="#ffffff" stroke="none" stroke-width="1" fill-opacity="0.55"/>
<circle cx="373.20" cy="487.80" r="2.30" fill="#3f7fb8" stroke="#1f4f7a" stroke-width="0.5"/>
<circle cx="372.60" cy="487.20" r="0.70" fill="#ffffff" stroke="none" stroke-width="1" fill-opacity="0.55"/>
<defs>
<linearGradient id="gm1" gradientUnits="userSpaceOnUse" x1="279.5" y1="398.4" x2="302.7" y2="382.2"><stop offset="0" stop-color="#f2d3ee"/><stop offset="1" stop-color="#b04fae"/></linearGradient>
<linearGradient id="gm2" gradientUnits="userSpaceOnUse" x1="345.6" y1="401.3" x2="322" y2="418.1"><stop offset="0" stop-color="#f2d3ee"/><stop offset="1" stop-color="#b04fae"/></linearGradient>
<linearGradient id="gb1" gradientUnits="userSpaceOnUse" x1="280.5" y1="476.8" x2="301.5" y2="497.5"><stop offset="0" stop-color="#d6e6f6"/><stop offset="1" stop-color="#2a5fa5"/></linearGradient>
<linearGradient id="gb2" gradientUnits="userSpaceOnUse" x1="343.2" y1="477.1" x2="321.7" y2="497.5"><stop offset="0" stop-color="#d6e6f6"/><stop offset="1" stop-color="#2a5fa5"/></linearGradient>
</defs>
<path d="M 280.24,399.47 L 298.11,386.99 L 299.15,388.46 L 302.70,382.20 L 295.60,383.38 L 296.63,384.86 L 278.76,397.33 Z" fill="url(#gm1)" stroke="none" stroke-width="1"/>
<path d="M 344.85,400.24 L 326.54,413.27 L 325.50,411.80 L 322.00,418.10 L 329.09,416.86 L 328.05,415.39 L 346.35,402.36 Z" fill="url(#gm2)" stroke="none" stroke-width="1"/>
<path d="M 279.52,477.80 L 295.89,493.93 L 294.62,495.22 L 301.50,497.50 L 299.12,490.66 L 297.85,491.94 L 281.48,475.80 Z" fill="url(#gb1)" stroke="none" stroke-width="1"/>
<path d="M 342.24,476.08 L 325.45,492.01 L 324.21,490.70 L 321.70,497.50 L 328.62,495.35 L 327.38,494.04 L 344.16,478.12 Z" fill="url(#gb2)" stroke="none" stroke-width="1"/>
<text x="279.90" y="381.86" font-size="10.5" text-anchor="start" fill="#b24fb0"><tspan font-style="italic">m</tspan>-phase ZrO<tspan font-size="7.5" dy="2.5">2</tspan></text>
<text x="282.40" y="430.56" font-size="10.5" text-anchor="start" fill="#b24fb0"><tspan font-style="italic">o</tspan>-phase ZrO<tspan font-size="7.5" dy="2.5">2</tspan></text>
<text x="279.60" y="510.26" font-size="10.5" text-anchor="start" fill="#5b9bd5"><tspan font-style="italic">o</tspan>-phase HfO<tspan font-size="7.5" dy="2.5">2</tspan></text>
<line x1="415.60" y1="362.20" x2="660.80" y2="362.20" stroke="#aaaaaa" stroke-width="1.2"/>
<line x1="415.60" y1="484.00" x2="660.80" y2="484.00" stroke="#aaaaaa" stroke-width="1.2"/>
<line x1="415.60" y1="362.20" x2="415.60" y2="484.00" stroke="#9ec3e6" stroke-width="0.9"/>
<line x1="660.80" y1="362.20" x2="660.80" y2="484.00" stroke="#f2b4a8" stroke-width="0.9"/>
<line x1="415.60" y1="484.00" x2="417.80" y2="484.00" stroke="#9ec3e6" stroke-width="0.9"/>
<text x="412.00" y="487.08" font-size="8.6" text-anchor="end" fill="#5b9bd5">0</text>
<line x1="415.60" y1="453.55" x2="417.80" y2="453.55" stroke="#9ec3e6" stroke-width="0.9"/>
<text x="412.00" y="456.63" font-size="8.6" text-anchor="end" fill="#5b9bd5">20</text>
<line x1="415.60" y1="423.10" x2="417.80" y2="423.10" stroke="#9ec3e6" stroke-width="0.9"/>
<text x="412.00" y="426.18" font-size="8.6" text-anchor="end" fill="#5b9bd5">40</text>
<line x1="415.60" y1="392.65" x2="417.80" y2="392.65" stroke="#9ec3e6" stroke-width="0.9"/>
<text x="412.00" y="395.73" font-size="8.6" text-anchor="end" fill="#5b9bd5">60</text>
<line x1="415.60" y1="362.20" x2="417.80" y2="362.20" stroke="#9ec3e6" stroke-width="0.9"/>
<text x="412.00" y="365.28" font-size="8.6" text-anchor="end" fill="#5b9bd5">80</text>
<line x1="415.60" y1="468.77" x2="416.90" y2="468.77" stroke="#9ec3e6" stroke-width="0.9"/>
<line x1="415.60" y1="438.32" x2="416.90" y2="438.32" stroke="#9ec3e6" stroke-width="0.9"/>
<line x1="415.60" y1="407.88" x2="416.90" y2="407.88" stroke="#9ec3e6" stroke-width="0.9"/>
<line x1="415.60" y1="377.43" x2="416.90" y2="377.43" stroke="#9ec3e6" stroke-width="0.9"/>
<line x1="660.80" y1="484.00" x2="658.60" y2="484.00" stroke="#f2b4a8" stroke-width="0.9"/>
<text x="664.50" y="487.08" font-size="8.6" text-anchor="start" fill="#e8806e">0</text>
<line x1="660.80" y1="453.55" x2="658.60" y2="453.55" stroke="#f2b4a8" stroke-width="0.9"/>
<text x="664.50" y="456.63" font-size="8.6" text-anchor="start" fill="#e8806e">2</text>
<line x1="660.80" y1="423.10" x2="658.60" y2="423.10" stroke="#f2b4a8" stroke-width="0.9"/>
<text x="664.50" y="426.18" font-size="8.6" text-anchor="start" fill="#e8806e">4</text>
<line x1="660.80" y1="392.65" x2="658.60" y2="392.65" stroke="#f2b4a8" stroke-width="0.9"/>
<text x="664.50" y="395.73" font-size="8.6" text-anchor="start" fill="#e8806e">6</text>
<line x1="660.80" y1="362.20" x2="658.60" y2="362.20" stroke="#f2b4a8" stroke-width="0.9"/>
<text x="664.50" y="365.28" font-size="8.6" text-anchor="start" fill="#e8806e">8</text>
<line x1="660.80" y1="468.77" x2="659.50" y2="468.77" stroke="#f2b4a8" stroke-width="0.9"/>
<line x1="660.80" y1="438.32" x2="659.50" y2="438.32" stroke="#f2b4a8" stroke-width="0.9"/>
<line x1="660.80" y1="407.88" x2="659.50" y2="407.88" stroke="#f2b4a8" stroke-width="0.9"/>
<line x1="660.80" y1="377.43" x2="659.50" y2="377.43" stroke="#f2b4a8" stroke-width="0.9"/>
<defs>
<linearGradient id="gbar" x1="0" y1="0" x2="0" y2="1"><stop offset="0" stop-color="#1f64ad"/><stop offset="1" stop-color="#a9cbe6"/></linearGradient>
<linearGradient id="rbar" x1="0" y1="0" x2="0" y2="1"><stop offset="0" stop-color="#d65a44"/><stop offset="1" stop-color="#f2b9ae"/></linearGradient>
</defs>
<rect x="456.40" y="385.65" width="23.40" height="98.35" fill="url(#gbar)" stroke="none" stroke-width="1"/>
<rect x="495.50" y="482.33" width="23.50" height="1.67" fill="#5e8fc8" stroke="none" stroke-width="1"/>
<rect x="534.70" y="376.82" width="23.30" height="107.18" fill="url(#gbar)" stroke="none" stroke-width="1"/>
<rect x="585.70" y="393.41" width="23.00" height="90.59" fill="url(#rbar)" stroke="none" stroke-width="1"/>
<rect x="624.50" y="377.27" width="23.20" height="106.73" fill="url(#rbar)" stroke="none" stroke-width="1"/>
<line x1="415.60" y1="484.00" x2="660.80" y2="484.00" stroke="#aaaaaa" stroke-width="1.2"/>
<text x="434.00" y="481.28" font-size="10.0" text-anchor="middle" fill="#3e83c4" font-weight="bold">0</text>
<text x="468.10" y="382.58" font-size="10.0" text-anchor="middle" fill="#3e83c4" font-weight="bold">64.6</text>
<text x="507.20" y="478.28" font-size="10.0" text-anchor="middle" fill="#3e83c4" font-weight="bold">1.1</text>
<text x="546.30" y="374.48" font-size="10.0" text-anchor="middle" fill="#3e83c4" font-weight="bold">70.4</text>
<text x="597.20" y="390.48" font-size="10.0" text-anchor="middle" fill="#e26a55" font-weight="bold">d = 5.95</text>
<text x="636.10" y="373.88" font-size="10.0" text-anchor="middle" fill="#e26a55" font-weight="bold">d = 7.01</text>
<text x="398.10" y="424.40" font-size="9.6" text-anchor="middle" fill="#1a1a1a" transform="rotate(-90 398.10 424.40)">Interface formation energy (meV/Å<tspan font-size="6" dy="-3.5">2</tspan><tspan dy="3.5"> )</tspan></text>
<text x="684.50" y="424.40" font-size="9.2" text-anchor="middle" fill="#1a1a1a" transform="rotate(-90 684.50 424.40)">Critical thickness (nm)</text>
<path d="M 417.1,496.1 L 421.3,491.1 L 448.90000000000003,491.1 L 444.70000000000005,496.1 Z" fill="#90a2d0" stroke="none" stroke-width="1"/>
<path d="M 444.70000000000005,496.1 L 448.90000000000003,491.1 L 448.90000000000003,498.5 L 444.70000000000005,503.5 Z" fill="#6074a6" stroke="none" stroke-width="1"/>
<path d="M 444.70000000000005,503.5 L 448.90000000000003,498.5 L 448.90000000000003,517 L 444.70000000000005,517 Z" fill="#5e77ad" stroke="none" stroke-width="1"/>
<rect x="417.10" y="496.10" width="27.60" height="7.40" fill="#7189c4" stroke="none" stroke-width="1"/>
<rect x="417.10" y="503.50" width="27.60" height="13.50" fill="#6f8ccc" stroke="none" stroke-width="1"/>
<rect x="417.10" y="501.30" width="27.60" height="3.60" fill="#4d69ad" stroke="none" stroke-width="1" fill-opacity="0.75"/>
<text x="430.90" y="504.18" font-size="8.6" text-anchor="middle" fill="#fff" font-weight="bold">HZO-<tspan font-style="italic">o</tspan></text>
<text x="430.90" y="513.88" font-size="8.6" text-anchor="middle" fill="#fff" font-weight="bold">HZO-<tspan font-style="italic">o</tspan></text>
<path d="M 452.7,496.1 L 456.9,491.1 L 484.5,491.1 L 480.3,496.1 Z" fill="#ed9b97" stroke="none" stroke-width="1"/>
<path d="M 480.3,496.1 L 484.5,491.1 L 484.5,498.5 L 480.3,503.5 Z" fill="#c56c67" stroke="none" stroke-width="1"/>
<path d="M 480.3,503.5 L 484.5,498.5 L 484.5,517 L 480.3,517 Z" fill="#5e77ad" stroke="none" stroke-width="1"/>
<rect x="452.70" y="496.10" width="27.60" height="7.40" fill="#e8807a" stroke="none" stroke-width="1"/>
<rect x="452.70" y="503.50" width="27.60" height="13.50" fill="#6f8ccc" stroke="none" stroke-width="1"/>
<rect x="452.70" y="501.30" width="27.60" height="3.60" fill="#86699e" stroke="none" stroke-width="1" fill-opacity="0.75"/>
<text x="466.50" y="504.18" font-size="8.6" text-anchor="middle" fill="#fff" font-weight="bold">HZO-<tspan font-style="italic">m</tspan></text>
<text x="466.50" y="513.88" font-size="8.6" text-anchor="middle" fill="#fff" font-weight="bold">HZO-<tspan font-style="italic">o</tspan></text>
<path d="M 489.9,496.1 L 494.09999999999997,491.1 L 521.7,491.1 L 517.5,496.1 Z" fill="#b292da" stroke="none" stroke-width="1"/>
<path d="M 517.5,496.1 L 521.7,491.1 L 521.7,498.5 L 517.5,503.5 Z" fill="#8562b0" stroke="none" stroke-width="1"/>
<path d="M 517.5,503.5 L 521.7,498.5 L 521.7,517 L 517.5,517 Z" fill="#6b8ac0" stroke="none" stroke-width="1"/>
<rect x="489.90" y="496.10" width="27.60" height="7.40" fill="#9d74d0" stroke="none" stroke-width="1"/>
<rect x="489.90" y="503.50" width="27.60" height="13.50" fill="#7ea3e2" stroke="none" stroke-width="1"/>
<rect x="489.90" y="501.30" width="27.60" height="3.60" fill="#6f6fc8" stroke="none" stroke-width="1" fill-opacity="0.75"/>
<text x="503.70" y="504.18" font-size="8.6" text-anchor="middle" fill="#fff" font-weight="bold">Zr-<tspan font-style="italic">o</tspan></text>
<text x="503.70" y="513.88" font-size="8.6" text-anchor="middle" fill="#fff" font-weight="bold">Hf-<tspan font-style="italic">o</tspan></text>
<path d="M 527.6,496.1 L 531.8000000000001,491.1 L 559.4000000000001,491.1 L 555.2,496.1 Z" fill="#d7a2d4" stroke="none" stroke-width="1"/>
<path d="M 555.2,496.1 L 559.4000000000001,491.1 L 559.4000000000001,498.5 L 555.2,503.5 Z" fill="#ad73aa" stroke="none" stroke-width="1"/>
<path d="M 555.2,503.5 L 559.4000000000001,498.5 L 559.4000000000001,517 L 555.2,517 Z" fill="#6b8ac0" stroke="none" stroke-width="1"/>
<rect x="527.60" y="496.10" width="27.60" height="7.40" fill="#cc88c9" stroke="none" stroke-width="1"/>
<rect x="527.60" y="503.50" width="27.60" height="13.50" fill="#7ea3e2" stroke="none" stroke-width="1"/>
<rect x="527.60" y="501.30" width="27.60" height="3.60" fill="#8a80cc" stroke="none" stroke-width="1" fill-opacity="0.75"/>
<text x="541.40" y="504.18" font-size="8.6" text-anchor="middle" fill="#fff" font-weight="bold">Zr-<tspan font-style="italic">m</tspan></text>
<text x="541.40" y="513.88" font-size="8.6" text-anchor="middle" fill="#fff" font-weight="bold">Hf-<tspan font-style="italic">o</tspan></text>
<path d="M 578.2,496.1 L 582.4000000000001,491.1 L 610.0000000000001,491.1 L 605.8000000000001,496.1 Z" fill="#90a2d0" stroke="none" stroke-width="1"/>
<path d="M 605.8000000000001,496.1 L 610.0000000000001,491.1 L 610.0000000000001,498.5 L 605.8000000000001,503.5 Z" fill="#6074a6" stroke="none" stroke-width="1"/>
<path d="M 605.8000000000001,503.5 L 610.0000000000001,498.5 L 610.0000000000001,517 L 605.8000000000001,517 Z" fill="#5e77ad" stroke="none" stroke-width="1"/>
<rect x="578.20" y="496.10" width="27.60" height="7.40" fill="#7189c4" stroke="none" stroke-width="1"/>
<rect x="578.20" y="503.50" width="27.60" height="13.50" fill="#6f8ccc" stroke="none" stroke-width="1"/>
<rect x="578.20" y="501.30" width="27.60" height="3.60" fill="#4d69ad" stroke="none" stroke-width="1" fill-opacity="0.75"/>
<text x="592.00" y="504.18" font-size="8.6" text-anchor="middle" fill="#fff" font-weight="bold">HZO-<tspan font-style="italic">o</tspan></text>
<text x="592.00" y="513.88" font-size="8.6" text-anchor="middle" fill="#fff" font-weight="bold">HZO-<tspan font-style="italic">o</tspan></text>
<path d="M 617.9,493.4 L 622.1,488.4 L 649.7,488.4 L 645.5,493.4 Z" fill="#b697db" stroke="none" stroke-width="1"/>
<path d="M 645.5,493.4 L 649.7,488.4 L 649.7,500.3 L 645.5,505.3 Z" fill="#8967b2" stroke="none" stroke-width="1"/>
<path d="M 645.5,505.3 L 649.7,500.3 L 649.7,517 L 645.5,517 Z" fill="#6b8ac0" stroke="none" stroke-width="1"/>
<rect x="617.90" y="493.40" width="27.60" height="11.90" fill="#a27ad2" stroke="none" stroke-width="1"/>
<rect x="617.90" y="505.30" width="27.60" height="11.70" fill="#7ea3e2" stroke="none" stroke-width="1"/>
<rect x="617.90" y="503.10" width="27.60" height="3.60" fill="#7a72cc" stroke="none" stroke-width="1" fill-opacity="0.75"/>
<text x="631.70" y="502.58" font-size="8.6" text-anchor="middle" fill="#fff" font-weight="bold">Zr-<tspan font-style="italic">o</tspan></text>
<text x="631.70" y="514.08" font-size="8.6" text-anchor="middle" fill="#fff" font-weight="bold">Hf-<tspan font-style="italic">o</tspan></text>
<path d="M 651.8,488.7 L 655.3,488.7 L 655.3,501.3 L 651.8,501.3 M 655.3,495.0 L 658.2,495.0" fill="none" stroke="#e26a55" stroke-width="1.3"/>
<text x="666.00" y="499.48" font-size="12.5" text-anchor="middle" fill="#e26a55" font-weight="bold">d</text>
</svg></body></html>
